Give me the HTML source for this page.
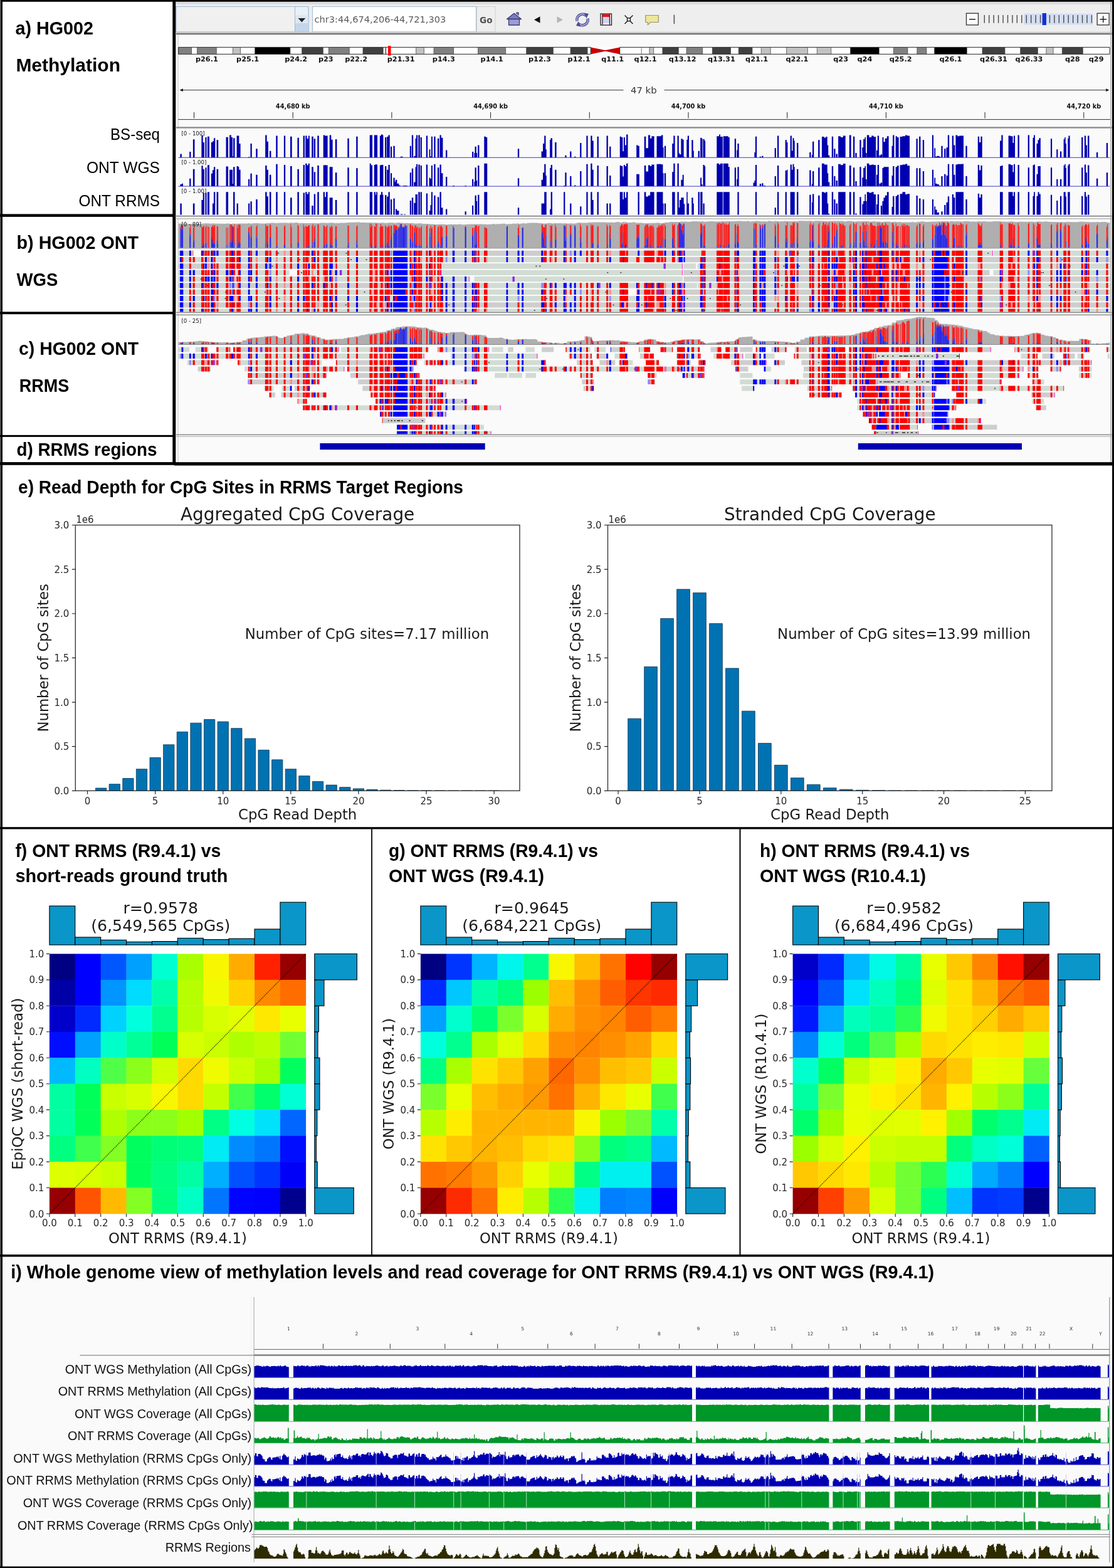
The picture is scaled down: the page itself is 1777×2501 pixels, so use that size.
<!DOCTYPE html>
<html lang="en">
<head>
<meta charset="utf-8">
<title>HG002 methylation: ONT RRMS vs WGS</title>
<style>
html,body{margin:0;padding:0;background:#fff}
body{width:1777px;height:2501px;overflow:hidden}
#fig{display:block;width:1777px;height:2501px;font-family:"Liberation Sans",sans-serif}
#fig text{white-space:pre}
</style>
</head>
<body>
<svg id="fig" role="img" aria-label="Figure: HG002 methylation, ONT RRMS versus WGS" width="1777" height="2501" viewBox="0 0 1777 2501">
<rect x="0" y="0" width="1777" height="2501" fill="#fff"/>
<g id="panel-igv"><rect x="281" y="3" width="1493" height="736" fill="#fafafa"/><g id="igv-toolbar"><rect x="281" y="3" width="1493" height="50" fill="#eeeeee"/><rect x="281" y="3" width="1493" height="4" fill="#dcdcdc"/><rect x="281" y="10.5" width="211" height="40" fill="#f0f0f0" stroke="#9db9d6" stroke-width="1"/><rect x="470.5" y="10.5" width="21.5" height="40" fill="#e9f0f8" stroke="#9db9d6" stroke-width="1"/><rect x="471" y="24" width="20.5" height="13" fill="#dbe7f3"/><rect x="471" y="37" width="20.5" height="13" fill="#c3d6ea"/><path d="M475.6 29h11.6l-5.8 6.4z" fill="#222"/><rect x="498.5" y="10.5" width="261" height="40" fill="#ffffff" stroke="#a9c1da" stroke-width="1.2"/><text x="501.5" y="36.4" font-size="14.6" font-family='"DejaVu Sans", "Liberation Sans", sans-serif' fill="#5a5a5a">chr3:44,674,206-44,721,303</text><rect x="760.5" y="10.5" width="29.5" height="40" fill="#eeeeee" stroke="#d0d0d0" stroke-width="1"/><text x="765" y="37" font-size="13.6" font-family='"DejaVu Sans", "Liberation Sans", sans-serif' font-weight="bold" fill="#505050">Go</text><g stroke="#3a3a78" stroke-width="1.3" stroke-linejoin="round"><path d="M808.5 30.5l11.5-9.3 11.5 9.3z" fill="#7c7cc0"/><path d="M811.5 30.5h17v9.5h-17z" fill="#9c9cd6"/><path d="M824 22.2v-2h3v4.5" fill="#7c7cc0"/></g><path d="M861.5 26.2v10.6l-9.5-5.3z" fill="#111"/><path d="M888.5 26.2v10.6l9.5-5.3z" fill="#b4b4b4"/><g fill="none" stroke="#4a4a8e" stroke-width="4.6" stroke-linecap="butt"><path d="M920.5 33.5a8.8 8.8 0 0 1 14.5-8.5"/><path d="M937.5 29.5a8.8 8.8 0 0 1-14.5 8.5"/></g><g fill="none" stroke="#9a9ad8" stroke-width="2.4"><path d="M920.5 33.5a8.8 8.8 0 0 1 14.5-8.5"/><path d="M937.5 29.5a8.8 8.8 0 0 1-14.5 8.5"/></g><path d="M931.5 20.5l7.5 1.5-3.5 7z" fill="#4a4a8e"/><path d="M926.5 42.5l-7.5-1.5 3.5-7z" fill="#4a4a8e"/><rect x="958" y="22" width="17.5" height="18" fill="#f4f0f8" stroke="#222" stroke-width="1.3"/><rect x="961" y="22.6" width="11.5" height="4.6" fill="#ee1111"/><rect x="961" y="27.4" width="11.5" height="9.4" fill="#d8d0f0"/><path d="M961 22.5v17M972.5 22.5v17" stroke="#222" stroke-width="1.3"/><g stroke="#222" stroke-width="1.5" fill="none"><path d="M996.5 24.5l4.3 4.3M1009.5 24.5l-4.3 4.3M996.5 38l4.3-4.3M1009.5 38l-4.3-4.3"/><rect x="1000.6" y="28.8" width="4.8" height="4.8" fill="#fff"/></g><path d="M1029.8 24.5h20.5v11h-12.5l-4.5 4v-4h-3.5z" fill="#ece79a" stroke="#9a9468" stroke-width="1.2" stroke-linejoin="round"/><rect x="1074.6" y="23.5" width="1.6" height="14.5" fill="#555"/><rect x="1541.5" y="21.2" width="19" height="18.6" fill="#fdfdfd" stroke="#333" stroke-width="1.3"/><rect x="1546" y="30" width="10" height="1.5" fill="#222"/><rect x="1633" y="21.7" width="110" height="17.7" fill="#d3def2"/><path d="M1570.3 24v12.8M1577.74 24v12.8M1585.18 24v12.8M1592.62 24v12.8M1600.06 24v12.8M1607.5 24v12.8M1614.94 24v12.8M1622.38 24v12.8M1629.82 24v12.8M1637.26 24v12.8M1644.7 24v12.8M1652.14 24v12.8M1659.58 24v12.8M1667.02 24v12.8M1674.46 24v12.8M1681.9 24v12.8M1689.34 24v12.8M1696.78 24v12.8M1704.22 24v12.8M1711.66 24v12.8M1719.1 24v12.8M1726.54 24v12.8M1733.98 24v12.8M1741.42 24v12.8" stroke="#4a4a4a" stroke-width="1.4" fill="none"/><rect x="1662.6" y="21" width="6.4" height="19" fill="#1030e0"/><rect x="1750.2" y="21.2" width="19" height="18.6" fill="#fdfdfd" stroke="#333" stroke-width="1.3"/><path d="M1754.5 30.7h10.5M1759.7 25.5v10.5" stroke="#222" stroke-width="1.5" fill="none"/><rect x="281" y="50.5" width="1493" height="2.2" fill="#d4d4d4"/><rect x="281" y="52.7" width="1493" height="2.6" fill="#777777"/></g><rect x="283.6" y="56" width="1" height="148" fill="#c8c8c8"/><g id="igv-ideogram"><rect x="284.6" y="75.4" width="1485.4" height="11" fill="#ffffff"/><rect x="284.6" y="75.4" width="20.97" height="11" fill="#818181"/><rect x="314.56" y="75.4" width="30.71" height="11" fill="#818181"/><rect x="371.49" y="75.4" width="11.99" height="11" fill="#c2c2c2"/><rect x="406.7" y="75.4" width="56.18" height="11" fill="#000000"/><rect x="481.6" y="75.4" width="33.71" height="11" fill="#404040"/><rect x="524.3" y="75.4" width="32.96" height="11" fill="#818181"/><rect x="578.98" y="75.4" width="32.21" height="11" fill="#404040"/><rect x="614.94" y="75.4" width="0.75" height="11" fill="#818181"/><rect x="663.63" y="75.4" width="12.73" height="11" fill="#c2c2c2"/><rect x="692.09" y="75.4" width="31.46" height="11" fill="#818181"/><rect x="762.5" y="75.4" width="44.19" height="11" fill="#818181"/><rect x="839.66" y="75.4" width="42.7" height="11" fill="#404040"/><rect x="910.07" y="75.4" width="26.97" height="11" fill="#404040"/><path d="M942.28 75.4L966 80.2V81.6L942.28 86.4z" fill="#c80000"/><path d="M988.72 75.4L965 80.2V81.6L988.72 86.4z" fill="#c80000"/><rect x="1035.91" y="75.4" width="6.74" height="11" fill="#c2c2c2"/><rect x="1056.89" y="75.4" width="25.47" height="11" fill="#404040"/><rect x="1095.09" y="75.4" width="25.47" height="11" fill="#818181"/><rect x="1136.29" y="75.4" width="29.21" height="11" fill="#404040"/><rect x="1178.24" y="75.4" width="21.72" height="11" fill="#404040"/><rect x="1214.19" y="75.4" width="14.98" height="11" fill="#c2c2c2"/><rect x="1254.64" y="75.4" width="33.71" height="11" fill="#c2c2c2"/><rect x="1303.33" y="75.4" width="22.47" height="11" fill="#c2c2c2"/><rect x="1356.51" y="75.4" width="45.69" height="11" fill="#000000"/><rect x="1425.43" y="75.4" width="22.47" height="11" fill="#818181"/><rect x="1462.88" y="75.4" width="14.98" height="11" fill="#818181"/><rect x="1490.6" y="75.4" width="51.69" height="11" fill="#000000"/><rect x="1567" y="75.4" width="35.96" height="11" fill="#404040"/><rect x="1627.68" y="75.4" width="27.72" height="11" fill="#404040"/><rect x="1668.88" y="75.4" width="11.24" height="11" fill="#c2c2c2"/><rect x="1694.34" y="75.4" width="32.96" height="11" fill="#404040"/><path d="M284.6 75.4H942.28V86.4H284.6z M988.72 75.4H1770V86.4H988.72z" fill="none" stroke="#2a2a2a" stroke-width="1"/><path d="M305.57 75.4v11M314.56 75.4v11M345.27 75.4v11M371.49 75.4v11M383.48 75.4v11M406.7 75.4v11M462.88 75.4v11M481.6 75.4v11M515.31 75.4v11M524.3 75.4v11M557.26 75.4v11M578.98 75.4v11M611.19 75.4v11M614.94 75.4v11M615.69 75.4v11M663.63 75.4v11M676.36 75.4v11M692.09 75.4v11M723.55 75.4v11M762.5 75.4v11M806.7 75.4v11M839.66 75.4v11M882.36 75.4v11M910.07 75.4v11M937.04 75.4v11M1023.18 75.4v11M1035.91 75.4v11M1042.66 75.4v11M1056.89 75.4v11M1082.36 75.4v11M1095.09 75.4v11M1120.56 75.4v11M1136.29 75.4v11M1165.5 75.4v11M1178.24 75.4v11M1199.96 75.4v11M1214.19 75.4v11M1229.17 75.4v11M1254.64 75.4v11M1288.35 75.4v11M1303.33 75.4v11M1325.8 75.4v11M1356.51 75.4v11M1402.21 75.4v11M1425.43 75.4v11M1447.9 75.4v11M1462.88 75.4v11M1477.86 75.4v11M1490.6 75.4v11M1542.28 75.4v11M1567 75.4v11M1602.96 75.4v11M1627.68 75.4v11M1655.39 75.4v11M1668.88 75.4v11M1680.11 75.4v11M1694.34 75.4v11M1727.3 75.4v11" stroke="#3a3a3a" stroke-width="0.7" fill="none"/><rect x="618.94" y="73.2" width="4.6" height="15.4" fill="#ff0000"/><text x="329.92" y="98.2" font-size="11.3" font-family='"DejaVu Sans", "Liberation Sans", sans-serif' font-weight="bold" text-anchor="middle" fill="#111">p26.1</text><text x="395.09" y="98.2" font-size="11.3" font-family='"DejaVu Sans", "Liberation Sans", sans-serif' font-weight="bold" text-anchor="middle" fill="#111">p25.1</text><text x="472.24" y="98.2" font-size="11.3" font-family='"DejaVu Sans", "Liberation Sans", sans-serif' font-weight="bold" text-anchor="middle" fill="#111">p24.2</text><text x="519.81" y="98.2" font-size="11.3" font-family='"DejaVu Sans", "Liberation Sans", sans-serif' font-weight="bold" text-anchor="middle" fill="#111">p23</text><text x="568.12" y="98.2" font-size="11.3" font-family='"DejaVu Sans", "Liberation Sans", sans-serif' font-weight="bold" text-anchor="middle" fill="#111">p22.2</text><text x="639.66" y="98.2" font-size="11.3" font-family='"DejaVu Sans", "Liberation Sans", sans-serif' font-weight="bold" text-anchor="middle" fill="#111">p21.31</text><text x="707.82" y="98.2" font-size="11.3" font-family='"DejaVu Sans", "Liberation Sans", sans-serif' font-weight="bold" text-anchor="middle" fill="#111">p14.3</text><text x="784.6" y="98.2" font-size="11.3" font-family='"DejaVu Sans", "Liberation Sans", sans-serif' font-weight="bold" text-anchor="middle" fill="#111">p14.1</text><text x="861.01" y="98.2" font-size="11.3" font-family='"DejaVu Sans", "Liberation Sans", sans-serif' font-weight="bold" text-anchor="middle" fill="#111">p12.3</text><text x="923.55" y="98.2" font-size="11.3" font-family='"DejaVu Sans", "Liberation Sans", sans-serif' font-weight="bold" text-anchor="middle" fill="#111">p12.1</text><text x="977.11" y="98.2" font-size="11.3" font-family='"DejaVu Sans", "Liberation Sans", sans-serif' font-weight="bold" text-anchor="middle" fill="#111">q11.1</text><text x="1029.55" y="98.2" font-size="11.3" font-family='"DejaVu Sans", "Liberation Sans", sans-serif' font-weight="bold" text-anchor="middle" fill="#111">q12.1</text><text x="1088.72" y="98.2" font-size="11.3" font-family='"DejaVu Sans", "Liberation Sans", sans-serif' font-weight="bold" text-anchor="middle" fill="#111">q13.12</text><text x="1150.9" y="98.2" font-size="11.3" font-family='"DejaVu Sans", "Liberation Sans", sans-serif' font-weight="bold" text-anchor="middle" fill="#111">q13.31</text><text x="1207.08" y="98.2" font-size="11.3" font-family='"DejaVu Sans", "Liberation Sans", sans-serif' font-weight="bold" text-anchor="middle" fill="#111">q21.1</text><text x="1271.5" y="98.2" font-size="11.3" font-family='"DejaVu Sans", "Liberation Sans", sans-serif' font-weight="bold" text-anchor="middle" fill="#111">q22.1</text><text x="1341.16" y="98.2" font-size="11.3" font-family='"DejaVu Sans", "Liberation Sans", sans-serif' font-weight="bold" text-anchor="middle" fill="#111">q23</text><text x="1379.36" y="98.2" font-size="11.3" font-family='"DejaVu Sans", "Liberation Sans", sans-serif' font-weight="bold" text-anchor="middle" fill="#111">q24</text><text x="1436.67" y="98.2" font-size="11.3" font-family='"DejaVu Sans", "Liberation Sans", sans-serif' font-weight="bold" text-anchor="middle" fill="#111">q25.2</text><text x="1516.44" y="98.2" font-size="11.3" font-family='"DejaVu Sans", "Liberation Sans", sans-serif' font-weight="bold" text-anchor="middle" fill="#111">q26.1</text><text x="1584.98" y="98.2" font-size="11.3" font-family='"DejaVu Sans", "Liberation Sans", sans-serif' font-weight="bold" text-anchor="middle" fill="#111">q26.31</text><text x="1641.53" y="98.2" font-size="11.3" font-family='"DejaVu Sans", "Liberation Sans", sans-serif' font-weight="bold" text-anchor="middle" fill="#111">q26.33</text><text x="1710.82" y="98.2" font-size="11.3" font-family='"DejaVu Sans", "Liberation Sans", sans-serif' font-weight="bold" text-anchor="middle" fill="#111">q28</text><text x="1748.65" y="98.2" font-size="11.3" font-family='"DejaVu Sans", "Liberation Sans", sans-serif' font-weight="bold" text-anchor="middle" fill="#111">q29</text></g><g id="igv-ruler"><line x1="288" y1="143.7" x2="994.5" y2="143.7" stroke="#333" stroke-width="1"/><line x1="1059.5" y1="143.7" x2="1766" y2="143.7" stroke="#333" stroke-width="1"/><path d="M286.6 143.7l5.2-2.4v4.8z" fill="#111"/><path d="M1769.4 143.7l-5.2-2.4v4.8z" fill="#111"/><text x="1026.8" y="149" font-size="14.9" font-family='"DejaVu Sans", "Liberation Sans", sans-serif' text-anchor="middle" fill="#333">47 kb</text><text x="467.2" y="172.8" font-size="9.8" font-family='"DejaVu Sans", "Liberation Sans", sans-serif' font-weight="bold" text-anchor="middle" fill="#111">44,680 kb</text><text x="782.6" y="172.8" font-size="9.8" font-family='"DejaVu Sans", "Liberation Sans", sans-serif' font-weight="bold" text-anchor="middle" fill="#111">44,690 kb</text><text x="1098" y="172.8" font-size="9.8" font-family='"DejaVu Sans", "Liberation Sans", sans-serif' font-weight="bold" text-anchor="middle" fill="#111">44,700 kb</text><text x="1413.4" y="172.8" font-size="9.8" font-family='"DejaVu Sans", "Liberation Sans", sans-serif' font-weight="bold" text-anchor="middle" fill="#111">44,710 kb</text><text x="1728.8" y="172.8" font-size="9.8" font-family='"DejaVu Sans", "Liberation Sans", sans-serif' font-weight="bold" text-anchor="middle" fill="#111">44,720 kb</text><path d="M309.5 179v9.6M467.2 179v9.6M624.9 179v9.6M782.6 179v9.6M940.3 179v9.6M1098 179v9.6M1255.7 179v9.6M1413.4 179v9.6M1571.1 179v9.6M1728.8 179v9.6" stroke="#222" stroke-width="1" fill="none"/><rect x="284" y="190" width="1487" height="1.1" fill="#444"/></g><rect x="281" y="202.3" width="1493" height="2.4" fill="#8c8c8c"/><g id="igv-bars"><path d="M287.39 251.2h2.46v-5.71h-2.46zM302.17 251.2h2.31v-9.28h-2.31zM307.86 251.2h2.62v-28.92h-2.62zM321.41 251.2h2.31v-35.34h-2.31zM323.72 251.2h2.16v-24.28h-2.16zM327.41 251.2h2.16v-32.13h-2.16zM330.95 251.2h3.08v-33.56h-3.08zM336.8 251.2h2.16v-24.28h-2.16zM338.96 251.2h2v-26.06h-2zM340.96 251.2h2.31v-31.06h-2.31zM345.58 251.2h2.62v-27.85h-2.62zM360.51 251.2h3.54v-32.49h-3.54zM366.05 251.2h2.92v-35.7h-2.92zM368.98 251.2h2v-32.13h-2zM370.98 251.2h1.08v-1.78h-1.08zM372.05 251.2h2.46v-31.06h-2.46zM377.6 251.2h2.31v-34.63h-2.31zM379.91 251.2h1.39v-34.63h-1.39zM381.29 251.2h2.31v-22.13h-2.31zM396.07 251.2h2.16v-1.07h-2.16zM399.46 251.2h2.31v-22.13h-2.31zM408.23 251.2h2.46v-13.92h-2.46zM423.16 251.2h2.46v-35.7h-2.46zM425.63 251.2h2.31v-25.35h-2.31zM429.94 251.2h2.46v-10.35h-2.46zM440.25 251.2h2.46v-34.63h-2.46zM452.87 251.2h2.31v-34.63h-2.31zM463.03 251.2h2.62v-33.56h-2.62zM474.42 251.2h2.46v-31.42h-2.46zM483.66 251.2h2.31v-34.63h-2.31zM487.2 251.2h2.31v-34.63h-2.31zM489.51 251.2h2.31v-29.99h-2.31zM491.82 251.2h2v-34.63h-2zM497.21 251.2h2.62v-33.56h-2.62zM500.75 251.2h2.31v-29.99h-2.31zM506.29 251.2h2.46v-34.63h-2.46zM515.68 251.2h2.31v-35.7h-2.31zM517.99 251.2h1.85v-34.63h-1.85zM519.84 251.2h2.77v-34.63h-2.77zM525.69 251.2h2.62v-35.7h-2.62zM528.3 251.2h2.31v-28.56h-2.31zM534.77 251.2h2.62v-28.92h-2.62zM554.32 251.2h2.46v-30.34h-2.46zM568.17 251.2h2.46v-33.56h-2.46zM589.73 251.2h2v-35.7h-2zM591.73 251.2h2.31v-35.7h-2.31zM596.81 251.2h2.16v-35.7h-2.16zM598.96 251.2h1.23v-35.7h-1.23zM600.19 251.2h1.85v-35.7h-1.85zM605.89 251.2h2v-34.63h-2zM607.89 251.2h2.31v-36.77h-2.31zM610.2 251.2h1.23v-35.7h-1.23zM614.05 251.2h2.31v-32.13h-2.31zM617.13 251.2h2.31v-33.2h-2.31zM619.44 251.2h2.31v-35.7h-2.31zM622.98 251.2h2.16v-17.49h-2.16zM627.44 251.2h2.31v-18.56h-2.31zM638.68 251.2h3.85v-1.43h-3.85zM653.77 251.2h2.16v-18.56h-2.16zM656.84 251.2h2.31v-35.7h-2.31zM660.23 251.2h2.31v-2.14h-2.31zM662.54 251.2h1.54v-30.34h-1.54zM664.08 251.2h2v-35.7h-2zM667.31 251.2h2.46v-35.7h-2.46zM670.7 251.2h2.16v-32.13h-2.16zM679.78 251.2h2.31v-34.63h-2.31zM684.55 251.2h1.85v-12.85h-1.85zM686.4 251.2h1.54v-1.78h-1.54zM687.94 251.2h2v-33.56h-2zM692.25 251.2h2.31v-33.56h-2.31zM697.95 251.2h2.31v-30.34h-2.31zM701.49 251.2h2.31v-35.7h-2.31zM703.8 251.2h2.62v-31.42h-2.62zM711.03 251.2h2.31v-11.78h-2.31zM753.06 251.2h2.16v-9.28h-2.16zM756.44 251.2h1.08v-7.14h-1.08zM757.52 251.2h2.31v-17.49h-2.31zM759.83 251.2h1.23v-7.14h-1.23zM762.14 251.2h2.31v-19.63h-2.31zM772.3 251.2h2.62v-33.56h-2.62zM774.92 251.2h2.31v-32.13h-2.31zM825.87 251.2h2.31v-13.92h-2.31zM863.59 251.2h2.46v-9.64h-2.46zM866.05 251.2h2.16v-22.13h-2.16zM868.21 251.2h2.31v-34.63h-2.31zM870.51 251.2h1.23v-12.85h-1.23zM877.13 251.2h1.54v-28.56h-1.54zM878.67 251.2h2.31v-31.06h-2.31zM885.14 251.2h2.46v-24.28h-2.46zM901.3 251.2h2.31v-3.57h-2.31zM909.15 251.2h2.31v-9.64h-2.31zM916.08 251.2h2.31v-1.43h-2.31zM925.16 251.2h2.31v-23.2h-2.31zM935.32 251.2h2.31v-34.63h-2.31zM942.25 251.2h2.31v-34.63h-2.31zM944.56 251.2h2.16v-26.77h-2.16zM952.57 251.2h2.31v-33.56h-2.31zM967.5 251.2h2.31v-34.63h-2.31zM972.12 251.2h2.31v-17.49h-2.31zM988.74 251.2h2.31v-33.56h-2.31zM991.05 251.2h2.31v-32.13h-2.31zM993.36 251.2h1.54v-10h-1.54zM994.9 251.2h2v-32.13h-2zM996.9 251.2h2.16v-19.63h-2.16zM999.06 251.2h2.46v-36.77h-2.46zM1015.22 251.2h2.31v-19.63h-2.31zM1017.53 251.2h2.31v-18.56h-2.31zM1027.69 251.2h2.62v-33.56h-2.62zM1030.31 251.2h3.69v-14.99h-3.69zM1034 251.2h3.08v-35.7h-3.08zM1037.08 251.2h2.31v-30.34h-2.31zM1039.39 251.2h4.16v-33.91h-4.16zM1047.55 251.2h7.24v-33.91h-7.24zM1054.78 251.2h2.62v-35.7h-2.62zM1057.4 251.2h1.23v-16.06h-1.23zM1059.86 251.2h2.31v-18.56h-2.31zM1072.18 251.2h2.16v-22.13h-2.16zM1074.33 251.2h2.31v-34.63h-2.31zM1080.49 251.2h2.31v-34.63h-2.31zM1082.8 251.2h1.23v-7.14h-1.23zM1084.03 251.2h2.31v-5h-2.31zM1086.34 251.2h2.31v-29.99h-2.31zM1088.65 251.2h2v-28.56h-2zM1090.65 251.2h1.54v-1.07h-1.54zM1095.27 251.2h1.54v-28.56h-1.54zM1096.81 251.2h2.16v-34.63h-2.16zM1103.27 251.2h2.31v-27.85h-2.31zM1105.58 251.2h1.23v-10.71h-1.23zM1113.59 251.2h2.31v-10.35h-2.31zM1117.13 251.2h2v-31.42h-2zM1119.13 251.2h1.39v-30.34h-1.39zM1121.44 251.2h2.31v-29.27h-2.31zM1123.75 251.2h1.39v-26.77h-1.39zM1143.3 251.2h3.85v-33.91h-3.85zM1147.15 251.2h1.85v-36.77h-1.85zM1148.99 251.2h3.85v-33.2h-3.85zM1153.77 251.2h8v-33.91h-8zM1161.77 251.2h2v-32.13h-2zM1171.78 251.2h2.31v-29.99h-2.31zM1175.32 251.2h1.08v-11.78h-1.08zM1176.4 251.2h2.31v-22.13h-2.31zM1203.33 251.2h1.54v-8.21h-1.54zM1204.87 251.2h2.31v-33.56h-2.31zM1211.8 251.2h2.31v-1.43h-2.31zM1215.19 251.2h2.31v-2.5h-2.31zM1235.66 251.2h2.31v-14.99h-2.31zM1239.97 251.2h2.31v-34.63h-2.31zM1252.6 251.2h2.31v-27.85h-2.31zM1254.91 251.2h1.54v-24.28h-1.54zM1260.6 251.2h2.31v-34.63h-2.31zM1262.91 251.2h1.54v-10.71h-1.54zM1264.45 251.2h2v-31.06h-2zM1266.45 251.2h1.23v-26.77h-1.23zM1271.07 251.2h2.31v-23.2h-2.31zM1291.24 251.2h2.31v-8.21h-2.31zM1295.08 251.2h0.92v-4.28h-0.92zM1296.01 251.2h2.31v-25.35h-2.31zM1305.09 251.2h2.46v-27.85h-2.46zM1310.94 251.2h3.85v-33.2h-3.85zM1314.79 251.2h2.31v-31.42h-2.31zM1317.1 251.2h2.62v-33.2h-2.62zM1319.71 251.2h1.54v-19.63h-1.54zM1321.25 251.2h2v-3.57h-2zM1326.8 251.2h2.31v-33.56h-2.31zM1330.18 251.2h2.31v-13.92h-2.31zM1333.57 251.2h2.46v-5.71h-2.46zM1337.11 251.2h3.85v-33.91h-3.85zM1340.96 251.2h3.85v-32.13h-3.85zM1344.81 251.2h3.85v-34.63h-3.85zM1354.81 251.2h2.77v-35.7h-2.77zM1360.97 251.2h2.31v-33.56h-2.31zM1364.36 251.2h2.31v-7.14h-2.31zM1371.28 251.2h2.31v-27.85h-2.31zM1375.29 251.2h1.85v-16.06h-1.85zM1377.13 251.2h2.31v-29.27h-2.31zM1379.44 251.2h1.54v-32.13h-1.54zM1380.98 251.2h1.54v-7.14h-1.54zM1382.83 251.2h3.54v-35.7h-3.54zM1386.37 251.2h3.85v-32.13h-3.85zM1390.22 251.2h3.39v-34.63h-3.39zM1393.61 251.2h3.54v-32.84h-3.54zM1397.92 251.2h1.85v-11.42h-1.85zM1399.76 251.2h2.31v-34.63h-2.31zM1402.53 251.2h2.31v-3.57h-2.31zM1404.84 251.2h2.31v-5h-2.31zM1407.46 251.2h2v-32.13h-2zM1409.46 251.2h2.31v-24.99h-2.31zM1411.77 251.2h3.08v-30.34h-3.08zM1414.85 251.2h2.77v-33.91h-2.77zM1422.55 251.2h1.54v-18.56h-1.54zM1424.09 251.2h2.31v-35.7h-2.31zM1428.7 251.2h2.31v-33.91h-2.31zM1431.01 251.2h2.62v-32.13h-2.62zM1435.63 251.2h3.85v-33.2h-3.85zM1439.48 251.2h4.62v-33.91h-4.62zM1444.1 251.2h3.08v-35.7h-3.08zM1447.18 251.2h3.85v-34.63h-3.85zM1461.49 251.2h2.31v-29.99h-2.31zM1466.11 251.2h2.31v-33.56h-2.31zM1471.81 251.2h2.31v-27.85h-2.31zM1486.89 251.2h2.16v-35.7h-2.16zM1490.28 251.2h1.85v-14.99h-1.85zM1492.13 251.2h2.46v-1.43h-2.46zM1494.59 251.2h3.39v-2.5h-3.39zM1497.98 251.2h2.31v-1.43h-2.31zM1501.36 251.2h2.31v-18.56h-2.31zM1506.14 251.2h2.31v-13.92h-2.31zM1509.52 251.2h2.31v-16.06h-2.31zM1511.83 251.2h2.31v-35.7h-2.31zM1518.76 251.2h2.31v-34.63h-2.31zM1521.07 251.2h2.31v-19.63h-2.31zM1524.46 251.2h2.77v-35.7h-2.77zM1527.23 251.2h3.08v-33.91h-3.08zM1530.31 251.2h3.69v-34.63h-3.69zM1534 251.2h3.01v-34.63h-3.01zM1540.39 251.2h2.31v-18.56h-2.31zM1559.79 251.2h2.31v-33.56h-2.31zM1562.1 251.2h2.31v-24.28h-2.31zM1564.41 251.2h2.31v-33.56h-2.31zM1595.04 251.2h2.31v-26.77h-2.31zM1597.35 251.2h2.31v-35.7h-2.31zM1608.59 251.2h3.39v-34.63h-3.39zM1611.98 251.2h3.54v-33.91h-3.54zM1615.52 251.2h1.54v-23.2h-1.54zM1617.06 251.2h2v-34.63h-2zM1623.52 251.2h2.31v-35.7h-2.31zM1639.68 251.2h2.31v-35.7h-2.31zM1647.54 251.2h1.54v-31.42h-1.54zM1649.08 251.2h1.85v-35.7h-1.85zM1653.54 251.2h2v-22.13h-2zM1655.54 251.2h2v-27.85h-2zM1657.54 251.2h2.31v-31.06h-2.31zM1676.01 251.2h2.16v-29.99h-2.16zM1685.25 251.2h2.16v-12.85h-2.16zM1690.95 251.2h2.31v-9.64h-2.31zM1696.64 251.2h1.54v-29.27h-1.54zM1698.18 251.2h1.54v-32.13h-1.54zM1699.72 251.2h1.23v-22.13h-1.23zM1703.26 251.2h1.23v-30.34h-1.23zM1704.49 251.2h2.16v-34.63h-2.16zM1725.12 251.2h2.31v-32.13h-2.31zM1729.89 251.2h2.16v-34.63h-2.16zM1732.05 251.2h2v-19.63h-2zM1735.13 251.2h2.31v-34.63h-2.31zM1748.98 251.2h2.31v-8.21h-2.31zM1764.84 251.2h2.31v-23.2h-2.31z" fill="#0000b0"/><rect x="284.5" y="250.8" width="1485.8" height="1" fill="#3a3ad0"/><text x="289.5" y="216.4" font-size="8.6" font-family='"DejaVu Sans", "Liberation Sans", sans-serif' fill="#111">[0 - 100]</text><path d="M287.39 297h2.46v-2.9h-2.46zM289.85 297h2.16v-4.36h-2.16zM302.17 297h2.31v-12.34h-2.31zM307.86 297h2.62v-27.23h-2.62zM321.41 297h2.31v-32.67h-2.31zM323.72 297h2.16v-27.23h-2.16zM327.41 297h2.16v-29.77h-2.16zM330.95 297h3.08v-33.76h-3.08zM336.8 297h2.16v-20.33h-2.16zM338.96 297h2v-25.77h-2zM340.96 297h2.31v-30.86h-2.31zM345.58 297h2.62v-27.23h-2.62zM360.51 297h3.54v-31.58h-3.54zM366.05 297h2.92v-26.14h-2.92zM368.98 297h2v-26.14h-2zM370.98 297h1.08v-3.63h-1.08zM372.05 297h2.46v-30.86h-2.46zM377.6 297h2.31v-31.94h-2.31zM379.91 297h1.39v-30.86h-1.39zM381.29 297h2.31v-26.14h-2.31zM396.07 297h2.16v-11.25h-2.16zM399.46 297h2.31v-20.33h-2.31zM408.23 297h2.46v-18.15h-2.46zM423.16 297h2.46v-33.03h-2.46zM425.63 297h2.31v-26.14h-2.31zM429.94 297h2.46v-18.15h-2.46zM440.25 297h2.46v-35.21h-2.46zM452.87 297h2.31v-34.12h-2.31zM463.03 297h2.62v-31.94h-2.62zM474.42 297h2.46v-27.23h-2.46zM483.66 297h2.31v-34.12h-2.31zM487.2 297h2.31v-36.3h-2.31zM489.51 297h2.31v-33.4h-2.31zM491.82 297h2v-36.3h-2zM497.21 297h2.62v-30.86h-2.62zM500.75 297h2.31v-22.87h-2.31zM506.29 297h2.46v-33.03h-2.46zM515.68 297h2.31v-33.4h-2.31zM517.99 297h1.85v-33.76h-1.85zM519.84 297h2.77v-33.4h-2.77zM525.69 297h2.62v-30.86h-2.62zM528.3 297h2.31v-30.86h-2.31zM534.77 297h2.62v-21.78h-2.62zM554.32 297h2.46v-29.77h-2.46zM568.17 297h2.46v-28.68h-2.46zM589.73 297h2v-36.3h-2zM591.73 297h2.31v-33.4h-2.31zM596.81 297h2.16v-34.12h-2.16zM598.96 297h1.23v-35.21h-1.23zM600.19 297h1.85v-34.49h-1.85zM605.89 297h2v-33.4h-2zM607.89 297h2.31v-34.12h-2.31zM610.2 297h1.23v-34.12h-1.23zM614.05 297h2.31v-31.94h-2.31zM617.13 297h2.31v-26.14h-2.31zM619.44 297h2.31v-34.12h-2.31zM622.98 297h2.16v-20.69h-2.16zM627.44 297h2.31v-13.43h-2.31zM629.75 297h1.23v-7.26h-1.23zM630.98 297h2.31v-10.16h-2.31zM633.29 297h3.08v-4.36h-3.08zM636.37 297h2.31v-1.45h-2.31zM642.53 297h2v-1.09h-2zM644.53 297h2.16v-1.09h-2.16zM646.68 297h3.08v-1.09h-3.08zM653.77 297h2.16v-21.78h-2.16zM656.84 297h2.31v-28.31h-2.31zM660.23 297h2.31v-6.53h-2.31zM662.54 297h1.54v-30.86h-1.54zM664.08 297h2v-35.21h-2zM667.31 297h2.46v-34.49h-2.46zM670.7 297h2.16v-33.03h-2.16zM679.78 297h2.31v-34.49h-2.31zM684.55 297h1.85v-13.43h-1.85zM686.4 297h1.54v-11.98h-1.54zM687.94 297h2v-33.03h-2zM692.25 297h2.31v-35.21h-2.31zM697.95 297h2.31v-29.77h-2.31zM701.49 297h2.31v-34.49h-2.31zM703.8 297h2.62v-20.69h-2.62zM711.03 297h2.31v-14.88h-2.31zM722.12 297h2.77v-1.09h-2.77zM741.51 297h2.31v-1.09h-2.31zM753.06 297h2.16v-11.25h-2.16zM756.44 297h1.08v-7.26h-1.08zM757.52 297h2.31v-29.77h-2.31zM759.83 297h1.23v-9.07h-1.23zM762.14 297h2.31v-33.03h-2.31zM772.3 297h2.62v-36.3h-2.62zM774.92 297h2.31v-36.3h-2.31zM825.87 297h2.31v-12.7h-2.31zM863.59 297h2.46v-10.16h-2.46zM866.05 297h2.16v-21.78h-2.16zM868.21 297h2.31v-35.21h-2.31zM870.51 297h1.23v-17.06h-1.23zM877.13 297h1.54v-29.04h-1.54zM878.67 297h2.31v-34.12h-2.31zM885.14 297h2.46v-26.14h-2.46zM899.15 297h2.16v-1.09h-2.16zM901.3 297h2.31v-21.78h-2.31zM909.15 297h2.31v-15.97h-2.31zM916.08 297h2.31v-1.45h-2.31zM925.16 297h2.31v-23.96h-2.31zM935.32 297h2.31v-35.21h-2.31zM942.25 297h2.31v-36.3h-2.31zM944.56 297h2.16v-26.14h-2.16zM952.57 297h2.31v-33.03h-2.31zM967.5 297h2.31v-31.94h-2.31zM972.12 297h2.31v-17.06h-2.31zM988.74 297h2.31v-33.03h-2.31zM991.05 297h2.31v-31.94h-2.31zM993.36 297h1.54v-15.61h-1.54zM994.9 297h2v-34.12h-2zM996.9 297h2.16v-31.94h-2.16zM999.06 297h2.46v-36.3h-2.46zM1015.22 297h2.31v-19.24h-2.31zM1017.53 297h2.31v-19.24h-2.31zM1027.69 297h2.62v-33.03h-2.62zM1030.31 297h3.69v-23.6h-3.69zM1034 297h3.08v-33.4h-3.08zM1037.08 297h2.31v-31.94h-2.31zM1039.39 297h4.16v-34.49h-4.16zM1047.55 297h7.24v-35.21h-7.24zM1054.78 297h2.62v-34.85h-2.62zM1057.4 297h1.23v-20.69h-1.23zM1059.86 297h2.31v-20.69h-2.31zM1072.18 297h2.16v-22.87h-2.16zM1074.33 297h2.31v-36.3h-2.31zM1080.49 297h2.31v-36.3h-2.31zM1086.34 297h2.31v-10.16h-2.31zM1088.65 297h2v-18.15h-2zM1117.13 297h2v-13.43h-2zM1119.13 297h1.39v-2.9h-1.39zM1121.44 297h2.31v-34.12h-2.31zM1123.75 297h1.39v-31.94h-1.39zM1143.3 297h3.85v-36.3h-3.85zM1147.15 297h1.85v-34.49h-1.85zM1148.99 297h3.85v-36.3h-3.85zM1153.77 297h8v-36.3h-8zM1161.77 297h2v-30.86h-2zM1171.78 297h2.31v-29.77h-2.31zM1175.32 297h1.08v-11.25h-1.08zM1176.4 297h2.31v-30.86h-2.31zM1201.49 297h1.85v-5.44h-1.85zM1203.33 297h1.54v-9.07h-1.54zM1204.87 297h2.31v-34.12h-2.31zM1211.8 297h2.31v-3.63h-2.31zM1215.19 297h2.31v-4.72h-2.31zM1218.42 297h2.62v-1.09h-2.62zM1235.66 297h2.31v-15.97h-2.31zM1239.97 297h2.31v-33.03h-2.31zM1252.6 297h2.31v-25.05h-2.31zM1254.91 297h1.54v-26.14h-1.54zM1260.6 297h2.31v-34.49h-2.31zM1262.91 297h1.54v-26.14h-1.54zM1264.45 297h2v-35.21h-2zM1266.45 297h1.23v-30.86h-1.23zM1271.07 297h2.31v-27.23h-2.31zM1291.24 297h2.31v-25.41h-2.31zM1295.08 297h0.92v-3.63h-0.92zM1296.01 297h2.31v-23.96h-2.31zM1305.09 297h2.46v-29.77h-2.46zM1310.94 297h3.85v-36.3h-3.85zM1314.79 297h2.31v-34.49h-2.31zM1317.1 297h2.62v-34.49h-2.62zM1319.71 297h1.54v-20.69h-1.54zM1321.25 297h2v-6.53h-2zM1326.8 297h2.31v-31.94h-2.31zM1330.18 297h2.31v-15.97h-2.31zM1333.57 297h2.46v-9.07h-2.46zM1337.11 297h3.85v-35.21h-3.85zM1340.96 297h3.85v-33.76h-3.85zM1344.81 297h3.85v-35.94h-3.85zM1354.81 297h2.77v-33.03h-2.77zM1360.97 297h2.31v-29.77h-2.31zM1364.36 297h2.31v-7.99h-2.31zM1371.28 297h2.31v-30.86h-2.31zM1375.29 297h1.85v-13.79h-1.85zM1377.13 297h2.31v-29.04h-2.31zM1379.44 297h1.54v-31.94h-1.54zM1380.98 297h1.54v-10.89h-1.54zM1382.83 297h3.54v-36.3h-3.54zM1386.37 297h3.85v-33.76h-3.85zM1390.22 297h3.39v-34.49h-3.39zM1393.61 297h3.54v-33.76h-3.54zM1397.92 297h1.85v-18.15h-1.85zM1399.76 297h2.31v-34.12h-2.31zM1402.53 297h2.31v-4.36h-2.31zM1404.84 297h2.31v-5.81h-2.31zM1407.46 297h2v-29.04h-2zM1409.46 297h2.31v-30.86h-2.31zM1411.77 297h3.08v-30.86h-3.08zM1414.85 297h2.77v-30.86h-2.77zM1422.55 297h1.54v-17.06h-1.54zM1424.09 297h2.31v-31.94h-2.31zM1428.7 297h2.31v-30.86h-2.31zM1431.01 297h2.62v-32.67h-2.62zM1435.63 297h3.85v-33.76h-3.85zM1439.48 297h4.62v-34.49h-4.62zM1444.1 297h3.08v-35.57h-3.08zM1447.18 297h3.85v-32.67h-3.85zM1461.49 297h2.31v-28.68h-2.31zM1466.11 297h2.31v-28.68h-2.31zM1471.81 297h2.31v-23.96h-2.31zM1486.89 297h2.16v-26.14h-2.16zM1490.28 297h1.85v-13.43h-1.85zM1492.13 297h2.46v-4.36h-2.46zM1494.59 297h3.39v-2.9h-3.39zM1497.98 297h2.31v-1.09h-2.31zM1501.36 297h2.31v-15.97h-2.31zM1506.14 297h2.31v-19.24h-2.31zM1509.52 297h2.31v-17.06h-2.31zM1511.83 297h2.31v-35.21h-2.31zM1518.76 297h2.31v-35.21h-2.31zM1521.07 297h2.31v-18.15h-2.31zM1524.46 297h2.77v-34.49h-2.77zM1527.23 297h3.08v-35.21h-3.08zM1530.31 297h3.69v-35.21h-3.69zM1534 297h3.01v-35.57h-3.01zM1540.39 297h2.31v-15.97h-2.31zM1559.79 297h2.31v-34.12h-2.31zM1562.1 297h2.31v-25.41h-2.31zM1564.41 297h2.31v-33.03h-2.31zM1595.04 297h2.31v-31.94h-2.31zM1597.35 297h2.31v-33.03h-2.31zM1608.59 297h3.39v-35.21h-3.39zM1611.98 297h3.54v-33.76h-3.54zM1615.52 297h1.54v-22.51h-1.54zM1617.06 297h2v-35.21h-2zM1623.52 297h2.31v-34.12h-2.31zM1639.68 297h2.31v-29.77h-2.31zM1647.54 297h1.54v-33.4h-1.54zM1649.08 297h1.85v-34.49h-1.85zM1653.54 297h2v-19.24h-2zM1655.54 297h2v-31.94h-2zM1657.54 297h2.31v-31.94h-2.31zM1676.01 297h2.16v-29.77h-2.16zM1685.25 297h2.16v-11.25h-2.16zM1690.95 297h2.31v-11.25h-2.31zM1696.64 297h1.54v-33.03h-1.54zM1698.18 297h1.54v-35.21h-1.54zM1699.72 297h1.23v-29.04h-1.23zM1703.26 297h1.23v-32.67h-1.23zM1704.49 297h2.16v-35.21h-2.16zM1725.12 297h2.31v-29.77h-2.31zM1729.89 297h2.16v-34.49h-2.16zM1732.05 297h2v-21.78h-2zM1735.13 297h2.31v-33.4h-2.31zM1748.98 297h2.31v-12.34h-2.31zM1764.84 297h2.31v-21.78h-2.31z" fill="#0000b0"/><rect x="284.5" y="296.6" width="1485.8" height="1" fill="#3a3ad0"/><text x="289.5" y="262.3" font-size="8.6" font-family='"DejaVu Sans", "Liberation Sans", sans-serif' fill="#111">[0 - 1.00]</text><path d="M287.39 342.6h2.46v-18.15h-2.46zM307.86 342.6h2.62v-18.15h-2.62zM321.41 342.6h2.31v-23.6h-2.31zM323.72 342.6h2.16v-35.21h-2.16zM327.41 342.6h2.16v-35.21h-2.16zM330.95 342.6h3.08v-36.3h-3.08zM338.96 342.6h2v-18.15h-2zM340.96 342.6h2.31v-36.3h-2.31zM345.58 342.6h2.62v-36.3h-2.62zM360.51 342.6h3.54v-36.3h-3.54zM372.05 342.6h2.46v-36.3h-2.46zM377.6 342.6h2.31v-18.15h-2.31zM396.07 342.6h2.16v-18.15h-2.16zM399.46 342.6h2.31v-21.42h-2.31zM408.23 342.6h2.46v-24.68h-2.46zM423.16 342.6h2.46v-36.3h-2.46zM425.63 342.6h2.31v-29.4h-2.31zM429.94 342.6h2.46v-36.3h-2.46zM440.25 342.6h2.46v-36.3h-2.46zM452.87 342.6h2.31v-36.3h-2.31zM463.03 342.6h2.62v-27.23h-2.62zM474.42 342.6h2.46v-36.3h-2.46zM483.66 342.6h2.31v-35.21h-2.31zM487.2 342.6h2.31v-36.3h-2.31zM489.51 342.6h2.31v-33.03h-2.31zM491.82 342.6h2v-36.3h-2zM497.21 342.6h2.62v-14.52h-2.62zM500.75 342.6h2.31v-33.03h-2.31zM506.29 342.6h2.46v-36.3h-2.46zM515.68 342.6h2.31v-36.3h-2.31zM517.99 342.6h1.85v-28.31h-1.85zM519.84 342.6h2.77v-36.3h-2.77zM525.69 342.6h2.62v-27.23h-2.62zM528.3 342.6h2.31v-27.23h-2.31zM534.77 342.6h2.62v-23.6h-2.62zM554.32 342.6h2.46v-36.3h-2.46zM568.17 342.6h2.46v-36.3h-2.46zM589.73 342.6h2v-36.3h-2zM591.73 342.6h2.31v-36.3h-2.31zM596.81 342.6h2.16v-36.3h-2.16zM598.96 342.6h1.23v-31.94h-1.23zM600.19 342.6h1.85v-36.3h-1.85zM605.89 342.6h2v-31.94h-2zM607.89 342.6h2.31v-36.3h-2.31zM610.2 342.6h1.23v-31.94h-1.23zM614.05 342.6h2.31v-31.58h-2.31zM617.13 342.6h2.31v-29.04h-2.31zM619.44 342.6h2.31v-36.3h-2.31zM622.98 342.6h2.16v-24.68h-2.16zM627.44 342.6h2.31v-26.14h-2.31zM630.98 342.6h2.31v-9.07h-2.31zM633.29 342.6h3.08v-6.53h-3.08zM638.68 342.6h3.85v-1.09h-3.85zM644.53 342.6h2.16v-1.09h-2.16zM653.77 342.6h2.16v-22.51h-2.16zM656.84 342.6h2.31v-27.23h-2.31zM660.23 342.6h2.31v-18.88h-2.31zM662.54 342.6h1.54v-32.67h-1.54zM664.08 342.6h2v-32.67h-2zM667.31 342.6h2.46v-36.3h-2.46zM670.7 342.6h2.16v-36.3h-2.16zM679.78 342.6h2.31v-34.12h-2.31zM684.55 342.6h1.85v-6.53h-1.85zM686.4 342.6h1.54v-15.61h-1.54zM687.94 342.6h2v-36.3h-2zM692.25 342.6h2.31v-30.86h-2.31zM697.95 342.6h2.31v-28.31h-2.31zM701.49 342.6h2.31v-36.3h-2.31zM703.8 342.6h2.62v-11.25h-2.62zM711.03 342.6h2.31v-9.07h-2.31zM741.51 342.6h2.31v-5.44h-2.31zM753.06 342.6h2.16v-14.88h-2.16zM757.52 342.6h2.31v-30.86h-2.31zM759.83 342.6h1.23v-21.78h-1.23zM762.14 342.6h2.31v-31.94h-2.31zM772.3 342.6h2.62v-36.3h-2.62zM774.92 342.6h2.31v-36.3h-2.31zM825.87 342.6h2.31v-11.25h-2.31zM863.59 342.6h2.46v-18.15h-2.46zM866.05 342.6h2.16v-18.15h-2.16zM868.21 342.6h2.31v-36.3h-2.31zM870.51 342.6h1.23v-36.3h-1.23zM877.13 342.6h1.54v-9.07h-1.54zM878.67 342.6h2.31v-36.3h-2.31zM899.15 342.6h2.16v-36.3h-2.16zM909.15 342.6h2.31v-18.15h-2.31zM925.16 342.6h2.31v-13.43h-2.31zM935.32 342.6h2.31v-36.3h-2.31zM942.25 342.6h2.31v-36.3h-2.31zM944.56 342.6h2.16v-23.6h-2.16zM952.57 342.6h2.31v-36.3h-2.31zM967.5 342.6h2.31v-18.15h-2.31zM972.12 342.6h2.31v-18.15h-2.31zM988.74 342.6h2.31v-36.3h-2.31zM991.05 342.6h2.31v-36.3h-2.31zM993.36 342.6h1.54v-24.68h-1.54zM994.9 342.6h2v-36.3h-2zM996.9 342.6h2.16v-27.23h-2.16zM999.06 342.6h2.46v-36.3h-2.46zM1017.53 342.6h2.31v-36.3h-2.31zM1027.69 342.6h2.62v-36.3h-2.62zM1030.31 342.6h3.69v-29.04h-3.69zM1034 342.6h3.08v-30.86h-3.08zM1037.08 342.6h2.31v-36.3h-2.31zM1039.39 342.6h4.16v-36.3h-4.16zM1047.55 342.6h7.24v-36.3h-7.24zM1054.78 342.6h2.62v-36.3h-2.62zM1057.4 342.6h1.23v-18.15h-1.23zM1059.86 342.6h2.31v-18.15h-2.31zM1072.18 342.6h2.16v-36.3h-2.16zM1074.33 342.6h2.31v-36.3h-2.31zM1080.49 342.6h2.31v-36.3h-2.31zM1082.8 342.6h1.23v-11.62h-1.23zM1084.03 342.6h2.31v-23.6h-2.31zM1086.34 342.6h2.31v-27.23h-2.31zM1088.65 342.6h2v-27.23h-2zM1090.65 342.6h1.54v-17.42h-1.54zM1095.27 342.6h1.54v-36.3h-1.54zM1096.81 342.6h2.16v-18.15h-2.16zM1103.27 342.6h2.31v-27.23h-2.31zM1105.58 342.6h1.23v-18.15h-1.23zM1113.59 342.6h2.31v-36.3h-2.31zM1117.13 342.6h2v-36.3h-2zM1119.13 342.6h1.39v-36.3h-1.39zM1121.44 342.6h2.31v-18.15h-2.31zM1143.3 342.6h3.85v-36.3h-3.85zM1147.15 342.6h1.85v-36.3h-1.85zM1148.99 342.6h3.85v-36.3h-3.85zM1153.77 342.6h8v-36.3h-8zM1161.77 342.6h2v-36.3h-2zM1176.4 342.6h2.31v-36.3h-2.31zM1204.87 342.6h2.31v-36.3h-2.31zM1235.66 342.6h2.31v-11.25h-2.31zM1239.97 342.6h2.31v-36.3h-2.31zM1252.6 342.6h2.31v-36.3h-2.31zM1260.6 342.6h2.31v-36.3h-2.31zM1262.91 342.6h1.54v-36.3h-1.54zM1264.45 342.6h2v-36.3h-2zM1266.45 342.6h1.23v-36.3h-1.23zM1271.07 342.6h2.31v-36.3h-2.31zM1291.24 342.6h2.31v-31.94h-2.31zM1295.08 342.6h0.92v-19.97h-0.92zM1296.01 342.6h2.31v-33.03h-2.31zM1305.09 342.6h2.46v-30.86h-2.46zM1310.94 342.6h3.85v-36.3h-3.85zM1314.79 342.6h2.31v-35.21h-2.31zM1317.1 342.6h2.62v-36.3h-2.62zM1319.71 342.6h1.54v-18.15h-1.54zM1321.25 342.6h2v-1.81h-2zM1326.8 342.6h2.31v-36.3h-2.31zM1330.18 342.6h2.31v-24.68h-2.31zM1333.57 342.6h2.46v-18.15h-2.46zM1337.11 342.6h3.85v-36.3h-3.85zM1340.96 342.6h3.85v-36.3h-3.85zM1344.81 342.6h3.85v-36.3h-3.85zM1354.81 342.6h2.77v-36.3h-2.77zM1360.97 342.6h2.31v-36.3h-2.31zM1364.36 342.6h2.31v-2.18h-2.31zM1371.28 342.6h2.31v-28.31h-2.31zM1375.29 342.6h1.85v-17.06h-1.85zM1377.13 342.6h2.31v-21.78h-2.31zM1379.44 342.6h1.54v-32.67h-1.54zM1380.98 342.6h1.54v-21.78h-1.54zM1382.83 342.6h3.54v-36.3h-3.54zM1386.37 342.6h3.85v-35.21h-3.85zM1390.22 342.6h3.39v-36.3h-3.39zM1393.61 342.6h3.54v-32.67h-3.54zM1397.92 342.6h1.85v-16.7h-1.85zM1399.76 342.6h2.31v-32.67h-2.31zM1404.84 342.6h2.31v-14.52h-2.31zM1407.46 342.6h2v-21.78h-2zM1409.46 342.6h2.31v-27.23h-2.31zM1411.77 342.6h3.08v-30.86h-3.08zM1414.85 342.6h2.77v-36.3h-2.77zM1422.55 342.6h1.54v-12.7h-1.54zM1424.09 342.6h2.31v-29.77h-2.31zM1428.7 342.6h2.31v-29.77h-2.31zM1431.01 342.6h2.62v-31.94h-2.62zM1435.63 342.6h3.85v-33.4h-3.85zM1439.48 342.6h4.62v-36.3h-4.62zM1444.1 342.6h3.08v-32.67h-3.08zM1447.18 342.6h3.85v-33.4h-3.85zM1461.49 342.6h2.31v-30.49h-2.31zM1466.11 342.6h2.31v-26.14h-2.31zM1471.81 342.6h2.31v-24.68h-2.31zM1486.89 342.6h2.16v-24.68h-2.16zM1490.28 342.6h1.85v-13.43h-1.85zM1492.13 342.6h2.46v-7.99h-2.46zM1494.59 342.6h3.39v-3.63h-3.39zM1501.36 342.6h2.31v-5.44h-2.31zM1506.14 342.6h2.31v-15.61h-2.31zM1509.52 342.6h2.31v-19.97h-2.31zM1511.83 342.6h2.31v-29.4h-2.31zM1518.76 342.6h2.31v-32.67h-2.31zM1521.07 342.6h2.31v-27.23h-2.31zM1524.46 342.6h2.77v-36.3h-2.77zM1527.23 342.6h3.08v-36.3h-3.08zM1530.31 342.6h3.69v-36.3h-3.69zM1534 342.6h3.01v-36.3h-3.01zM1540.39 342.6h2.31v-24.68h-2.31zM1559.79 342.6h2.31v-33.76h-2.31zM1562.1 342.6h2.31v-27.23h-2.31zM1564.41 342.6h2.31v-32.67h-2.31zM1595.04 342.6h2.31v-36.3h-2.31zM1597.35 342.6h2.31v-36.3h-2.31zM1608.59 342.6h3.39v-36.3h-3.39zM1611.98 342.6h3.54v-36.3h-3.54zM1615.52 342.6h1.54v-29.77h-1.54zM1617.06 342.6h2v-36.3h-2zM1623.52 342.6h2.31v-36.3h-2.31zM1639.68 342.6h2.31v-36.3h-2.31zM1647.54 342.6h1.54v-29.77h-1.54zM1649.08 342.6h1.85v-36.3h-1.85zM1653.54 342.6h2v-29.77h-2zM1655.54 342.6h2v-36.3h-2zM1657.54 342.6h2.31v-33.03h-2.31zM1676.01 342.6h2.16v-31.94h-2.16zM1685.25 342.6h2.16v-22.51h-2.16zM1690.95 342.6h2.31v-29.77h-2.31zM1696.64 342.6h1.54v-36.3h-1.54zM1698.18 342.6h1.54v-36.3h-1.54zM1699.72 342.6h1.23v-29.04h-1.23zM1703.26 342.6h1.23v-36.3h-1.23zM1704.49 342.6h2.16v-36.3h-2.16zM1725.12 342.6h2.31v-29.77h-2.31zM1729.89 342.6h2.16v-36.3h-2.16zM1732.05 342.6h2v-29.04h-2zM1735.13 342.6h2.31v-31.94h-2.31z" fill="#0000b0"/><text x="289.5" y="308.3" font-size="8.6" font-family='"DejaVu Sans", "Liberation Sans", sans-serif' fill="#111">[0 - 1.00]</text></g><rect x="281" y="343.6" width="1493" height="2.2" fill="#9a9a9a"/><rect x="281" y="348.2" width="1493" height="1.4" fill="#b4b4b4"/><rect x="283.6" y="349" width="1" height="390" fill="#c8c8c8"/><g id="wgs-coverage"><path d="M284.5 395.4V356.4h4V356.7h5V356.5h2V357h2V356.4h2V357.3h3V356.9h5V357.2h3V357.2h5V357.1h7V356.6h3V356.3h7V356.6h7V356.2h2V356.6h2V356.8h3V356.6h3V356.8h7V357h3V356.4h7V356.9h4V356.5h2V356.8h7V356.5h7V356.5h4V356.6h5V356.1h3V356.8h3V356.3h4V356.1h4V356.1h4V356.6h2V356.5h5V356.4h4V356.1h5V355.7h2V355.6h7V356h4V355.7h4V355.4h7V355.3h2V355.6h4V356h2V355.3h4V355.6h5V355h5V356h4V355.7h5V356h7V355.9h2V356h4V355.8h3V356.1h5V355.9h5V355.4h4V355.5h5V355.7h4V355.6h4V355.2h5V356h3V355.7h3V355.9h3V355.6h7V355.6h4V355h5V354.8h7V354.7h3V354.5h7V355h2V355.1h7V355.2h5V355h5V355.4h2V355.2h3V355.3h2V355.6h2V355.5h7V354.8h2V355.7h7V355.2h3V355.2h3V355.2h4V355.7h5V354.9h5V355.5h5V356h4V355.5h2V355.9h4V356h3V355.7h3V356.5h7V356.2h7V357.1h7V356.9h2V357.2h4V357.5h3V357.5h3V357.9h7V357.8h3V357.6h3V357.7h5V358.2h3V358h5V357.4h2V357.9h4V357.7h3V358h4V357.4h4V358.3h4V358.2h2V358.1h3V357.8h5V357.6h7V357.5h5V357.6h4V357.5h2V357.4h2V357.8h3V357.8h3V358.1h4V357.7h5V357.4h2V357.1h3V357.9h2V357.2h5V357.3h3V356.8h7V357.5h4V357.3h7V356.5h2V356.8h2V356.8h3V356.3h3V357h3V356.6h3V356.1h3V356.5h4V355.8h5V355.6h2V355.5h4V355.6h7V356.1h7V356.5h7V356.1h3V355.8h2V356.1h3V356.5h3V356.1h5V356.2h2V356.1h4V356.3h7V355.9h2V356.5h2V356.6h4V356.1h2V356.4h7V355.9h2V355.2h7V355.5h7V355.4h4V354.8h7V354.5h7V354.5h7V354.4h4V354.4h3V354.8h3V354.7h5V354.5h2V355h5V354.3h4V354.1h3V354.9h4V354h3V354.2h3V354.5h2V354.9h5V355.1h3V354.5h5V355.4h5V355.5h3V355.3h2V355.8h2V355.9h5V356.1h2V356.1h7V355.8h7V355.4h2V355.3h3V356h2V355.9h4V355.4h3V354.7h3V354.9h4V354h7V354h7V354.1h4V353.3h2V353.5h3V353.6h2V353.3h2V353.8h4V353.8h3V353.4h2V352.9h4V353h5V353.3h4V353.4h2V353h3V353.6h3V353.7h3V353.2h4V353h7V353.3h4V353.5h3V352.7h2V353.7h2V353.1h7V353.1h3V352.7h3V353h2V352.9h5V352.7h7V352.6h5V352.8h4V353.1h3V353.1h3V352.5h4V353.4h3V353h4V353.3h2V352.5h5V352.7h4V353.3h4V353.1h3V353.3h5V352.3h4V352.9h7V352.2h2V353h4V353.2h3V353.1h5V352.6h4V352.9h3V353h2V353h2V353h7V352.8h2V353h3V352.2h7V352.3h3V352.6h7V352.2h4V352.8h5V352.3h7V352.2h2V352.4h7V353h7V352.4h7V352.4h7V352.4h2V352.5h7V353.3h3V353.3h2V352.5h4V352.6h5V353.5h7V352.9h2V353.1h3V353.2h2V352.9h2V352.8h7V353.1h2V353h2V353.5h5V353h2V353.1h3V353.6h3V353.4h5V354h5V353.4h4V353.6h7V354.3h3V354.1h3V353.8h4V354.5h3V354.1h2V353.9h2V354.4h5V354.5h7V354.4h5V353.7h2V354.4h7V353.5h2V354.1h2V353.5h2V353.2h5V353.9h5V353.9h3V353.8h2V353.5h7V353.5h4V353.2h7V352.7h2V352.9h3V353.1h5V353.5h3V352.8h5V353.2h5V353.1h3V353.2h5V353.6h4V352.8h4V352.7h2V352.9h3V353.4h4V353.3h2V353.6h7V353h5V353.4h2V352.9h2V353.1h4V353.5h3V353.4h4V353.6h4V353h4V353h5V353h5V353.4h7V353.9h2V353.5h5V353.3h3V353.5h4V353.9h7V353.6h5V353.8h4V353.7h4V353.8h3V353.5h7V354h2V354.1h3V353.3h7V353.7h5V353.3h5V353.8h5V354.1h7V354.1h2V354.2h7V354h3V354.2h7V353.7h2V354.1h5V354.3h7V354.2h4V354h2V353.6h7V353.9h3V354h7V354.6h3V354.3h3V354.3h5V353.9h4V354.7h2V354.1h5V353.9h5V354.9h4.8V395.4z" fill="#afafaf"/><path d="M288 361.6v3.4M289.2 358.2v.5M290.4 360.8v5.9M291.5 360.1v2.9M302.7 363.5v13M303.9 358.4v13.9M308.5 363v22.4M309.8 359.7v23.5M322 360.7v32M323.1 362.4v30.5M324.3 361.9v24.8M325.3 359.9v29.9M328 362.3v25.1M329 359.6v27.7M331.7 360.8v33.7M333.3 362.2v32.2M337.3 362.3v14.8M338.4 361.2v20.7M339.5 359v27.9M340.5 362.4v27.1M341.5 358.9v28.7M342.7 359.2v29M346.2 360.7v23.4M347.5 361.2v27M361.1 362.7v27.6M363.5 363.2v27.2M366.8 358.4v28.7M368.2 358.1v25.3M369.5 358.1v29.1M370.5 359.7v24.7M372.7 361.5v32.6M373.9 357.9v29.3M378.2 358.7v35.1M379.3 363.2v28.1M380.6 358.1v28.9M381.9 358.2v22.6M383 358.7v28.7M396.6 363.2v6.6M397.7 361.9v12.4M400 361.4v17.2M401.2 359.8v17.9M408.8 361.5v15.1M410.1 358.9v21.9M423.8 357.6v30.1M425 360.3v35.1M426.2 360.8v22.8M427.4 360.2v29M430.6 358.3v20.7M431.8 358.5v19.4M440.9 361v32.2M442.1 362.5v29.6M453.5 361.3v28.5M454.6 359.5v32.3M463.7 357.4v37.9M465 362.2v26M475 358.4v27.3M476.3 360.2v27.5M484.2 358.2v37.2M485.4 362v33.4M487.8 359.4v34.9M488.9 361.6v31.8M490.1 361.8v33.6M491.2 360.8v30.9M492.3 359.8v33.3M493.3 358.9v36.5M497.9 360v32.8M499.2 357.4v28.1M501.3 362.1v18.5M502.5 359.4v26.4M506.9 357.8v33.8M508.1 358.3v37.1M516.3 359.4v34.1M517.4 360.8v28.9M518.9 361.5v32.3M520.5 361.8v27M521.9 358.9v30.8M526.3 361.7v31.1M527.6 362.5v24.8M528.9 359.6v31.7M530 361.8v30.1M535.4 361v19.1M536.7 360.8v21.3M554.9 359.8v32.3M556.2 360.1v26.4M568.8 361v23.1M570 359.7v31M590.2 357v38M591.2 362.3v33.1M592.3 356.9v31.7M593.5 360.1v32.5M597.3 360.7v32.8M598.4 361.7v31.6M599.6 356.6v34.9M601.1 356.7v38.7M606.4 362.1v33.3M607.4 357v36.5M608.5 361.5v33.9M609.6 360v35.4M610.8 361.3v29.7M614.6 359.4v30.7M615.8 361v32.1M617.7 362.2v24.4M618.9 362.3v26.5M620 358.9v34.8M621.2 360.7v32M623.5 360v21.6M624.6 359.9v16.2M628 359.6v11M629.2 357.9v13.5M630.4 359.7v3.8M631.6 360v6.4M632.7 359.5v6.1M634.1 362.1v4.7M635.6 362.3v2.3M636.9 361.8v2M638.1 357.7v2.2M639.3 356.9v.2M640.6 357v.4M641.9 361.7v.3M643 361.8v1.4M644 361.2v.5M645.1 361.7v1.4M646.1 357.5v1.3M647.5 359.7v.6M649 359.6v1.4M654.3 357.2v24.1M655.4 358.4v20.1M657.4 359.8v26.6M658.6 360.6v24.4M660.8 363v8.3M662 359.6v10.6M663.3 359.5v28.9M664.6 363.2v28.5M665.6 360.9v33.5M667.9 362.8v28.8M669.2 363.5v26.5M671.2 363v28.3M672.3 360.3v32.7M680.4 360.4v33M681.5 358.6v32.7M685.5 363.6v12.8M687.2 359.7v10.9M688.4 364.2v29.5M689.4 362.3v31.3M692.8 359.1v36.3M694 359.3v31M698.5 362.3v25M699.7 360.3v24.7M702.1 359.4v31.1M703.2 361.2v32.5M704.5 360.1v17.4M705.8 363v15M711.6 360.2v16.2M712.8 359.9v16.6M722.8 360.5v.4M724.2 363.3v.5M742.1 360.7v1.1M743.2 361.5v1.2M753.6 363.2v11.1M754.7 363.4v12.8M757 363.2v4.4M758.1 359.3v31.7M759.3 359.7v27.8M760.4 359.5v10.1M762.7 360.9v34.5M763.9 359.9v34M773 362v33.4M774.3 362.8v30.4M775.5 364.1v31.3M776.6 364.3v28.1M809.4 360v.7M826.4 363.2v12M827.6 358.8v15.6M833.2 363v.9M834.3 362.8v.1M864.2 358.1v13.2M865.4 358.3v11.6M866.6 362.6v16.5M867.7 361.9v18.6M868.8 363v29.5M869.9 359v34.2M871.1 357.5v17.8M877.9 359.6v24.6M879.3 360.7v34.7M880.4 359.1v34.4M885.8 358.2v23.1M887 362.3v19.9M900.8 360.5v.3M901.9 361.3v23.1M903 357.8v20.6M909.7 359.1v16M910.9 359.4v12.2M916.7 358.9v1.4M917.8 360.6v1.9M925.7 357.5v20.7M926.9 361.2v25.9M935.9 360.3v35.1M937.1 359.7v34.9M942.8 357.8v37.6M944 360.4v32.1M945.1 358.3v28.9M946.2 359.6v28.1M953.1 361.4v30.6M954.3 360.7v29M968.1 357.8v36.2M969.2 361.1v28.1M972.7 358.8v14.2M973.8 360.8v20.2M989.3 361.2v34.2M990.5 359.5v35.9M991.6 357.3v32.9M992.8 357.9v29.4M994.1 359.4v11.4M995.4 357v37.9M996.4 357.9v34.9M997.4 358.1v32M998.5 356.2v33.8M999.7 357.2v37.5M1000.9 357.4v38M1015.8 358.2v22.9M1017 358.6v19.1M1018.1 358.7v15.9M1019.3 357.9v21.8M1028.3 361.5v30.3M1029.7 359.3v32.1M1030.9 357.5v21.7M1032.2 358.5v23M1033.4 357.4v20.5M1034.8 362.3v32.7M1036.3 360.2v29M1037.7 360.1v32.9M1038.8 359.6v34.3M1040.1 361v34.4M1041.5 359.3v33.3M1042.9 362.6v32.8M1048.1 362.7v30M1049.4 362.9v30.9M1050.6 358.7v34.3M1051.8 361.5v33.9M1053 359.6v32.3M1054.2 360.3v31.6M1055.4 358v37.4M1056.7 359.7v34.8M1058 356.7v20.7M1060.4 357.4v24.5M1061.6 360.5v20.3M1072.7 356.6v23.1M1073.8 360v21.2M1074.9 359v33.7M1076.1 357.1v36.3M1081.1 359.4v35.8M1082.2 357.3v38.1M1083.4 355.4v.1M1084.6 355.5v.2M1086.9 357v8.5M1088.1 360.1v7.6M1089.1 358.8v15.2M1090.1 356v16.6M1091.4 357.1v.8M1117.6 356v17.8M1118.6 356.6v14.6M1119.8 358.2v2.5M1122 359.5v30.7M1123.2 360.6v32.5M1124.4 357.8v33M1143.9 355.4v35.3M1145.2 357.9v37.5M1146.5 355.5v38.7M1148.1 354.7v34.5M1149.6 356.8v34.2M1150.9 356.5v38.9M1152.2 354.6v40.8M1154.4 355.1v35.8M1155.8 356.8v37.1M1157.1 358.5v36.7M1158.4 355.9v36.8M1159.8 358.1v37.3M1161.1 358.9v36.5M1162.3 357.5v30.1M1163.3 354.6v36.2M1172.4 358.6v28.6M1173.5 357v32.8M1175.9 360.4v12.7M1177 357.2v28.3M1178.1 360.6v27M1202.4 356.7v7.3M1204.1 354.7v11.3M1205.5 356.5v38.4M1206.6 356.2v34.2M1212.4 357.6v.6M1213.5 360.3v4.8M1215.8 358.1v5.7M1216.9 358.8v3M1219.1 357.7v1.6M1220.4 356.8v.2M1236.2 356.7v20.9M1237.4 360.3v14.5M1240.6 354.4v41M1241.7 357.7v30.7M1253.2 359v22.1M1254.3 360.3v25.8M1255.7 354.1v25.6M1261.2 359.5v30M1262.3 358.7v36.7M1263.7 360v27.8M1264.9 354.8v40.6M1266 356.2v39.2M1267.1 354.3v32.5M1271.6 355.6v25.2M1272.8 356.1v32.5M1291.8 358.2v28.1M1293 354.6v28.4M1295.5 357.8v2.5M1296.6 359.2v26.5M1297.7 356v27.2M1305.7 357.7v33.5M1306.9 355.1v33.7M1311.6 359.8v35.6M1312.9 354.9v38.8M1314.1 354v41.4M1315.4 358.3v34.6M1316.5 357.9v37.3M1317.8 354.5v40.9M1319.1 360.3v31.4M1320.5 356.5v25.1M1321.8 360v9.2M1322.8 354.8v8M1327.4 354.9v38.6M1328.5 354.5v34.5M1330.8 356.8v19.7M1331.9 355.6v21.6M1334.2 356.5v11.4M1335.4 359.1v6.9M1339 355.3v40.1M1340.3 356.8v38.6M1341.6 357.1v35.4M1342.9 359.3v30.9M1344.2 356v35.3M1345.4 357.9v37.2M1346.7 360.2v35.2M1348 359.9v35.5M1355.5 359.6v33.4M1356.9 357.3v30.3M1361.5 354.3v37.3M1362.7 357v29.3M1364.9 358v12.2M1366.1 355.5v13.2M1371.9 360.5v27.2M1373 360.2v26.1M1376.2 355.2v14.9M1377.7 355v28.1M1378.9 358.3v26.3M1380.2 359.2v32.4M1381.8 354.8v13.8M1383.4 358v34.4M1385.8 359.2v34.9M1388.3 355.9v38.7M1389.6 354.7v33.6M1390.8 356.1v39.3M1391.9 359v35.4M1393 360.2v31.9M1394.2 360.1v32.6M1395.4 359.4v30.4M1396.6 360.9v33.9M1398.8 360.7v20.9M1400.3 355.1v40.3M1401.5 360.1v32.7M1403.1 355.2v4.6M1404.3 358.9v3.1M1405.4 360.2v3.3M1406.6 356.6v6.7M1408 355.6v29.6M1409 360.1v26.3M1410 359v28M1411.2 359.2v34.3M1412.5 355v30M1414.1 357v30M1415.5 359.4v28.5M1416.9 359v35.3M1423.3 355.6v14.9M1424.7 355.8v30.7M1425.8 359.6v35.7M1429.3 356.4v31.6M1430.4 361.4v31.6M1431.7 360.3v31M1433 360.1v32.3M1436.3 360.4v34.8M1438.8 357.8v34.9M1440.1 360.3v34.2M1441.2 356.6v37.6M1442.4 361.2v34.2M1443.5 357.2v32.2M1444.9 359.6v35.8M1446.4 358.7v31.7M1447.8 358.8v36.2M1449.1 360.6v34.1M1450.4 360.8v30.1M1462.1 361.5v27M1463.2 358.3v26M1466.7 356.3v34.3M1467.8 356.9v29.3M1472.4 360.8v25.9M1473.5 358.1v24.7M1487.4 357.5v22.9M1488.5 359.4v23.2M1491.2 359.2v16.2M1492.7 360.1v1.2M1494 356.9v3.6M1495.2 360v3M1496.3 359.9v2.1M1497.4 359.8v.6M1498.6 355.1v1M1499.7 359.5v1.5M1500.8 357.9v.6M1501.9 354.6v20.7M1503.1 359v14.6M1504.3 354.3v1.1M1505.5 355.2v.6M1506.7 354.6v19.2M1507.9 356.6v19.3M1509 360.1v.5M1510.1 359.7v20.8M1511.3 354.6v20.5M1512.4 355v40.4M1513.6 356.5v35.5M1519.3 358.9v35.8M1520.5 356.7v35.2M1521.6 357.9v22.8M1522.8 358.7v19.6M1525.1 356.9v38.5M1526.5 359v34.3M1528 359.7v31.4M1529.5 358.8v34.7M1530.9 359.1v31.6M1532.2 355.3v39.9M1533.4 356.6v34.9M1534.8 357.8v37.3M1536.3 357.7v35.2M1541 359.3v16M1542.1 357v12.4M1560.4 355.3v35.1M1561.5 357.7v33.5M1562.7 358.9v27.9M1563.8 360.4v27.6M1565 360.4v30.9M1566.1 356.2v32M1595.6 354.9v38M1596.8 358.8v30.9M1597.9 357.1v38.1M1599.1 357.7v36.5M1609.2 356.2v37.8M1610.3 356.5v38.9M1611.4 355.5v33.9M1612.6 357.3v35.4M1613.7 357.4v34.6M1614.9 355.5v38.1M1616.3 358.2v22.7M1617.6 359.2v34.2M1618.6 358.6v34.1M1624.1 355.7v37.3M1625.3 359.9v31.7M1640.3 357.5v31.8M1641.4 355.4v31.1M1648.3 355.9v39.5M1650 358.5v36.9M1654 360.9v18.8M1655 355.4v23.8M1656 354.9v35.8M1657 356.9v32.9M1658.1 357.5v32M1659.3 357v34.1M1676.6 358.9v29M1677.6 357.7v34.4M1685.8 358.3v11M1686.9 355.1v11M1691.5 356.3v9M1692.7 355.2v15.6M1697.4 360.7v34.7M1699 356.3v39.1M1700.3 358.8v26.3M1703.9 358.2v33.5M1705 360.3v35.1M1706.1 359.2v36.2M1725.7 361.3v27.3M1726.9 359.6v31M1730.4 359.7v35.7M1731.5 357.4v33.3M1732.5 358.1v20.3M1733.6 358.3v26.7M1735.7 359v30.2M1736.9 356.9v31.8M1749.6 360.6v12M1750.7 357.9v15.5M1765.4 361.7v22.4M1766.6 357.4v21.5" stroke="#ff1a1a" stroke-width="1.1" fill="none"/><path d="M288 364.9v30.5M289.2 358.7v36.7M290.4 366.7v28.7M291.5 363v32.4M302.7 376.5v18.9M303.9 372.3v23.1M308.5 385.4v10M309.8 383.1v12.3M322 392.6v2.8M323.1 392.9v2.5M324.3 386.7v8.7M325.3 389.8v5.6M328 387.4v8M329 387.3v8.1M331.7 394.4v1M333.3 394.4v1M337.3 377.1v18.3M338.4 381.8v13.6M339.5 386.9v8.5M340.5 389.6v5.8M341.5 387.6v7.8M342.7 388.2v7.2M346.2 384.1v11.3M347.5 388.2v7.2M361.1 390.3v5.1M363.5 390.4v5M366.8 387.1v8.3M368.2 383.4v12M369.5 387.2v8.2M370.5 384.3v11.1M371.5 361.6v33.8M372.7 394v1.4M373.9 387.1v8.3M378.2 393.8v1.6M379.3 391.3v4.1M380.6 387.1v8.3M381.9 380.8v14.6M383 387.5v7.9M396.6 369.8v25.6M397.7 374.3v21.1M400 378.6v16.8M401.2 377.7v17.7M408.8 376.6v18.8M410.1 380.8v14.6M423.8 387.7v7.7M426.2 383.7v11.7M427.4 389.2v6.2M430.6 379v16.4M431.8 377.9v17.5M440.9 393.2v2.2M442.1 392v3.4M453.5 389.8v5.6M454.6 391.7v3.7M465 388.2v7.2M475 385.7v9.7M476.3 387.6v7.8M487.8 394.3v1.1M488.9 393.3v2.1M491.2 391.8v3.6M492.3 393.1v2.3M497.9 392.8v2.6M499.2 385.5v9.9M501.3 380.6v14.8M502.5 385.8v9.6M506.9 391.6v3.8M516.3 393.6v1.8M517.4 389.7v5.7M518.9 393.8v1.6M520.5 388.8v6.6M521.9 389.7v5.7M526.3 392.7v2.7M527.6 387.3v8.1M528.9 391.2v4.2M530 391.9v3.5M535.4 380.1v15.3M536.7 382.1v13.3M554.9 392.1v3.3M556.2 386.5v8.9M568.8 384.1v11.3M570 390.6v4.8M592.3 388.5v6.9M593.5 392.6v2.8M597.3 393.5v1.9M598.4 393.3v2.1M599.6 391.4v4M607.4 393.4v2M610.8 391.1v4.3M614.6 390.1v5.3M615.8 393.1v2.3M617.7 386.6v8.8M618.9 388.8v6.6M620 393.6v1.8M621.2 392.6v2.8M623.5 381.5v13.9M624.6 376.1v19.3M628 370.6v24.8M629.2 371.4v24M630.4 363.5v31.9M631.6 366.4v29M632.7 365.6v29.8M634.1 366.7v28.7M635.6 364.5v30.9M636.9 363.8v31.6M638.1 359.9v35.5M639.3 357v38.4M640.6 357.4v38M641.9 362v33.4M643 363.2v32.2M644 361.7v33.7M645.1 363.1v32.3M646.1 358.8v36.6M647.5 360.3v35.1M649 361v34.4M654.3 381.3v14.1M655.4 378.5v16.9M657.4 386.4v9M658.6 385.1v10.3M660.8 371.3v24.1M662 370.2v25.2M663.3 388.4v7M664.6 391.7v3.7M665.6 394.5v.9M667.9 391.6v3.8M669.2 390v5.4M671.2 391.4v4M672.3 393v2.4M680.4 393.4v2M681.5 391.3v4.1M685.5 376.4v19M687.2 370.7v24.7M688.4 393.7v1.7M689.4 393.6v1.8M694 390.4v5M698.5 387.4v8M699.7 385v10.4M702.1 390.5v4.9M703.2 393.7v1.7M704.5 377.5v17.9M705.8 377.9v17.5M711.6 376.5v18.9M712.8 376.5v18.9M722.8 360.8v34.6M724.2 363.8v31.6M742.1 361.9v33.5M743.2 362.7v32.7M753.6 374.3v21.1M754.7 376.3v19.1M757 367.6v27.8M758.1 391v4.4M759.3 387.5v7.9M760.4 369.6v25.8M763.9 393.9v1.5M774.3 393.1v2.3M776.6 392.5v2.9M808.4 362.1v33.3M809.4 360.8v34.6M826.4 375.2v20.2M827.6 374.4v21M833.2 363.9v31.5M834.3 362.9v32.5M864.2 371.4v24M865.4 369.8v25.6M866.6 379.1v16.3M867.7 380.6v14.8M868.8 392.5v2.9M869.9 393.2v2.2M871.1 375.3v20.1M877.9 384.2v11.2M880.4 393.6v1.8M885.8 381.3v14.1M887 382.2v13.2M899.7 359v36.4M900.8 360.8v34.6M901.9 384.5v10.9M903 378.4v17M909.7 375v20.4M910.9 371.6v23.8M916.7 360.3v35.1M917.8 362.5v32.9M925.7 378.2v17.2M926.9 387.1v8.3M937.1 394.6v.8M944 392.5v2.9M945.1 387.2v8.2M946.2 387.7v7.7M953.1 392v3.4M954.3 389.7v5.7M968.1 394v1.4M969.2 389.2v6.2M972.7 373v22.4M973.8 381v14.4M991.6 390.2v5.2M992.8 387.4v8M994.1 370.9v24.5M995.4 394.9v.5M996.4 392.8v2.6M997.4 390.1v5.3M998.5 390v5.4M999.7 394.7v.7M1015.8 381.1v14.3M1017 377.7v17.7M1018.1 374.6v20.8M1019.3 379.7v15.7M1028.3 391.7v3.7M1029.7 391.4v4M1030.9 379.3v16.1M1032.2 381.5v13.9M1033.4 377.9v17.5M1034.8 395v.4M1036.3 389.2v6.2M1037.7 393v2.4M1038.8 393.9v1.5M1041.5 392.7v2.7M1048.1 392.6v2.8M1049.4 393.8v1.6M1050.6 393v2.4M1053 391.9v3.5M1054.2 391.9v3.5M1056.7 394.5v.9M1058 377.4v18M1060.4 382v13.4M1061.6 380.8v14.6M1072.7 379.7v15.7M1073.8 381.3v14.1M1074.9 392.7v2.7M1076.1 393.4v2M1083.4 355.5v39.9M1084.6 355.7v39.7M1085.8 357.2v38.2M1086.9 365.4v30M1088.1 367.8v27.6M1089.1 374.1v21.3M1090.1 372.5v22.9M1091.4 357.9v37.5M1117.6 373.8v21.6M1118.6 371.2v24.2M1119.8 360.7v34.7M1122 390.1v5.3M1123.2 393v2.4M1124.4 390.9v4.5M1143.9 390.7v4.7M1146.5 394.2v1.2M1148.1 389.2v6.2M1149.6 391v4.4M1154.4 390.9v4.5M1155.8 393.9v1.5M1158.4 392.7v2.7M1162.3 387.6v7.8M1163.3 390.8v4.6M1172.4 387.2v8.2M1173.5 389.7v5.7M1175.9 373.1v22.3M1177 385.5v9.9M1178.1 387.6v7.8M1202.4 363.9v31.5M1204.1 366v29.4M1205.5 394.9v.5M1206.6 390.3v5.1M1212.4 358.2v37.2M1213.5 365.1v30.3M1215.8 363.8v31.6M1216.9 361.8v33.6M1219.1 359.3v36.1M1220.4 357v38.4M1236.2 377.6v17.8M1237.4 374.8v20.6M1241.7 388.4v7M1253.2 381.1v14.3M1254.3 386.1v9.3M1255.7 379.8v15.6M1261.2 389.4v6M1263.7 387.8v7.6M1267.1 386.8v8.6M1271.6 380.8v14.6M1272.8 388.6v6.8M1291.8 386.3v9.1M1293 383v12.4M1295.5 360.3v35.1M1296.6 385.7v9.7M1297.7 383.2v12.2M1305.7 391.2v4.2M1306.9 388.8v6.6M1312.9 393.8v1.6M1315.4 392.9v2.5M1319.1 391.6v3.8M1320.5 381.6v13.8M1321.8 369.2v26.2M1322.8 362.8v32.6M1327.4 393.5v1.9M1328.5 389v6.4M1330.8 376.6v18.8M1331.9 377.2v18.2M1334.2 367.9v27.5M1335.4 366v29.4M1341.6 392.5v2.9M1342.9 390.2v5.2M1344.2 391.3v4.1M1355.5 393v2.4M1356.9 387.6v7.8M1361.5 391.6v3.8M1362.7 386.3v9.1M1364.9 370.2v25.2M1366.1 368.7v26.7M1371.9 387.7v7.7M1373 386.3v9.1M1376.2 370.1v25.3M1377.7 383.1v12.3M1378.9 384.6v10.8M1380.2 391.6v3.8M1381.8 368.6v26.8M1383.4 392.3v3.1M1385.8 394.1v1.3M1388.3 394.6v.8M1389.6 388.2v7.2M1391.9 394.4v1M1393 392.2v3.2M1394.2 392.8v2.6M1395.4 389.8v5.6M1396.6 394.8v.6M1398.8 381.6v13.8M1401.5 392.8v2.6M1403.1 359.7v35.7M1404.3 362v33.4M1405.4 363.4v32M1406.6 363.3v32.1M1408 385.2v10.2M1409 386.4v9M1410 387v8.4M1411.2 393.5v1.9M1412.5 385.1v10.3M1414.1 387v8.4M1415.5 387.9v7.5M1416.9 394.2v1.2M1423.3 370.4v25M1424.7 386.4v9M1429.3 388.1v7.3M1430.4 393v2.4M1431.7 391.3v4.1M1433 392.5v2.9M1438.8 392.7v2.7M1440.1 394.6v.8M1441.2 394.2v1.2M1443.5 389.4v6M1446.4 390.4v5M1449.1 394.7v.7M1450.4 390.9v4.5M1462.1 388.4v7M1463.2 384.2v11.2M1466.7 390.6v4.8M1467.8 386.2v9.2M1472.4 386.7v8.7M1473.5 382.8v12.6M1487.4 380.4v15M1488.5 382.6v12.8M1491.2 375.3v20.1M1492.7 361.4v34M1494 360.5v34.9M1495.2 363.1v32.3M1496.3 362v33.4M1497.4 360.4v35M1498.6 356.1v39.3M1499.7 361v34.4M1500.8 358.5v36.9M1501.9 375.2v20.2M1503.1 373.6v21.8M1504.3 355.4v40M1505.5 355.8v39.6M1506.7 373.8v21.6M1507.9 375.9v19.5M1509 360.7v34.7M1510.1 380.5v14.9M1511.3 375.1v20.3M1513.6 392v3.4M1519.3 394.7v.7M1520.5 391.9v3.5M1521.6 380.7v14.7M1522.8 378.4v17M1526.5 393.3v2.1M1528 391.1v4.3M1529.5 393.5v1.9M1530.9 390.7v4.7M1533.4 391.4v4M1536.3 392.9v2.5M1541 375.3v20.1M1542.1 369.4v26M1560.4 390.5v4.9M1561.5 391.2v4.2M1562.7 386.8v8.6M1563.8 388v7.4M1565 391.3v4.1M1566.1 388.2v7.2M1595.6 392.9v2.5M1596.8 389.7v5.7M1599.1 394.2v1.2M1609.2 394v1.4M1611.4 389.5v5.9M1612.6 392.7v2.7M1613.7 392v3.4M1614.9 393.6v1.8M1616.3 380.9v14.5M1617.6 393.4v2M1618.6 392.7v2.7M1624.1 393v2.4M1625.3 391.6v3.8M1640.3 389.3v6.1M1641.4 386.5v8.9M1654 379.7v15.7M1655 379.2v16.2M1656 390.7v4.7M1657 389.8v5.6M1658.1 389.5v5.9M1659.3 391v4.4M1676.6 388v7.4M1677.6 392.1v3.3M1685.8 369.3v26.1M1686.9 366.1v29.3M1691.5 365.3v30.1M1692.7 370.8v24.6M1700.3 385v10.4M1703.9 391.7v3.7M1725.7 388.5v6.9M1726.9 390.6v4.8M1731.5 390.7v4.7M1732.5 378.4v17M1733.6 385v10.4M1735.7 389.2v6.2M1736.9 388.7v6.7M1749.6 372.6v22.8M1750.7 373.4v22M1765.4 384.1v11.3M1766.6 378.8v16.6" stroke="#2a2ae6" stroke-width="1.1" fill="none"/><rect x="284.5" y="395.4" width="1485.8" height="1" fill="#8a8a8a"/></g><text x="289.4" y="361.2" font-size="8.6" font-family='"DejaVu Sans", "Liberation Sans", sans-serif' fill="#111">[0 - 89]</text><g id="wgs-reads"><path d="M284.5 403.8h23.5m12 0h769M1090.5 414.2h679.8M284.5 424.5h251.5M1090.5 434.8h488M1090.5 445.1h679.8M284.5 455.4h494M1016 465.8h73m1.5 0h679.8M284.5 486.4h804.5m1.5 0h679.8" stroke="#cecece" stroke-width="8.3" fill="none"/><path d="M1090.5 403.8h493.5m1 0h185.3M284.5 414.2h804.5M536 424.5h553m1.5 0h19.5m2.5 0h657.8M284.5 434.8h177m12.5 0h229m0 0h386m495.5 0h185.8M284.5 445.1h464.5m7.5 0h332.5M778.5 455.4h310.5m1.5 0h21.5m1 0h657.3M284.5 465.8h717.5M284.5 476.1h804.5m1.5 0h679.8" stroke="#d2dcd4" stroke-width="8.3" fill="none"/><path d="M284.5 495.1h804.5m1.5 0h679.8" stroke="#d2dcd4" stroke-width="5" fill="none"/><path d="M622.7 403.8h2.8m134 0h1.8m147.6 0h2.9m145.3 0h1.8m274.4 0h3.1m40.4 0h2.9m17.9 0h2.4M684.3 414.2h2.4m24 0h2.9m45.9 0h1.8m295.8 0h1.8m29.4 0h1m181.5 0h2.9m416.9 0h2.9m71 0h2.9M425.3 424.5h2.9m891.2 0h2.1M429.6 434.8h3.1m253.4 0h2.1m514.8 0h2.1m30.3 0h2.9m401.1 0h2.9M338.7 445.1h2.6m193.2 0h3.2m665.3 0h2.1m300.7 0h2.9m53.1 0h2.9m184 0h2.9M365.8 455.4h3.5m2.5 0h3.1m281.6 0h2.9m203.9 0h3.1m-.6 0h2.8m217.4 0h2.9m244.4 0h3.1m169.4 0h2.9M924.9 465.8h2.9m452.9 0h2.1m24.4 0h2.6m96 0h2.9M340.7 476.1h2.9m312.9 0h2.9m166.2 0h2.9m37.3 0h2.8m103.2 0h2.9m57.2 0h2.4m363.3 0h2.4m105.8 0h2.9m2.8 0h2.9m80.3 0h2.9M395.8 486.4h2.8m261.3 0h2.9m21.5 0h2.4m403.5 0h.8" stroke="#8a8aff" stroke-width="8.3" fill="none"/><path d="M659.9 495.1h2.9m599.8 0h2.1m26.2 0h2.9m27.2 0h2.6m55.5 0h2.1" stroke="#8a8aff" stroke-width="5" fill="none"/><path d="M452.6 403.8h2.9m201 0h2.9m28.2 0h2.6m175.6 0h2.8m103.2 0h2.9m21.9 0h2.8m47.8 0h3m189.5 0h2.9m12 0h2.1m89.7 0h2.5m116.9 0h2.9m146.5 0h2.1m112.3 0h2.8M323.4 414.2h2.8m4.5 0h3.7m4.3 0h2.6m66.6 0h3.1m28.9 0h3.1m48.5 0h2.6m162.4 0h2.9m4.4 0h2.6m4 0h2.8m101.4 0h2.9m100.9 0h2.9m170.8 0h3m25.1 0h2.9m121.5 0h2.9m58.7 0h1.8m36.8 0h3.1m28.9 0h2.5m31.7 0h2.9m16 0h4m43.4 0h2.5m-.6 0h2.9m173.1 0h2.1m-.5 0h2.6m110.2 0h2.8M330.7 424.5h3.7m4.3 0h2.6m147.9 0h2.9m42.4 0h1.8m776.3 0h2.5m39.4 0h3.4m64.3 0h2.1m4.1 0h2.9m4 0h2.5m23.4 0h2.9m95.4 0h2.9m-.6 0h2.9m47 0h4.1m69.2 0h2.8M489.2 434.8h2.9m4.8 0h3.2m27.9 0h2.9m65.6 0h2.8m19.8 0h2.9m524.8 0h2.4m-.5 0h2.5m24.9 0h2.9m75.6 0h2.1m7.4 0h2.6m59.8 0h2.9m3.9 0h3.1m10 0h2.5m41 0h4m10.6 0h2.9m31.8 0h2.9m-.6 0h2.9m87.5 0h2.4M368.7 445.1h2.6m.5 0h3.1m4.7 0h2m58.3 0h3.1m48.5 0h2.6m21.3 0h2.9m78.2 0h2.8m54.2 0h2.8m35.7 0h2.9m6.3 0h2.9m446.5 0h2.5m189.5 0h2.5m271.7 0h2.6M377.3 455.4h2.9m72.4 0h2.9m69.9 0h3.2m77 0h2.6m1.7 0h1.8m75.9 0h2.6m369.4 0h2.9m80.5 0h2.5m69.4 0h2.9m53 0h2.9m68.9 0h2.5m-.6 0h2.5m7.5 0h3.4m53.6 0h3.7m15.5 0h3.2m13 0h2.5m147.7 0h2.9m8.3 0h4m122.5 0h2.9M422.9 465.8h3.1m165.4 0h2.9m69.5 0h2.6m19.7 0h2.1m-.6 0h2.6m65.9 0h1.7m112.4 0h1.8m70 0h2.9m26.9 0h2.9m62.1 0h2.9m19.9 0h2.9m58.6 0h2.9m20.9 0h2.5m92.3 0h2.9m28.2 0h2.9m56.2 0h2.9m44 0h2.9m6.4 0h2.5m42.1 0h3.2m221.3 0h2.6m32.8 0h2.9m31.3 0h2.9M371.8 476.1h3.1m2.4 0h2.9m72.4 0h2.9m414.7 0h1.8m29 0h2.9m38.1 0h2.9m213.9 0h3.3m73.3 0h2.9m1.4 0h2.9m70 0h2.5m72.9 0h2.5m248.9 0h2.9m12.9 0h2.6m-.6 0h2.9m69.5 0h2.8M345.3 486.4h3.2m157.5 0h3.1m90.8 0h2.4m7.6 0h1.8m2 0h2.9m71 0h2.6m304.4 0h2.6m50 0h3m-.5 0h3m150.3 0h2.1m57.5 0h2.1m77.9 0h2.5m-.6 0h2.5m64.5 0h3.7m22.1 0h2.5m26 0h2.9m143 0h4.1m31.4 0h2.1" stroke="#ff8a8a" stroke-width="8.3" fill="none"/><path d="M371.8 495.1h3.1m65.1 0h3.1m53.8 0h3.2m17.6 0h2.4m71.3 0h2.9m11.3 0h2.6m10.9 0h2.9m34.5 0h2.9m38.2 0h2.9m59 0h1.8m.5 0h2.9m9.9 0h2.9m263.7 0h2.7m79.5 0h2m23.3 0h2.5m161.4 0h2.5m78.2 0h4.1m9.8 0h2.6m4.7 0h3.4m68.7 0h2.8m259.3 0h2.9" stroke="#ff8a8a" stroke-width="5" fill="none"/><path d="M287.1 403.8h3.1m-.7 0h2.8m9.6 0h2.9m16.3 0h2.9m12.5 0h2.8m1.4 0h2.9m1.7 0h3.2m20.2 0h2.6m-.6 0h1.7m23.4 0h2.8m9.3 0h3.1m85.9 0h3.2m127 0h2.9m-.5 0h1.8m-.6 0h2.9m-.6 0h3.7m-.6 0h2.9m-.6 0h2.5m-.6 0h2.5m-.6 0h2.6m-.6 0h2.8m-.6 0h3.7m9.8 0h2.9m21.5 0h2.4m35.1 0h3.4m16 0h2.9m8.7 0h2.8m.5 0h1.7m49.8 0h2.6m15.4 0h2.9m3.8 0h2.8m28.2 0h3.1m32.4 0h2.8m14.2 0h2.9m6.2 0h2.9m89.4 0h2.9m39.5 0h2.9m9.4 0h2.8m7.8 0h1.8m-.6 0h2.9m1.7 0h1m1.1 0h2.1m82.5 0h1.7m-.6 0h2.9m22.2 0h2.4m-.6 0h2.1m6.4 0h2.9m.5 0h2.9m.3 0h3.2m73.5 0h1.5m24.7 0h2.6m40.5 0h2.9m8 0h2.4m3.3 0h2.1m19.4 0h2.9m-.6 0h2.9m14.8 0h2.1m62.3 0h2.8m2.4 0h3.1m-.6 0h4m-.6 0h2.9m-.6 0h1.7m1.7 0h3.1m1.6 0h1.7m-.6 0h2.9m-.6 0h2.9m25.7 0h2.9m96.4 0h2.9m10.9 0h2.6m29.2 0h2.8m43.9 0h2.6m30.2 0h2.9M287.1 414.2h3.1m36.9 0h2.8m6.6 0h2.8m31.4 0h1.7m8.6 0h2.9m11.9 0h2.8m26.7 0h2.9m1.4 0h3.1m67.7 0h2.9m64.6 0h3.1m56.1 0h2.9m-.5 0h1.8m-.6 0h2.9m-.6 0h3.7m-.6 0h2.9m-.6 0h2.5m-.6 0h2.5m-.6 0h2.6m-.6 0h2.8m-.6 0h3.7m9.8 0h2.9m59 0h3.4m16 0h2.9m12 0h1.7m49.8 0h2.6m15.4 0h2.9m3.8 0h2.8m28.2 0h3.1m32.4 0h2.8m14.2 0h2.9m53.1 0h2.9m18.4 0h2.1m87.3 0h1.8m-.6 0h2.9m-.6 0h2.9m1.5 0h2.1m26.3 0h2m2.6 0h2m49.6 0h1.7m24.5 0h2.4m-.6 0h2.1m6.4 0h2.9m.5 0h2.9m.3 0h3.2m14.1 0h2.9m14 0h2.9m-.6 0h2.1m38.1 0h1.5m-.6 0h2.9m22.4 0h2.6m9.7 0h3.1m27.7 0h2.9m8 0h2.4m3.3 0h2.1m19.4 0h2.9m-.6 0h2.9m21 0h2.9m4 0h2.5m33.7 0h2.9m15.6 0h2.4m-.6 0h3.1m-.6 0h4m-.6 0h2.9m-.6 0h1.7m-.6 0h2.9m-.6 0h3.1m-.7 0h2.9m-.6 0h1.7m-.6 0h2.9m28 0h2.9m110.2 0h2.6m-.6 0h2.6m67 0h2.9m4 0h2.6m14.4 0h2.9M287.1 424.5h3.1m-.7 0h2.8m31.1 0h2.8m.9 0h2.8m6.6 0h2.8m31.4 0h1.7m23.4 0h2.8m24.3 0h3.1m3.6 0h3.1m41.4 0h3.1m14.3 0h2.6m31.3 0h3.2m-.6 0h2.9m96.2 0h2.9m-.5 0h1.8m-.6 0h2.9m-.6 0h3.7m-.6 0h2.9m-.6 0h2.5m-.6 0h2.5m-.6 0h2.6m-.6 0h2.8m-.6 0h3.7m3.4 0h2.8m3.6 0h2.9m21.5 0h2.4m430.1 0h2.6m-.6 0h2m26 0h2.4m52 0h2.4m-.6 0h2.1m6.4 0h2.9m.5 0h2.9m.3 0h3.2m31 0h2.9m-.6 0h2.1m14.1 0h2.9m21.1 0h1.5m24.7 0h2.6m2.9 0h2.9m.5 0h2.9m.5 0h3.1m27.7 0h2.9m8 0h2.4m-.6 0h2.9m1 0h2.1m14.8 0h2.4m2.2 0h2.9m-.6 0h2.9m1.8 0h2.9m77.9 0h2.4m-.6 0h3.1m-.6 0h4m-.6 0h2.9m-.6 0h1.7m-.6 0h2.9m-.6 0h3.1m-.7 0h2.9m-.6 0h1.7m-.6 0h2.9m8.7 0h2.9m16.4 0h2.9m105.8 0h2.4m2 0h2.6m34.8 0h2.9m2.8 0h2.1m33.3 0h2.6M287.1 434.8h3.1m-.7 0h2.8m9.6 0h2.9m2.8 0h3.2m25.7 0h2.8m1.4 0h2.9m16.6 0h4.1m4.4 0h2.6m-.6 0h1.7m8.6 0h2.9m11.9 0h2.8m.6 0h2.9m123.3 0h3.2m5.9 0h3.2m79.1 0h2.9m3 0h2.8m1.6 0h2.9m-.5 0h1.8m-.6 0h2.9m-.6 0h3.7m-.6 0h2.9m-.6 0h2.5m-.6 0h2.5m-.6 0h2.6m-.6 0h2.8m-.6 0h3.7m9.8 0h2.9m460.6 0h2m49.6 0h1.7m24.5 0h2.4m7.9 0h2.9m.5 0h2.9m103.2 0h2.6m6.3 0h2.9m27.9 0h2.9m11.4 0h2.4m1.7 0h2.1m21 0h2.9m17.1 0h2.1m4.1 0h2.9m55.3 0h2.8m.6 0h2.4m-.6 0h3.1m-.6 0h4m-.6 0h2.9m-.6 0h1.7m-.6 0h2.9m-.6 0h3.1m1.6 0h1.7m30.3 0h2.9m51.7 0h2.9m55.6 0h2.6m29.2 0h2.8m2.8 0h2.9m9.5 0h1.8m20 0h2.9m4 0h2.6m14.4 0h2.9M287.1 445.1h3.1m-.7 0h2.8m9.6 0h2.9m22.3 0h2.8m.8 0h3.7m2.1 0h2.8m1.4 0h2.9m22.2 0h3.5m1.4 0h1.7m23.4 0h2.8m9.3 0h3.1m18.6 0h3.1m41.4 0h3.1m48.2 0h3.2m94.1 0h2.8m1.6 0h2.9m-.5 0h1.8m-.6 0h2.9m-.6 0h3.7m-.6 0h2.9m-.6 0h2.5m-.6 0h2.5m-.6 0h2.6m-.6 0h2.8m-.6 0h3.7m9.8 0h2.9m16.7 0h2.9m3.7 0h2.1m15.3 0h3.2m15.1 0h3.4m16 0h2.9m374.7 0h2m2.6 0h2m17.6 0h2.5m29.5 0h1.7m24.5 0h2.4m7.9 0h2.9m.5 0h2.9m.3 0h3.2m14.1 0h2.9m16.3 0h2.1m5.9 0h2.1m-.6 0h2.6m-.5 0h1.8m2.8 0h2.9m21.1 0h1.5m24.7 0h2.6m6.3 0h2.9m.5 0h3.1m24.3 0h2.9m.5 0h2.9m8 0h2.4m-.6 0h2.9m1 0h2.1m3.3 0h2.5m13.6 0h2.9m-.6 0h2.9m-.2 0h2.6m12.4 0h2.1m4.1 0h2.9m10.2 0h2.9m16.8 0h2.9m1.7 0h2.9m17.9 0h2.8m.6 0h2.4m-.6 0h3.1m-.6 0h4m-.6 0h2.9m-.6 0h1.7m-.6 0h2.9m-.6 0h3.1m1.6 0h1.7m-.6 0h2.9m-.6 0h2.9m6.4 0h2.9m71 0h2.9m55.6 0h2.6m29.2 0h2.8m2.8 0h2.9m5.9 0h1.8M287.1 455.4h3.1m-.7 0h2.8m9.6 0h2.9m16.3 0h2.9m12.5 0h2.8m6 0h3.2m22.2 0h1.7m8.6 0h2.9m11.9 0h2.8m9.3 0h3.1m14.3 0h2.9m68.7 0h3.2m15.3 0h2.9m35.7 0h3.1m59.7 0h2.9m3 0h2.8m1.6 0h2.9m-.5 0h1.8m-.6 0h2.9m-.6 0h3.7m-.6 0h2.9m-.6 0h2.5m-.6 0h2.5m-.6 0h2.6m-.6 0h2.8m-.6 0h3.7m9.8 0h2.9m-.6 0h2.1m20 0h2.4m-.6 0h2.1m15.3 0h3.2m4 0h2.9m8.2 0h3.4m16 0h2.9m8.7 0h2.8m.5 0h1.7m49.8 0h2.6m15.4 0h2.9m3.8 0h2.8m41.7 0h2.1m5.9 0h3.1m10.9 0h2.8m-.6 0h2.9m5 0h2.9m4 0h2.9m33.6 0h2.9m16.6 0h2.9m40.2 0h2.9m12.2 0h2.4m6.7 0h2.7m7.9 0h3m19.2 0h2.8m7.8 0h1.8m-.6 0h2.9m3.8 0h2.1m26.3 0h2m2.6 0h2m75.8 0h2.4m7.9 0h2.9m3.7 0h3.2m14.1 0h2.9m82.7 0h2.6m40.5 0h2.9m13.7 0h2.1m19.4 0h2.9m-.6 0h2.9m53.8 0h2.9m1.7 0h2.9m2.8 0h2.9m12.2 0h2.8m.6 0h2.4m-.6 0h3.1m-.6 0h4m-.6 0h2.9m-.6 0h1.7m-.6 0h2.9m-.6 0h3.1m1.6 0h1.7m-.6 0h2.9m-.6 0h2.9m138.8 0h2.6M287.1 465.8h3.1m-.7 0h2.8m44.2 0h2.8m-.6 0h2.6m29.4 0h1.7m23.4 0h2.8m228.5 0h2.9m-.5 0h1.8m-.6 0h2.9m-.6 0h3.7m-.6 0h2.9m-.6 0h2.5m-.6 0h2.5m-.6 0h2.6m-.6 0h2.8m9.5 0h2.9m44.1 0h3.2m4 0h2.9m8.2 0h3.4m16 0h2.9m8.7 0h2.8m1.6 0h2.9m-.6 0h1.8m46.3 0h2.6m15.4 0h2.9m3.8 0h2.8m28.2 0h3.1m32.4 0h2.8m14.2 0h2.9m74.4 0h2.1m22 0h2.9m37 0h1.8m13 0h2.8m7.8 0h1.8m-.6 0h2.9m32.2 0h2m54.2 0h1.7m24.5 0h2.4m7.9 0h2.9m.5 0h2.9m.3 0h3.2m14.1 0h2.9m56.5 0h1.5m24.7 0h2.6m9.7 0h3.1m24.3 0h2.9m.5 0h2.9m37.5 0h2.9m53.8 0h2.9m22.5 0h2.8m.6 0h2.4m-.6 0h3.1m-.6 0h4m-.6 0h2.9m-.6 0h1.7m-.6 0h2.9m-.6 0h3.1m1.6 0h1.7m-.6 0h2.9m-.6 0h2.9m25.7 0h2.9m188.7 0h2.6m14.4 0h2.9M287.1 476.1h3.1m-.7 0h2.8m15.3 0h3.2m12.6 0h2.8m10.3 0h2.8m26.5 0h3.5m-.6 0h2.6m-.6 0h1.7m8.6 0h2.9m11.9 0h2.8m.6 0h2.9m27.5 0h3.1m41.4 0h3.1m6.2 0h2.9m39.1 0h3.2m5.9 0h3.2m16.3 0h3.1m10.8 0h3.1m42.7 0h2.9m10.5 0h2.9m3 0h3.7m-.6 0h2.9m-.6 0h2.5m-.6 0h2.5m-.6 0h2.6m-.6 0h2.8m-.6 0h3.7m9.8 0h2.9m40.7 0h3.2m4 0h2.9m8.2 0h3.4m16 0h2.9m12 0h1.7m1.7 0h1.8m46.3 0h2.6m22.1 0h2.8m63.7 0h2.8m14.2 0h2.9m96.2 0h2.9m-.6 0h2.9m39.5 0h2.9m20 0h1.8m1.7 0h2.9m-.6 0h1m1.1 0h2.1m24.3 0h2.6m-.6 0h2m80.4 0h2.4m7.9 0h2.9m.5 0h2.9m.3 0h3.2m31 0h2.9m39.6 0h1.5m-.6 0h2.9m22.4 0h2.6m6.3 0h2.9m.5 0h3.1m27.7 0h2.9m8 0h2.4m24.8 0h2.9m-.6 0h2.9m-.2 0h2.6m61.7 0h2.9m12.2 0h2.8m.6 0h2.4m-.6 0h3.1m-.6 0h4m-.6 0h2.9m-.6 0h1.7m-.6 0h2.9m-.6 0h3.1m1.6 0h1.7m-.6 0h2.9m49.7 0h2.9m88.5 0h2.6m19.9 0h2.8m6.5 0h2.8m2.8 0h2.9m71 0h2.9M287.1 486.4h3.1m-.7 0h2.8m9.6 0h2.9m31.7 0h2.8m-.6 0h2.6m29.4 0h1.7m35.5 0h3.1m18.6 0h3.1m95.3 0h2.9m37 0h3.1m45.8 0h2.9m3 0h2.8m1.6 0h2.9m-.5 0h1.8m-.6 0h2.9m-.6 0h3.7m-.6 0h2.9m-.6 0h2.5m-.6 0h2.5m-.6 0h2.6m-.6 0h2.8m-.6 0h3.7m36 0h2.1m22.5 0h2.9m8.2 0h3.4m16 0h2.9m8.7 0h2.8m.5 0h1.7m1.7 0h1.8m46.3 0h2.6m22.1 0h2.8m28.2 0h3.1m-.6 0h2.8m16.2 0h3.1m10.9 0h2.8m7.3 0h2.9m4 0h2.9m72.1 0h2.9m-.6 0h2.1m22 0h2.9m9.9 0h2.4m27.2 0h2.9m20 0h1.8m-.6 0h2.9m1.7 0h1m1.1 0h2.1m24.3 0h2.6m-.6 0h2m54.2 0h1.7m24.5 0h2.4m11.3 0h2.9m.3 0h3.2m73.5 0h1.5m8.5 0h3.1m13.1 0h2.6m6.3 0h2.9m.5 0h3.1m27.7 0h2.9m8 0h2.4m-.6 0h2.9m22.5 0h2.9m-.6 0h2.9m53.8 0h2.9m22.5 0h2.8m2.4 0h3.1m-.6 0h4m1.7 0h1.7m-.6 0h2.9m-.6 0h3.1m-.7 0h2.9m-.6 0h1.7m-.6 0h2.9m8.7 0h2.9m16.4 0h2.9m21.1 0h2.9m118 0h2.8" stroke="#0000ff" stroke-width="8.3" fill="none"/><path d="M287.1 495.1h3.1m-.7 0h2.8m28.8 0h2.9m12.5 0h2.8m-.6 0h2.6m27.4 0h2.6m-.6 0h1.7m23.4 0h2.8m.6 0h2.9m5.8 0h3.1m63.1 0h3.1m12 0h2.9m8.3 0h2.9m24.7 0h2.9m37 0h3.1m45.8 0h2.9m3 0h2.8m1.6 0h2.9m-.5 0h1.8m-.6 0h2.9m-.6 0h3.7m-.6 0h2.9m-.6 0h2.5m-.6 0h2.5m-.6 0h2.6m-.6 0h2.8m-.6 0h3.7m34.2 0h2.4m24 0h2.9m8.2 0h3.4m16 0h2.9m8.7 0h2.8m52 0h2.6m22.1 0h2.8m30.7 0h2.8m1.6 0h1.8m26.8 0h2.8m-.6 0h2.9m5 0h2.9m4 0h2.9m96.2 0h2.9m-.6 0h2.9m37 0h1.8m13 0h2.8m7.8 0h1.8m-.6 0h2.9m-.6 0h2.9m1.3 0h.8m-.6 0h2.1m26.3 0h2m54.2 0h1.7m-.6 0h2.9m22.2 0h2.4m-.6 0h2.1m9.8 0h2.9m.3 0h3.2m33.3 0h2.1m14.1 0h2.9m21.1 0h1.5m-.6 0h2.9m6.2 0h3.1m22 0h2.9m.5 0h3.1m27.7 0h2.9m8 0h2.4m3.3 0h2.1m19.4 0h2.9m-.6 0h2.9m4.1 0h3.7m7 0h2.1m17.2 0h2.9m4.4 0h2.5m20.2 0h2.9m15.6 0h2.4m-.6 0h3.1m-.6 0h4m-.6 0h2.9m-.6 0h1.7m-.6 0h2.9m-.6 0h3.1m-.7 0h2.9m-.6 0h1.7m-.6 0h2.9m-.6 0h2.9m6.4 0h2.9m16.4 0h2.9m191.8 0h2.9m26.8 0h2.9" stroke="#0000ff" stroke-width="5" fill="none"/><path d="M307.6 403.8h.7m15.1 0h2.8m.9 0h2.8m.8 0h3.7m4.3 0h2.6m18.9 0h4.1m1.5 0h3.5m2.5 0h3.1m2.4 0h2.9m-.6 0h2m-.6 0h2.9m15.3 0h2.9m20.8 0h3.1m-.7 0h2.9m1.4 0h3.1m7.2 0h3.1m19.7 0h3.2m8.2 0h3.1m6.2 0h2.9m.6 0h2.9m-.6 0h2.9m-.6 0h2.6m6.3 0h2.9m2.7 0h3.1m6.3 0h2.9m-.6 0h2.4m-.6 0h3.4m2.5 0h3.2m-.6 0h2.9m3.6 0h3.2m16.3 0h3.1m10.8 0h3.1m18.4 0h2.6m-.6 0h2.9m2.2 0h2.8m-.6 0h1.8m-.6 0h2.4m3.3 0h2.6m-.6 0h2.9m-.6 0h1.8m2 0h2.9m.2 0h2.9m-.6 0h2.9m31.5 0h2.8m5.9 0h2.1m-.5 0h2.6m.6 0h3.1m.3 0h2.8m6.3 0h2.9m3.7 0h2.1m3.8 0h2.9m2.7 0h2.9m.7 0h2.9m-.6 0h3.2m4 0h2.9m43.6 0h2.9m1.7 0h2.9m7.3 0h3.2m-.6 0h2.9m90.4 0h2.9m-.6 0h1.8m4.8 0h2.1m-.5 0h2.9m3.5 0h3.1m13.1 0h2.9m31.1 0h2.9m4.1 0h2.9m-.6 0h2.8m5.2 0h2.9m12 0h2.9m18.3 0h2.9m-.5 0h2.9m-.6 0h2.1m-.6 0h2.6m1.6 0h3.1m25.5 0h3.2m-.6 0h2.4m-.5 0h2.4m-.6 0h3.7m-.6 0h2.9m-.6 0h2.7m-.6 0h2.7m5.8 0h3m-.6 0h3m-.6 0h3.2m16.3 0h2.9m3.3 0h2.9m2.9 0h2.9m1.3 0h.8m27.8 0h2m.3 0h2.9m-.6 0h2m17.6 0h2.5m-.6 0h2.5m-.6 0h2.4m-.5 0h2.5m-.6 0h2.5m.4 0h3.3m-.7 0h3.3m-.6 0h3.3m-.6 0h2.6m7.4 0h2.9m30.2 0h2.9m27.9 0h2.9m14 0h2.9m5.1 0h2.9m-.6 0h2.1m-.6 0h2.6m-.5 0h1.8m2.8 0h2.9m17.2 0h2.9m1.9 0h2.9m6.2 0h3.1m2.7 0h2.5m-.5 0h2.5m-.6 0h2.9m-.6 0h3.2m-.6 0h2.1m5 0h2.9m.5 0h2.9m4 0h2.5m-.6 0h2.5m-.5 0h2.5m-.6 0h2.5m-.6 0h2.5m7.5 0h3.4m2.8 0h2.9m7.4 0h2.9m5.2 0h2.1m1.3 0h4.1m-.5 0h2.5m-.6 0h2.5m-.6 0h4m-.6 0h4.1m2.1 0h2.9m4.8 0h2.6m-.6 0h2.9m-.6 0h3.7m-.7 0h3.4m5.9 0h2.9m1.7 0h2.9m-.6 0h3.2m1.4 0h2.5m-.5 0h2.5m-.6 0h2.9m-.6 0h2.9m-.6 0h3.7m-.6 0h2.5m-.6 0h2.5m9.9 0h2.9m7.4 0h2.9m15.6 0h2.4m8.7 0h2.9m1.8 0h2.9m9.8 0h2.9m-.6 0h2.9m.5 0h3.4m-.7 0h3.7m-.6 0h2.4m-.5 0h2.4m-.6 0h3.6m22.2 0h2.9m-.6 0h2.9m-.6 0h2.9m27.7 0h2.9m-.5 0h2.9m8.3 0h4m-.6 0h4.1m1 0h2.6m3.8 0h2.9m21.1 0h2.1m-.5 0h2.4m4 0h2.6m-.6 0h2.9m15.6 0h2.8m17.8 0h2.1m-.5 0h2.1m-.6 0h1.8m1.8 0h1.8m-.6 0h2.8m17.8 0h2.9m7.1 0h2.9m11 0h2.9M289.5 414.2h2.8m9.6 0h2.9m2.8 0h3.2m10.3 0h2.9m16.7 0h2.9m16.6 0h4.1m1.5 0h3.5m-.6 0h2.6m.5 0h3.1m2.4 0h2.9m-.6 0h2m17.6 0h2.9m20.8 0h3.1m26.6 0h2.9m7.2 0h3.2m8.2 0h3.1m6.2 0h2.9m.6 0h2.9m-.6 0h2.9m4.8 0h3.2m5.9 0h3.1m6.3 0h2.9m-.6 0h2.4m-.6 0h3.4m2.5 0h3.2m-.6 0h2.9m3.6 0h3.2m16.3 0h3.1m32.3 0h2.6m-.6 0h2.9m2.2 0h2.8m-.6 0h1.8m-.6 0h2.4m3.3 0h2.6m-.6 0h2.9m-.6 0h1.8m2 0h2.9m.2 0h2.9m-.6 0h2.9m.7 0h2.8m28 0h2.8m5.9 0h2.1m2.7 0h3.1m9.4 0h2.9m3.7 0h2.1m-.6 0h2.6m1.8 0h2.9m2.7 0h2.9m.7 0h2.9m-.6 0h3.2m46.1 0h2.8m1.6 0h2.9m1.7 0h2.9m7.3 0h3.2m90.6 0h2.8m-.7 0h2.9m-.6 0h1.8m4.8 0h2.1m5.9 0h3.1m13.1 0h2.9m5 0h2.9m23.2 0h2.9m4.1 0h2.9m-.6 0h2.8m5.2 0h2.9m12 0h2.9m18.3 0h2.9m-.5 0h2.9m.9 0h2.6m-.6 0h2.8m-.6 0h3.1m13 0h2.9m-.6 0h2.9m7.3 0h3.2m-.6 0h2.4m-.5 0h2.4m-.6 0h3.7m-.6 0h2.9m-.6 0h2.7m-.6 0h2.7m3.3 0h3m-.5 0h3m1.8 0h3.2m1.9 0h2.9m9.4 0h2.8m-.7 0h2.9m39.9 0h2.6m1.7 0h2.9m19 0h2.5m-.6 0h2.5m-.6 0h2.4m-.5 0h2.5m-.6 0h2.5m.4 0h3.3m-.7 0h3.3m-.6 0h3.3m-.6 0h2.6m7.4 0h2.9m1.7 0h2.9m60.7 0h2.9m17.7 0h2.9m-.6 0h2.1m-.6 0h2.6m24.2 0h2.9m16.8 0h2.5m-.5 0h2.5m-.6 0h2.9m-.6 0h3.2m6.5 0h2.9m.5 0h2.9m5.9 0h2.5m-.5 0h2.5m-.6 0h2.5m-.6 0h2.5m-.6 0h2.5m5.6 0h3.4m2.8 0h2.9m13.2 0h2.9m-.6 0h2.1m1.3 0h4.1m-.5 0h2.5m-.6 0h2.5m2.8 0h4.1m.2 0h2.4m-.5 0h2.9m4.8 0h2.6m-.6 0h2.9m-.6 0h3.7m-.7 0h3.4m4.3 0h2.1m-.5 0h2.9m4 0h3.2m7.6 0h2.9m-.6 0h3.7m-.6 0h2.5m-.6 0h2.5m9.9 0h2.9m1.7 0h2.9m17.9 0h2.8m22.1 0h2.9m4.1 0h2.9m2.8 0h3.4m-.7 0h3.7m-.6 0h2.4m-.5 0h2.4m-.6 0h3.6m22.2 0h2.9m-.6 0h2.9m-.6 0h2.9m27.7 0h2.9m-.5 0h2.9m8.3 0h4m-.6 0h4.1m7.4 0h2.9m13.3 0h2.9m4.9 0h2.1m-.5 0h2.4m6 0h2.9m15.6 0h2.8m6.5 0h2.8m8.5 0h2.1m-.5 0h2.1m-.6 0h1.8m1.8 0h1.8m-.6 0h2.8m27.8 0h2.9M301.9 424.5h2.9m16.3 0h2.9m16.7 0h2.9m1.7 0h3.2m11.7 0h4.1m1.5 0h3.5m-.6 0h2.6m.5 0h3.1m2.4 0h2.9m-.6 0h2m-.6 0h2.9m15.3 0h2.9m5.8 0h3.1m28.9 0h3.1m9.6 0h2.9m7.2 0h3.2m17.5 0h2.9m.6 0h2.9m7.1 0h3.2m.3 0h2.9m2.7 0h3.1m6.3 0h2.9m-.6 0h2.4m-.6 0h3.4m12.8 0h2m16.3 0h3.1m10.8 0h3.1m18.4 0h2.6m-.6 0h2.9m2.2 0h2.8m-.6 0h1.8m-.6 0h2.4m3.3 0h2.6m-.6 0h2.9m-.6 0h1.8m2 0h2.9m.2 0h2.9m-.6 0h2.9m.7 0h2.8m31 0h2.9m2.8 0h2.1m-.5 0h2.6m.6 0h3.1m.3 0h2.8m6.3 0h2.9m3.7 0h2.1m-.6 0h2.6m1.8 0h2.9m2.7 0h2.9m.7 0h2.9m417 0h2.9m-.6 0h2m17.6 0h2.5m-.6 0h2.5m1.3 0h2.5m-.6 0h2.5m.4 0h3.3m-.7 0h3.3m-.6 0h3.3m-.6 0h2.6m7.4 0h2.9m.6 0h1.7m-.6 0h2.9m25.6 0h2.9m27.9 0h2.9m1.4 0h2.9m17.7 0h2.9m-.6 0h2.1m-.6 0h2.6m-.5 0h1.8m22.9 0h2.9m1.9 0h2.9m6.2 0h3.1m2.7 0h2.5m1.4 0h2.9m-.6 0h3.2m16.8 0h2.5m-.6 0h2.5m-.5 0h2.5m-.6 0h2.5m-.6 0h2.5m-.6 0h2.5m11.8 0h2.9m7.4 0h2.9m5.2 0h2.1m1.3 0h4.1m-.5 0h2.5m-.6 0h2.5m-.6 0h4m-.6 0h4.1m2.1 0h2.9m4.8 0h2.6m1.7 0h3.7m-.7 0h3.4m5.9 0h2.9m4 0h3.2m3.4 0h2.5m-.6 0h2.9m-.6 0h2.9m-.6 0h3.7m-.6 0h2.5m-.6 0h2.5m20.2 0h2.9m12.2 0h2.8m22.1 0h2.9m4.1 0h2.9m2.8 0h3.4m-.7 0h3.7m-.6 0h2.4m-.5 0h2.4m-.6 0h3.6m26.8 0h2.9m27.7 0h2.9m-.5 0h2.9m8.3 0h4m2.9 0h2.1m-.5 0h2.6m3.8 0h2.9m13.3 0h2.9m4.9 0h2.1m5.9 0h2.6m-.6 0h2.9m15.6 0h2.8m19.4 0h2.1m-.6 0h1.8m1.8 0h1.8m-.6 0h2.8m17.8 0h2.9m1.9 0h2.8m2.4 0h2.9m26.8 0h2.9M321.1 434.8h2.9m-.6 0h2.8m.9 0h2.8m.8 0h3.7m4.3 0h2.6m4 0h3.2m17.3 0h3.5m2.5 0h3.1m4.7 0h2m26.3 0h3.1m11.9 0h3.1m-.7 0h2.9m11.8 0h3.1m9.5 0h2.9m18.6 0h3.1m6.2 0h2.9m.6 0h2.9m1.7 0h2.6m11.9 0h3.1m6.3 0h2.9m-.6 0h2.4m-.6 0h3.4m31.1 0h3.1m10.8 0h3.1m18.4 0h2.6m-.6 0h2.9m4.4 0h1.8m-.6 0h2.4m3.3 0h2.6m-.6 0h2.9m-.6 0h1.8m2 0h2.9m36.9 0h2.8m.2 0h2.9m2.8 0h2.1m-.5 0h2.6m.6 0h3.1m.3 0h2.8m6.3 0h2.9m1.9 0h2.4m.9 0h2.6m1.8 0h2.9m2.7 0h2.9m.7 0h2.1m-.6 0h1.4m412.7 0h2.6m-.6 0h2m.3 0h2.9m19 0h2.5m-.6 0h2.5m3.2 0h2.5m.4 0h3.3m-.7 0h3.3m-.6 0h3.3m-.6 0h2.6m7.4 0h2.9m30.2 0h2.9m10.6 0h3.2m18.4 0h2.9m9.7 0h2.9m5.1 0h2.9m-.6 0h2.1m1.5 0h1.8m2.8 0h2.9m17.2 0h2.9m1 0h1.5m-.6 0h2.9m6.2 0h3.1m2.7 0h2.5m-.5 0h2.5m-.6 0h2.9m-.6 0h3.2m-.6 0h2.1m15.3 0h2.5m-.6 0h2.5m-.5 0h2.5m-.6 0h2.5m-.6 0h2.5m7.5 0h3.4m6.2 0h2.9m4 0h2.9m2.9 0h2.9m1 0h2.1m-.3 0h4.1m-.5 0h2.5m-.6 0h2.5m2.8 0h4.1m.2 0h2.4m-.5 0h2.9m4.8 0h2.6m-.6 0h2.9m-.6 0h3.7m-.7 0h3.4m5.9 0h2.9m4 0h3.2m1.4 0h2.5m-.5 0h2.5m4 0h3.7m-.6 0h2.5m-.6 0h2.5m9.9 0h2.9m1.7 0h2.9m2.8 0h2.9m31.4 0h2.9m.5 0h2.9m-.6 0h2.9m4.1 0h2.9m-.6 0h2.9m.5 0h3.4m-.7 0h3.7m-.6 0h2.4m1.3 0h3.6m22.2 0h2.9m-.6 0h2.9m-.6 0h2.9m30.1 0h2.9m8.3 0h4m-.6 0h4.1m-.6 0h2.1m-.5 0h2.6m3.8 0h2.9m21.1 0h2.1m-.5 0h2.4m4 0h2.6m-.6 0h2.9m15.6 0h2.8m17.8 0h2.1m-.5 0h2.1m-.6 0h1.8m3 0h2.8m22.6 0h2.8m2.4 0h2.9m26.8 0h2.9M307.6 445.1h3.2m10.3 0h2.9m-.6 0h2.8m19.1 0h3.2m11.7 0h4.1m13 0h2.9m.8 0h2.9m15.3 0h2.9m20.8 0h3.1m-.7 0h2.9m24.4 0h2.9m7.2 0h3.2m17.5 0h2.9m.6 0h2.9m-.6 0h2.9m4.8 0h3.2m.3 0h2.9m2.7 0h3.1m8.6 0h2.4m-.6 0h3.4m5.1 0h2.9m23.1 0h3.1m10.8 0h3.1m18.4 0h2.6m-.6 0h2.9m4.4 0h1.8m-.6 0h2.4m3.3 0h2.6m-.6 0h2.9m-.6 0h1.8m2 0h2.9m.2 0h2.9m-.6 0h2.9m34.5 0h2.9m2.8 0h2.1m-.5 0h2.6m.6 0h3.1m.3 0h2.8m11.1 0h2.4m.9 0h2.6m7.4 0h2.9m416.3 0h2.6m1.7 0h2.9m20.9 0h2.5m-.6 0h2.4m-.5 0h2.5m2.3 0h3.3m-.7 0h3.3m-.6 0h3.3m-.6 0h2.6m7.4 0h2.9m1.7 0h2.9m25.6 0h2.9m32.2 0h2.9m9.7 0h2.9m5.1 0h2.9m27.7 0h2.9m1.9 0h2.9m6.2 0h3.1m2.7 0h2.5m-.5 0h2.5m-.6 0h2.9m-.6 0h3.2m6.5 0h2.9m7.4 0h2.5m-.6 0h2.5m-.5 0h2.5m1.3 0h2.5m-.6 0h2.5m5.6 0h3.4m13.1 0h2.9m5.2 0h2.1m1.3 0h4.1m1.4 0h2.5m-.6 0h4m-.6 0h4.1m2.1 0h2.9m6.8 0h2.9m-.6 0h3.7m-.7 0h3.4m5.9 0h2.9m4 0h3.2m1.4 0h2.5m-.5 0h2.5m-.6 0h2.9m1.7 0h3.7m-.6 0h2.5m-.6 0h2.5m20.2 0h2.9m44.1 0h2.9m2.8 0h3.4m-.7 0h3.7m-.6 0h2.4m-.5 0h2.4m-.6 0h3.6m22.2 0h2.9m1.7 0h2.9m30.1 0h2.9m8.3 0h4m-.6 0h4.1m-.6 0h2.1m5.9 0h2.9m13.3 0h2.9m4.9 0h2.1m-.5 0h2.4m4 0h2.6m-.6 0h2.9m15.6 0h2.8m17.8 0h2.1m-.5 0h2.1m3 0h1.8m-.6 0h2.8m17.8 0h2.9m1.9 0h2.8m-.7 0h2.6m.5 0h2.9m26.8 0h2.9M307.6 455.4h3.2m12.6 0h2.8m.9 0h2.8m.8 0h3.7m4.3 0h2.6m-.6 0h2.9m16.6 0h4.1m15.3 0h2m41.3 0h3.1m3.6 0h3.1m7.2 0h3.1m19.7 0h3.2m8.2 0h3.1m6.2 0h2.9m.6 0h2.9m-.6 0h2.9m-.6 0h2.6m6.3 0h2.9m2.7 0h3.1m8.6 0h2.4m-.6 0h3.4m5.1 0h2.9m3.6 0h3.2m30.2 0h3.1m18.4 0h2.6m-.6 0h2.9m2.2 0h2.8m-.6 0h1.8m-.6 0h2.4m5.3 0h2.9m3.2 0h2.9m2.5 0h2.9m31.5 0h2.8m7.5 0h2.6m.6 0h3.1m.3 0h2.8m6.3 0h2.9m9.6 0h2.9m2.7 0h2.9m.7 0h2.9m53.1 0h2.9m-.6 0h1.8m.5 0h2.9m7.3 0h3.2m-.6 0h2.9m90.4 0h2.9m-.6 0h1.8m6.4 0h2.9m43.6 0h2.9m7.2 0h2.9m4.1 0h2.9m-.6 0h2.8m20.1 0h2.9m18.3 0h2.9m-.5 0h2.9m-.6 0h2.1m-.6 0h2.6m-.6 0h2.8m-.6 0h3.1m15.3 0h2.9m7.3 0h3.2m1.3 0h2.4m-.6 0h3.7m-.6 0h2.9m1.5 0h2.7m3.3 0h3m1.9 0h3m-.6 0h3.2m-.6 0h1.8m15.1 0h2.9m3.3 0h2.9m5.2 0h1m27.5 0h2.6m1.7 0h2.9m20.9 0h2.5m-.6 0h2.4m-.5 0h2.5m-.6 0h2.5m.4 0h3.3m-.7 0h3.3m-.6 0h3.3m-.6 0h2.6m7.4 0h2.9m.6 0h1.7m-.6 0h2.9m24 0h2.1m-.5 0h2.9m32.2 0h2.9m9.7 0h2.9m-.6 0h2.1m3.6 0h2.9m-.6 0h2.1m-.6 0h2.6m-.5 0h1.8m22.9 0h2.9m1 0h1.5m-.6 0h2.9m6.2 0h3.1m2.7 0h2.5m-.5 0h2.5m-.6 0h2.9m-.6 0h3.2m-.6 0h2.1m5 0h2.9m.5 0h2.9m4 0h2.5m-.6 0h2.5m-.5 0h2.5m3.2 0h2.5m11.8 0h2.9m7.4 0h2.9m1.1 0h2.4m-.6 0h2.9m-.6 0h2.1m1.3 0h4.1m-.5 0h2.5m-.6 0h2.5m-.6 0h4m-.6 0h4.1m.2 0h2.4m-.5 0h2.9m4.8 0h2.6m-.6 0h2.9m2.4 0h3.4m4.3 0h2.1m-.5 0h2.9m1.7 0h2.9m4 0h2.5m-.5 0h2.5m-.6 0h2.9m-.6 0h2.9m-.6 0h3.7m1.3 0h2.5m67.2 0h2.9m-.6 0h2.9m.5 0h3.4m-.7 0h3.7m-.6 0h2.4m-.5 0h2.4m-.6 0h3.6m2.8 0h2.9m16.5 0h2.9m-.6 0h2.9m-.6 0h2.9m27.7 0h2.9m14.1 0h4.1m-.6 0h2.1m-.5 0h2.6m3.8 0h2.9m13.3 0h2.9m4.9 0h2.1m-.5 0h2.4m4 0h2.6m-.6 0h2.9m15.6 0h2.8m6.5 0h2.8m2.8 0h2.9m2.8 0h2.1m-.5 0h2.1m-.6 0h1.8m1.8 0h1.8m-.6 0h2.8m17.8 0h2.9m1.9 0h2.8m-.7 0h2.6m14.4 0h2.9m12.9 0h2.9M301.9 465.8h2.9m2.8 0h3.2m10.3 0h2.9m-.6 0h2.8m.9 0h2.8m.8 0h3.7m6.3 0h2.9m1.7 0h3.2m11.7 0h4.1m1.5 0h3.5m2.5 0h3.1m2.4 0h2.9m-.6 0h2m-.6 0h2.9m24 0h3.1m14.3 0h2.9m1.4 0h3.1m7.2 0h3.1m9.6 0h2.9m7.2 0h3.2m8.2 0h3.1m6.2 0h2.9m.6 0h2.9m-.6 0h2.9m-.6 0h2.6m2.8 0h3.2m.3 0h2.9m2.7 0h3.1m6.3 0h2.9m-.6 0h2.4m-.6 0h3.4m2.5 0h3.2m-.6 0h2.9m3.6 0h3.2m16.3 0h3.1m10.8 0h3.1m18.4 0h2.6m4.5 0h2.8m-.6 0h1.8m-.6 0h2.4m3.3 0h2.6m-.6 0h2.9m-.6 0h1.8m2 0h2.9m.2 0h2.9m-.6 0h2.9m.7 0h2.8m20.9 0h3.7m3.4 0h2.8m3.6 0h2.9m-.6 0h2.1m2.7 0h3.1m.3 0h2.8m6.3 0h2.9m1.9 0h2.4m5.3 0h2.9m2.7 0h2.9m.7 0h2.9m57.7 0h2.9m7.3 0h3.2m-.6 0h2.9m88.3 0h2.8m-.7 0h2.9m6 0h2.1m-.5 0h2.9m3.5 0h3.1m13.1 0h2.9m5 0h2.9m23.2 0h2.9m6.4 0h2.8m5.2 0h2.9m12 0h2.9m18.3 0h2.9m-.5 0h2.9m.9 0h2.6m-.6 0h2.8m-.6 0h3.1m13.8 0h2.1m9.6 0h3.2m-.6 0h2.4m-.5 0h2.4m-.6 0h3.7m1.7 0h2.7m-.6 0h2.7m3.3 0h3m-.5 0h3m-.6 0h3m-.6 0h3.2m16.3 0h2.9m3.3 0h2.9m2.9 0h2.9m-.6 0h1m.9 0h.8m-.6 0h2.1m24.3 0h2.6m4 0h2m17.6 0h2.5m1.3 0h2.4m-.5 0h2.5m-.6 0h2.5m.4 0h3.3m-.7 0h3.3m-.6 0h3.3m-.6 0h2.6m7.4 0h2.9m1.7 0h2.9m24 0h2.1m-.5 0h2.9m44.8 0h2.9m-.6 0h2.1m3.6 0h2.9m-.6 0h2.1m-.6 0h2.6m-.5 0h1.8m27.7 0h2.9m6.2 0h3.1m2.7 0h2.5m-.5 0h2.5m-.6 0h2.9m-.6 0h3.2m-.6 0h2.1m5 0h2.9m7.4 0h2.5m-.6 0h2.5m-.5 0h2.5m-.6 0h2.5m-.6 0h2.5m-.6 0h2.5m5.6 0h3.4m13.1 0h2.9m1.1 0h2.4m1.7 0h2.1m1.3 0h4.1m1.4 0h2.5m-.6 0h4m-.6 0h4.1m.2 0h2.4m-.5 0h2.9m-.2 0h2.9m4.1 0h2.9m-.6 0h3.7m-.7 0h3.4m4.3 0h2.1m-.5 0h2.9m1.7 0h2.9m4 0h2.5m-.5 0h2.5m-.6 0h2.9m-.6 0h2.9m-.6 0h3.7m-.6 0h2.5m-.6 0h2.5m14.5 0h2.9m2.8 0h2.9m44.1 0h2.9m-.6 0h2.9m.5 0h3.4m-.7 0h3.7m-.6 0h2.4m-.5 0h2.4m-.6 0h3.6m22.2 0h2.9m-.6 0h2.9m-.6 0h2.9m27.7 0h2.9m-.5 0h2.9m8.3 0h4m-.6 0h4.1m-.6 0h2.1m-.5 0h2.6m3.8 0h2.9m13.3 0h2.9m4.9 0h2.1m-.5 0h2.4m2 0h2.6m1.4 0h2.9m15.6 0h2.8m6.5 0h2.8m8.5 0h2.1m-.5 0h2.1m-.6 0h1.8m1.8 0h1.8m-.6 0h2.8m22.6 0h2.8m2.4 0h2.9m26.8 0h2.9M301.9 476.1h2.9m16.3 0h2.9m3.1 0h2.8m.8 0h3.7m4.3 0h2.6m4 0h3.2m11.7 0h4.1m15.3 0h2m26.3 0h3.1m11.9 0h3.1m-.7 0h2.9m11.8 0h3.1m19.6 0h3.2m21 0h2.9m-.6 0h2.9m-.6 0h2.6m2.8 0h3.2m.3 0h2.9m2.7 0h3.1m6.3 0h2.9m-.6 0h2.4m-.6 0h3.4m5.1 0h2.9m58.5 0h2.6m-.6 0h2.9m2.2 0h2.8m-.6 0h1.8m-.6 0h2.4m3.3 0h2.6m-.6 0h2.9m-.6 0h1.8m5.1 0h2.9m-.6 0h2.9m7.5 0h1.8m-.6 0h2.9m19.9 0h2.8m7.5 0h2.6m.6 0h3.1m.3 0h2.8m6.3 0h2.9m1.9 0h2.4m-.6 0h2.1m-.6 0h2.6m1.8 0h2.9m2.7 0h2.9m.7 0h2.9m48.7 0h2.8m1.6 0h2.9m1.7 0h2.9m7.3 0h3.2m-.6 0h2.9m85.8 0h3.1m1.5 0h2.9m6 0h2.1m-.5 0h2.9m3.5 0h3.1m37 0h2.9m7.2 0h2.9m6.4 0h2.8m5.2 0h2.9m12 0h2.9m18.3 0h2.9m-.5 0h2.9m-.6 0h2.1m-.6 0h2.6m-.6 0h2.8m-.6 0h3.1m25.5 0h3.2m-.6 0h2.4m1.3 0h3.7m-.6 0h2.9m-.6 0h2.7m-.6 0h2.7m3.3 0h3m-.5 0h3m-.6 0h3m-.6 0h3.2m-.6 0h1.8m13 0h2.8m-.7 0h2.9m3.3 0h2.9m.6 0h2.9m3.6 0h.8m30.1 0h2.9m-.6 0h2m17.6 0h2.5m-.6 0h2.5m-.6 0h2.4m-.5 0h2.5m-.6 0h2.5m.4 0h3.3m-.7 0h3.3m2.1 0h2.6m7.4 0h2.9m.6 0h1.7m-.6 0h2.9m24 0h2.1m-.5 0h2.9m47.1 0h2.1m3.6 0h2.9m-.6 0h2.1m-.6 0h2.6m-.5 0h1.8m2.8 0h2.9m17.2 0h2.9m11 0h3.1m2.7 0h2.5m1.4 0h2.9m-.6 0h3.2m-.6 0h2.1m5 0h2.9m7.4 0h2.5m-.6 0h2.5m-.5 0h2.5m-.6 0h2.5m-.6 0h2.5m-.6 0h2.5m5.6 0h3.4m2.8 0h2.9m7.4 0h2.9m2.9 0h2.9m-.6 0h2.1m-.5 0h2.1m-.3 0h4.1m-.5 0h2.5m1.3 0h4m-.6 0h4.1m2.1 0h2.9m6.8 0h2.9m-.6 0h3.7m-.7 0h3.4m5.9 0h2.9m1.7 0h2.9m4 0h2.5m-.5 0h2.5m-.6 0h2.9m-.6 0h2.9m-.6 0h3.7m-.6 0h2.5m-.6 0h2.5m9.9 0h2.9m1.7 0h2.9m49.8 0h2.9m-.6 0h2.9m.5 0h3.4m-.7 0h3.7m-.6 0h2.4m-.5 0h2.4m-.6 0h3.6m2.8 0h2.9m16.5 0h2.9m1.7 0h2.9m30.1 0h2.9m8.3 0h4m-.6 0h4.1m-.6 0h2.1m-.5 0h2.6m3.8 0h2.9m21.1 0h2.1m-.5 0h2.4m45.1 0h2.1m-.5 0h2.1m-.6 0h1.8m1.8 0h1.8m-.6 0h2.8m17.8 0h2.9m4 0h2.6m.5 0h2.9m11 0h2.9M307.6 486.4h3.2m10.3 0h2.9m-.6 0h2.8m.9 0h2.8m.8 0h3.7m6.3 0h2.9m16.6 0h4.1m1.5 0h3.5m-.6 0h2.6m.5 0h3.1m2.4 0h2.9m-.6 0h2m-.6 0h2.9m15.3 0h2.9m20.8 0h3.1m-.7 0h2.9m11.8 0h3.1m9.5 0h2.9m7.2 0h3.2m8.2 0h3.1m6.2 0h2.9m.6 0h2.9m-.6 0h2.9m-.6 0h2.6m2.8 0h3.2m.3 0h2.9m12.1 0h2.9m-.6 0h2.4m-.6 0h3.4m2.5 0h3.2m5.9 0h3.2m16.3 0h3.1m32.3 0h2.6m-.6 0h2.9m2.2 0h2.8m-.6 0h1.8m5.1 0h2.6m-.6 0h2.9m8.6 0h2.9m31.5 0h2.8m.2 0h2.9m2.8 0h2.1m-.5 0h2.6m.6 0h3.1m.3 0h2.8m6.3 0h2.9m9.6 0h2.9m2.7 0h2.9m.7 0h2.9m-.6 0h3.2m50.5 0h2.9m1.7 0h2.9m7.3 0h3.2m-.6 0h2.9m48.1 0h2.9m39.4 0h2.9m-.6 0h1.8m4.8 0h2.1m-.5 0h2.9m19.7 0h2.9m21 0h2.9m7.2 0h2.9m4.1 0h2.9m-.6 0h2.8m5.2 0h2.9m12 0h2.9m1.7 0h2.9m13.7 0h2.9m7.5 0h3.1m13 0h2.9m9.6 0h3.2m1.3 0h2.4m-.6 0h3.7m-.6 0h2.9m-.6 0h2.7m-.6 0h2.7m8.2 0h3m-.6 0h3.2m-.6 0h1.8m13 0h2.8m-.7 0h2.9m3.3 0h2.9m2.9 0h2.9m32.2 0h2.9m-.6 0h2m17.6 0h2.5m-.6 0h2.5m-.6 0h2.4m-.5 0h2.5m-.6 0h2.5m.4 0h3.3m-.7 0h3.3m-.6 0h3.3m-.6 0h2.6m7.4 0h2.9m1.7 0h2.9m25.6 0h2.9m4 0h2.9m25.3 0h2.9m9.7 0h2.9m-.6 0h2.1m3.6 0h2.9m.9 0h2.6m-.5 0h1.8m2.8 0h2.9m17.2 0h2.9m1.9 0h2.9m12 0h2.5m-.5 0h2.5m-.6 0h2.9m-.6 0h3.2m-.6 0h2.1m15.3 0h2.5m-.6 0h2.5m-.5 0h2.5m3.2 0h2.5m5.6 0h3.4m2.8 0h2.9m7.4 0h2.9m5.2 0h2.1m-.5 0h2.1m-.3 0h4.1m-.5 0h2.5m-.6 0h2.5m-.6 0h4m-.6 0h4.1m.2 0h2.4m-.5 0h2.9m4.8 0h2.6m-.6 0h2.9m2.4 0h3.4m4.3 0h2.1m-.5 0h2.9m1.7 0h2.9m-.6 0h3.2m1.4 0h2.5m1.4 0h2.9m-.6 0h2.9m-.6 0h3.7m-.6 0h2.5m-.6 0h2.5m20.2 0h2.9m15.6 0h2.4m5.3 0h2.9m10.9 0h2.9m4.1 0h2.9m2.8 0h3.4m-.7 0h3.7m-.6 0h2.4m-.5 0h2.4m-.6 0h3.6m22.2 0h2.9m-.6 0h2.9m30 0h2.9m-.5 0h2.9m8.3 0h4m2.9 0h2.1m-.5 0h2.6m3.8 0h2.9m13.3 0h2.9m6.5 0h2.4m2 0h2.6m-.6 0h2.6m-.6 0h2.9m15.6 0h2.8m12.1 0h2.9m2.8 0h2.1m-.5 0h2.1m-.6 0h1.8m1.8 0h1.8m-.6 0h2.8m17.8 0h2.9m1.9 0h2.8m-.7 0h2.6m.5 0h2.9m11 0h2.9m12.9 0h2.9" stroke="#ff0000" stroke-width="8.3" fill="none"/><path d="M301.9 495.1h2.9m2.8 0h3.2m12.6 0h2.8m.9 0h2.8m.8 0h3.7m6.3 0h2.9m1.7 0h3.2m17.3 0h3.5m8 0h2.9m-.6 0h2m-.6 0h2.9m39 0h3.1m-.7 0h2.9m1.4 0h3.1m19.9 0h2.9m7.2 0h3.2m17.5 0h2.9m.6 0h2.9m1.7 0h2.6m11.9 0h3.1m6.3 0h2.9m1.2 0h3.4m2.5 0h3.2m5.9 0h3.2m16.3 0h3.1m32.3 0h2.6m4.5 0h2.8m-.6 0h1.8m-.6 0h2.4m5.3 0h2.9m-.6 0h1.8m2 0h2.9m36.9 0h2.8m5.9 0h2.1m-.5 0h2.6m.6 0h3.1m.3 0h2.8m6.3 0h2.9m3.7 0h2.1m-.6 0h2.6m1.8 0h2.9m6.3 0h2.9m-.6 0h3.2m49.4 0h1.7m-.6 0h2.9m11.9 0h3.2m50.4 0h2.9m34.8 0h3.1m1.5 0h2.9m6 0h2.1m-.5 0h2.9m3.5 0h3.1m37 0h2.9m7.2 0h2.9m4.1 0h2.9m-.6 0h2.8m5.2 0h2.9m12 0h2.9m1.7 0h2.9m13.7 0h2.9m-.5 0h2.9m-.6 0h2.1m-.6 0h2.6m-.6 0h2.8m-.6 0h3.1m25.5 0h3.2m-.6 0h2.4m-.5 0h2.4m-.6 0h3.7m-.6 0h2.9m-.6 0h2.7m5.4 0h3m-.5 0h3m-.6 0h3m-.6 0h3.2m1.9 0h2.9m11.5 0h2.9m3.3 0h2.9m5.2 0h1m31.8 0h2.9m19 0h2.5m-.6 0h2.5m-.6 0h2.4m1.4 0h2.5m.4 0h3.3m-.7 0h3.3m-.6 0h3.3m-.6 0h2.6m7.4 0h2.9m30.2 0h2.9m4 0h2.9m21 0h2.9m1.4 0h2.9m9.7 0h2.9m5.1 0h2.9m.9 0h2.6m-.5 0h1.8m42.6 0h2.5m1.4 0h2.9m-.6 0h3.2m-.6 0h2.1m5 0h2.9m7.4 0h2.5m-.6 0h2.5m-.5 0h2.5m-.6 0h2.5m-.6 0h2.5m-.6 0h2.5m5.6 0h3.4m2.8 0h2.9m13.2 0h2.9m2.8 0h4.1m-.5 0h2.5m-.6 0h2.5m-.6 0h4m5.6 0h2.9m6.8 0h2.9m11.7 0h2.9m1.7 0h2.9m-.6 0h3.2m1.4 0h2.5m-.5 0h2.5m-.6 0h2.9m1.7 0h3.7m-.6 0h2.5m11.8 0h2.9m1.7 0h2.9m49.8 0h2.9m2.8 0h3.4m-.7 0h3.7m-.6 0h2.4m-.5 0h2.4m-.6 0h3.6m22.2 0h2.9m-.6 0h2.9m-.6 0h2.9m27.7 0h2.9m-.5 0h2.9m8.3 0h4m-.6 0h4.1m-.6 0h2.1m-.5 0h2.6m3.8 0h2.9m13.3 0h2.9m4.9 0h2.1m-.5 0h2.4m2 0h2.6m-.6 0h2.6m-.6 0h2.9m15.6 0h2.8m6.5 0h2.8m2.8 0h2.9m2.8 0h2.1m-.5 0h2.1m-.6 0h1.8m1.8 0h1.8m-.6 0h2.8m17.8 0h2.9m1.9 0h2.8m-.7 0h2.6" stroke="#ff0000" stroke-width="5" fill="none"/><path d="M1258.5 403.8h3.4m385.4 0h3.4M1358.9 414.2h3.4M1058.5 424.5h3.4M541.9 434.8h3.4m1050.5 0h3.4M817.5 445.1h3.4M683.9 455.4h3.4m267 0h3.4m173.5 0h3.4M1050.1 465.8h3.4M1595.3 486.4h3.4" stroke="#8a2be2" stroke-width="8.3" fill="none"/><path d="M1582.8 403.8h1.2M1087.8 424.5h1.2M701.8 434.8h1.2m384.8 0h1.2M747.8 445.1h1.2M777.3 455.4h1.2M1087.8 465.8h1.2M1087.8 486.4h1.2" stroke="#ff3ec8" stroke-width="8.3" fill="none"/><path d="M1087.8 495.1h1.2" stroke="#ff3ec8" stroke-width="5" fill="none"/><path d="M443.2 403.8h1.8m106.6 0h1.8m146.8 0h1.8m2.1 0h1.8m506.3 0h1.8m58.6 0h1.8m53.8 0h1.8m245.4 0h1.8m127.2 0h1.8M301.7 414.2h1.8m173.7 0h1.8m80.1 0h1.8m22.7 0h1.8m6.4 0h1.8m556.7 0h1.8m138.1 0h1.8m191.3 0h1.8m208.4 0h1.8M433.5 424.5h1.8m57.5 0h1.8m123.5 0h1.8m234.6 0h1.8m4.1 0h1.8m387.4 0h1.8m22.8 0h1.8m88.9 0h1.8m339.2 0h1.8M287.9 434.8h1.8m190.3 0h1.8m486.6 0h1.8m19.3 0h1.8m110.6 0h1.8m40 0h1.8m87.6 0h1.8m299.5 0h1.8m124.3 0h1.8m.9 0h1.8M319.9 445.1h1.8m14.7 0h1.8m24.5 0h1.8m505.4 0h1.8m26.8 0h1.8m422.3 0h1.8m40.3 0h1.8m97.2 0h1.8m264.6 0h1.8M329.9 455.4h1.8m189 0h1.8m180.5 0h1.8m18.6 0h1.8m182.9 0h1.8m146.4 0h1.8m188.3 0h1.8m59.1 0h1.8m204.8 0h1.8m157.4 0h1.8M359.2 465.8h1.8m61 0h1.8m156.8 0h1.8m383 0h1.8m104.6 0h1.8m423.6 0h1.8m17.8 0h1.8m122.3 0h1.8m72 0h1.8M358.6 476.1h1.8m84.1 0h1.8m17.9 0h1.8m405.2 0h1.8m53.4 0h1.8m140.2 0h1.8m25.5 0h1.8m34.4 0h1.8m242.2 0h1.8m388.1 0h1.8M550.8 486.4h1.8m162.7 0h1.8m181.5 0h1.8m77.2 0h1.8m43.4 0h1.8m8.2 0h1.8m145.4 0h1.8m161.3 0h1.8m160.9 0h1.8m96.8 0h1.8M628.4 495.1h1.8m221.6 0h1.8m12.7 0h1.8m58.2 0h1.8m149.6 0h1.8m5.6 0h1.8m36.4 0h1.8m52.2 0h1.8m218.8 0h1.8m99.4 0h1.8m155.5 0h1.8" stroke="#444" stroke-width="1.8" fill="none"/></g><rect x="281" y="497.6" width="1493" height="1.6" fill="#8c8c8c"/><rect x="281" y="501.6" width="1493" height="1.4" fill="#8c8c8c"/><g id="rrms-coverage"><path d="M284.5 549V545.4h2V545.7h3V545.6h2V545.4h5V545.5h3V545h7V545.4h2V544.4h7V543.7h7V543.9h2V544.6h4V544.6h4V545.3h5V545.3h3V546h2V545.8h7V546h4V546.2h2V545.9h3V546.1h7V546.4h3V546.6h4V545.9h4V545.5h5V545.3h5V542.7h7V540.2h3V539.5h4V539h2V538.4h5V538h4V538.1h4V537.4h2V537.4h4V536.6h7V536h3V536h3V535.6h5V536.2h4V538.2h2V539h7V537h5V535.3h5V534.6h2V534.2h5V532.2h7V532.1h4V531.5h3V531h2V532.1h7V534.3h4V535.2h7V536.9h3V537.9h5V540.3h7V541.7h7V541.5h5V540.8h7V541h2V540.3h2V540.4h7V539.2h4V539.3h2V538.1h7V537.5h4V536.4h7V535.4h2V534.9h2V534.3h2V534.4h3V533.4h4V533.1h2V532.3h7V531.8h2V531.6h3V531.1h5V530.3h4V529.4h4V529.3h4V526.8h7V524.4h7V522.5h2V521.7h4V521.6h2V521.5h3V520.5h7V520.5h7V520.5h4V520.7h3V521.4h3V522.2h7V522.8h4V522.6h5V524.1h3V525.8h7V526.8h2V527.3h2V528.2h3V529.3h5V529.7h2V530.3h5V530.9h7V529.8h7V530.1h3V529.7h7V529.6h5V530h2V531.9h3V533.6h2V534.3h7V534h4V533.8h2V533.8h5V534.1h4V534.8h7V537.2h2V538.8h3V539h7V538.9h3V539h2V539h4V538.2h4V539.1h3V540.4h7V541.6h5V542h4V541.4h5V541h4V540.9h5V540.8h4V540.7h3V541h7V541.1h4V540.7h3V541.7h3V544.7h7V545.5h2V546h5V546.1h7V546.9h7V546.8h2V546.8h5V547.6h4V547.7h2V547.2h2V546.9h4V544.7h7V544.5h2V544.5h3V544h7V543h4V542.6h5V536.4h5V536.8h3V537.6h4V544.1h7V543.7h4V543.3h5V543.1h7V543.2h3V542.7h5V542.4h4V543h4V542.7h2V542.8h3V543.8h4V544h3V544.6h7V545.3h3V545.7h7V546h2V546.3h3V545.4h2V544.3h7V542.8h2V541.5h4V540.8h5V540.4h2V541.5h7V544.2h5V545.2h7V546.1h2V546h3V545.9h5V545.4h2V544.8h3V544h3V543.1h3V543h7V541.7h2V541.5h3V541.3h7V541h7V541.6h7V541.1h5V544.2h5V546.8h2V547.6h5V547h2V546.7h2V546.6h5V546.2h5V545.6h5V545.1h5V545.3h4V545.2h2V544.6h7V544.4h7V540.9h4V538.6h2V538.1h3V537.7h2V537.4h7V537h5V536.8h4V541.7h7V543.5h3V543.5h2V543.8h7V544h3V544.1h7V544.1h3V544h5V544.3h2V544.8h7V544.8h5V545.2h5V545.4h2V546.2h5V547.3h2V546.7h4V545h7V541.5h7V538.7h7V536.5h5V536.7h5V536.3h5V535.6h4V535.5h3V535.2h4V535.6h5V535.6h5V535.6h5V535.6h5V535.3h5V535.1h3V535.3h4V535.1h4V534.7h3V534.9h2V534h3V534h2V533.3h2V531.7h7V530h4V529h5V528.5h7V525.9h7V523.1h7V521.3h7V519.5h7V518.5h7V514.5h7V511.3h5V510.8h3V510.3h5V509.1h5V508.5h7V507.6h2V507.3h4V505.8h5V505.1h2V505.6h3V506h3V505.5h4V506.7h7V506.9h3V506.7h2V507.7h2V510.5h4V513.1h2V515.9h4V516.7h5V516.7h5V517.2h5V517.7h7V518.5h3V518.4h2V519.4h7V521h3V521.9h4V522.6h3V523.3h2V523.8h4V524.9h4V525.3h4V525.6h3V526.6h5V528.1h7V530.3h3V531.5h2V533.3h7V534.5h2V534.8h5V535.4h7V535.6h2V536.2h3V535.8h7V536.2h5V536h3V536.1h7V535.8h2V535.8h4V534.4h2V534.1h2V533.4h5V532.1h4V530.9h7V530.4h2V531h5V533.6h4V534.3h2V535.3h2V535.6h4V536.2h7V538h5V539.9h4V541.7h7V542.7h5V543.8h7V543.6h3V543.7h5V543.8h4V543.6h2V540.5h7V541.1h7V542.2h5V548h5V548.2h5V548h4V548.2h3V547.6h7V547.6h3V546.6h2.8V549z" fill="#afafaf"/><path d="M288 546.4v1.6M289.2 546v1.2M290.4 546.7v.3M291.5 545.4v.1M302.7 546.5v.9M303.9 545.4v1.5M308.5 545.6v1.5M309.8 546.4v1.5M322 546v1.7M323.1 546.4v1.4M324.3 546.2v2.8M325.3 544.8v4.2M328 545.6v3.4M329 546v3M331.7 545.2v3.7M333.3 546.5v2.5M337.3 546.1v1.4M338.4 546.1v1.6M339.5 547.1v1M340.5 546v1.6M341.5 546.6v2.3M342.7 546.7v2.3M346.2 546.5v2.5M347.5 547v1.9M361.1 546.5v2.5M362.3 547.1v1.9M363.5 546.3v2.7M366.8 547.6v.9M368.2 547.7v.9M369.5 546.9v1.3M370.5 547.3v1.1M371.5 547.5v.2M372.7 546.5v2.5M373.9 547.1v1.9M378.2 547.3v1.1M379.3 545.7v1.8M380.6 547.1v1.7M381.9 545.9v2.3M383 546.2v1.8M396.6 540.6v4.6M397.7 541.3v4.6M400 540.4v5.3M401.2 539.9v5.4M408.8 539.4v5.8M410.1 539.3v7.5M423.8 538.5v10.5M425 537.7v11.2M426.2 537.3v10.5M427.4 537.1v10.2M430.6 537.8v10.7M431.8 537.2v11.2M440.9 536.6v12.1M442.1 537v11M453.5 538v10.7M454.6 537.9v10.7M463.7 535.5v9.8M465 536v10.5M475 533v16M476.3 534.2v13M484.2 533.4v13.9M485.4 534.2v14.8M487.8 534.5v14.5M488.9 535.4v13.6M490.1 533.6v13.2M491.2 534.4v12.1M492.3 534.8v14.2M493.3 535.9v12.9M497.9 537.2v5M499.2 535.8v6.1M501.3 536.7v10.2M502.5 538.4v9.8M506.9 539v9.2M508.1 538.2v10.2M516.3 541.8v6.6M517.4 541.4v6.8M518.9 542.3v5.7M520.5 543.2v5.3M521.9 542.6v6.4M526.3 542.6v4.4M527.6 542v4.6M528.9 542.7v4.7M530 541.8v5.8M535.4 542.2v3.7M536.7 541.4v4M554.9 539.5v9.2M556.2 539.6v9.4M568.8 537.6v11.4M570 538.3v10.7M590.2 534.8v13.8M591.2 534.8v14.2M592.3 534.3v14.7M593.5 534v15M597.3 533.8v14M598.4 533v16M599.6 534.2v13.3M601.1 531.9v17.1M606.4 532.1v15.9M607.4 530.7v16.4M608.5 532.9v14.6M609.6 531.2v17.8M610.8 531.7v16.3M614.6 529.9v14.7M615.8 532.3v15M617.7 531.5v13.7M618.9 528.5v14.3M620 528.3v18.8M621.2 527.3v20.8M623.5 529.2v12.1M624.6 526.8v17.4M628 524.6v17.2M629.2 527.8v14.8M630.4 526.9v6.1M631.6 525.8v5.9M632.7 526.7v3.5M634.1 525v2M635.6 525v7.2M636.9 525.7v.4M638.1 523.1v.4M639.3 522.1v.7M640.6 524.2v.4M641.9 525.6v1M643 523.7v.6M644 524.1v.1M645.1 525.6v.2M646.1 522.4v1M647.5 521.4v.5M649 521.2v.7M654.3 522.2v17.6M655.4 525v12.5M657.4 523.3v20.5M658.6 523.5v22M660.8 522.7v16.6M662 524.4v12.3M663.3 525.8v18.5M664.6 525.7v23.2M665.6 522.9v23.9M667.9 523v26M669.2 525.8v23.2M671.2 523.6v22.6M672.3 525.7v22.9M680.4 524v25M681.5 524.4v24.6M685.5 527v2.4M687.2 527.7v10.5M688.4 527.6v21.4M689.4 529.5v19.3M692.8 530.2v18.1M694 530.7v15.3M698.5 530.4v13.3M699.7 530.6v16.2M702.1 530.8v18.2M703.2 531.8v15.2M704.5 531.7v4.7M705.8 532.4v6.5M711.6 532v4.2M712.8 531.9v2.7M722.8 533.3v.3M724.2 530.7v.4M742.1 532.6v2.5M743.2 533.2v.6M753.6 535.6v7.1M754.7 536.1v6.2M757 534.6v1.2M758.1 536v12.1M759.3 535.2v13M760.4 534.9v6.9M762.7 536.2v10.1M763.9 535v12.5M773 537.5v10.3M774.3 537.2v11.7M775.5 537.4v10.8M776.6 539.4v9.6M808.4 541.3v.1M826.4 542.4v2.4M827.6 541.5v2.6M833.2 541.4v.2M834.3 541.6v.2M864.2 545.8v1.9M865.4 545.8v1.7M866.6 546.4v1.1M867.7 546.3v1.3M868.8 546.6v2.2M869.9 546.2v2.8M871.1 546.4v2.6M877.9 547.2v.4M879.3 546.8v2.1M880.4 547.6v1.2M885.8 547.2v1.2M887 547.3v1.1M899.7 547.6v1.3M900.8 547.8v1.2M901.9 547.4v1M903 547.7v.8M909.7 545.3v1.8M910.9 546.7v1M916.7 545.1v.1M917.8 546.4v.1M925.7 546v1.2M926.9 544.6v2M935.9 536.6v12.4M937.1 538.4v10.6M942.8 538.9v10.1M944 541v7.8M945.1 542.8v3.4M946.2 545.1v2.8M953.1 544.7v4.3M954.3 544.4v4.6M968.1 543.5v2.7M969.2 543.7v2.4M972.7 543.3v2.4M973.8 543.4v3.1M989.3 546v2.9M990.5 546v3M991.6 545.1v3.5M992.8 545.5v3.5M994.1 545.3v2.3M995.4 545v4M996.4 545.3v3.4M997.4 545.7v2.7M998.5 546.1v2.4M999.7 545.7v2.9M1000.9 546.1v2.8M1015.8 546.9v1M1017 546.5v1.1M1018.1 546.1v2.8M1019.3 546.3v2.6M1028.3 542.8v5.7M1029.7 543.2v5.7M1032.2 542.9v4.3M1033.4 542.6v5.1M1034.8 541.6v7.1M1036.3 541.7v6.5M1037.7 541.2v7.8M1038.8 541.6v6.8M1041.5 541.5v6.7M1048.1 544.7v4.3M1049.4 546v2.8M1050.6 545.1v3.8M1051.8 545.2v3.8M1053 546.6v2.4M1054.2 546.4v2.6M1055.4 546.5v2.5M1056.7 546.1v2.9M1058 545.9v1.9M1060.4 546.9v.8M1061.6 547.1v.7M1072.7 546.2v2.8M1073.8 545.9v3.1M1074.9 545v4M1076.1 544.3v4.7M1081.1 543.4v5.6M1082.2 543.4v5.6M1083.4 543v1.7M1084.6 543.2v4M1085.8 542.5v4.9M1086.9 542.9v4.3M1088.1 542.6v4.1M1089.1 542.1v4.5M1090.1 542.3v5.8M1091.4 542v3.8M1096 542.3v6.7M1097.3 541.6v3.2M1098.4 541.9v3.3M1103.9 542.1v6M1105 541.5v6.4M1106.2 541.8v3.4M1114.2 542.2v6.8M1115.3 542.3v6.5M1117.6 544.6v4.4M1118.6 545.6v3M1119.8 545.5v3.5M1122 545.9v1.5M1123.2 547.2v1M1124.4 547.7v1.1M1143.9 546.9v2.1M1145.2 547.3v1.7M1146.5 546.4v2.6M1148.1 546v3M1149.6 546.4v2.4M1150.9 545.7v3.3M1154.4 546.5v2.5M1155.8 546.1v2.8M1157.1 545.6v3.2M1159.8 545.3v3.7M1161.1 545.6v3.4M1162.3 546.9v2.1M1163.3 546.1v2.9M1172.4 543.5v3.9M1173.5 543v5M1175.9 542v2.7M1177 541.3v6.9M1178.1 540.6v8.4M1202.4 541.3v.8M1204.1 542.5v1.4M1205.5 545.6v3.1M1206.6 543.9v4.7M1212.4 544.2v.7M1215.8 545.2v.7M1216.9 544.5v.5M1219.1 544.9v.2M1220.4 545.2v.2M1236.2 545.6v1M1237.4 545.8v1.2M1240.6 545.6v3.2M1241.7 545v3.6M1253.2 546.6v2.4M1254.3 546.5v2.3M1255.7 546.5v2.1M1261.2 546.8v2.1M1262.3 547.7v1.3M1263.7 548v1M1264.9 547.6v1.3M1266 548v1M1267.1 547v2M1271.6 546.6v2.3M1272.8 546.8v2.2M1291.8 538.2v9.2M1293 538v10.4M1295.5 538.6v6.2M1296.6 537.3v10.4M1297.7 537v10.4M1305.7 537v10M1306.9 536.7v11.4M1311.6 536.9v12.1M1312.9 537.9v11.1M1314.1 537.6v11.4M1315.4 536.4v12.6M1316.5 536.1v11.2M1317.8 537.6v11.4M1319.1 537.9v10.2M1320.5 536.8v6M1321.8 537.9v.2M1322.8 537.8v.3M1327.4 537v11M1328.5 536.2v12.3M1330.8 536v7.6M1331.9 536.4v8.5M1334.2 537.6v6.3M1335.4 536.1v7.5M1337.8 536.9v12.1M1339 537.4v10.3M1340.3 537.6v11.4M1341.6 537.2v11.8M1342.9 537.1v10.8M1344.2 537.3v11.7M1346.7 536.1v11.6M1348 536.7v11.6M1355.5 536.5v12.5M1356.9 535.2v13.8M1361.5 535.2v13.8M1362.7 536.4v12.6M1364.9 535.3v.1M1366.1 535.1v.5M1371.9 531.4v13.4M1373 532.1v13.6M1376.2 530.3v8M1377.7 530.7v11.8M1378.9 530.1v12.7M1380.2 529.9v15.5M1381.8 530.1v9.5M1383.4 530v18.1M1384.6 531v18M1385.8 528.5v19.5M1387 528.7v20M1388.3 527.7v21.3M1389.6 530.1v17.1M1390.8 529.4v19.6M1391.9 528v21M1393 526.3v22.4M1394.2 525v24M1396.6 527.4v20.3M1398.8 524.4v12.4M1400.3 523.4v25.6M1401.5 522.9v25.4M1403.1 523.2v3.2M1404.3 524.8v1.6M1405.4 524.3v7.8M1406.6 525.6v10.7M1408 521.7v13.8M1409 522.8v13.8M1410 523v20.2M1411.2 523.1v21.5M1412.5 523.8v20.4M1414.1 524.4v20.8M1415.5 522.4v23.4M1416.9 520.3v28.4M1423.3 519.8v7.1M1424.7 517.2v28.1M1425.8 519.2v21.4M1429.3 516.3v28.8M1430.4 513.9v33M1431.7 517.8v24.8M1433 517v31.2M1436.3 517.1v31.9M1438.8 515.2v30.1M1440.1 512.4v36.6M1441.2 514.1v34.9M1442.4 514.7v34.3M1443.5 516.5v32.5M1446.4 512.7v31.1M1447.8 511.9v33.4M1449.1 511.4v36.4M1450.4 511.4v37.6M1462.1 509.2v36.4M1463.2 507.5v33M1466.7 509.2v33.2M1467.8 508v28.3M1472.4 509.6v29.7M1473.5 507.6v25.3M1487.4 513.5v21.4M1488.5 514.2v24.3M1491.2 513v15.9M1492.7 512.5v4.4M1494 517.4v4.4M1495.2 517.6v1.8M1496.3 514.4v5M1497.4 517.9v3.6M1498.6 519.2v1.1M1499.7 517.3v.8M1500.8 520.1v.6M1501.9 518.6v7.3M1503.1 522.1v6.9M1504.3 518.3v.2M1506.7 521.1v14.5M1507.9 521.3v11.3M1509 519.3v.3M1510.1 521.6v14.6M1511.3 520.5v12.7M1512.4 520.2v21.4M1513.6 520.4v22.2M1519.3 519.4v23.5M1520.5 523.2v23.6M1521.6 521.8v21.2M1522.8 522.3v17.2M1525.1 520v29M1526.5 522.3v25.5M1528 521.7v27.3M1529.5 522.8v26.2M1532.2 522v25.9M1533.4 523.8v23.3M1534.8 522.2v26.8M1536.3 523.9v22.5M1541 525.6v17.1M1542.1 525.1v13.6M1560.4 527.4v19.9M1561.5 527.4v20.3M1562.7 530.3v13.6M1563.8 530.3v15.7M1565 528.7v17.2M1566.1 529.3v16.8M1595.6 536.5v12.5M1596.8 536v11.7M1597.9 537.6v11.1M1599.1 536.5v11.3M1609.2 537.1v11.2M1610.3 537.5v11.5M1611.4 537.4v10.4M1612.6 536.7v12.1M1613.7 537.1v10.6M1614.9 537v10.9M1616.3 536.7v9.4M1617.6 537.7v11.3M1618.6 537.7v11.3M1624.1 536.4v12.1M1625.3 537.6v11.4M1640.3 534.5v13.4M1641.4 535.2v13.8M1648.3 532v14.2M1650 532.8v16.2M1654 531.3v14.8M1655 533v14.4M1656 532v16.2M1657 532.7v15.6M1658.1 532.5v15.7M1659.3 533.2v13.9M1676.6 537v11.1M1677.6 537.9v8.6M1685.8 540.1v5.7M1686.9 540.6v4.2M1691.5 542.8v5.3M1692.7 542.6v5.9M1697.4 543.8v4.6M1699 543.7v5.3M1700.3 545.8v2.2M1703.9 546.3v2.6M1705 545.1v3.7M1706.1 544.9v4.1M1725.7 541v5.8M1726.9 541.1v5.6M1730.4 541.6v7.4M1731.5 541.2v7M1732.5 541.3v6.4M1733.6 542v6.1M1735.7 542.5v5.7M1736.9 542.9v5.7M1749.6 548v.2M1750.7 547.9v.3M1765.4 547.7v.8M1766.6 548.1v.6" stroke="#ff1a1a" stroke-width="1.1" fill="none"/><path d="M288 548v1M289.2 547.2v1.8M290.4 547v2M291.5 545.6v3.4M302.7 547.3v1.7M303.9 546.9v2.1M308.5 547.2v1.8M309.8 547.8v1.2M322 547.8v1.2M323.1 547.8v1.2M337.3 547.5v1.5M338.4 547.7v1.3M339.5 548.1v.9M340.5 547.6v1.4M366.8 548.5v.5M368.2 548.6v.4M369.5 548.2v.8M370.5 548.4v.6M371.5 547.7v1.3M378.2 548.3v.7M379.3 547.6v1.4M381.9 548.3v.7M383 548v1M396.6 545.2v3.8M397.7 545.9v3.1M400 545.7v3.3M401.2 545.3v3.7M408.8 545.3v3.7M410.1 546.8v2.2M426.2 547.9v1.1M427.4 547.2v1.8M430.6 548.5v.5M431.8 548.4v.6M442.1 548v1M454.6 548.5v.5M463.7 545.4v3.6M465 546.5v2.5M476.3 547.2v1.8M484.2 547.3v1.7M490.1 546.9v2.1M491.2 546.4v2.6M497.9 542.2v6.8M499.2 541.8v7.2M501.3 547v2M502.5 548.2v.8M506.9 548.2v.8M508.1 548.4v.6M516.3 548.4v.6M517.4 548.3v.7M518.9 548v1M520.5 548.4v.6M526.3 547v2M527.6 546.7v2.3M528.9 547.4v1.6M530 547.6v1.4M535.4 545.9v3.1M536.7 545.5v3.5M597.3 547.8v1.2M599.6 547.5v1.5M606.4 548v1M607.4 547.2v1.8M608.5 547.4v1.6M610.8 548v1M614.6 544.6v4.4M615.8 547.3v1.7M617.7 545.1v3.9M618.9 542.8v6.2M620 547.1v1.9M621.2 548.2v.8M623.5 541.3v7.7M624.6 544.2v4.8M628 541.7v7.3M629.2 542.7v6.3M630.4 532.9v16.1M631.6 531.7v17.3M632.7 530.2v18.8M634.1 527v22M635.6 532.2v16.8M636.9 526.1v22.9M638.1 523.5v25.5M639.3 522.8v26.2M640.6 524.7v24.3M641.9 526.6v22.4M643 524.3v24.7M644 524.3v24.7M645.1 525.8v23.2M646.1 523.5v25.5M647.5 521.9v27.1M649 521.9v27.1M654.3 539.8v9.2M655.4 537.5v11.5M657.4 543.7v5.3M658.6 545.5v3.5M660.8 539.3v9.7M662 536.7v12.3M663.3 544.3v4.7M665.6 546.8v2.2M671.2 546.2v2.8M672.3 548.6v.4M685.5 529.3v19.7M687.2 538.2v10.8M692.8 548.3v.7M694 546v3M698.5 543.7v5.3M699.7 546.8v2.2M703.2 547v2M704.5 536.4v12.6M705.8 538.9v10.1M711.6 536.2v12.8M712.8 534.6v14.4M722.8 533.6v15.4M724.2 531.1v17.9M742.1 535.1v13.9M743.2 533.9v15.1M753.6 542.7v6.3M754.7 542.3v6.7M757 535.8v13.2M758.1 548.1v.9M759.3 548.2v.8M760.4 541.8v7.2M762.7 546.3v2.7M763.9 547.6v1.4M773 547.8v1.2M775.5 548.2v.8M808.4 541.4v7.6M809.4 541.4v7.6M826.4 544.8v4.2M827.6 544.1v4.9M833.2 541.6v7.4M834.3 541.9v7.1M864.2 547.7v1.3M865.4 547.5v1.5M866.6 547.6v1.4M867.7 547.6v1.4M877.9 547.6v1.4M885.8 548.4v.6M887 548.5v.5M901.9 548.4v.6M903 548.5v.5M909.7 547v2M910.9 547.6v1.4M916.7 545.2v3.8M917.8 546.6v2.4M925.7 547.2v1.8M926.9 546.6v2.4M945.1 546.2v2.8M946.2 547.8v1.2M968.1 546.2v2.8M969.2 546.1v2.9M972.7 545.7v3.3M973.8 546.5v2.5M991.6 548.6v.4M994.1 547.6v1.4M997.4 548.4v.6M998.5 548.5v.5M1015.8 547.9v1.1M1017 547.6v1.4M1028.3 548.4v.6M1032.2 547.2v1.8M1033.4 547.6v1.4M1036.3 548.2v.8M1038.8 548.4v.6M1041.5 548.1v.9M1058 547.8v1.2M1060.4 547.7v1.3M1061.6 547.8v1.2M1083.4 544.7v4.3M1084.6 547.2v1.8M1085.8 547.4v1.6M1086.9 547.3v1.7M1088.1 546.7v2.3M1089.1 546.5v2.5M1090.1 548.1v.9M1091.4 545.8v3.2M1097.3 544.8v4.2M1098.4 545.2v3.8M1103.9 548.1v.9M1105 547.9v1.1M1106.2 545.2v3.8M1118.6 548.6v.4M1122 547.4v1.6M1123.2 548.2v.8M1172.4 547.4v1.6M1173.5 548v1M1175.9 544.8v4.2M1177 548.1v.9M1202.4 542.1v6.9M1204.1 543.9v5.1M1206.6 548.6v.4M1212.4 544.9v4.1M1213.5 545.7v3.3M1215.8 545.9v3.1M1216.9 544.9v4.1M1219.1 545.1v3.9M1220.4 545.4v3.6M1236.2 546.6v2.4M1237.4 547v2M1255.7 548.5v.5M1291.8 547.3v1.7M1293 548.4v.6M1295.5 544.8v4.2M1296.6 547.7v1.3M1297.7 547.4v1.6M1305.7 547.1v1.9M1306.9 548.1v.9M1316.5 547.2v1.8M1319.1 548v1M1320.5 542.8v6.2M1321.8 538.1v10.9M1322.8 538.2v10.8M1327.4 548v1M1328.5 548.5v.5M1330.8 543.5v5.5M1331.9 544.9v4.1M1334.2 543.9v5.1M1335.4 543.6v5.4M1339 547.7v1.3M1342.9 547.9v1.1M1346.7 547.7v1.3M1348 548.4v.6M1364.9 535.4v13.6M1366.1 535.6v13.4M1371.9 544.8v4.2M1373 545.7v3.3M1376.2 538.3v10.7M1377.7 542.5v6.5M1378.9 542.9v6.1M1380.2 545.4v3.6M1381.8 539.6v9.4M1383.4 548.1v.9M1385.8 548v1M1389.6 547.2v1.8M1396.6 547.7v1.3M1398.8 536.8v12.2M1401.5 548.3v.7M1403.1 526.4v22.6M1404.3 526.4v22.6M1405.4 532v17M1406.6 536.2v12.8M1408 535.5v13.5M1409 536.6v12.4M1410 543.2v5.8M1411.2 544.6v4.4M1412.5 544.2v4.8M1414.1 545.2v3.8M1415.5 545.8v3.2M1423.3 526.9v22.1M1424.7 545.3v3.7M1425.8 540.6v8.4M1429.3 545.1v3.9M1430.4 546.9v2.1M1431.7 542.5v6.5M1433 548.2v.8M1438.8 545.2v3.8M1446.4 543.8v5.2M1447.8 545.3v3.7M1449.1 547.8v1.2M1462.1 545.6v3.4M1463.2 540.5v8.5M1466.7 542.4v6.6M1467.8 536.2v12.8M1472.4 539.3v9.7M1473.5 533v16M1487.4 534.8v14.2M1488.5 538.4v10.6M1491.2 528.9v20.1M1492.7 516.9v32.1M1494 521.7v27.3M1495.2 519.4v29.6M1496.3 519.4v29.6M1497.4 521.5v27.5M1498.6 520.3v28.7M1499.7 518.1v30.9M1500.8 520.7v28.3M1501.9 525.9v23.1M1503.1 529v20M1504.3 518.5v30.5M1505.5 520.4v28.6M1506.7 535.6v13.4M1507.9 532.6v16.4M1509 519.6v29.4M1510.1 536.2v12.8M1511.3 533.1v15.9M1512.4 541.7v7.3M1513.6 542.6v6.4M1519.3 543v6M1520.5 546.8v2.2M1521.6 543v6M1522.8 539.5v9.5M1526.5 547.9v1.1M1532.2 547.9v1.1M1533.4 547.1v1.9M1536.3 546.4v2.6M1541 542.7v6.3M1542.1 538.7v10.3M1560.4 547.3v1.7M1561.5 547.7v1.3M1562.7 543.9v5.1M1563.8 546v3M1565 545.9v3.1M1566.1 546v3M1596.8 547.8v1.2M1599.1 547.8v1.2M1609.2 548.3v.7M1611.4 547.8v1.2M1613.7 547.7v1.3M1614.9 547.9v1.1M1616.3 546.1v2.9M1624.1 548.5v.5M1640.3 547.9v1.1M1648.3 546.2v2.8M1654 546.1v2.9M1655 547.4v1.6M1656 548.2v.8M1657 548.3v.7M1658.1 548.2v.8M1659.3 547.1v1.9M1676.6 548.1v.9M1677.6 546.5v2.5M1685.8 545.8v3.2M1686.9 544.9v4.1M1691.5 548v1M1692.7 548.5v.5M1697.4 548.4v.6M1700.3 548v1M1725.7 546.8v2.2M1726.9 546.7v2.3M1731.5 548.1v.9M1732.5 547.7v1.3M1733.6 548.1v.9M1735.7 548.2v.8M1736.9 548.5v.5M1749.6 548.2v.8M1750.7 548.2v.8M1765.4 548.5v.5" stroke="#2a2ae6" stroke-width="1.1" fill="none"/><rect x="284.5" y="549" width="1485.8" height="1" fill="#8a8a8a"/></g><text x="289.4" y="514.6" font-size="8.6" font-family='"DejaVu Sans", "Liberation Sans", sans-serif' fill="#111">[0 - 25]</text><g id="rrms-reads"><path d="M372.4 557.7h168.4m269.5 0h8.5m45.3 0h19.1m90.9 0h22.5m57.3 0h19.1m6.7 0h13.2m40.6 0h16.7m30.1 0h20.2m30.1 0h23.7m13.7 0h19.1m67.5 0h226.4m37.1 0h119.7m27.7 0h4.8M907.4 568h36.1m7.2 0h19.1m51.1 0h21.7m620 0h19.1m13.6 0h19.1M536.2 578.3h128.2m255.8 0h25m11.3 0h24.9m184.8 0h56.6m11.3 0h17.9m26.5 0h14.4m2 0h446.4M315.6 588.6h20.5m217.6 0h106m402.4 0h61.2m50 0h20.2m88.5 0h350.5m42.9 0h16.8m28.9 0h20.2M394.6 598.9h125.6m38.7 0h110.2m257 0h19.1m88.4 0h13.7m41.7 0h34.3M394.6 609.2h115.1m61.6 0h189m168.1 0h19.1m86.1 0h11.3m354.1 0h87.2m.8 0h110.4M470 619.5h24m84.3 0h116.5m236 0h16.7m340.4 0h39m32.4 0h134M429.7 629.8h9.1m9.7 0h71.7m771.2 0h50.7m302.9 0h37.8M599.4 640.1h145.7M1652 650.4h16.8M606.4 660.7h104.8m665.6 0h135.2M609.9 671h68.5m707.8 0h178.5M1485.9 681.3h104.5" stroke="#cecece" stroke-width="7.8" fill="none"/><path d="M1394.4 690.1h70.8" stroke="#cecece" stroke-width="4.9" fill="none"/><path d="M284.5 557.7h17.6m9.5 0h19.5m14.4 0h21.4m177 0h140.4m13.7 0h82.2m4.3 0h18m35.9 0h14.4m49.9 0h39m6.6 0h17.9m53.5 0h17m59.3 0h20.3m41.3 0h18.4m30 0h14.9m68.2 0h58.8M284.5 568h252.1m.8 0h139.4m42.2 0h138.4m123 0h19.8m78.3 0h39m20.7 0h47.1m3.2 0h24.9m4.3 0h17.9m31.2 0h127.4m2.3 0h134.2m97.9 0h26.1m64 0h10.9m37.1 0h3.6M298.7 578.3h49.5m31.2 0h133.8m163 0h194.1m116.6 0h22.6m21 0h20.3m28.9 0h22.6m12.5 0h10.9M390 588.6h159.4m190.7 0h321.2m157.6 0h10.9m409.4 0h16.7M789.2 598.9h20.3m1.9 0h21.5m5.5 0h16.7m325.2 0h20.2m80.4 0h155.1m12.5 0h177m13.7 0h16.7m65.2 0h20.2M1180.3 609.2h216.9m249 0h19.1M421.6 619.5h14.8m13.2 0h15.6m717.9 0h19.8m314.6 0h179.4M591.7 629.8h119.5m652.7 0h127.1m34.7 0h16.7M473.7 640.1h15.6m878.2 0h91.9m1.9 0h111.6m73.3 0h19.1M482.4 650.4h316.5m568.6 0h157.4M633.3 681.3h138.7m618.9 0h73.2" stroke="#d2dcd4" stroke-width="7.8" fill="none"/><path d="M633.3 690.1h150.4" stroke="#d2dcd4" stroke-width="4.9" fill="none"/><path d="M710.7 557.7h2.9M287.1 568h3.1m462.6 0h2.8m.5 0h1.7m338.7 0h2.8M301.9 578.3h2.9m91 0h2.8m285.7 0h2.4m799.9 0h2.8M656.5 588.6h2.9m445.9 0h1.8m577.9 0h2.8M395.8 609.2h2.8m285.7 0h2.4m69.4 0h1.7m275.5 0h1m-.6 0h3.7m361.3 0h1.4m109.1 0h2.9M684.3 619.5h2.4m784.8 0h2.9M684.3 640.1h2.4m822.5 0h2.9m6.4 0h2.9M684.3 650.4h2.4m690.1 0h2.9M1379.1 660.7h2.1M1509.2 671h2.9m-.6 0h2.9M684.3 681.3h2.4m799.9 0h2.8" stroke="#8a8aff" stroke-width="7.8" fill="none"/><path d="M653.5 690.1h2.8" stroke="#8a8aff" stroke-width="4.9" fill="none"/><path d="M589.4 557.7h2.6m17.9 0h1.8m86 0h2.9m292.5 0h2.1m100.5 0h1.4m45.9 0h2.5m165.1 0h2.5m126.1 0h2.9m175.7 0h1.6m65.6 0h2.8m8.5 0h2.1m1 0h1.8m3 0h2.8M500.4 568h2.9m106.6 0h1.8m5.1 0h2.9m414 0h3.7m113.2 0h2.5m51.5 0h2.9m83.4 0h2.9m43 0h2.5m3.3 0h2.5m31.7 0h2.9m10.2 0h4m310.3 0h2.8M327.1 578.3h2.8m10.8 0h2.9m37.4 0h2.9m184 0h3.1m45.8 0h2.9m137.5 0h2.9m207.1 0h2.9m20.7 0h2.9m301.1 0h1.5m80.5 0h2.9m81.5 0h2.9m191.1 0h2.6m32.8 0h2.9M491.5 588.6h2.6m2.8 0h3.2m.3 0h2.9m16.2 0h3.4m99.8 0h2.8m371.1 0h2.8m60.2 0h2m12.4 0h2.9m5.6 0h1.8m-.6 0h2.9m8.4 0h2.1m292.8 0h4m-.6 0h4.1m7.1 0h2.9m7.1 0h3.4m19.4 0h2.5m7.1 0h2.5m82.5 0h2.4m62.8 0h2.9m39.4 0h2.9M474.1 598.9h3.1m19.7 0h3.2m536.7 0h2.9m272.9 0h2.5m39.4 0h3.4m21.2 0h2.1m108.8 0h2.4m237.2 0h2.8M462.7 609.2h3.2m187.6 0h2.8m5.9 0h2.1m280 0h2.8m89.7 0h2.9m212.6 0h2.9m81.6 0h2.5m21.4 0h2.9m163.3 0h3.7m118.2 0h2.4m2 0h2.6M486.9 619.5h2.9m101.6 0h2.9m67.9 0h2.1m648.3 0h2.5m65.6 0h2.1m31.7 0h3.4m23.6 0h2.9m-.6 0h3.7m1.3 0h2.5m75.6 0h3.7m64.1 0h2.9M474.1 629.8h3.1m114.2 0h.6m87.5 0h2.9m654.4 0h2.5m60.2 0h2.9m21.4 0h2.9M474.1 640.1h3.1m186.6 0h2.6m764.3 0h3.2M528 650.4h2.9m60.5 0h2.9m13.3 0h2.9m51.7 0h2.1m-.5 0h2.6m712.7 0h2.1m8.7 0h4m17.6 0h3.7m24 0h2.9m1.7 0h3.7m39.1 0h2.8m31.4 0h2.9M701.2 660.7h2.9m685.8 0h4m47.6 0h2.9m27.1 0h2.9M1389.9 671h4m20.6 0h3.4m29 0h2.5m69.1 0h2.9m38.1 0h2.9M701.2 681.3h2.9m53.1 0h2.9" stroke="#ff8a8a" stroke-width="7.8" fill="none"/><path d="M663.8 690.1h2.6" stroke="#ff8a8a" stroke-width="4.9" fill="none"/><path d="M289.5 557.7h2.8m28.8 0h2.9m71.8 0h2.8m98.3 0h3.2m27.9 0h2.9m98.6 0h1.8m-.6 0h2.9m-.6 0h3.7m-.6 0h2.9m-.6 0h2.5m-.6 0h2.5m-.6 0h2.6m-.6 0h2.8m-.6 0h3.7m71.7 0h3.4m16 0h2.9m8.7 0h2.8m6.2 0h2.9m144.2 0h2.9m4 0h2.9m6.2 0h2.9m46 0h.9m121.8 0h2.8m75.7 0h1.3m35.2 0h2.9m.5 0h2.9m.3 0h3.1m14.2 0h2.9m81.1 0h2.1m-.5 0h2.6m2.9 0h2.9m.5 0h2.9m31.3 0h2.9m8 0h2.4m20.2 0h2.4m22.2 0h2.1m62.3 0h2.8m.6 0h2.4m1.9 0h4m-.6 0h2.9m.5 0h2.9m-.6 0h3.1m-.7 0h2.9m-.6 0h1.7m-.6 0h2.9m-.6 0h2.9m217.3 0h2.6M289.5 568h2.8m9.6 0h2.9m2.8 0h3.2m16.3 0h2.8m6.6 0h2.8m29.4 0h2.6m-.6 0h1.7m23.4 0h2.8m9.3 0h3.1m85.9 0h3.2m127 0h2.9m-.5 0h1.8m-.6 0h2.9m-.6 0h3.7m-.6 0h2.9m-.6 0h2.5m-.6 0h2.5m-.6 0h2.6m-.6 0h2.8m-.6 0h3.7m71.7 0h3.4m16 0h2.9m15.4 0h1.8m46.3 0h2.6m15.4 0h2.9m3.8 0h2.8m80.7 0h2.9m48.5 0h2.9m26.5 0h2.8m-.6 0h1.7m82 0h1.8m6.1 0h2.1m10.5 0h2.9m-.6 0h1.8m64.4 0h2.9m26.8 0h2.4m7.9 0h2.2m4.4 0h3.2m73.5 0h1.5m23.1 0h2.1m-.5 0h2.6m9.7 0h3.1m27.7 0h2.9m4 0h2.9m6.8 0h2.1m292.9 0h2.8m20.9 0h1.8M462.7 578.3h3.2m161.2 0h2.9m-.5 0h1.8m-.6 0h2.9m-.6 0h3.7m-.6 0h2.9m-.6 0h2.5m-.6 0h2.5m-.6 0h2.6m-.6 0h2.8m-.6 0h3.7m3.4 0h2.8m3.6 0h2.9m40.7 0h3.2m15.1 0h3.4m16 0h2.9m12 0h1.7m1.7 0h1.8m46.3 0h2.6m22.1 0h2.8m28.2 0h3.1m-.6 0h2.8m103.2 0h2.9m18.4 0h2.1m101.3 0h2.8m21.8 0h2.9m77.2 0h2.4m-.6 0h2.1m6.4 0h2.9m.5 0h2.9m.3 0h3.2m14.1 0h2.9m82.7 0h2.6m9.7 0h3.1m27.7 0h2.9m4 0h2.9m5.2 0h2.1m-.5 0h2.1m14.8 0h2.4m2.2 0h2.9m-.6 0h2.9m-.2 0h2.6m12.4 0h2.1m-.5 0h2.9m39.1 0h2.9m2.8 0h2.9m15.6 0h2.4m-.6 0h3.1m-.6 0h4m-.6 0h2.9m-.6 0h1.7m-.6 0h2.9m-.6 0h3.1m-.7 0h2.9m-.6 0h1.7m-.6 0h2.9m-.6 0h2.9m25.7 0h2.9m54.1 0h2.9m15.2 0h2.1m67.7 0h2.8m11.6 0h1.8M399.2 588.6h2.9m196.6 0h1.8m16.3 0h2.9m9.8 0h1.8m-.6 0h2.9m-.6 0h3.7m-.6 0h2.9m-.6 0h2.5m-.6 0h2.5m-.6 0h2.6m-.6 0h2.8m-.6 0h3.7m3.4 0h2.8m84.9 0h2.9m8.7 0h2.8m.5 0h1.7m1.7 0h1.8m46.3 0h2.6m22.1 0h2.8m28.2 0h3.1m34.6 0h2.9m67.9 0h2.9m111.3 0h2.9m1.5 0h2.1m4 0h2.8m75.7 0h1.7m41.9 0h2.7m98.1 0h2.1m-.5 0h2.6m40.5 0h2.9m9.8 0h2.9m17.9 0h2.4m2.2 0h2.9m17.1 0h2.1m-.5 0h2.9m1.7 0h2.9m34.5 0h2.9m2.8 0h2.9m12.2 0h2.8m.6 0h2.4m-.6 0h3.1m-.6 0h4m-.6 0h2.9m-.6 0h1.7m-.6 0h2.9m-.6 0h3.1m-.7 0h2.9m-.6 0h1.7m-.6 0h2.9m-.6 0h2.9m9.8 0h3.4m119.6 0h2.1M462.7 598.9h3.2m156.8 0h2.8m1.6 0h2.9m-.5 0h1.8m-.6 0h2.9m2.5 0h2.9m-.6 0h2.5m-.6 0h2.5m-.6 0h2.6m-.6 0h2.8m12.9 0h2.9m425.9 0h2.3m-.6 0h2.1m10.5 0h2.9m10.9 0h2.6m200 0h2.1m-.5 0h2.6m51.4 0h2.4m20.2 0h2.4m2.2 0h2.9m-.6 0h2.9m14.8 0h2.1m41.5 0h2.9m17.9 0h2.8m2.4 0h3.1m-.6 0h4m-.6 0h2.9m-.6 0h1.7m-.6 0h2.9m-.6 0h3.1m-.7 0h2.9m-.6 0h1.7m1.7 0h2.9M496.9 609.2h3.2m129.4 0h1.8m1.7 0h3.7m-.6 0h2.9m-.6 0h2.5m-.6 0h2.5m-.6 0h2.6m-.6 0h2.8m-.6 0h3.7m13.7 0h2.6m19.7 0h2.1m64.6 0h2.8m445.6 0h2.4m-.6 0h2.1m-.5 0h2.9m4 0h2.9m.5 0h2.9m.3 0h3.2m14.1 0h2.9m56.5 0h1.5m23.1 0h2.1m-.5 0h2.6m40.5 0h2.9m8 0h2.4m3.3 0h2.1m-.3 0h4.1m100.1 0h2.6m.7 0h2.4m-.6 0h3.1m-.6 0h4m-.6 0h2.9m-.6 0h1.7m-.6 0h2.9m-.6 0h3.1m-.7 0h2.9m-.6 0h1.7m1.7 0h2.9M462.7 619.5h2.8m26 0h2.6m113.5 0h2.9m12.2 0h2.8m1.6 0h2.9m-.5 0h1.8m1.7 0h3.7m-.6 0h2.9m-.6 0h2.5m-.6 0h2.5m-.6 0h2.6m-.6 0h2.8m-.6 0h3.7m9.8 0h2.9m281.5 0h2.8m254.1 0h2m116.2 0h2.1m-.5 0h2.6m40.5 0h2.9m9.8 0h2.9m17.9 0h2.4m2.2 0h2.9m-.6 0h2.9m-.2 0h2.6m-.6 0h2.9m10.1 0h2.1m4.1 0h2.9m55.3 0h2.8m.6 0h2.4m-.6 0h1.8M500.4 629.8h2.9m126.2 0h1.8m-.6 0h2.9m-.6 0h3.7m-.6 0h2.9m-.6 0h2.5m-.6 0h2.5m-.6 0h2.6m-.6 0h2.8m-.6 0h3.7m9.8 0h2.9m21.5 0h2.4m16.8 0h3.2m614.3 0h2.6m9.7 0h3.1m27.7 0h2.9m8 0h2.4m24.8 0h2.9m-.6 0h2.9m14.8 0h2.1m47.2 0h2.9m15.6 0h1.3M605.6 640.1h2.6m1.7 0h1.8m2 0h2.9m.2 0h2.9m9.8 0h1.8m-.6 0h2.9m-.6 0h3.7m-.6 0h2.9m-.6 0h2.5m-.6 0h2.5m-.6 0h2.6m-.6 0h2.8m-.6 0h3.7m6.4 0h2.9m51.3 0h2.9m8.2 0h3.4m16 0h2.9m636.6 0h2.1m19.4 0h2.9m6.4 0h3.7m7 0h2.1m65.7 0h2.4m-.6 0h3.1m-.6 0h4m-.6 0h2.9m-.6 0h1.7m-.6 0h2.9m-.6 0h3.1m-.7 0h2.9m-.6 0h1.7m1.7 0h2.9m25.7 0h2.9m18.8 0h2.9m-.6 0h2.9M517.7 650.4h2.4m5.3 0h3.2m81.3 0h1.8m15.4 0h2.9m-.5 0h1.8m-.6 0h2.9m-.6 0h3.7m-.6 0h2.9m-.6 0h2.5m-.6 0h2.5m-.6 0h2.6m-.6 0h2.8m-.6 0h3.7m36 0h2.1m-.6 0h2.6m20.5 0h2.9m8.2 0h3.4m30.9 0h1.7m617.2 0h2.4m3.3 0h2.1m14.8 0h2.4m2.2 0h2.9m17.1 0h2.1m36.9 0h2.9m1.7 0h2.9m21.3 0h2.4m-.6 0h3.1m-.6 0h4m-.6 0h2.9m-.6 0h1.7m-.6 0h2.9m-.6 0h3.1m-.7 0h2.9m-.6 0h1.7m-.6 0h2.9m-.6 0h2.9M606.1 660.7h2.1m14.5 0h2.8m1.6 0h2.9m-.5 0h1.8m-.6 0h2.9m-.6 0h3.7m-.6 0h2.9m-.6 0h2.5m-.6 0h2.5m-.6 0h2.6m-.6 0h2.8m-.6 0h3.7m9.8 0h2.9m21.5 0h2.4m-.6 0h2.1m9.4 0h2.9m3 0h3.2m4 0h.8m669.2 0h2.1m14.8 0h2.4m2.2 0h2.9m-.6 0h2.9m-.2 0h2.6m-.6 0h2.9m10.1 0h2.1m19.5 0h3.7m39.1 0h2.8m.6 0h2.4m-.6 0h3.1m-.6 0h4m-.6 0h2.9m-.6 0h1.7m-.6 0h2.9m-.6 0h3.1m-.7 0h2.9m-.6 0h1.7m-.6 0h2.9m-.6 0h.8M1386.1 671h2.5m13.6 0h2.9m17.1 0h2.1m41.5 0h2.9m17.9 0h2.8m.6 0h2.4m-.6 0h3.1m-.6 0h4m-.6 0h2.9m-.6 0h1.7m-.6 0h2.9m-.6 0h3.1m-.7 0h2.9m-.6 0h1.7M633 681.3h3.7m-.6 0h2.9m1.3 0h2.5m-.6 0h2.6m-.6 0h2.8m-.6 0h3.7m36 0h2.1m15.3 0h3.2m4 0h2.9m8.2 0h3.4m16 0h2.9m8.7 0h2.8m.5 0h1.7m639.8 0h2.4m-.5 0h2.9m-.2 0h2.9m-.6 0h2.9m-.2 0h2.6m-.6 0h2.9m-.6 0h3.7m7 0h2.1m4.1 0h2.9m-.6 0h3.2m56.1 0h2.4m-.6 0h3.1m-.6 0h4m-.6 0h2.9m-.6 0h1.7m-.6 0h2.9m1.8 0h2.9m-.6 0h1.7m-.6 0h2.9m-.6 0h2.9" stroke="#0000ff" stroke-width="7.8" fill="none"/><path d="M633 690.1h3.7m-.6 0h2.9m-.6 0h2.5m-.6 0h2.5m-.6 0h2.6m-.6 0h2.8m-.6 0h3.7m6.4 0h2.9m.5 0h2.9m21.5 0h2.4m16.8 0h3.2m15.1 0h3.4m16 0h2.9m8.7 0h2.8m.5 0h1.7m-.6 0h2.9" stroke="#0000ff" stroke-width="4.9" fill="none"/><path d="M323.4 557.7h2.8m.9 0h2.8m.8 0h.7m13.9 0h3.2m11.7 0h4.1m1.5 0h1.4m4.9 0h2.7m2.5 0h2.9m-.6 0h2m-.6 0h2.9m15.3 0h2.9m5.8 0h3.1m11.9 0h3.1m-.7 0h2.9m1.4 0h3.1m7.2 0h3.1m9.6 0h2.9m7.2 0h3.2m8.2 0h3.1m6.2 0h2.9m.6 0h2.9m-.6 0h2.9m-.6 0h2.6m6.3 0h2.9m2.7 0h3.1m6.3 0h2.9m-.6 0h2.4m-.6 0h3.4m2.5 0h3.2m5.9 0h3.2m16.3 0h3.1m10.8 0h3.1m20.4 0h2.9m2.2 0h2.8m-.6 0h1.8m-.6 0h2.4m3.3 0h2.6m-.6 0h2.9m3.2 0h2.9m.2 0h2.9m-.6 0h2.9m.7 0h2.8m1.6 0h2.9m23.5 0h2.8m.2 0h2.9m.5 0h2.9m-.6 0h2.1m-.5 0h2.6m.6 0h3.1m.3 0h2.8m6.3 0h2.9m18.8 0h2.9m-.6 0h3.2m49.4 0h1.7m-.6 0h2.9m-.6 0h1.8m10.7 0h3.2m-.6 0h2.9m124.9 0h1.5m31.1 0h2.9m14.4 0h2.9m33.2 0h2.9m-.5 0h2.9m.9 0h2.3m22.5 0h.7m7.3 0h3.2m-.6 0h2.4m-.5 0h2.4m-.6 0h3.3m16.6 0h1.5m-.6 0h3.2m-.6 0h1.8m.7 0h2.9m9.4 0h1.4m6.9 0h2.9m-.6 0h1.8m-.6 0h2.9m-.6 0h2.9m-.6 0h2.6m-.5 0h2.1m10.5 0h2.9m-.6 0h1.8m6.2 0h2.9m28.7 0h2.5m-.6 0h2.4m-.5 0h1.8m6.8 0h2.7m-.6 0h2.7m-.6 0h2.6m7.4 0h2.9m31.3 0h1.8m32.2 0h2.9m9.7 0h2.3m16.2 0h2.9m17.2 0h2.9m1 0h1.5m-.6 0h2.9m6.2 0h3.1m4.7 0h2.5m-.6 0h2.9m-.6 0h3.2m13.3 0h3.1m.4 0h2.5m-.6 0h2.5m-.5 0h2.5m-.6 0h2.5m-.6 0h3.7m6.3 0h3.4m2.8 0h2.9m7.4 0h2.9m2.9 0h2.9m-.6 0h2.1m-.5 0h2.1m-.3 0h4.1m-.5 0h2.5m-.6 0h2.5m-.6 0h4m-.6 0h4.1m2.1 0h2.9m-.2 0h2.9m-.6 0h2.9m-.2 0h2.6m-.6 0h2.9m-.6 0h3.7m-.7 0h3.4m5.9 0h2.9m1.7 0h2.9m-.6 0h3.2m1.4 0h2.5m-.5 0h2.5m1.7 0h2.9m-.6 0h3.7m-.6 0h2.5m-.6 0h2.5m9.9 0h2.9m1.7 0h2.9m2.8 0h2.9m17.4 0h3.1m5.1 0h1.7m16.8 0h2.9m-.6 0h2.9m.5 0h3.4m-.7 0h3.7m-.6 0h2.4m-.5 0h2.4m-.6 0h3.6m2.8 0h2.9m16.5 0h2.9m-.6 0h2.9m-.6 0h2.9m56.2 0h2.9m13.3 0h2.9m4.9 0h2.1m-.5 0h2.4m2 0h2.6m-.6 0h2.6m-.6 0h2.9m15.6 0h2.8m12.1 0h2.9m4.4 0h2.1m3 0h1.8m20 0h2.9m1.9 0h2.8m2.4 0h2.9m27.5 0h2.2M321.1 568h2.9m-.6 0h2.8m4.5 0h3.7m4.3 0h2.6m-.6 0h2.9m1.7 0h3.2m11.7 0h4.1m1.5 0h3.5m2.5 0h3.1m2.4 0h2.9m-.6 0h2m-.6 0h2.9m15.3 0h2.9m20.8 0h3.1m-.7 0h2.9m1.4 0h3.1m7.2 0h3.1m9.6 0h2.9m7.2 0h3.2m8.2 0h3.1m6.2 0h2.9m.6 0h2.9m-.6 0h2.9m-.6 0h2.6m11.9 0h3.1m6.3 0h2.9m-.6 0h2.4m-.6 0h3.4m2.5 0h3.2m-.6 0h2.9m3.6 0h2.4m17.1 0h3.1m10.8 0h3.1m18.4 0h2.6m-.6 0h2.9m2.2 0h2.8m-.6 0h1.8m-.6 0h2.4m3.3 0h2.6m-.6 0h2.9m3.2 0h2.9m2.5 0h2.9m.7 0h2.8m28 0h2.8m.2 0h2.9m.5 0h2.9m-.6 0h2.1m-.5 0h2.6m.6 0h3.1m.3 0h2.8m84 0h2.9m1.7 0h2.9m7.3 0h3.2m-.6 0h2.9m131.4 0h2.9m13.1 0h2.9m7.2 0h2.9m4.1 0h1.8m8.5 0h2.9m33.2 0h2.9m-.5 0h2.9m-.6 0h2.1m-.6 0h2.6m30.2 0h3.2m-.6 0h2.4m-.5 0h2.4m2.5 0h2.9m-.6 0h3.8m37.3 0h2.9m.6 0h2.9m-.6 0h2.9m-.6 0h2.6m4.1 0h2.1m16.2 0h2.9m.6 0h1m25.2 0h2.5m-.6 0h2.5m-.6 0h2.4m-.5 0h2.5m2.3 0h3.3m-.7 0h3.3m-.6 0h3.3m-.6 0h2.6m10.9 0h1.7m-.6 0h2.9m24 0h2.1m61.4 0h1.5m2.8 0h2.9m22 0h2.9m6.2 0h3.1m2.7 0h2.5m-.5 0h2.5m-.6 0h2.9m-.6 0h3.2m6.5 0h2.9m.5 0h2.9m5.9 0h2.5m-.5 0h2.5m1.3 0h2.5m-.6 0h2.5m5.6 0h3.4m2.8 0h2.9m11.4 0h2.4m1.7 0h2.1m1.3 0h4.1m-.5 0h2.5m-.6 0h2.5m2.8 0h1.2m1.7 0h1.2m132.6 0h1m108.4 0h2.9m4.9 0h2.1m-.5 0h2.4m2 0h1.8m41.3 0h2.1m-.5 0h2.1m3 0h1.8m20 0h2.9M307.6 578.3h3.2m10.3 0h2.9m-.6 0h2.8m4.5 0h3.7m2.1 0h2.8m6 0h3.2m30.6 0h1.1m-.6 0h2m17.6 0h2.9m5.8 0h3.1m11.9 0h3.1m-.7 0h2.9m1.4 0h3.1m7.2 0h3.1m9.6 0h2.9m18.6 0h3.1m6.2 0h2.9m.6 0h2.9m-.6 0h2.9m-.6 0h2.6m2.8 0h3.2m.3 0h2.9m2.7 0h3.1m26.8 0h1.8m16.3 0h3.1m32.3 0h2.6m-.6 0h2.9m2.2 0h2.8m-.6 0h1.8m-.6 0h2.4m3.3 0h2.6m-.6 0h2.9m-.6 0h1.8m2 0h2.9m2.5 0h2.9m.7 0h2.8m31 0h2.9m2.8 0h2.1m-.5 0h.9m14.8 0h2.9m3.7 0h2.1m-.6 0h2.6m1.8 0h2.9m2.7 0h2.9m.7 0h2.9m6.6 0h2.9m39.2 0h2.8m6.2 0h2.9m7.3 0h3.2m-.6 0h2.9m48.1 0h2.9m39.4 0h2.7m54.3 0h2.9m7.2 0h2.9m4.1 0h2.9m-.6 0h1.2m42.9 0h2.9m3.3 0h2.6m-.6 0h2.8m-.6 0h3.1m28.3 0h4.1m-.6 0h3.7m-.6 0h2.9m-.6 0h2.7m-.6 0h2.7m3.3 0h3.9m29.1 0h2.9m-.6 0h1.8m-.6 0h2.9m-.6 0h2.9m-.6 0h2.6m-.5 0h2.1m2.5 0h2.1m17.4 0h1.7m.6 0h2.6m-.6 0h2m2.6 0h2m46.1 0h2.9m.6 0h1.7m-.6 0h2.9m25.6 0h2.9m32.2 0h2.9m48.3 0h2.3m2.5 0h2.9m12 0h2.5m-.5 0h2.5m-.6 0h2.9m-.6 0h3.2m-.6 0h2.1m5 0h2.9m.5 0h2.9m4 0h2.5m-.6 0h2.5m-.5 0h2.5m-.6 0h2.5m-.6 0h2.5m-.6 0h2.5m5.6 0h3.4m2.8 0h2.9m11.4 0h2.4m5.1 0h4.1m-.5 0h2.5m-.6 0h2.5m-.6 0h4m-.6 0h4.1m2.1 0h2.9m6.8 0h2.9m-.6 0h3.7m-.7 0h3.4m10.5 0h2.9m-.6 0h3.2m1.4 0h2.5m-.5 0h2.5m-.6 0h2.9m-.6 0h2.9m-.6 0h3.7m-.6 0h2.5m-.6 0h2.5m67.2 0h2.9m-.6 0h2.9m.5 0h3.4m-.7 0h3.7m-.6 0h2.4m-.5 0h2.4m-.6 0h3.6m22.2 0h2.9m-.6 0h2.9m-.6 0h2.9m27.7 0h2.9m10.7 0h4m-.6 0h4.1m1 0h2.6m3.8 0h2.9m13.3 0h2.9m4.9 0h2.1m-.5 0h2.4m2 0h2.6m1.4 0h2.9m15.6 0h2.8m17.8 0h2.1m-.5 0h2.1m3 0h1.8m-.6 0h2.8m17.8 0h2.9m1.9 0h2.8m-.7 0h2.6m.5 0h2.9M321.1 588.6h2.9m-.6 0h2.8m.9 0h2.8m.8 0h3.7m61.4 0h2.8m9.3 0h3.1m11.9 0h3.1m-.7 0h2.9m1.4 0h3.1m7.2 0h3.1m9.6 0h2.9m7.2 0h3.2m8.2 0h3.1m6.2 0h2.9m.6 0h2.9m-.6 0h2.9m13.9 0h3.1m6.3 0h2.9m-.6 0h2.4m5.3 0h3.2m-.6 0h2.9m3.6 0h3.2m16.3 0h3.1m10.8 0h3.1m18.4 0h2.6m-.6 0h2.9m2.2 0h2.8m.6 0h2.4m3.3 0h2.6m-.6 0h2.9m-.6 0h1.8m2 0h2.9m2.5 0h2.9m5.1 0h2.9m127.2 0h2.9m1.7 0h2.9m7.3 0h3.2m-.6 0h2.9m48.1 0h2.9m37.3 0h2.8m-.7 0h2.9m-.6 0h1.8m4.8 0h2.1m-.5 0h2.9m3.5 0h3.1m10.9 0h2.8m7.3 0h2.9m4 0h2.9m6.2 0h2.9m7.2 0h2.9m4.1 0h2.9m-.6 0h2.8m5.2 0h2.9m12 0h2.9m18.3 0h2.9m-.5 0h2.9m-.6 0h2.1m-.6 0h2.6m1.6 0h3.1m13 0h2.9m-.6 0h2.9m7.3 0h3.2m-.6 0h2.4m-.5 0h2.4m-.6 0h3.7m-.6 0h2.9m-.6 0h2.7m-.6 0h2.7m3.3 0h3m-.5 0h3m-.6 0h3m-.6 0h3.2m4.1 0h.7m9.4 0h2.8m5.5 0h2.9m19.9 0h2.9m7.4 0h2.9m.6 0h2.6m-.6 0h2m.3 0h2.5m49.4 0h1.4m1.7 0h2.9m111.9 0h2.9m1 0h1.5m-.6 0h2.9m6.2 0h3.1m2.7 0h2.5m-.5 0h2.5m-.6 0h2.9m-.6 0h3.2m6.5 0h2.9m.5 0h2.9m.5 0h3.1m.4 0h2.5m-.6 0h2.5m-.5 0h2.5m-.6 0h2.5m-.6 0h2.5m-.6 0h2.5m5.6 0h3.4m2.8 0h2.9m7.4 0h2.9m1.1 0h2.4m1.7 0h2.1m-.5 0h2.1m-.3 0h4.1m-.5 0h2.5m-.6 0h2.5m9 0h2.9m4.8 0h2.6m-.6 0h2.9m-.6 0h3.7m15.5 0h3.2m1.4 0h2.5m1.4 0h2.9m-.6 0h2.9m-.6 0h3.7m1.3 0h2.5m9.9 0h2.9m54.4 0h2.9m-.6 0h2.9m3.2 0h3.7m-.6 0h2.4m1.3 0h3.6m22.2 0h2.9m-.6 0h2.9m-.6 0h2.9m27.7 0h2.9m10.7 0h4m-.6 0h4.1m-.6 0h2.1m-.5 0h2.6m3.8 0h2.9m22.7 0h2.4m2 0h2.6m-.6 0h1m19.5 0h2.8m12.1 0h1.9m32.3 0h2.9m1.9 0h2.8m-.7 0h2.6m.5 0h2.9M395.8 598.9h2.8m.6 0h2.9m5.8 0h3.1m11.9 0h3.1m-.7 0h2.9m1.4 0h3.1m7.2 0h3.1m9.6 0h2.9m27.9 0h2.9m.6 0h2.9m-.6 0h2.9m-.6 0h2.6m6.3 0h2.9m2.7 0h3.1m6.3 0h2.9m-.6 0h2.4m-.6 0h1m47.4 0h3.1m18.4 0h2.6m-.6 0h2.9m2.2 0h2.8m-.6 0h1.8m-.6 0h2.4m3.3 0h2.6m-.6 0h2.9m-.6 0h1.8m2 0h2.9m.2 0h2.9m-.6 0h2.9m11 0h3.7m9.7 0h3.7m3.4 0h2.8m.2 0h2.9m2.8 0h2.1m-.5 0h2.6m.6 0h2.4m256.4 0h2m7.2 0h2.9m4.1 0h2.9m-.6 0h1.2m87.8 0h1m-.6 0h3.7m1.7 0h2.7m-.6 0h2.7m51.1 0h2.1m8.2 0h1.8m6.2 0h2.9m2.6 0h2m.3 0h2.5m167.3 0h2.9m1 0h1.5m-.6 0h2.9m6.2 0h3.1m2.7 0h2.5m1.4 0h2.9m-.6 0h3.2m6.5 0h2.9m.5 0h2.9m.5 0h3.1m.4 0h2.5m-.6 0h2.5m-.5 0h2.5m-.6 0h2.5m-.6 0h2.5m-.6 0h2.5m11.8 0h2.9m.5 0h2.9m4 0h2.9m2.9 0h2.9m1 0h2.1m-.3 0h4.1m-.5 0h2.5m-.6 0h2.5m-.6 0h4m-.6 0h4.1m2.1 0h2.9m4.8 0h2.6m-.6 0h2.9m-.6 0h3.7m-.7 0h3.4m5.9 0h2.9m1.7 0h2.9m-.6 0h3.2m1.4 0h1m11.9 0h3.1m9.9 0h2.9m7.4 0h2.9m34.8 0h2.9m6.4 0h2.9m-.6 0h2.9m.5 0h3.4m-.7 0h3.7m-.6 0h2.4m-.5 0h2.4m-.6 0h3.6m2.8 0h2.9m16.5 0h2.9m-.6 0h2.9m-.6 0h2.9m27.7 0h2.9m-.5 0h2.9m8.3 0h4m-.6 0h4.1m-.6 0h2.1m-.5 0h2.6m3.8 0h2.6m13.6 0h2.9m4.9 0h2.1m-.5 0h2.4m2 0h2.6m-.6 0h1m68.6 0h2.9m4 0h2.6m.5 0h2.9M399.2 609.2h2.9m20.8 0h3.1m-.7 0h2.9m1.4 0h3.1m7.2 0h3.1m9.6 0h2.9m18.6 0h3.1m6.2 0h2.9m.6 0h2.9m-.6 0h2.9m-.6 0h2.6m6.3 0h2.9m2.7 0h3.1m80.3 0h2.6m-.6 0h2.9m2.2 0h2.8m-.6 0h1.8m-.6 0h2.4m3.3 0h2.6m-.6 0h2.9m-.6 0h1.8m2 0h2.9m.2 0h2.9m-.6 0h2.9m.7 0h2.8m1.6 0h2.9m.7 0h2.9m22.9 0h2.9m7.6 0h3.1m.3 0h2.8m6.3 0h2.9m5.2 0h2.6m1.8 0h2.9m2.7 0h2.9m.7 0h2.9m-.6 0h3.2m4 0h2.9m8.2 0h3.4m16 0h2.9m13.1 0h2.9m-.6 0h1.1m174.4 0h2.9m4.1 0h2.9m94.2 0h2.7m-.6 0h2.7m195.8 0h2.9m12 0h2.1m3.6 0h2.9m-.6 0h2.1m-.6 0h2.6m-.5 0h1.8m2.8 0h2.9m17.2 0h2.9m1.9 0h2.9m6.2 0h3.1m2.7 0h2.5m-.5 0h2.5m-.6 0h2.9m-.6 0h3.2m6.5 0h2.9m.5 0h2.9m.5 0h3.1m2.3 0h2.5m-.5 0h2.5m-.6 0h2.5m-.6 0h2.5m-.6 0h2.5m5.6 0h3.4m13.1 0h2.9m5.2 0h2.1m4.9 0h2.5m-.6 0h2.5m-.6 0h4m-.6 0h4.1m121.1 0h2.9m-.6 0h2.9m.5 0h3.4m2.4 0h2.4m-.5 0h2.4m-.6 0h3.6m2.8 0h2.9m16.5 0h2.9m-.6 0h2.9m-.6 0h2.9m27.7 0h2.9m-.5 0h.6m49.5 0h2.1m5.9 0h2.6m-.6 0h2.9M422.9 619.5h3.1m-.7 0h2.9m1.4 0h3.1m19.9 0h2.9m18.6 0h3.1m6.2 0h2.9m2.9 0h2.9m97.3 0h2.6m4.5 0h2.8m-.6 0h1.8m-.6 0h2.4m3.3 0h2.6m1.7 0h1.8m2 0h2.9m.2 0h2.9m-.6 0h2.9m8.7 0h2.9m19.9 0h2.8m.2 0h2.9m4.4 0h2.6m.6 0h3.1m.3 0h2.8m6.3 0h2.9m3.7 0h2.1m-.6 0h2.6m1.8 0h2.9m240.1 0h2.9m4.1 0h2.9m346 0h2.9m1 0h1.5m-.6 0h2.9m6.2 0h3.1m2.7 0h2.5m1.4 0h2.9m-.6 0h3.2m6.5 0h.7m33.5 0h2.9m7.4 0h2.9m1.1 0h2.4m1.7 0h2.1m1.3 0h4.1m-.5 0h2.5m-.6 0h2.5m-.6 0h4m-.6 0h4.1m2.1 0h2.9m9.1 0h3.7m8.6 0h2.9m4 0h3.2m1.4 0h2.5m-.5 0h2.5m-.6 0h2.9m4.8 0h2.5m11.8 0h2.9m1.7 0h2.9m49.8 0h2.9m-.6 0h2.9m.5 0h3.4m2.4 0h2.4m-.5 0h2.4m-.6 0h3.6m2.8 0h2.9m16.5 0h2.9m-.6 0h2.9m-.6 0h2.9m30.1 0h2.9m8.3 0h4m-.6 0h4.1m-.6 0h2.1m-.5 0h2.6m3.8 0h2.9m13.3 0h2.9m4.9 0h2.1m-.5 0h2.4m2 0h2.6m-.6 0h2.6m-.6 0h2.9m15.6 0h2.8m6.5 0h2.8m8.5 0h.9M429.6 629.8h3.1m19.9 0h2.9m7.2 0h3.2m17.5 0h2.9m.6 0h2.9m-.6 0h2.9m-.6 0h2.6m2.8 0h3.2m5.9 0h3.1m6.3 0h2.9m-.6 0h2.4m-.6 0h1m70.9 0h2.9m2.2 0h2.8m-.6 0h1.8m-.6 0h2.4m3.3 0h2.6m-.6 0h2.9m-.6 0h1.8m2 0h2.9m.2 0h2.9m-.6 0h2.9m.7 0h2.8m1.6 0h2.9m23.5 0h2.8m.2 0h2.9m2.8 0h2.1m-.5 0h2.6m.6 0h3.1m.3 0h2.8m12.9 0h2.1m-.6 0h2.6m1.8 0h2.9m2.7 0h2.9m.7 0h2.9m6.6 0h.8m579.6 0h2.7m1 0h1.5m-.6 0h2.9m6.2 0h3.1m2.7 0h2.5m-.5 0h2.5m-.6 0h2.9m-.6 0h3.2m-.6 0h2.1m5 0h2.9m.5 0h2.9m5.9 0h2.5m-.5 0h1.7m28.6 0h2.9m2.9 0h2.9m-.6 0h2.1m-.5 0h2.1m-.3 0h4.1m-.5 0h2.5m-.6 0h2.5m-.6 0h4m-.6 0h4.1m.2 0h2.4m7.2 0h2.6m-.6 0h2.9m-.6 0h3.7m-.7 0h3.4m10.5 0h2.9m-.6 0h3.2m1.4 0h2.5m-.5 0h2.5m-.6 0h2.9m-.6 0h2.9m-.6 0h3.7m-.6 0h2.5m-.6 0h2.5m9.9 0h2.9m1.7 0h2.9m17.9 0h2.8m36 0h2.1m-.6 0h3.7m-.6 0h2.4m-.5 0h2.4m-.6 0h3.6m2.8 0h2.6m104.5 0h2.1m-.5 0h2.4m2 0h2.6m-.6 0h2.6m-.6 0h2.9m15.6 0h2.8M483.4 640.1h2.9m.6 0h2.7m109.5 0h1.4m-.6 0h2.4m5.3 0h2.9m8.6 0h2.9m.7 0h2.8m1.6 0h2.9m23.5 0h2.8m3.6 0h2.9m-.6 0h2.1m2.7 0h3.1m.3 0h2.8m6.3 0h2.9m5.2 0h2.6m1.8 0h2.9m2.7 0h2.9m.7 0h2.9m-.6 0h3.2m664.3 0h2.9m1.1 0h2.4m-.6 0h2.9m-.6 0h2.1m1.3 0h4.1m-.5 0h2.5m-.6 0h2.5m-.6 0h4m-.6 0h4.1m2.1 0h2.9m2.1 0h2.9m-.2 0h2.6m-.6 0h2.9m2.4 0h3.4m5.9 0h2.9m1.7 0h2.9m4 0h2.5m-.5 0h2.5m-.6 0h2.9m-.6 0h2.9m-.6 0h3.7m-.6 0h2.5m-.6 0h2.5m9.9 0h2.9m1.7 0h2.9m2.8 0h2.9m12.2 0h2.8m31.4 0h2.9m.5 0h3.4m-.7 0h3.7m-.6 0h2.4m-.5 0h2.4m-.6 0h3.6m22.2 0h2.9m86.4 0h2.4m2 0h2.6m-.6 0h2.6m-.6 0h2.9M483.4 650.4h2.9m.6 0h2.9m-.6 0h2.9m-.6 0h2.6m2.8 0h3.2m.3 0h2.9m2.7 0h3.1m6.3 0h2.9m1.2 0h3.4m11.6 0h3.2m16.3 0h3.1m10.8 0h3.1m18.4 0h2.6m4.5 0h2.8m-.6 0h1.8m-.6 0h2.4m3.3 0h2.6m5.5 0h2.9m.2 0h2.9m-.6 0h2.9m.7 0h2.8m28 0h2.8m.2 0h2.9m.5 0h2.9m4.2 0h3.1m.3 0h2.8m6.3 0h2.9m9.6 0h2.9m2.7 0h2.9m.7 0h2.9m37.1 0h2.9m8.7 0h2.8m1.6 0h2.9m-.6 0h1.8m.5 0h2.9m7.3 0h3.2m-.6 0h2.9m593.5 0h2.9m8.6 0h4.1m-.5 0h2.5m-.6 0h2.5m2.8 0h4.1m2.1 0h2.9m4.8 0h2.6m-.6 0h2.9m2.4 0h3.4m5.9 0h2.9m1.7 0h2.9m-.6 0h3.2m1.4 0h2.5m-.5 0h2.5m1.7 0h2.9m2.5 0h2.5m-.6 0h2.5m20.2 0h2.9m44.1 0h2.9m2.8 0h1m128 0h2.6m-.6 0h2.6m-.6 0h2.9M607.6 660.7h2.9m-.6 0h1.8m2 0h2.9m2.5 0h2.9m31.5 0h2.8m.2 0h2.9m2.8 0h2.1m-.5 0h2.6m.6 0h3.1m.3 0h2.8m6.3 0h2.9m5.2 0h2.6m686.3 0h.9m-.6 0h2.9m2.8 0h4.1m-.5 0h2.5m-.6 0h2.5m2.8 0h4.1m14.1 0h3.7m-.7 0h3.4m5.9 0h2.9m1.7 0h2.9m-.6 0h3.2m1.4 0h2.5m-.5 0h2.5m-.6 0h2.9m4.8 0h2.5m-.6 0h2.5m9.9 0h2.9M609.6 671h.9m775.4 0h.8m1.3 0h2.5m2.8 0h4.1m2.1 0h2.9m2.1 0h2.9m-.2 0h2.6m-.6 0h2.9m-.6 0h3.7m8.6 0h2.9m1.7 0h2.9m-.6 0h3.2m1.4 0h2.5m-.5 0h2.5m-.6 0h2.9m-.6 0h2.9m-.6 0h3.7m1.3 0h2.5m9.9 0h2.9m7.4 0h2.9m49.8 0h3.4m-.7 0h3.7m-.6 0h2.4m-.5 0h2.4m-.6 0h3.6m2.8 0h2.9m18.8 0h2.9m-.6 0h.9M638.4 681.3h2.5m12.6 0h2.8m.2 0h2.9m.5 0h2.9m-.6 0h2.1m-.5 0h2.6m.6 0h3.1m.3 0h2.8m6.3 0h2.9m5.2 0h2.6m1.8 0h2.9m2.7 0h2.9m59 0h1.8m.5 0h2.9m625.9 0h3.3m-.6 0h4.1m17.1 0h3.4m5.9 0h2.9m8.6 0h2.5m-.5 0h2.5m-.6 0h2.9m-.6 0h2.9m-.6 0h3.7m-.6 0h2.5m-.6 0h2.5m52.1 0h3.1m12 0h2.9m-.6 0h2.9m.5 0h3.4m-.7 0h3.7m-.6 0h2.4m-.5 0h2.4m-.6 0h3.6m2.8 0h2.9m16.5 0h2.9m-.6 0h2.9m-.6 0h2.9" stroke="#ff0000" stroke-width="7.8" fill="none"/><path d="M662.2 690.1h2.1m2.7 0h3.1m.3 0h2.8m6.3 0h2.9m3.7 0h2.1m-.6 0h2.6m1.8 0h2.9m2.7 0h2.9m.7 0h2.9m6.6 0h2.9m45.9 0h1.8m.5 0h2.9m7.3 0h3.2m-.6 0h2.9m616.6 0h3.3" stroke="#ff0000" stroke-width="4.9" fill="none"/><path d="M415 557.7h3.4m185.6 0h3.4m712 0h3.4m138.9 0h3.4M483.7 568h3.4m1005.9 0h3.4M339.1 578.3h3.4m152.6 0h3.4m1008.3 0h3.4M1012.5 588.6h3.4M486.8 598.9h3.4m626.1 0h3.4M701.4 609.2h3.4M1373.3 619.5h3.4m150.1 0h3.4M692.7 640.1h3.4M534.1 650.4h3.4m881.3 0h3.4M700.8 660.7h3.4m680.9 0h3.4M657.9 681.3h3.4" stroke="#8a2be2" stroke-width="7.8" fill="none"/><path d="M1421.7 690.1h3.4" stroke="#8a2be2" stroke-width="4.9" fill="none"/><path d="M539.6 557.7h1.2m238.2 0h1.2m799.6 0h1.2M675.6 568h1.2m179.4 0h1.2m326.7 0h1.2M347 578.3h1.2m520.9 0h1.2m351.3 0h1.2m517.3 0h1.2M548.2 588.6h1.2m510.7 0h1.2m60.8 0h1.2m508 0h1.2M519 598.9h1.2m147.7 0h1.2m453 0h1.2m501 0h1.2M508.5 609.2h1.2m886.3 0h1.2m199 0h1.2M693.6 619.5h1.2m797.3 0h1.2M1681.6 629.8h1.2M743.9 640.1h1.2M797.7 650.4h1.2m724.8 0h1.2M710 660.7h1.2m799.6 0h1.2M1563.5 671h1.2M1462.9 681.3h1.2" stroke="#ff3ec8" stroke-width="7.8" fill="none"/><path d="M782.5 690.1h1.2m680.3 0h1.2" stroke="#ff3ec8" stroke-width="4.9" fill="none"/><path d="M378.4 557.7h1.8m541.4 0h1.8m525 0h1.8m178.6 0h1.8M476 568h1.8m666.1 0h1.8m254.8 0h2.2m4.1 0h3.5m4.6 0h2.2m6.1 0h2.2m9 0h5m1.9 0h5m.2 0h2.2m2.9 0h3.5m2.3 0h2.2m2.3 0h5m7.8 0h1.6m3 0h2.2m4.7 0h2.2m6.7 0h1.6m7.1 0h2.2m19.7 0h5M331 578.3h1.8m446.3 0h1.8m524 0h1.8m13.6 0h1.8m143.4 0h1.8M860.4 588.6h1.8m34.7 0h1.8m112.7 0h1.8m70.2 0h1.8m282.5 0h1.8m32.8 0h1.8m155.4 0h1.8M1464.1 598.9h1.8M735.8 609.2h1.8m576.4 0h1.8m87.2 0h3.5m2.8 0h5m.4 0h5m1 0h5m6.3 0h3.5m9.1 0h3.5m9.7 0h3.5m9.2 0h2.2m4.6 0h5m13.8 0h1.8M646.5 619.5h1.8m937.8 0h1.8M501.9 629.8h1.8m794.3 0h1.8m164.7 0h1.8M736.3 640.1h1.8m645.8 0h1.8M663.7 650.4h1.8m821.5 0h1.8M618.9 671h1.6m2.9 0h2.2m3 0h2.2m2.4 0h5m2.2 0h2.2m9.9 0h2.2m18.1 0h2.2m831.9 0h1.8M775.8 690.1h1.8m620.8 0h2.2m12.5 0h1.6m13.1 0h5m6.2 0h5m3 0h2.2m3.5 0h3.5m4.4 0h2.2" stroke="#444" stroke-width="1.8" fill="none"/></g><rect x="281" y="692.6" width="1493" height="1.5" fill="#8c8c8c"/><rect x="281" y="695.6" width="1493" height="1.2" fill="#b4b4b4"/><rect x="510.4" y="707" width="263.3" height="10.2" fill="#0000b2"/><rect x="1368.8" y="707" width="261.2" height="10.2" fill="#0000b2"/><rect x="1771.3" y="3" width="1.6" height="736" fill="#b0b0b0"/><rect x="1774" y="0" width="3" height="742" fill="#000"/></g>
<g id="panel-e"><path d="M152.51 1261.3h17.3v-4.24h-17.3zM174.13 1261.3h17.3v-10.6h-17.3zM195.75 1261.3h17.3v-19.78h-17.3zM217.37 1261.3h17.3v-34.61h-17.3zM238.99 1261.3h17.3v-52.97h-17.3zM260.61 1261.3h17.3v-73.46h-17.3zM282.23 1261.3h17.3v-93.94h-17.3zM303.85 1261.3h17.3v-108.07h-17.3zM325.47 1261.3h17.3v-113.72h-17.3zM347.09 1261.3h17.3v-110.19h-17.3zM368.71 1261.3h17.3v-99.59h-17.3zM390.33 1261.3h17.3v-83.35h-17.3zM411.95 1261.3h17.3v-64.98h-17.3zM433.57 1261.3h17.3v-49.44h-17.3zM455.19 1261.3h17.3v-34.61h-17.3zM476.81 1261.3h17.3v-23.73h-17.3zM498.43 1261.3h17.3v-14.83h-17.3zM520.05 1261.3h17.3v-9.18h-17.3zM541.67 1261.3h17.3v-5.65h-17.3zM563.29 1261.3h17.3v-3.39h-17.3zM584.91 1261.3h17.3v-1.98h-17.3zM606.53 1261.3h17.3v-1.13h-17.3zM628.15 1261.3h17.3v-0.71h-17.3zM649.77 1261.3h17.3v-0.42h-17.3zM671.39 1261.3h17.3v-0.28h-17.3zM693.01 1261.3h17.3v-0.21h-17.3zM714.63 1261.3h17.3v-0.14h-17.3zM736.25 1261.3h17.3v-0.14h-17.3zM757.87 1261.3h17.3v-0.11h-17.3zM779.49 1261.3h17.3v-0.08h-17.3z" fill="#0072b2" stroke="#10354f" stroke-width="0.8"/><rect x="120.3" y="837.5" width="708.7" height="423.8" fill="none" stroke="#333" stroke-width="1.35"/><text x="139.54" y="1282.6" font-size="15" font-family='"DejaVu Sans", "Liberation Sans", sans-serif' text-anchor="middle" fill="#262626">0</text><text x="247.64" y="1282.6" font-size="15" font-family='"DejaVu Sans", "Liberation Sans", sans-serif' text-anchor="middle" fill="#262626">5</text><text x="355.74" y="1282.6" font-size="15" font-family='"DejaVu Sans", "Liberation Sans", sans-serif' text-anchor="middle" fill="#262626">10</text><text x="463.84" y="1282.6" font-size="15" font-family='"DejaVu Sans", "Liberation Sans", sans-serif' text-anchor="middle" fill="#262626">15</text><text x="571.94" y="1282.6" font-size="15" font-family='"DejaVu Sans", "Liberation Sans", sans-serif' text-anchor="middle" fill="#262626">20</text><text x="680.04" y="1282.6" font-size="15" font-family='"DejaVu Sans", "Liberation Sans", sans-serif' text-anchor="middle" fill="#262626">25</text><text x="788.14" y="1282.6" font-size="15" font-family='"DejaVu Sans", "Liberation Sans", sans-serif' text-anchor="middle" fill="#262626">30</text><text x="110.3" y="1266.9" font-size="15" font-family='"DejaVu Sans", "Liberation Sans", sans-serif' text-anchor="end" fill="#262626">0.0</text><text x="110.3" y="1196.27" font-size="15" font-family='"DejaVu Sans", "Liberation Sans", sans-serif' text-anchor="end" fill="#262626">0.5</text><text x="110.3" y="1125.63" font-size="15" font-family='"DejaVu Sans", "Liberation Sans", sans-serif' text-anchor="end" fill="#262626">1.0</text><text x="110.3" y="1055" font-size="15" font-family='"DejaVu Sans", "Liberation Sans", sans-serif' text-anchor="end" fill="#262626">1.5</text><text x="110.3" y="984.37" font-size="15" font-family='"DejaVu Sans", "Liberation Sans", sans-serif' text-anchor="end" fill="#262626">2.0</text><text x="110.3" y="913.73" font-size="15" font-family='"DejaVu Sans", "Liberation Sans", sans-serif' text-anchor="end" fill="#262626">2.5</text><text x="110.3" y="843.1" font-size="15" font-family='"DejaVu Sans", "Liberation Sans", sans-serif' text-anchor="end" fill="#262626">3.0</text><path d="M139.54 1261.3v5.5M247.64 1261.3v5.5M355.74 1261.3v5.5M463.84 1261.3v5.5M571.94 1261.3v5.5M680.04 1261.3v5.5M788.14 1261.3v5.5M120.3 1261.3h-5.5M120.3 1190.67h-5.5M120.3 1120.03h-5.5M120.3 1049.4h-5.5M120.3 978.77h-5.5M120.3 908.13h-5.5M120.3 837.5h-5.5" stroke="#222" stroke-width="1.2" fill="none"/><text x="121.3" y="833.5" font-size="15" font-family='"DejaVu Sans", "Liberation Sans", sans-serif' fill="#262626">1e6</text><text x="474.65" y="830" font-size="27.9" font-family='"DejaVu Sans", "Liberation Sans", sans-serif' text-anchor="middle" fill="#1a1a1a">Aggregated CpG Coverage</text><text x="474.65" y="1306.9" font-size="22.8" font-family='"DejaVu Sans", "Liberation Sans", sans-serif' text-anchor="middle" fill="#1a1a1a">CpG Read Depth</text><text x="0" y="0" font-size="22.8" font-family='"DejaVu Sans", "Liberation Sans", sans-serif' text-anchor="middle" fill="#1a1a1a" transform="translate(76.8 1049.4) rotate(-90)">Number of CpG sites</text><text x="390.7" y="1019.3" font-size="22.8" font-family='"DejaVu Sans", "Liberation Sans", sans-serif' fill="#1a1a1a">Number of CpG sites=7.17 million</text><path d="M1001.7 1261.3h20.78v-115.13h-20.78zM1027.68 1261.3h20.78v-197.77h-20.78zM1053.65 1261.3h20.78v-274.76h-20.78zM1079.62 1261.3h20.78v-321.38h-20.78zM1105.59 1261.3h20.78v-315.73h-20.78zM1131.56 1261.3h20.78v-266.71h-20.78zM1157.53 1261.3h20.78v-195.37h-20.78zM1183.5 1261.3h20.78v-127.14h-20.78zM1209.48 1261.3h20.78v-75.86h-20.78zM1235.45 1261.3h20.78v-40.97h-20.78zM1261.42 1261.3h20.78v-20.48h-20.78zM1287.39 1261.3h20.78v-9.89h-20.78zM1313.36 1261.3h20.78v-4.52h-20.78zM1339.33 1261.3h20.78v-2.12h-20.78zM1365.3 1261.3h20.78v-0.99h-20.78zM1391.28 1261.3h20.78v-0.57h-20.78zM1417.25 1261.3h20.78v-0.28h-20.78zM1443.22 1261.3h20.78v-0.21h-20.78zM1469.19 1261.3h20.78v-0.14h-20.78zM1495.16 1261.3h20.78v-0.14h-20.78zM1521.13 1261.3h20.78v-0.11h-20.78zM1547.1 1261.3h20.78v-0.08h-20.78zM1573.08 1261.3h20.78v-0.07h-20.78zM1599.05 1261.3h20.78v-0.06h-20.78zM1625.02 1261.3h20.78v-0.04h-20.78z" fill="#0072b2" stroke="#10354f" stroke-width="0.8"/><rect x="969.5" y="837.5" width="708.5" height="423.8" fill="none" stroke="#333" stroke-width="1.35"/><text x="986.12" y="1282.6" font-size="15" font-family='"DejaVu Sans", "Liberation Sans", sans-serif' text-anchor="middle" fill="#262626">0</text><text x="1115.98" y="1282.6" font-size="15" font-family='"DejaVu Sans", "Liberation Sans", sans-serif' text-anchor="middle" fill="#262626">5</text><text x="1245.84" y="1282.6" font-size="15" font-family='"DejaVu Sans", "Liberation Sans", sans-serif' text-anchor="middle" fill="#262626">10</text><text x="1375.69" y="1282.6" font-size="15" font-family='"DejaVu Sans", "Liberation Sans", sans-serif' text-anchor="middle" fill="#262626">15</text><text x="1505.55" y="1282.6" font-size="15" font-family='"DejaVu Sans", "Liberation Sans", sans-serif' text-anchor="middle" fill="#262626">20</text><text x="1635.41" y="1282.6" font-size="15" font-family='"DejaVu Sans", "Liberation Sans", sans-serif' text-anchor="middle" fill="#262626">25</text><text x="959.5" y="1266.9" font-size="15" font-family='"DejaVu Sans", "Liberation Sans", sans-serif' text-anchor="end" fill="#262626">0.0</text><text x="959.5" y="1196.27" font-size="15" font-family='"DejaVu Sans", "Liberation Sans", sans-serif' text-anchor="end" fill="#262626">0.5</text><text x="959.5" y="1125.63" font-size="15" font-family='"DejaVu Sans", "Liberation Sans", sans-serif' text-anchor="end" fill="#262626">1.0</text><text x="959.5" y="1055" font-size="15" font-family='"DejaVu Sans", "Liberation Sans", sans-serif' text-anchor="end" fill="#262626">1.5</text><text x="959.5" y="984.37" font-size="15" font-family='"DejaVu Sans", "Liberation Sans", sans-serif' text-anchor="end" fill="#262626">2.0</text><text x="959.5" y="913.73" font-size="15" font-family='"DejaVu Sans", "Liberation Sans", sans-serif' text-anchor="end" fill="#262626">2.5</text><text x="959.5" y="843.1" font-size="15" font-family='"DejaVu Sans", "Liberation Sans", sans-serif' text-anchor="end" fill="#262626">3.0</text><path d="M986.12 1261.3v5.5M1115.98 1261.3v5.5M1245.84 1261.3v5.5M1375.69 1261.3v5.5M1505.55 1261.3v5.5M1635.41 1261.3v5.5M969.5 1261.3h-5.5M969.5 1190.67h-5.5M969.5 1120.03h-5.5M969.5 1049.4h-5.5M969.5 978.77h-5.5M969.5 908.13h-5.5M969.5 837.5h-5.5" stroke="#222" stroke-width="1.2" fill="none"/><text x="970.5" y="833.5" font-size="15" font-family='"DejaVu Sans", "Liberation Sans", sans-serif' fill="#262626">1e6</text><text x="1323.75" y="830" font-size="27.9" font-family='"DejaVu Sans", "Liberation Sans", sans-serif' text-anchor="middle" fill="#1a1a1a">Stranded CpG Coverage</text><text x="1323.75" y="1306.9" font-size="22.8" font-family='"DejaVu Sans", "Liberation Sans", sans-serif' text-anchor="middle" fill="#1a1a1a">CpG Read Depth</text><text x="0" y="0" font-size="22.8" font-family='"DejaVu Sans", "Liberation Sans", sans-serif' text-anchor="middle" fill="#1a1a1a" transform="translate(926 1049.4) rotate(-90)">Number of CpG sites</text><text x="1240.1" y="1019.3" font-size="22.8" font-family='"DejaVu Sans", "Liberation Sans", sans-serif' fill="#1a1a1a">Number of CpG sites=13.99 million</text></g>
<g id="panels-fgh"><rect x="78.9" y="1521.4" width="41.19" height="41.76" fill="#000083"/><rect x="119.79" y="1521.4" width="41.19" height="41.76" fill="#0000ff"/><rect x="160.68" y="1521.4" width="41.19" height="41.76" fill="#0056ff"/><rect x="201.57" y="1521.4" width="41.19" height="41.76" fill="#00a0ff"/><rect x="242.46" y="1521.4" width="41.19" height="41.76" fill="#00ffd1"/><rect x="283.35" y="1521.4" width="41.19" height="41.76" fill="#a9ff00"/><rect x="324.24" y="1521.4" width="41.19" height="41.76" fill="#f8f600"/><rect x="365.13" y="1521.4" width="41.19" height="41.76" fill="#ffab00"/><rect x="406.02" y="1521.4" width="41.19" height="41.76" fill="#ff2100"/><rect x="446.91" y="1521.4" width="41.19" height="41.76" fill="#960000"/><rect x="78.9" y="1562.86" width="41.19" height="41.76" fill="#0000a7"/><rect x="119.79" y="1562.86" width="41.19" height="41.76" fill="#0000ff"/><rect x="160.68" y="1562.86" width="41.19" height="41.76" fill="#0095ff"/><rect x="201.57" y="1562.86" width="41.19" height="41.76" fill="#00dcff"/><rect x="242.46" y="1562.86" width="41.19" height="41.76" fill="#00ffaa"/><rect x="283.35" y="1562.86" width="41.19" height="41.76" fill="#b7ff00"/><rect x="324.24" y="1562.86" width="41.19" height="41.76" fill="#f0fa00"/><rect x="365.13" y="1562.86" width="41.19" height="41.76" fill="#ffd100"/><rect x="406.02" y="1562.86" width="41.19" height="41.76" fill="#ff8a00"/><rect x="446.91" y="1562.86" width="41.19" height="41.76" fill="#ff6d00"/><rect x="78.9" y="1604.32" width="41.19" height="41.76" fill="#0000ca"/><rect x="119.79" y="1604.32" width="41.19" height="41.76" fill="#002aff"/><rect x="160.68" y="1604.32" width="41.19" height="41.76" fill="#00d2ff"/><rect x="201.57" y="1604.32" width="41.19" height="41.76" fill="#00ffdd"/><rect x="242.46" y="1604.32" width="41.19" height="41.76" fill="#00ff8e"/><rect x="283.35" y="1604.32" width="41.19" height="41.76" fill="#b7ff00"/><rect x="324.24" y="1604.32" width="41.19" height="41.76" fill="#d7ff00"/><rect x="365.13" y="1604.32" width="41.19" height="41.76" fill="#e2ff00"/><rect x="406.02" y="1604.32" width="41.19" height="41.76" fill="#ffe800"/><rect x="446.91" y="1604.32" width="41.19" height="41.76" fill="#e8ff00"/><rect x="78.9" y="1645.78" width="41.19" height="41.76" fill="#000dff"/><rect x="119.79" y="1645.78" width="41.19" height="41.76" fill="#00a0ff"/><rect x="160.68" y="1645.78" width="41.19" height="41.76" fill="#00ffc8"/><rect x="201.57" y="1645.78" width="41.19" height="41.76" fill="#00ff98"/><rect x="242.46" y="1645.78" width="41.19" height="41.76" fill="#00ff58"/><rect x="283.35" y="1645.78" width="41.19" height="41.76" fill="#d7ff00"/><rect x="324.24" y="1645.78" width="41.19" height="41.76" fill="#caff00"/><rect x="365.13" y="1645.78" width="41.19" height="41.76" fill="#b0ff00"/><rect x="406.02" y="1645.78" width="41.19" height="41.76" fill="#bdff00"/><rect x="446.91" y="1645.78" width="41.19" height="41.76" fill="#71ff34"/><rect x="78.9" y="1687.24" width="41.19" height="41.76" fill="#00b9ff"/><rect x="119.79" y="1687.24" width="41.19" height="41.76" fill="#00ffc0"/><rect x="160.68" y="1687.24" width="41.19" height="41.76" fill="#4fff47"/><rect x="201.57" y="1687.24" width="41.19" height="41.76" fill="#8bff1a"/><rect x="242.46" y="1687.24" width="41.19" height="41.76" fill="#d0ff00"/><rect x="283.35" y="1687.24" width="41.19" height="41.76" fill="#ffda00"/><rect x="324.24" y="1687.24" width="41.19" height="41.76" fill="#f0fa00"/><rect x="365.13" y="1687.24" width="41.19" height="41.76" fill="#caff00"/><rect x="406.02" y="1687.24" width="41.19" height="41.76" fill="#a9ff00"/><rect x="446.91" y="1687.24" width="41.19" height="41.76" fill="#00ff5e"/><rect x="78.9" y="1728.7" width="41.19" height="41.76" fill="#00ffa1"/><rect x="119.79" y="1728.7" width="41.19" height="41.76" fill="#00ff58"/><rect x="160.68" y="1728.7" width="41.19" height="41.76" fill="#caff00"/><rect x="201.57" y="1728.7" width="41.19" height="41.76" fill="#d7ff00"/><rect x="242.46" y="1728.7" width="41.19" height="41.76" fill="#f8f600"/><rect x="283.35" y="1728.7" width="41.19" height="41.76" fill="#ffda00"/><rect x="324.24" y="1728.7" width="41.19" height="41.76" fill="#c4ff00"/><rect x="365.13" y="1728.7" width="41.19" height="41.76" fill="#40ff4d"/><rect x="406.02" y="1728.7" width="41.19" height="41.76" fill="#00ff6d"/><rect x="446.91" y="1728.7" width="41.19" height="41.76" fill="#00ffd5"/><rect x="78.9" y="1770.16" width="41.19" height="41.76" fill="#00ffa1"/><rect x="119.79" y="1770.16" width="41.19" height="41.76" fill="#00ff58"/><rect x="160.68" y="1770.16" width="41.19" height="41.76" fill="#b0ff00"/><rect x="201.57" y="1770.16" width="41.19" height="41.76" fill="#8bff1a"/><rect x="242.46" y="1770.16" width="41.19" height="41.76" fill="#8bff1a"/><rect x="283.35" y="1770.16" width="41.19" height="41.76" fill="#a2ff00"/><rect x="324.24" y="1770.16" width="41.19" height="41.76" fill="#00ff85"/><rect x="365.13" y="1770.16" width="41.19" height="41.76" fill="#00ffe2"/><rect x="406.02" y="1770.16" width="41.19" height="41.76" fill="#00e1fc"/><rect x="446.91" y="1770.16" width="41.19" height="41.76" fill="#0066ff"/><rect x="78.9" y="1811.62" width="41.19" height="41.76" fill="#00ff80"/><rect x="119.79" y="1811.62" width="41.19" height="41.76" fill="#40ff4d"/><rect x="160.68" y="1811.62" width="41.19" height="41.76" fill="#83ff24"/><rect x="201.57" y="1811.62" width="41.19" height="41.76" fill="#00ff5e"/><rect x="242.46" y="1811.62" width="41.19" height="41.76" fill="#00ff77"/><rect x="283.35" y="1811.62" width="41.19" height="41.76" fill="#00ff80"/><rect x="324.24" y="1811.62" width="41.19" height="41.76" fill="#00ebf3"/><rect x="365.13" y="1811.62" width="41.19" height="41.76" fill="#008bff"/><rect x="406.02" y="1811.62" width="41.19" height="41.76" fill="#0076ff"/><rect x="446.91" y="1811.62" width="41.19" height="41.76" fill="#000dff"/><rect x="78.9" y="1853.08" width="41.19" height="41.76" fill="#ddff00"/><rect x="119.79" y="1853.08" width="41.19" height="41.76" fill="#d7ff00"/><rect x="160.68" y="1853.08" width="41.19" height="41.76" fill="#caff00"/><rect x="201.57" y="1853.08" width="41.19" height="41.76" fill="#00ff5e"/><rect x="242.46" y="1853.08" width="41.19" height="41.76" fill="#00ff80"/><rect x="283.35" y="1853.08" width="41.19" height="41.76" fill="#00ffa5"/><rect x="324.24" y="1853.08" width="41.19" height="41.76" fill="#00afff"/><rect x="365.13" y="1853.08" width="41.19" height="41.76" fill="#0051ff"/><rect x="406.02" y="1853.08" width="41.19" height="41.76" fill="#0035ff"/><rect x="446.91" y="1853.08" width="41.19" height="41.76" fill="#0000f8"/><rect x="78.9" y="1894.54" width="41.19" height="41.76" fill="#960000"/><rect x="119.79" y="1894.54" width="41.19" height="41.76" fill="#ff5400"/><rect x="160.68" y="1894.54" width="41.19" height="41.76" fill="#ffba00"/><rect x="201.57" y="1894.54" width="41.19" height="41.76" fill="#83ff24"/><rect x="242.46" y="1894.54" width="41.19" height="41.76" fill="#00ff7c"/><rect x="283.35" y="1894.54" width="41.19" height="41.76" fill="#00ffc4"/><rect x="324.24" y="1894.54" width="41.19" height="41.76" fill="#0076ff"/><rect x="365.13" y="1894.54" width="41.19" height="41.76" fill="#0003ff"/><rect x="406.02" y="1894.54" width="41.19" height="41.76" fill="#0000ff"/><rect x="446.91" y="1894.54" width="41.19" height="41.76" fill="#00008f"/><line x1="78.9" y1="1936" x2="487.8" y2="1521.4" stroke="#000" stroke-width="1.1" stroke-dasharray="1.6 1.3" opacity="0.85"/><text x="78.9" y="1956.2" font-size="15" font-family='"DejaVu Sans", "Liberation Sans", sans-serif' text-anchor="middle" fill="#262626">0.0</text><text x="70.3" y="1941.6" font-size="15" font-family='"DejaVu Sans", "Liberation Sans", sans-serif' text-anchor="end" fill="#262626">0.0</text><text x="119.79" y="1956.2" font-size="15" font-family='"DejaVu Sans", "Liberation Sans", sans-serif' text-anchor="middle" fill="#262626">0.1</text><text x="70.3" y="1900.14" font-size="15" font-family='"DejaVu Sans", "Liberation Sans", sans-serif' text-anchor="end" fill="#262626">0.1</text><text x="160.68" y="1956.2" font-size="15" font-family='"DejaVu Sans", "Liberation Sans", sans-serif' text-anchor="middle" fill="#262626">0.2</text><text x="70.3" y="1858.68" font-size="15" font-family='"DejaVu Sans", "Liberation Sans", sans-serif' text-anchor="end" fill="#262626">0.2</text><text x="201.57" y="1956.2" font-size="15" font-family='"DejaVu Sans", "Liberation Sans", sans-serif' text-anchor="middle" fill="#262626">0.3</text><text x="70.3" y="1817.22" font-size="15" font-family='"DejaVu Sans", "Liberation Sans", sans-serif' text-anchor="end" fill="#262626">0.3</text><text x="242.46" y="1956.2" font-size="15" font-family='"DejaVu Sans", "Liberation Sans", sans-serif' text-anchor="middle" fill="#262626">0.4</text><text x="70.3" y="1775.76" font-size="15" font-family='"DejaVu Sans", "Liberation Sans", sans-serif' text-anchor="end" fill="#262626">0.4</text><text x="283.35" y="1956.2" font-size="15" font-family='"DejaVu Sans", "Liberation Sans", sans-serif' text-anchor="middle" fill="#262626">0.5</text><text x="70.3" y="1734.3" font-size="15" font-family='"DejaVu Sans", "Liberation Sans", sans-serif' text-anchor="end" fill="#262626">0.5</text><text x="324.24" y="1956.2" font-size="15" font-family='"DejaVu Sans", "Liberation Sans", sans-serif' text-anchor="middle" fill="#262626">0.6</text><text x="70.3" y="1692.84" font-size="15" font-family='"DejaVu Sans", "Liberation Sans", sans-serif' text-anchor="end" fill="#262626">0.6</text><text x="365.13" y="1956.2" font-size="15" font-family='"DejaVu Sans", "Liberation Sans", sans-serif' text-anchor="middle" fill="#262626">0.7</text><text x="70.3" y="1651.38" font-size="15" font-family='"DejaVu Sans", "Liberation Sans", sans-serif' text-anchor="end" fill="#262626">0.7</text><text x="406.02" y="1956.2" font-size="15" font-family='"DejaVu Sans", "Liberation Sans", sans-serif' text-anchor="middle" fill="#262626">0.8</text><text x="70.3" y="1609.92" font-size="15" font-family='"DejaVu Sans", "Liberation Sans", sans-serif' text-anchor="end" fill="#262626">0.8</text><text x="446.91" y="1956.2" font-size="15" font-family='"DejaVu Sans", "Liberation Sans", sans-serif' text-anchor="middle" fill="#262626">0.9</text><text x="70.3" y="1568.46" font-size="15" font-family='"DejaVu Sans", "Liberation Sans", sans-serif' text-anchor="end" fill="#262626">0.9</text><text x="487.8" y="1956.2" font-size="15" font-family='"DejaVu Sans", "Liberation Sans", sans-serif' text-anchor="middle" fill="#262626">1.0</text><text x="70.3" y="1527" font-size="15" font-family='"DejaVu Sans", "Liberation Sans", sans-serif' text-anchor="end" fill="#262626">1.0</text><path d="M78.9 1936v5M78.9 1936h-5M119.79 1936v5M78.9 1894.54h-5M160.68 1936v5M78.9 1853.08h-5M201.57 1936v5M78.9 1811.62h-5M242.46 1936v5M78.9 1770.16h-5M283.35 1936v5M78.9 1728.7h-5M324.24 1936v5M78.9 1687.24h-5M365.13 1936v5M78.9 1645.78h-5M406.02 1936v5M78.9 1604.32h-5M446.91 1936v5M78.9 1562.86h-5M487.8 1936v5M78.9 1521.4h-5" stroke="#222" stroke-width="1.1" fill="none"/><rect x="78.9" y="1445.03" width="40.89" height="62.07" fill="#0a96c8" stroke="#000" stroke-width="1.1"/><rect x="119.79" y="1494.91" width="40.89" height="12.19" fill="#0a96c8" stroke="#000" stroke-width="1.1"/><rect x="160.68" y="1499.34" width="40.89" height="7.76" fill="#0a96c8" stroke="#000" stroke-width="1.1"/><rect x="201.57" y="1502.3" width="40.89" height="4.8" fill="#0a96c8" stroke="#000" stroke-width="1.1"/><rect x="242.46" y="1501.56" width="40.89" height="5.54" fill="#0a96c8" stroke="#000" stroke-width="1.1"/><rect x="283.35" y="1496.39" width="40.89" height="10.71" fill="#0a96c8" stroke="#000" stroke-width="1.1"/><rect x="324.24" y="1498.6" width="40.89" height="8.5" fill="#0a96c8" stroke="#000" stroke-width="1.1"/><rect x="365.13" y="1497.12" width="40.89" height="9.98" fill="#0a96c8" stroke="#000" stroke-width="1.1"/><rect x="406.02" y="1481.98" width="40.89" height="25.12" fill="#0a96c8" stroke="#000" stroke-width="1.1"/><rect x="446.91" y="1439.12" width="40.89" height="67.98" fill="#0a96c8" stroke="#000" stroke-width="1.1"/><rect x="501.8" y="1894.54" width="62.44" height="41.46" fill="#0a96c8" stroke="#000" stroke-width="1.1"/><rect x="501.8" y="1853.08" width="4.43" height="41.46" fill="#0a96c8" stroke="#000" stroke-width="1.1"/><rect x="501.8" y="1811.62" width="2.59" height="41.46" fill="#0a96c8" stroke="#000" stroke-width="1.1"/><rect x="501.8" y="1770.16" width="4.06" height="41.46" fill="#0a96c8" stroke="#000" stroke-width="1.1"/><rect x="501.8" y="1728.7" width="8.13" height="41.46" fill="#0a96c8" stroke="#000" stroke-width="1.1"/><rect x="501.8" y="1687.24" width="8.13" height="41.46" fill="#0a96c8" stroke="#000" stroke-width="1.1"/><rect x="501.8" y="1645.78" width="5.17" height="41.46" fill="#0a96c8" stroke="#000" stroke-width="1.1"/><rect x="501.8" y="1604.32" width="6.65" height="41.46" fill="#0a96c8" stroke="#000" stroke-width="1.1"/><rect x="501.8" y="1562.86" width="15.15" height="41.46" fill="#0a96c8" stroke="#000" stroke-width="1.1"/><rect x="501.8" y="1521.4" width="67.61" height="41.46" fill="#0a96c8" stroke="#000" stroke-width="1.1"/><text x="256.3" y="1457" font-size="25.2" font-family='"DejaVu Sans", "Liberation Sans", sans-serif' text-anchor="middle" fill="#1a1a1a">r=0.9578</text><text x="256.3" y="1485.3" font-size="25.2" font-family='"DejaVu Sans", "Liberation Sans", sans-serif' text-anchor="middle" fill="#1a1a1a">(6,549,565 CpGs)</text><text x="283.35" y="1982.6" font-size="22.8" font-family='"DejaVu Sans", "Liberation Sans", sans-serif' text-anchor="middle" fill="#1a1a1a">ONT RRMS (R9.4.1)</text><text x="0" y="0" font-size="22.8" font-family='"DejaVu Sans", "Liberation Sans", sans-serif' text-anchor="middle" fill="#1a1a1a" transform="translate(36.4 1728.7) rotate(-90)">EpiQC WGS (short-read)</text><text x="24.4" y="1367.4" font-size="29.2" font-weight="bold" textLength="328" lengthAdjust="spacingAndGlyphs">f) ONT RRMS (R9.4.1) vs</text><text x="24.4" y="1407" font-size="29.2" font-weight="bold" textLength="339" lengthAdjust="spacingAndGlyphs">short-reads ground truth</text><rect x="670.9" y="1521.4" width="41.19" height="41.76" fill="#000083"/><rect x="711.79" y="1521.4" width="41.19" height="41.76" fill="#0035ff"/><rect x="752.68" y="1521.4" width="41.19" height="41.76" fill="#00b4ff"/><rect x="793.57" y="1521.4" width="41.19" height="41.76" fill="#00f5eb"/><rect x="834.46" y="1521.4" width="41.19" height="41.76" fill="#00ff8e"/><rect x="875.35" y="1521.4" width="41.19" height="41.76" fill="#f8f600"/><rect x="916.24" y="1521.4" width="41.19" height="41.76" fill="#ffbe00"/><rect x="957.13" y="1521.4" width="41.19" height="41.76" fill="#ff7200"/><rect x="998.02" y="1521.4" width="41.19" height="41.76" fill="#ff0200"/><rect x="1038.91" y="1521.4" width="41.19" height="41.76" fill="#960000"/><rect x="670.9" y="1562.86" width="41.19" height="41.76" fill="#002aff"/><rect x="711.79" y="1562.86" width="41.19" height="41.76" fill="#00c8ff"/><rect x="752.68" y="1562.86" width="41.19" height="41.76" fill="#00ffaa"/><rect x="793.57" y="1562.86" width="41.19" height="41.76" fill="#00ff7c"/><rect x="834.46" y="1562.86" width="41.19" height="41.76" fill="#9bff00"/><rect x="875.35" y="1562.86" width="41.19" height="41.76" fill="#ffbe00"/><rect x="916.24" y="1562.86" width="41.19" height="41.76" fill="#ff8f00"/><rect x="957.13" y="1562.86" width="41.19" height="41.76" fill="#ff5e00"/><rect x="998.02" y="1562.86" width="41.19" height="41.76" fill="#ff3600"/><rect x="1038.91" y="1562.86" width="41.19" height="41.76" fill="#ff2b00"/><rect x="670.9" y="1604.32" width="41.19" height="41.76" fill="#00a0ff"/><rect x="711.79" y="1604.32" width="41.19" height="41.76" fill="#00ffcc"/><rect x="752.68" y="1604.32" width="41.19" height="41.76" fill="#00ff72"/><rect x="793.57" y="1604.32" width="41.19" height="41.76" fill="#7aff2d"/><rect x="834.46" y="1604.32" width="41.19" height="41.76" fill="#d7ff00"/><rect x="875.35" y="1604.32" width="41.19" height="41.76" fill="#ffab00"/><rect x="916.24" y="1604.32" width="41.19" height="41.76" fill="#ff8f00"/><rect x="957.13" y="1604.32" width="41.19" height="41.76" fill="#ff8500"/><rect x="998.02" y="1604.32" width="41.19" height="41.76" fill="#ff5e00"/><rect x="1038.91" y="1604.32" width="41.19" height="41.76" fill="#ff7c00"/><rect x="670.9" y="1645.78" width="41.19" height="41.76" fill="#00ffdd"/><rect x="711.79" y="1645.78" width="41.19" height="41.76" fill="#00ff8e"/><rect x="752.68" y="1645.78" width="41.19" height="41.76" fill="#a9ff00"/><rect x="793.57" y="1645.78" width="41.19" height="41.76" fill="#ddff00"/><rect x="834.46" y="1645.78" width="41.19" height="41.76" fill="#ffda00"/><rect x="875.35" y="1645.78" width="41.19" height="41.76" fill="#ff8f00"/><rect x="916.24" y="1645.78" width="41.19" height="41.76" fill="#ff8500"/><rect x="957.13" y="1645.78" width="41.19" height="41.76" fill="#ff8f00"/><rect x="998.02" y="1645.78" width="41.19" height="41.76" fill="#ffa200"/><rect x="1038.91" y="1645.78" width="41.19" height="41.76" fill="#ffda00"/><rect x="670.9" y="1687.24" width="41.19" height="41.76" fill="#00ff85"/><rect x="711.79" y="1687.24" width="41.19" height="41.76" fill="#a9ff00"/><rect x="752.68" y="1687.24" width="41.19" height="41.76" fill="#ffe300"/><rect x="793.57" y="1687.24" width="41.19" height="41.76" fill="#ffc800"/><rect x="834.46" y="1687.24" width="41.19" height="41.76" fill="#ffa200"/><rect x="875.35" y="1687.24" width="41.19" height="41.76" fill="#ff6800"/><rect x="916.24" y="1687.24" width="41.19" height="41.76" fill="#ff8f00"/><rect x="957.13" y="1687.24" width="41.19" height="41.76" fill="#ffbe00"/><rect x="998.02" y="1687.24" width="41.19" height="41.76" fill="#ffc800"/><rect x="1038.91" y="1687.24" width="41.19" height="41.76" fill="#caff00"/><rect x="670.9" y="1728.7" width="41.19" height="41.76" fill="#7aff2d"/><rect x="711.79" y="1728.7" width="41.19" height="41.76" fill="#e8ff00"/><rect x="752.68" y="1728.7" width="41.19" height="41.76" fill="#ffbe00"/><rect x="793.57" y="1728.7" width="41.19" height="41.76" fill="#ffab00"/><rect x="834.46" y="1728.7" width="41.19" height="41.76" fill="#ff9900"/><rect x="875.35" y="1728.7" width="41.19" height="41.76" fill="#ff7200"/><rect x="916.24" y="1728.7" width="41.19" height="41.76" fill="#ffb500"/><rect x="957.13" y="1728.7" width="41.19" height="41.76" fill="#ffe800"/><rect x="998.02" y="1728.7" width="41.19" height="41.76" fill="#e8ff00"/><rect x="1038.91" y="1728.7" width="41.19" height="41.76" fill="#40ff4d"/><rect x="670.9" y="1770.16" width="41.19" height="41.76" fill="#b7ff00"/><rect x="711.79" y="1770.16" width="41.19" height="41.76" fill="#ffed00"/><rect x="752.68" y="1770.16" width="41.19" height="41.76" fill="#ffb500"/><rect x="793.57" y="1770.16" width="41.19" height="41.76" fill="#ffb500"/><rect x="834.46" y="1770.16" width="41.19" height="41.76" fill="#ffb500"/><rect x="875.35" y="1770.16" width="41.19" height="41.76" fill="#ffb500"/><rect x="916.24" y="1770.16" width="41.19" height="41.76" fill="#f8f600"/><rect x="957.13" y="1770.16" width="41.19" height="41.76" fill="#9bff00"/><rect x="998.02" y="1770.16" width="41.19" height="41.76" fill="#71ff34"/><rect x="1038.91" y="1770.16" width="41.19" height="41.76" fill="#00ffaa"/><rect x="670.9" y="1811.62" width="41.19" height="41.76" fill="#ffe300"/><rect x="711.79" y="1811.62" width="41.19" height="41.76" fill="#ffc800"/><rect x="752.68" y="1811.62" width="41.19" height="41.76" fill="#ffb500"/><rect x="793.57" y="1811.62" width="41.19" height="41.76" fill="#ffbe00"/><rect x="834.46" y="1811.62" width="41.19" height="41.76" fill="#ffda00"/><rect x="875.35" y="1811.62" width="41.19" height="41.76" fill="#ffe300"/><rect x="916.24" y="1811.62" width="41.19" height="41.76" fill="#8bff1a"/><rect x="957.13" y="1811.62" width="41.19" height="41.76" fill="#00ff7c"/><rect x="998.02" y="1811.62" width="41.19" height="41.76" fill="#00ff8e"/><rect x="1038.91" y="1811.62" width="41.19" height="41.76" fill="#00b9ff"/><rect x="670.9" y="1853.08" width="41.19" height="41.76" fill="#ff7200"/><rect x="711.79" y="1853.08" width="41.19" height="41.76" fill="#ff7c00"/><rect x="752.68" y="1853.08" width="41.19" height="41.76" fill="#ff9900"/><rect x="793.57" y="1853.08" width="41.19" height="41.76" fill="#ffd100"/><rect x="834.46" y="1853.08" width="41.19" height="41.76" fill="#e8ff00"/><rect x="875.35" y="1853.08" width="41.19" height="41.76" fill="#c4ff00"/><rect x="916.24" y="1853.08" width="41.19" height="41.76" fill="#00ff85"/><rect x="957.13" y="1853.08" width="41.19" height="41.76" fill="#00f0ef"/><rect x="998.02" y="1853.08" width="41.19" height="41.76" fill="#00f0ef"/><rect x="1038.91" y="1853.08" width="41.19" height="41.76" fill="#0051ff"/><rect x="670.9" y="1894.54" width="41.19" height="41.76" fill="#960000"/><rect x="711.79" y="1894.54" width="41.19" height="41.76" fill="#ff2b00"/><rect x="752.68" y="1894.54" width="41.19" height="41.76" fill="#ff7200"/><rect x="793.57" y="1894.54" width="41.19" height="41.76" fill="#ffed00"/><rect x="834.46" y="1894.54" width="41.19" height="41.76" fill="#b7ff00"/><rect x="875.35" y="1894.54" width="41.19" height="41.76" fill="#2bff53"/><rect x="916.24" y="1894.54" width="41.19" height="41.76" fill="#00f0ef"/><rect x="957.13" y="1894.54" width="41.19" height="41.76" fill="#0080ff"/><rect x="998.02" y="1894.54" width="41.19" height="41.76" fill="#0086ff"/><rect x="1038.91" y="1894.54" width="41.19" height="41.76" fill="#0000ff"/><line x1="670.9" y1="1936" x2="1079.8" y2="1521.4" stroke="#000" stroke-width="1.1" stroke-dasharray="1.6 1.3" opacity="0.85"/><text x="670.9" y="1956.2" font-size="15" font-family='"DejaVu Sans", "Liberation Sans", sans-serif' text-anchor="middle" fill="#262626">0.0</text><text x="662.3" y="1941.6" font-size="15" font-family='"DejaVu Sans", "Liberation Sans", sans-serif' text-anchor="end" fill="#262626">0.0</text><text x="711.79" y="1956.2" font-size="15" font-family='"DejaVu Sans", "Liberation Sans", sans-serif' text-anchor="middle" fill="#262626">0.1</text><text x="662.3" y="1900.14" font-size="15" font-family='"DejaVu Sans", "Liberation Sans", sans-serif' text-anchor="end" fill="#262626">0.1</text><text x="752.68" y="1956.2" font-size="15" font-family='"DejaVu Sans", "Liberation Sans", sans-serif' text-anchor="middle" fill="#262626">0.2</text><text x="662.3" y="1858.68" font-size="15" font-family='"DejaVu Sans", "Liberation Sans", sans-serif' text-anchor="end" fill="#262626">0.2</text><text x="793.57" y="1956.2" font-size="15" font-family='"DejaVu Sans", "Liberation Sans", sans-serif' text-anchor="middle" fill="#262626">0.3</text><text x="662.3" y="1817.22" font-size="15" font-family='"DejaVu Sans", "Liberation Sans", sans-serif' text-anchor="end" fill="#262626">0.3</text><text x="834.46" y="1956.2" font-size="15" font-family='"DejaVu Sans", "Liberation Sans", sans-serif' text-anchor="middle" fill="#262626">0.4</text><text x="662.3" y="1775.76" font-size="15" font-family='"DejaVu Sans", "Liberation Sans", sans-serif' text-anchor="end" fill="#262626">0.4</text><text x="875.35" y="1956.2" font-size="15" font-family='"DejaVu Sans", "Liberation Sans", sans-serif' text-anchor="middle" fill="#262626">0.5</text><text x="662.3" y="1734.3" font-size="15" font-family='"DejaVu Sans", "Liberation Sans", sans-serif' text-anchor="end" fill="#262626">0.5</text><text x="916.24" y="1956.2" font-size="15" font-family='"DejaVu Sans", "Liberation Sans", sans-serif' text-anchor="middle" fill="#262626">0.6</text><text x="662.3" y="1692.84" font-size="15" font-family='"DejaVu Sans", "Liberation Sans", sans-serif' text-anchor="end" fill="#262626">0.6</text><text x="957.13" y="1956.2" font-size="15" font-family='"DejaVu Sans", "Liberation Sans", sans-serif' text-anchor="middle" fill="#262626">0.7</text><text x="662.3" y="1651.38" font-size="15" font-family='"DejaVu Sans", "Liberation Sans", sans-serif' text-anchor="end" fill="#262626">0.7</text><text x="998.02" y="1956.2" font-size="15" font-family='"DejaVu Sans", "Liberation Sans", sans-serif' text-anchor="middle" fill="#262626">0.8</text><text x="662.3" y="1609.92" font-size="15" font-family='"DejaVu Sans", "Liberation Sans", sans-serif' text-anchor="end" fill="#262626">0.8</text><text x="1038.91" y="1956.2" font-size="15" font-family='"DejaVu Sans", "Liberation Sans", sans-serif' text-anchor="middle" fill="#262626">0.9</text><text x="662.3" y="1568.46" font-size="15" font-family='"DejaVu Sans", "Liberation Sans", sans-serif' text-anchor="end" fill="#262626">0.9</text><text x="1079.8" y="1956.2" font-size="15" font-family='"DejaVu Sans", "Liberation Sans", sans-serif' text-anchor="middle" fill="#262626">1.0</text><text x="662.3" y="1527" font-size="15" font-family='"DejaVu Sans", "Liberation Sans", sans-serif' text-anchor="end" fill="#262626">1.0</text><path d="M670.9 1936v5M670.9 1936h-5M711.79 1936v5M670.9 1894.54h-5M752.68 1936v5M670.9 1853.08h-5M793.57 1936v5M670.9 1811.62h-5M834.46 1936v5M670.9 1770.16h-5M875.35 1936v5M670.9 1728.7h-5M916.24 1936v5M670.9 1687.24h-5M957.13 1936v5M670.9 1645.78h-5M998.02 1936v5M670.9 1604.32h-5M1038.91 1936v5M670.9 1562.86h-5M1079.8 1936v5M670.9 1521.4h-5" stroke="#222" stroke-width="1.1" fill="none"/><rect x="670.9" y="1445.03" width="40.89" height="62.07" fill="#0a96c8" stroke="#000" stroke-width="1.1"/><rect x="711.79" y="1494.91" width="40.89" height="12.19" fill="#0a96c8" stroke="#000" stroke-width="1.1"/><rect x="752.68" y="1499.34" width="40.89" height="7.76" fill="#0a96c8" stroke="#000" stroke-width="1.1"/><rect x="793.57" y="1502.3" width="40.89" height="4.8" fill="#0a96c8" stroke="#000" stroke-width="1.1"/><rect x="834.46" y="1501.56" width="40.89" height="5.54" fill="#0a96c8" stroke="#000" stroke-width="1.1"/><rect x="875.35" y="1496.39" width="40.89" height="10.71" fill="#0a96c8" stroke="#000" stroke-width="1.1"/><rect x="916.24" y="1498.6" width="40.89" height="8.5" fill="#0a96c8" stroke="#000" stroke-width="1.1"/><rect x="957.13" y="1497.12" width="40.89" height="9.98" fill="#0a96c8" stroke="#000" stroke-width="1.1"/><rect x="998.02" y="1481.98" width="40.89" height="25.12" fill="#0a96c8" stroke="#000" stroke-width="1.1"/><rect x="1038.91" y="1439.12" width="40.89" height="67.98" fill="#0a96c8" stroke="#000" stroke-width="1.1"/><rect x="1093.8" y="1894.54" width="63.18" height="41.46" fill="#0a96c8" stroke="#000" stroke-width="1.1"/><rect x="1093.8" y="1853.08" width="7.02" height="41.46" fill="#0a96c8" stroke="#000" stroke-width="1.1"/><rect x="1093.8" y="1811.62" width="3.69" height="41.46" fill="#0a96c8" stroke="#000" stroke-width="1.1"/><rect x="1093.8" y="1770.16" width="4.43" height="41.46" fill="#0a96c8" stroke="#000" stroke-width="1.1"/><rect x="1093.8" y="1728.7" width="7.02" height="41.46" fill="#0a96c8" stroke="#000" stroke-width="1.1"/><rect x="1093.8" y="1687.24" width="7.76" height="41.46" fill="#0a96c8" stroke="#000" stroke-width="1.1"/><rect x="1093.8" y="1645.78" width="6.65" height="41.46" fill="#0a96c8" stroke="#000" stroke-width="1.1"/><rect x="1093.8" y="1604.32" width="8.87" height="41.46" fill="#0a96c8" stroke="#000" stroke-width="1.1"/><rect x="1093.8" y="1562.86" width="18.84" height="41.46" fill="#0a96c8" stroke="#000" stroke-width="1.1"/><rect x="1093.8" y="1521.4" width="66.87" height="41.46" fill="#0a96c8" stroke="#000" stroke-width="1.1"/><text x="848.3" y="1457" font-size="25.2" font-family='"DejaVu Sans", "Liberation Sans", sans-serif' text-anchor="middle" fill="#1a1a1a">r=0.9645</text><text x="848.3" y="1485.3" font-size="25.2" font-family='"DejaVu Sans", "Liberation Sans", sans-serif' text-anchor="middle" fill="#1a1a1a">(6,684,221 CpGs)</text><text x="875.35" y="1982.6" font-size="22.8" font-family='"DejaVu Sans", "Liberation Sans", sans-serif' text-anchor="middle" fill="#1a1a1a">ONT RRMS (R9.4.1)</text><text x="0" y="0" font-size="22.8" font-family='"DejaVu Sans", "Liberation Sans", sans-serif' text-anchor="middle" fill="#1a1a1a" transform="translate(628.4 1728.7) rotate(-90)">ONT WGS (R9.4.1)</text><text x="620" y="1367.4" font-size="29.2" font-weight="bold" textLength="334" lengthAdjust="spacingAndGlyphs">g) ONT RRMS (R9.4.1) vs</text><text x="620" y="1407" font-size="29.2" font-weight="bold" textLength="248" lengthAdjust="spacingAndGlyphs">ONT WGS (R9.4.1)</text><rect x="1264.6" y="1521.4" width="41.19" height="41.76" fill="#0000ca"/><rect x="1305.49" y="1521.4" width="41.19" height="41.76" fill="#002aff"/><rect x="1346.38" y="1521.4" width="41.19" height="41.76" fill="#00b9ff"/><rect x="1387.27" y="1521.4" width="41.19" height="41.76" fill="#00fae6"/><rect x="1428.16" y="1521.4" width="41.19" height="41.76" fill="#00ff98"/><rect x="1469.05" y="1521.4" width="41.19" height="41.76" fill="#e8ff00"/><rect x="1509.94" y="1521.4" width="41.19" height="41.76" fill="#ffc800"/><rect x="1550.83" y="1521.4" width="41.19" height="41.76" fill="#ff8500"/><rect x="1591.72" y="1521.4" width="41.19" height="41.76" fill="#ff1000"/><rect x="1632.61" y="1521.4" width="41.19" height="41.76" fill="#960000"/><rect x="1264.6" y="1562.86" width="41.19" height="41.76" fill="#0000ff"/><rect x="1305.49" y="1562.86" width="41.19" height="41.76" fill="#0056ff"/><rect x="1346.38" y="1562.86" width="41.19" height="41.76" fill="#00e1fc"/><rect x="1387.27" y="1562.86" width="41.19" height="41.76" fill="#00ffbb"/><rect x="1428.16" y="1562.86" width="41.19" height="41.76" fill="#00ff7c"/><rect x="1469.05" y="1562.86" width="41.19" height="41.76" fill="#ddff00"/><rect x="1509.94" y="1562.86" width="41.19" height="41.76" fill="#ffe300"/><rect x="1550.83" y="1562.86" width="41.19" height="41.76" fill="#ffb500"/><rect x="1591.72" y="1562.86" width="41.19" height="41.76" fill="#ff7200"/><rect x="1632.61" y="1562.86" width="41.19" height="41.76" fill="#ff5e00"/><rect x="1264.6" y="1604.32" width="41.19" height="41.76" fill="#0018ff"/><rect x="1305.49" y="1604.32" width="41.19" height="41.76" fill="#00aaff"/><rect x="1346.38" y="1604.32" width="41.19" height="41.76" fill="#00ffbb"/><rect x="1387.27" y="1604.32" width="41.19" height="41.76" fill="#00ffa1"/><rect x="1428.16" y="1604.32" width="41.19" height="41.76" fill="#2bff53"/><rect x="1469.05" y="1604.32" width="41.19" height="41.76" fill="#f0fa00"/><rect x="1509.94" y="1604.32" width="41.19" height="41.76" fill="#ffe300"/><rect x="1550.83" y="1604.32" width="41.19" height="41.76" fill="#ffd100"/><rect x="1591.72" y="1604.32" width="41.19" height="41.76" fill="#ffab00"/><rect x="1632.61" y="1604.32" width="41.19" height="41.76" fill="#ffc800"/><rect x="1264.6" y="1645.78" width="41.19" height="41.76" fill="#0086ff"/><rect x="1305.49" y="1645.78" width="41.19" height="41.76" fill="#00ffd5"/><rect x="1346.38" y="1645.78" width="41.19" height="41.76" fill="#00ff7c"/><rect x="1387.27" y="1645.78" width="41.19" height="41.76" fill="#4fff47"/><rect x="1428.16" y="1645.78" width="41.19" height="41.76" fill="#a9ff00"/><rect x="1469.05" y="1645.78" width="41.19" height="41.76" fill="#ffda00"/><rect x="1509.94" y="1645.78" width="41.19" height="41.76" fill="#ffe300"/><rect x="1550.83" y="1645.78" width="41.19" height="41.76" fill="#ffed00"/><rect x="1591.72" y="1645.78" width="41.19" height="41.76" fill="#ffe800"/><rect x="1632.61" y="1645.78" width="41.19" height="41.76" fill="#d0ff00"/><rect x="1264.6" y="1687.24" width="41.19" height="41.76" fill="#00ffcc"/><rect x="1305.49" y="1687.24" width="41.19" height="41.76" fill="#00ff63"/><rect x="1346.38" y="1687.24" width="41.19" height="41.76" fill="#c4ff00"/><rect x="1387.27" y="1687.24" width="41.19" height="41.76" fill="#e2ff00"/><rect x="1428.16" y="1687.24" width="41.19" height="41.76" fill="#ffed00"/><rect x="1469.05" y="1687.24" width="41.19" height="41.76" fill="#ffab00"/><rect x="1509.94" y="1687.24" width="41.19" height="41.76" fill="#ffc800"/><rect x="1550.83" y="1687.24" width="41.19" height="41.76" fill="#e8ff00"/><rect x="1591.72" y="1687.24" width="41.19" height="41.76" fill="#e2ff00"/><rect x="1632.61" y="1687.24" width="41.19" height="41.76" fill="#67ff3b"/><rect x="1264.6" y="1728.7" width="41.19" height="41.76" fill="#00ffa1"/><rect x="1305.49" y="1728.7" width="41.19" height="41.76" fill="#7aff2d"/><rect x="1346.38" y="1728.7" width="41.19" height="41.76" fill="#e8ff00"/><rect x="1387.27" y="1728.7" width="41.19" height="41.76" fill="#fff100"/><rect x="1428.16" y="1728.7" width="41.19" height="41.76" fill="#ffe300"/><rect x="1469.05" y="1728.7" width="41.19" height="41.76" fill="#ffb500"/><rect x="1509.94" y="1728.7" width="41.19" height="41.76" fill="#fff100"/><rect x="1550.83" y="1728.7" width="41.19" height="41.76" fill="#b7ff00"/><rect x="1591.72" y="1728.7" width="41.19" height="41.76" fill="#8bff1a"/><rect x="1632.61" y="1728.7" width="41.19" height="41.76" fill="#00ff98"/><rect x="1264.6" y="1770.16" width="41.19" height="41.76" fill="#00ff6d"/><rect x="1305.49" y="1770.16" width="41.19" height="41.76" fill="#9bff00"/><rect x="1346.38" y="1770.16" width="41.19" height="41.76" fill="#e8ff00"/><rect x="1387.27" y="1770.16" width="41.19" height="41.76" fill="#ddff00"/><rect x="1428.16" y="1770.16" width="41.19" height="41.76" fill="#e2ff00"/><rect x="1469.05" y="1770.16" width="41.19" height="41.76" fill="#fff100"/><rect x="1509.94" y="1770.16" width="41.19" height="41.76" fill="#a2ff00"/><rect x="1550.83" y="1770.16" width="41.19" height="41.76" fill="#00ff6d"/><rect x="1591.72" y="1770.16" width="41.19" height="41.76" fill="#00ff8e"/><rect x="1632.61" y="1770.16" width="41.19" height="41.76" fill="#00ebf3"/><rect x="1264.6" y="1811.62" width="41.19" height="41.76" fill="#9bff00"/><rect x="1305.49" y="1811.62" width="41.19" height="41.76" fill="#d7ff00"/><rect x="1346.38" y="1811.62" width="41.19" height="41.76" fill="#fff100"/><rect x="1387.27" y="1811.62" width="41.19" height="41.76" fill="#caff00"/><rect x="1428.16" y="1811.62" width="41.19" height="41.76" fill="#c4ff00"/><rect x="1469.05" y="1811.62" width="41.19" height="41.76" fill="#c4ff00"/><rect x="1509.94" y="1811.62" width="41.19" height="41.76" fill="#00ff7c"/><rect x="1550.83" y="1811.62" width="41.19" height="41.76" fill="#00ffc4"/><rect x="1591.72" y="1811.62" width="41.19" height="41.76" fill="#00ffd9"/><rect x="1632.61" y="1811.62" width="41.19" height="41.76" fill="#0061ff"/><rect x="1264.6" y="1853.08" width="41.19" height="41.76" fill="#ffc800"/><rect x="1305.49" y="1853.08" width="41.19" height="41.76" fill="#ffda00"/><rect x="1346.38" y="1853.08" width="41.19" height="41.76" fill="#ffe800"/><rect x="1387.27" y="1853.08" width="41.19" height="41.76" fill="#b7ff00"/><rect x="1428.16" y="1853.08" width="41.19" height="41.76" fill="#71ff34"/><rect x="1469.05" y="1853.08" width="41.19" height="41.76" fill="#2bff53"/><rect x="1509.94" y="1853.08" width="41.19" height="41.76" fill="#00ffd5"/><rect x="1550.83" y="1853.08" width="41.19" height="41.76" fill="#00aaff"/><rect x="1591.72" y="1853.08" width="41.19" height="41.76" fill="#0080ff"/><rect x="1632.61" y="1853.08" width="41.19" height="41.76" fill="#0000ff"/><rect x="1264.6" y="1894.54" width="41.19" height="41.76" fill="#960000"/><rect x="1305.49" y="1894.54" width="41.19" height="41.76" fill="#ff4000"/><rect x="1346.38" y="1894.54" width="41.19" height="41.76" fill="#ff9900"/><rect x="1387.27" y="1894.54" width="41.19" height="41.76" fill="#d7ff00"/><rect x="1428.16" y="1894.54" width="41.19" height="41.76" fill="#71ff34"/><rect x="1469.05" y="1894.54" width="41.19" height="41.76" fill="#00ff80"/><rect x="1509.94" y="1894.54" width="41.19" height="41.76" fill="#00beff"/><rect x="1550.83" y="1894.54" width="41.19" height="41.76" fill="#0035ff"/><rect x="1591.72" y="1894.54" width="41.19" height="41.76" fill="#003bff"/><rect x="1632.61" y="1894.54" width="41.19" height="41.76" fill="#00008f"/><line x1="1264.6" y1="1936" x2="1673.5" y2="1521.4" stroke="#000" stroke-width="1.1" stroke-dasharray="1.6 1.3" opacity="0.85"/><text x="1264.6" y="1956.2" font-size="15" font-family='"DejaVu Sans", "Liberation Sans", sans-serif' text-anchor="middle" fill="#262626">0.0</text><text x="1256" y="1941.6" font-size="15" font-family='"DejaVu Sans", "Liberation Sans", sans-serif' text-anchor="end" fill="#262626">0.0</text><text x="1305.49" y="1956.2" font-size="15" font-family='"DejaVu Sans", "Liberation Sans", sans-serif' text-anchor="middle" fill="#262626">0.1</text><text x="1256" y="1900.14" font-size="15" font-family='"DejaVu Sans", "Liberation Sans", sans-serif' text-anchor="end" fill="#262626">0.1</text><text x="1346.38" y="1956.2" font-size="15" font-family='"DejaVu Sans", "Liberation Sans", sans-serif' text-anchor="middle" fill="#262626">0.2</text><text x="1256" y="1858.68" font-size="15" font-family='"DejaVu Sans", "Liberation Sans", sans-serif' text-anchor="end" fill="#262626">0.2</text><text x="1387.27" y="1956.2" font-size="15" font-family='"DejaVu Sans", "Liberation Sans", sans-serif' text-anchor="middle" fill="#262626">0.3</text><text x="1256" y="1817.22" font-size="15" font-family='"DejaVu Sans", "Liberation Sans", sans-serif' text-anchor="end" fill="#262626">0.3</text><text x="1428.16" y="1956.2" font-size="15" font-family='"DejaVu Sans", "Liberation Sans", sans-serif' text-anchor="middle" fill="#262626">0.4</text><text x="1256" y="1775.76" font-size="15" font-family='"DejaVu Sans", "Liberation Sans", sans-serif' text-anchor="end" fill="#262626">0.4</text><text x="1469.05" y="1956.2" font-size="15" font-family='"DejaVu Sans", "Liberation Sans", sans-serif' text-anchor="middle" fill="#262626">0.5</text><text x="1256" y="1734.3" font-size="15" font-family='"DejaVu Sans", "Liberation Sans", sans-serif' text-anchor="end" fill="#262626">0.5</text><text x="1509.94" y="1956.2" font-size="15" font-family='"DejaVu Sans", "Liberation Sans", sans-serif' text-anchor="middle" fill="#262626">0.6</text><text x="1256" y="1692.84" font-size="15" font-family='"DejaVu Sans", "Liberation Sans", sans-serif' text-anchor="end" fill="#262626">0.6</text><text x="1550.83" y="1956.2" font-size="15" font-family='"DejaVu Sans", "Liberation Sans", sans-serif' text-anchor="middle" fill="#262626">0.7</text><text x="1256" y="1651.38" font-size="15" font-family='"DejaVu Sans", "Liberation Sans", sans-serif' text-anchor="end" fill="#262626">0.7</text><text x="1591.72" y="1956.2" font-size="15" font-family='"DejaVu Sans", "Liberation Sans", sans-serif' text-anchor="middle" fill="#262626">0.8</text><text x="1256" y="1609.92" font-size="15" font-family='"DejaVu Sans", "Liberation Sans", sans-serif' text-anchor="end" fill="#262626">0.8</text><text x="1632.61" y="1956.2" font-size="15" font-family='"DejaVu Sans", "Liberation Sans", sans-serif' text-anchor="middle" fill="#262626">0.9</text><text x="1256" y="1568.46" font-size="15" font-family='"DejaVu Sans", "Liberation Sans", sans-serif' text-anchor="end" fill="#262626">0.9</text><text x="1673.5" y="1956.2" font-size="15" font-family='"DejaVu Sans", "Liberation Sans", sans-serif' text-anchor="middle" fill="#262626">1.0</text><text x="1256" y="1527" font-size="15" font-family='"DejaVu Sans", "Liberation Sans", sans-serif' text-anchor="end" fill="#262626">1.0</text><path d="M1264.6 1936v5M1264.6 1936h-5M1305.49 1936v5M1264.6 1894.54h-5M1346.38 1936v5M1264.6 1853.08h-5M1387.27 1936v5M1264.6 1811.62h-5M1428.16 1936v5M1264.6 1770.16h-5M1469.05 1936v5M1264.6 1728.7h-5M1509.94 1936v5M1264.6 1687.24h-5M1550.83 1936v5M1264.6 1645.78h-5M1591.72 1936v5M1264.6 1604.32h-5M1632.61 1936v5M1264.6 1562.86h-5M1673.5 1936v5M1264.6 1521.4h-5" stroke="#222" stroke-width="1.1" fill="none"/><rect x="1264.6" y="1445.03" width="40.89" height="62.07" fill="#0a96c8" stroke="#000" stroke-width="1.1"/><rect x="1305.49" y="1494.91" width="40.89" height="12.19" fill="#0a96c8" stroke="#000" stroke-width="1.1"/><rect x="1346.38" y="1499.34" width="40.89" height="7.76" fill="#0a96c8" stroke="#000" stroke-width="1.1"/><rect x="1387.27" y="1502.3" width="40.89" height="4.8" fill="#0a96c8" stroke="#000" stroke-width="1.1"/><rect x="1428.16" y="1501.56" width="40.89" height="5.54" fill="#0a96c8" stroke="#000" stroke-width="1.1"/><rect x="1469.05" y="1496.39" width="40.89" height="10.71" fill="#0a96c8" stroke="#000" stroke-width="1.1"/><rect x="1509.94" y="1498.6" width="40.89" height="8.5" fill="#0a96c8" stroke="#000" stroke-width="1.1"/><rect x="1550.83" y="1497.12" width="40.89" height="9.98" fill="#0a96c8" stroke="#000" stroke-width="1.1"/><rect x="1591.72" y="1481.98" width="40.89" height="25.12" fill="#0a96c8" stroke="#000" stroke-width="1.1"/><rect x="1632.61" y="1439.12" width="40.89" height="67.98" fill="#0a96c8" stroke="#000" stroke-width="1.1"/><rect x="1687.5" y="1894.54" width="59.48" height="41.46" fill="#0a96c8" stroke="#000" stroke-width="1.1"/><rect x="1687.5" y="1853.08" width="4.06" height="41.46" fill="#0a96c8" stroke="#000" stroke-width="1.1"/><rect x="1687.5" y="1811.62" width="2.96" height="41.46" fill="#0a96c8" stroke="#000" stroke-width="1.1"/><rect x="1687.5" y="1770.16" width="3.69" height="41.46" fill="#0a96c8" stroke="#000" stroke-width="1.1"/><rect x="1687.5" y="1728.7" width="5.91" height="41.46" fill="#0a96c8" stroke="#000" stroke-width="1.1"/><rect x="1687.5" y="1687.24" width="7.02" height="41.46" fill="#0a96c8" stroke="#000" stroke-width="1.1"/><rect x="1687.5" y="1645.78" width="5.17" height="41.46" fill="#0a96c8" stroke="#000" stroke-width="1.1"/><rect x="1687.5" y="1604.32" width="6.28" height="41.46" fill="#0a96c8" stroke="#000" stroke-width="1.1"/><rect x="1687.5" y="1562.86" width="11.45" height="41.46" fill="#0a96c8" stroke="#000" stroke-width="1.1"/><rect x="1687.5" y="1521.4" width="66.87" height="41.46" fill="#0a96c8" stroke="#000" stroke-width="1.1"/><text x="1442" y="1457" font-size="25.2" font-family='"DejaVu Sans", "Liberation Sans", sans-serif' text-anchor="middle" fill="#1a1a1a">r=0.9582</text><text x="1442" y="1485.3" font-size="25.2" font-family='"DejaVu Sans", "Liberation Sans", sans-serif' text-anchor="middle" fill="#1a1a1a">(6,684,496 CpGs)</text><text x="1469.05" y="1982.6" font-size="22.8" font-family='"DejaVu Sans", "Liberation Sans", sans-serif' text-anchor="middle" fill="#1a1a1a">ONT RRMS (R9.4.1)</text><text x="0" y="0" font-size="22.8" font-family='"DejaVu Sans", "Liberation Sans", sans-serif' text-anchor="middle" fill="#1a1a1a" transform="translate(1222.1 1728.7) rotate(-90)">ONT WGS (R10.4.1)</text><text x="1212" y="1367.4" font-size="29.2" font-weight="bold" textLength="335" lengthAdjust="spacingAndGlyphs">h) ONT RRMS (R9.4.1) vs</text><text x="1212" y="1407" font-size="29.2" font-weight="bold" textLength="265" lengthAdjust="spacingAndGlyphs">ONT WGS (R10.4.1)</text></g>
<g id="panel-i"><rect x="4" y="2004" width="1770.5" height="495" fill="#fafafa"/><rect x="400" y="2069" width="0.9" height="423" fill="#f0f0f0"/><rect x="404.6" y="2069" width="1" height="423" fill="#a4a4a4"/><rect x="1769.2" y="2069" width="1.3" height="423" fill="#8c98b8"/><rect x="405.6" y="2151.8" width="1364" height="1.2" fill="#7a7a7a"/><rect x="127.5" y="2160.9" width="278" height="1.5" fill="#9a9a9a"/><rect x="405" y="2160.3" width="1365.5" height="2.4" fill="#7c7c7c"/><rect x="401.5" y="2446.9" width="1369" height="1.2" fill="#949494"/><rect x="401.5" y="2450.8" width="1369" height="1.2" fill="#8e8e8e"/><text x="460.52" y="2121.6" font-size="7.6" font-family='"DejaVu Sans", "Liberation Sans", sans-serif' text-anchor="middle" fill="#333">1</text><text x="568.87" y="2130.4" font-size="7.6" font-family='"DejaVu Sans", "Liberation Sans", sans-serif' text-anchor="middle" fill="#333">2</text><text x="666.04" y="2121.6" font-size="7.6" font-family='"DejaVu Sans", "Liberation Sans", sans-serif' text-anchor="middle" fill="#333">3</text><text x="751.75" y="2130.4" font-size="7.6" font-family='"DejaVu Sans", "Liberation Sans", sans-serif' text-anchor="middle" fill="#333">4</text><text x="833.75" y="2121.6" font-size="7.6" font-family='"DejaVu Sans", "Liberation Sans", sans-serif' text-anchor="middle" fill="#333">5</text><text x="911.48" y="2130.4" font-size="7.6" font-family='"DejaVu Sans", "Liberation Sans", sans-serif' text-anchor="middle" fill="#333">6</text><text x="984.32" y="2121.6" font-size="7.6" font-family='"DejaVu Sans", "Liberation Sans", sans-serif' text-anchor="middle" fill="#333">7</text><text x="1051.49" y="2130.4" font-size="7.6" font-family='"DejaVu Sans", "Liberation Sans", sans-serif' text-anchor="middle" fill="#333">8</text><text x="1114.03" y="2121.6" font-size="7.6" font-family='"DejaVu Sans", "Liberation Sans", sans-serif' text-anchor="middle" fill="#333">9</text><text x="1174.08" y="2130.4" font-size="7.6" font-family='"DejaVu Sans", "Liberation Sans", sans-serif' text-anchor="middle" fill="#333">10</text><text x="1233.39" y="2121.6" font-size="7.6" font-family='"DejaVu Sans", "Liberation Sans", sans-serif' text-anchor="middle" fill="#333">11</text><text x="1292.6" y="2130.4" font-size="7.6" font-family='"DejaVu Sans", "Liberation Sans", sans-serif' text-anchor="middle" fill="#333">12</text><text x="1347.23" y="2121.6" font-size="7.6" font-family='"DejaVu Sans", "Liberation Sans", sans-serif' text-anchor="middle" fill="#333">13</text><text x="1396.07" y="2130.4" font-size="7.6" font-family='"DejaVu Sans", "Liberation Sans", sans-serif' text-anchor="middle" fill="#333">14</text><text x="1442.18" y="2121.6" font-size="7.6" font-family='"DejaVu Sans", "Liberation Sans", sans-serif' text-anchor="middle" fill="#333">15</text><text x="1484.61" y="2130.4" font-size="7.6" font-family='"DejaVu Sans", "Liberation Sans", sans-serif' text-anchor="middle" fill="#333">16</text><text x="1522.9" y="2121.6" font-size="7.6" font-family='"DejaVu Sans", "Liberation Sans", sans-serif' text-anchor="middle" fill="#333">17</text><text x="1559" y="2130.4" font-size="7.6" font-family='"DejaVu Sans", "Liberation Sans", sans-serif' text-anchor="middle" fill="#333">18</text><text x="1589.66" y="2121.6" font-size="7.6" font-family='"DejaVu Sans", "Liberation Sans", sans-serif' text-anchor="middle" fill="#333">19</text><text x="1616.81" y="2130.4" font-size="7.6" font-family='"DejaVu Sans", "Liberation Sans", sans-serif' text-anchor="middle" fill="#333">20</text><text x="1641.33" y="2121.6" font-size="7.6" font-family='"DejaVu Sans", "Liberation Sans", sans-serif' text-anchor="middle" fill="#333">21</text><text x="1662.84" y="2130.4" font-size="7.6" font-family='"DejaVu Sans", "Liberation Sans", sans-serif' text-anchor="middle" fill="#333">22</text><text x="1708.48" y="2121.6" font-size="7.6" font-family='"DejaVu Sans", "Liberation Sans", sans-serif' text-anchor="middle" fill="#333">X</text><text x="1755.52" y="2130.4" font-size="7.6" font-family='"DejaVu Sans", "Liberation Sans", sans-serif' text-anchor="middle" fill="#333">Y</text><path d="M515.44 2143.4v7.6M622.3 2143.4v7.6M709.79 2143.4v7.6M793.71 2143.4v7.6M873.8 2143.4v7.6M949.16 2143.4v7.6M1019.47 2143.4v7.6M1083.5 2143.4v7.6M1144.56 2143.4v7.6M1203.59 2143.4v7.6M1263.2 2143.4v7.6M1322 2143.4v7.6M1372.45 2143.4v7.6M1419.68 2143.4v7.6M1464.68 2143.4v7.6M1504.54 2143.4v7.6M1541.27 2143.4v7.6M1576.73 2143.4v7.6M1602.59 2143.4v7.6M1631.02 2143.4v7.6M1651.63 2143.4v7.6M1674.05 2143.4v7.6M1742.9 2143.4v7.6" stroke="#333" stroke-width="1" fill="none"/><g id="t1"><path d="M405.6 2197V2179h2.4V2178h1.2V2178.5h1.2V2178h2.4V2178.5h1.2V2179h1.2V2178.5h1.2V2179.5h2.4V2180h1.2V2178.5h1.2V2179.5h2.4V2179h1.2V2178.5h2.4V2179h2.4V2180h2.4V2179h4.8V2178.5h1.2V2179h3.6V2179.5h1.2V2178.5h2.4V2179.5h1.2V2178h1.2V2178.5h1.2V2179.5h2.4V2179h2.4V2178h2.4V2179.5h1.2V2180h2.4V2180.5h1.2V2197M468 2197V2178.5h1.2V2179h3.6V2179.5h1.2V2178h2.4V2179.5h1.2V2178.5h1.2V2179h1.2V2178h3.6V2179h1.2V2178h1.2V2179.5h1.2V2179h1.2V2178.5h1.2V2178h2.4V2179.5h4.8V2178.5h1.2V2179h4.8V2178h2.4V2180h1.2V2178h2.4V2179.5h1.2V2177.5h2.4V2178h1.2V2177.5h1.2V2178h2.4V2178.5h2.4V2179h2.4V2179.5h1.2V2179h1.2V2178h1.2V2179.5h2.4V2178.5h2.4V2179.5h2.4V2178h1.2V2179.5h1.2V2179h1.2V2179.5h2.4V2178h3.6V2179h2.4V2178.5h1.2V2178h1.2V2179h3.6V2178.5h1.2V2178h1.2V2179h2.4V2178h1.2V2179h2.4V2178h1.2V2179h2.4V2178h3.6V2177.5h2.4V2178.5h3.6V2177.5h2.4V2179h1.2V2179.5h2.4V2177.5h2.4V2179.5h3.6V2178.5h1.2V2179h4.8V2179.5h1.2V2179h1.2V2178.5h1.2V2179.5h1.2V2178.5h1.2V2179h2.4V2178h4.8V2179h3.6V2179.5h1.2V2178.5h1.2V2178h2.4V2179.5h2.4V2179h2.4V2178h1.2V2179.5h3.6V2178.5h1.2V2179h3.6V2178.5h2.4V2178h1.2V2178.5h1.2V2179h3.6V2179.5h2.4V2179h1.2V2178h2.4V2179h2.4V2178h1.2V2177.5h2.4V2178.5h1.2V2179h1.2V2178.5h6V2179.5h4.8V2178.5h2.4V2178h1.2V2177.5h1.2V2179h4.8V2177.5h2.4V2179h2.4V2178.5h1.2V2179h2.4V2178.5h1.2V2179h2.4V2177.5h1.2V2178h1.2V2179h3.6V2177.5h1.2V2178h1.2V2178.5h2.4V2179.5h1.2V2179h2.4V2178.5h1.2V2178h1.2V2178.5h2.4V2179h2.4V2179.5h1.2V2178.5h4.8V2179.5h1.2V2179h2.4V2178.5h2.4V2179.5h1.2V2178h2.4V2179.5h2.4V2178.5h1.2V2180h2.4V2179h1.2V2178h1.2V2178.5h6V2178h2.4V2179.5h1.2V2179h1.2V2177.5h2.4V2179.5h2.4V2179h2.4V2178.5h3.6V2179.5h4.8V2178.5h2.4V2178h1.2V2179h3.6V2178.5h1.2V2177.5h2.4V2178h1.2V2177.5h4.8V2179h1.2V2178h6V2179h7.2V2179.5h2.4V2178.5h3.6V2178h2.4V2180h3.6V2179h2.4V2179.5h1.2V2178h3.6V2179h1.2V2178.5h2.4V2179h2.4V2178.5h1.2V2178h1.2V2179h2.4V2178h3.6V2178.5h2.4V2178h1.2V2178.5h4.8V2180h2.4V2179h1.2V2180h4.8V2178.5h2.4V2180.5h1.2V2179.5h2.4V2179h1.2V2178.5h1.2V2180h1.2V2178h1.2V2178.5h2.4V2179h3.6V2178.5h2.4V2180h2.4V2178.5h1.2V2179h2.4V2179.5h1.2V2180h2.4V2178h1.2V2179h1.2V2179.5h1.2V2179h2.4V2178.5h1.2V2179h1.2V2178.5h1.2V2179h1.2V2178h1.2V2178.5h7.2V2178h1.2V2178.5h1.2V2179.5h2.4V2178.5h1.2V2179h2.4V2178h4.8V2180h4.8V2178.5h2.4V2179.5h1.2V2178.5h2.4V2178h2.4V2178.5h1.2V2179h2.4V2178.5h2.4V2179h2.4V2179.5h2.4V2178.5h2.4V2179h1.2V2178h1.2V2179h2.4V2179.5h2.4V2178h1.2V2179h6V2179.5h2.4V2178.5h1.2V2179h2.4V2178.5h2.4V2179.5h1.2V2179h1.2V2179.5h3.6V2180h1.2V2178h2.4V2179.5h2.4V2178.5h2.4V2179.5h1.2V2178.5h2.4V2179.5h2.4V2178h1.2V2179.5h1.2V2178h1.2V2178.5h2.4V2179.5h1.2V2179h1.2V2178h1.2V2178.5h3.6V2178h8.4V2178.5h1.2V2178h2.4V2179h2.4V2178.5h2.4V2180h1.2V2178.5h1.2V2179h2.4V2180h2.4V2179.5h2.4V2178.5h2.4V2179h2.4V2177.5h1.2V2179h1.2V2178.5h2.4V2179h2.4V2178h3.6V2178.5h1.2V2179h1.2V2179.5h1.2V2178.5h3.6V2180h4.8V2179h1.2V2180h1.2V2179.5h1.2V2178h2.4V2178.5h1.2V2178h1.2V2179h2.4V2178.5h2.4V2179h4.8V2178.5h1.2V2179.5h4.8V2178.5h1.2V2178h1.2V2178.5h2.4V2179h1.2V2179.5h2.4V2178h7.2V2178.5h3.6V2178h1.2V2178.5h2.4V2178h2.4V2179.5h2.4V2178.5h2.4V2178h4.8V2179h3.6V2178h4.8V2178.5h1.2V2179h1.2V2178h1.2V2197M1110 2197V2178.5h2.4V2179.5h1.2V2178.5h2.4V2179.5h2.4V2179h1.2V2178.5h2.4V2179.5h1.2V2178h1.2V2180h1.2V2179.5h7.2V2180h1.2V2178h1.2V2179.5h1.2V2178h3.6V2177.5h2.4V2179h2.4V2178.5h2.4V2179h2.4V2178.5h2.4V2179h1.2V2180h2.4V2179.5h2.4V2179h1.2V2179.5h1.2V2178h2.4V2179h1.2V2179.5h1.2V2179h1.2V2180h1.2V2178h2.4V2178.5h1.2V2179.5h2.4V2179h3.6V2178h1.2V2179.5h2.4V2178.5h2.4V2179.5h3.6V2178.5h1.2V2180h4.8V2178.5h2.4V2179h2.4V2179.5h2.4V2180h6V2179h1.2V2179.5h1.2V2179h2.4V2178.5h1.2V2179.5h1.2V2178.5h2.4V2180h2.4V2179.5h4.8V2179h2.4V2178h1.2V2179h2.4V2178h2.4V2178.5h1.2V2177.5h2.4V2178h2.4V2177.5h2.4V2179h3.6V2178.5h1.2V2178h1.2V2179.5h3.6V2178.5h2.4V2179h1.2V2179.5h1.2V2180h1.2V2178h2.4V2180h1.2V2179.5h1.2V2180h3.6V2178.5h3.6V2179h1.2V2178h3.6V2178.5h1.2V2178h2.4V2179h1.2V2179.5h2.4V2179h2.4V2180.5h1.2V2180h2.4V2179h2.4V2179.5h2.4V2178.5h1.2V2179h1.2V2178.5h1.2V2178h1.2V2179.5h1.2V2179h2.4V2179.5h1.2V2178.5h4.8V2178h1.2V2179h1.2V2178h2.4V2178.5h2.4V2178h2.4V2179.5h2.4V2179h2.4V2179.5h1.2V2178h2.4V2197M1328.4 2197V2179.5h2.4V2178h2.4V2178.5h1.2V2179h2.4V2178h2.4V2179.5h3.6V2179h1.2V2179.5h1.2V2179h3.6V2178h6V2179.5h2.4V2178.5h2.4V2179.5h2.4V2179h1.2V2178.5h3.6V2179.5h2.4V2179h1.2V2178h2.4V2197M1380 2197V2178.5h1.2V2177.5h4.8V2179h2.4V2178h1.2V2179.5h2.4V2178.5h1.2V2179h6V2179.5h1.2V2178h1.2V2178.5h2.4V2178h1.2V2179h2.4V2178h2.4V2178.5h2.4V2179h2.4V2179.5h2.4V2179h1.2V2178.5h1.2V2197M1426.8 2197V2179h1.2V2179.5h1.2V2178.5h1.2V2180h1.2V2178.5h2.4V2180h2.4V2179.5h2.4V2178.5h3.6V2179.5h2.4V2177.5h1.2V2179.5h1.2V2177.5h2.4V2179.5h1.2V2179h6V2179.5h2.4V2178h2.4V2179h2.4V2179.5h2.4V2178.5h2.4V2178h4.8V2178.5h1.2V2178h1.2V2179h3.6V2179.5h1.2V2178h1.2V2197M1485.6 2197V2179.5h1.2V2180.5h1.2V2178.5h2.4V2180h3.6V2179.5h1.2V2180h1.2V2178.5h1.2V2179h6V2179.5h3.6V2179h2.4V2178.5h1.2V2179.5h1.2V2178.5h2.4V2178h1.2V2179h1.2V2178.5h1.2V2179h3.6V2180h2.4V2178.5h2.4V2180h2.4V2179h1.2V2178.5h1.2V2180h2.4V2179h2.4V2179.5h2.4V2178.5h2.4V2179.5h2.4V2178.5h2.4V2178h2.4V2178.5h2.4V2179h1.2V2178h2.4V2178.5h2.4V2180h2.4V2178h1.2V2179h3.6V2178.5h1.2V2179h1.2V2179.5h1.2V2178.5h1.2V2180h2.4V2179.5h1.2V2179h2.4V2178.5h2.4V2178h1.2V2178.5h3.6V2179h6V2179.5h2.4V2179h2.4V2180h1.2V2179.5h3.6V2178.5h2.4V2179.5h2.4V2178.5h1.2V2179.5h3.6V2179h2.4V2180h2.4V2179.5h2.4V2179h2.4V2179.5h1.2V2180h4.8V2179h2.4V2178h2.4V2178.5h2.4V2178h1.2V2179.5h1.2V2197M1633.2 2197V2178.5h2.4V2179h1.2V2178h3.6V2179h1.2V2179.5h1.2V2179h1.2V2179.5h2.4V2178.5h1.2V2180h1.2V2179.5h1.2V2180h1.2V2178h1.2V2197M1656 2197V2178h1.2V2180h6V2178.5h1.2V2179.5h1.2V2178.5h2.4V2179.5h2.4V2180h3.6V2179.5h2.4V2179h1.2V2178.5h2.4V2178h2.4V2179.5h4.8V2178.5h1.2V2179.5h2.4V2179h2.4V2179.5h3.6V2180h2.4V2178.5h3.6V2179h1.2V2179.5h1.2V2178h1.2V2178.5h2.4V2179.5h2.4V2179h2.4V2178h2.4V2179h1.2V2178h2.4V2178.5h1.2V2177.5h6V2179h1.2V2178h1.2V2179.5h2.4V2178h2.4V2179.5h2.4V2178h2.4V2179.5h1.2V2180h1.2V2178.5h1.2V2179h2.4V2179.5h2.4V2180h1.2V2179.5h1.2V2178.5h2.4V2178h1.2V2179h1.2V2179.5h1.2V2197M1767.6 2197V2178h1.2V2197" fill="#0000b2"/><rect x="405.6" y="2196.8" width="1362.55" height="0.9" fill="#4a4ad0"/><rect x="1767" y="2176.76" width="1.4" height="20.24" fill="#0000b2"/></g><g id="t2"><path d="M405.6 2232V2212.5h1.2V2214h3.6V2213h3.6V2214h1.2V2213.5h1.2V2212.5h2.4V2213h4.8V2213.5h1.2V2212.5h1.2V2213h2.4V2214h4.8V2214.5h1.2V2213.5h1.2V2214.5h2.4V2214h1.2V2214.5h2.4V2214h3.6V2214.5h1.2V2214h4.8V2213h2.4V2214.5h2.4V2214h2.4V2213.5h1.2V2213h1.2V2232M468 2232V2215h1.2V2214h2.4V2213h1.2V2214h2.4V2213.5h1.2V2215h3.6V2213.5h2.4V2215h1.2V2214h7.2V2213h1.2V2213.5h2.4V2213h1.2V2214.5h2.4V2213.5h2.4V2215h1.2V2214.5h1.2V2213.5h1.2V2215h1.2V2214h1.2V2213h2.4V2214h1.2V2214.5h1.2V2215h1.2V2213.5h2.4V2214h2.4V2214.5h1.2V2215h2.4V2213h1.2V2214.5h2.4V2213.5h3.6V2214h1.2V2213.5h1.2V2214.5h1.2V2213.5h1.2V2215h9.6V2214h2.4V2213.5h1.2V2215h2.4V2213.5h1.2V2214h2.4V2214.5h2.4V2214h1.2V2213h1.2V2214.5h2.4V2214h2.4V2214.5h2.4V2214h2.4V2213h2.4V2213.5h1.2V2213h1.2V2214h2.4V2213h1.2V2214h1.2V2213.5h1.2V2215h1.2V2214.5h1.2V2214h2.4V2214.5h2.4V2213h1.2V2213.5h1.2V2214.5h1.2V2213h1.2V2214.5h1.2V2212.5h1.2V2213h1.2V2213.5h2.4V2213h2.4V2214h2.4V2214.5h1.2V2213h2.4V2213.5h1.2V2214.5h1.2V2215h2.4V2214.5h1.2V2213.5h1.2V2215h2.4V2213.5h1.2V2215h1.2V2214.5h1.2V2214h2.4V2214.5h2.4V2214h1.2V2213h4.8V2212.5h1.2V2214.5h1.2V2213h1.2V2214h2.4V2212.5h1.2V2214.5h2.4V2214h1.2V2213.5h2.4V2214h6V2213h2.4V2214h2.4V2213.5h1.2V2214.5h2.4V2213h1.2V2214h2.4V2213h7.2V2213.5h1.2V2212.5h2.4V2213h2.4V2213.5h3.6V2214h2.4V2214.5h1.2V2213.5h7.2V2214h2.4V2212.5h1.2V2213.5h1.2V2214h2.4V2214.5h1.2V2215h2.4V2213.5h1.2V2214.5h1.2V2214h3.6V2215h1.2V2214h2.4V2214.5h1.2V2213.5h3.6V2214h2.4V2214.5h1.2V2213.5h4.8V2214h2.4V2214.5h1.2V2213.5h3.6V2215h2.4V2214h2.4V2213h1.2V2214.5h4.8V2214h2.4V2215h2.4V2213.5h3.6V2214h7.2V2213.5h2.4V2214h2.4V2214.5h1.2V2212.5h1.2V2214.5h1.2V2214h1.2V2213.5h1.2V2214.5h3.6V2213h2.4V2213.5h7.2V2214h2.4V2213h1.2V2214.5h4.8V2213.5h3.6V2213h2.4V2213.5h2.4V2214.5h4.8V2213h1.2V2214h1.2V2215h1.2V2213h2.4V2215h2.4V2214h1.2V2213.5h2.4V2214h1.2V2213.5h2.4V2215h3.6V2213h2.4V2214.5h2.4V2214h2.4V2213.5h1.2V2214.5h1.2V2215h1.2V2214.5h2.4V2213h6V2214.5h3.6V2213h1.2V2213.5h4.8V2214h1.2V2213.5h1.2V2215h9.6V2214.5h2.4V2214h2.4V2215h2.4V2214.5h6V2214h2.4V2214.5h1.2V2214h1.2V2215h4.8V2214.5h2.4V2213.5h2.4V2213h1.2V2213.5h2.4V2214.5h3.6V2213h2.4V2214h1.2V2213.5h1.2V2214h1.2V2213h1.2V2213.5h1.2V2213h4.8V2214h1.2V2213.5h1.2V2214.5h2.4V2212.5h1.2V2213.5h2.4V2212.5h2.4V2213.5h4.8V2214h1.2V2213.5h2.4V2214h1.2V2213.5h3.6V2214.5h1.2V2213.5h3.6V2214h2.4V2213.5h1.2V2213h1.2V2213.5h1.2V2214.5h1.2V2215h1.2V2213h2.4V2214.5h2.4V2215h3.6V2213h1.2V2214h2.4V2213.5h2.4V2215h2.4V2214h1.2V2213.5h1.2V2212.5h1.2V2213.5h2.4V2214.5h1.2V2214h3.6V2213h2.4V2214h3.6V2213.5h1.2V2214h1.2V2215h2.4V2213.5h2.4V2213h2.4V2214h7.2V2213.5h2.4V2215h2.4V2214.5h3.6V2214h1.2V2213.5h1.2V2213h1.2V2214h2.4V2213h2.4V2213.5h2.4V2214h1.2V2214.5h2.4V2213h7.2V2213.5h2.4V2212.5h1.2V2213.5h2.4V2214.5h2.4V2213h4.8V2214h1.2V2213h2.4V2214.5h4.8V2214h1.2V2213h1.2V2213.5h3.6V2214h3.6V2213h2.4V2214h4.8V2212.5h3.6V2213h1.2V2212.5h1.2V2213h1.2V2214.5h1.2V2213h2.4V2214.5h6V2213.5h3.6V2212.5h2.4V2213h2.4V2213.5h2.4V2214.5h1.2V2213h3.6V2213.5h2.4V2214h1.2V2213.5h2.4V2213h1.2V2214.5h1.2V2232M1110 2232V2213.5h1.2V2212.5h1.2V2214.5h1.2V2213h2.4V2213.5h1.2V2214.5h2.4V2214h1.2V2215h1.2V2214.5h3.6V2213.5h6V2214h1.2V2213h1.2V2214.5h2.4V2214h4.8V2213.5h2.4V2214h1.2V2215h1.2V2214h1.2V2214.5h2.4V2212.5h1.2V2214h4.8V2212.5h2.4V2214h2.4V2213h2.4V2214h2.4V2213.5h1.2V2213h2.4V2214.5h2.4V2214h2.4V2212.5h2.4V2213.5h2.4V2213h1.2V2214h1.2V2214.5h2.4V2213h1.2V2214.5h1.2V2213.5h2.4V2213h1.2V2213.5h2.4V2213h1.2V2212.5h2.4V2214.5h2.4V2213.5h2.4V2214h1.2V2213h1.2V2214h2.4V2213h1.2V2214.5h1.2V2213.5h4.8V2213h3.6V2214h1.2V2214.5h1.2V2214h1.2V2213h1.2V2214.5h1.2V2214h2.4V2213.5h1.2V2213h2.4V2214h1.2V2213.5h2.4V2214.5h2.4V2213.5h1.2V2215h6V2213h1.2V2212.5h1.2V2214.5h1.2V2214h1.2V2212.5h2.4V2213h2.4V2213.5h1.2V2214h1.2V2214.5h1.2V2213.5h1.2V2214h6V2214.5h2.4V2214h1.2V2213h1.2V2213.5h2.4V2215h1.2V2213.5h1.2V2215h2.4V2213.5h2.4V2214h2.4V2213.5h1.2V2214.5h1.2V2215h2.4V2213.5h2.4V2214h3.6V2213.5h2.4V2213h1.2V2213.5h3.6V2214.5h1.2V2213.5h4.8V2214h2.4V2213h1.2V2214h2.4V2213.5h1.2V2213h1.2V2214h1.2V2213.5h3.6V2212.5h4.8V2214h1.2V2213h1.2V2232M1328.4 2232V2213.5h1.2V2213h1.2V2214h1.2V2215h1.2V2213.5h4.8V2215h2.4V2213h1.2V2214.5h2.4V2213.5h2.4V2214h2.4V2213.5h2.4V2213h1.2V2215h1.2V2214.5h2.4V2215h2.4V2213h3.6V2213.5h1.2V2214h3.6V2213h1.2V2214.5h1.2V2215h1.2V2214h1.2V2213.5h1.2V2232M1380 2232V2214h2.4V2213.5h1.2V2214.5h1.2V2212.5h2.4V2213.5h4.8V2213h3.6V2214h2.4V2214.5h1.2V2213.5h2.4V2214.5h2.4V2213.5h2.4V2214.5h2.4V2214h2.4V2213.5h4.8V2214h2.4V2213.5h1.2V2232M1426.8 2232V2214h2.4V2213.5h1.2V2215h2.4V2214.5h1.2V2214h1.2V2213h2.4V2213.5h6V2214h2.4V2213.5h1.2V2212.5h1.2V2214.5h1.2V2214h3.6V2214.5h2.4V2214h2.4V2212.5h2.4V2214.5h2.4V2213.5h3.6V2214h1.2V2213h1.2V2212.5h2.4V2214.5h1.2V2213h2.4V2214.5h3.6V2213h2.4V2214h1.2V2232M1485.6 2232V2214.5h1.2V2213h1.2V2214.5h2.4V2213h1.2V2213.5h1.2V2214.5h1.2V2214h1.2V2214.5h2.4V2213.5h1.2V2215h1.2V2213h1.2V2214h1.2V2214.5h2.4V2212.5h1.2V2213.5h1.2V2212.5h1.2V2214.5h3.6V2213.5h1.2V2214h2.4V2213.5h2.4V2212.5h1.2V2213h1.2V2212.5h2.4V2213.5h1.2V2213h6V2214.5h2.4V2213.5h3.6V2214.5h2.4V2214h2.4V2215h2.4V2214h2.4V2214.5h1.2V2213.5h4.8V2214.5h1.2V2213h1.2V2214h2.4V2214.5h2.4V2213.5h1.2V2213h2.4V2214h2.4V2214.5h4.8V2213h1.2V2213.5h9.6V2213h4.8V2214h4.8V2213.5h1.2V2214h1.2V2213.5h1.2V2213h1.2V2213.5h2.4V2214h2.4V2213h2.4V2213.5h2.4V2214h2.4V2213h2.4V2214.5h2.4V2214h2.4V2215h4.8V2213.5h1.2V2215h2.4V2214h1.2V2213h4.8V2213.5h2.4V2214h1.2V2232M1633.2 2232V2213.5h2.4V2215h1.2V2213h1.2V2213.5h6V2213h1.2V2214h2.4V2214.5h1.2V2213h1.2V2214.5h2.4V2232M1656 2232V2214.5h6V2213h1.2V2214.5h3.6V2215h1.2V2213h2.4V2214.5h2.4V2214h1.2V2213.5h1.2V2214.5h1.2V2213.5h1.2V2214h2.4V2213h2.4V2214h2.4V2214.5h1.2V2214h1.2V2213.5h3.6V2214h1.2V2213.5h1.2V2214h1.2V2213.5h1.2V2214h1.2V2213h4.8V2213.5h1.2V2214.5h2.4V2213.5h1.2V2214.5h2.4V2213.5h2.4V2214.5h4.8V2214h1.2V2214.5h2.4V2213.5h1.2V2214h2.4V2214.5h4.8V2213.5h1.2V2213h2.4V2214.5h1.2V2213.5h2.4V2214h2.4V2213h1.2V2215h1.2V2213.5h2.4V2214h2.4V2213.5h2.4V2215h3.6V2213.5h4.8V2232M1767.6 2232V2213.5h1.2V2232" fill="#0000b2"/><rect x="405.6" y="2231.8" width="1362.55" height="0.9" fill="#4a4ad0"/><rect x="1767" y="2211.76" width="1.4" height="20.24" fill="#0000b2"/></g><g id="t3"><path d="M405.6 2267V2240h3.6V2241h2.4V2240.5h2.4V2241h1.2V2240.5h1.2V2241h2.4V2240h1.2V2241h8.4V2240.5h4.8V2240h2.4V2240.5h4.8V2241h2.4V2240.5h3.6V2241h4.8V2240.5h4.8V2241h2.4V2240.5h2.4V2267M468 2267V2240.5h2.4V2241h1.2V2241.5h2.4V2241h1.2V2240.5h1.2V2240h1.2V2240.5h4.8V2241h2.4V2240.5h1.2V2241h2.4V2240.5h1.2V2241h1.2V2240.5h1.2V2241.5h1.2V2240.5h1.2V2241h3.6V2240.5h7.2V2241h1.2V2240.5h3.6V2240h1.2V2241h1.2V2240.5h2.4V2241h1.2V2240.5h1.2V2241h2.4V2240.5h1.2V2240h1.2V2241h3.6V2240.5h2.4V2241h3.6V2240.5h1.2V2241h2.4V2240.5h3.6V2241h2.4V2240h2.4V2240.5h10.8V2241h1.2V2240.5h2.4V2240h2.4V2240.5h2.4V2241h1.2V2240.5h1.2V2241h1.2V2240.5h1.2V2241h2.4V2241.5h1.2V2241h7.2V2240.5h1.2V2241h2.4V2240.5h2.4V2241h1.2V2240.5h1.2V2241h1.2V2240h2.4V2240.5h1.2V2240h2.4V2240.5h3.6V2240h1.2V2240.5h2.4V2240h3.6V2240.5h7.2V2241h3.6V2240.5h1.2V2241h2.4V2240.5h1.2V2241h6V2240.5h6V2241h2.4V2240.5h6V2241h1.2V2240.5h12V2241h1.2V2240.5h2.4V2240h2.4V2240.5h6V2240h2.4V2240.5h1.2V2240h2.4V2241h1.2V2240.5h1.2V2241h1.2V2240.5h2.4V2241h8.4V2240.5h8.4V2241h2.4V2240.5h7.2V2241h1.2V2240.5h1.2V2241h1.2V2240.5h6V2241h9.6V2240.5h1.2V2241h2.4V2240h1.2V2240.5h2.4V2240h4.8V2240.5h1.2V2240h1.2V2241h2.4V2240.5h3.6V2240h1.2V2240.5h1.2V2241h3.6V2240.5h1.2V2241h1.2V2240.5h1.2V2241h2.4V2240.5h2.4V2241h2.4V2240.5h4.8V2241h1.2V2240h1.2V2241h4.8V2241.5h2.4V2240.5h4.8V2241h3.6V2240.5h1.2V2241h1.2V2240.5h7.2V2240h1.2V2240.5h2.4V2241h2.4V2240h2.4V2240.5h3.6V2241h1.2V2240h2.4V2240.5h10.8V2241h2.4V2240h4.8V2241h2.4V2240.5h2.4V2240h8.4V2240.5h1.2V2240h1.2V2240.5h2.4V2241h1.2V2240.5h8.4V2241h2.4V2240.5h2.4V2240h1.2V2240.5h2.4V2241h2.4V2240.5h1.2V2241h1.2V2240h4.8V2241h2.4V2240.5h2.4V2241h2.4V2241.5h1.2V2241h1.2V2240.5h2.4V2241.5h3.6V2241h1.2V2240.5h4.8V2241h3.6V2240.5h3.6V2241h3.6V2240.5h1.2V2241.5h2.4V2240.5h1.2V2241h7.2V2240.5h4.8V2241h7.2V2240.5h2.4V2241h2.4V2240.5h6V2241h1.2V2240.5h2.4V2241h2.4V2240h1.2V2240.5h1.2V2240h2.4V2240.5h3.6V2241h2.4V2241.5h1.2V2240.5h2.4V2241h1.2V2240.5h1.2V2241h1.2V2240.5h2.4V2241h2.4V2240.5h2.4V2241h2.4V2240.5h3.6V2240h2.4V2240.5h1.2V2240h1.2V2241h2.4V2240.5h1.2V2241h1.2V2240.5h3.6V2241h1.2V2240.5h2.4V2241h2.4V2240.5h1.2V2241h3.6V2240h1.2V2240.5h2.4V2241h2.4V2240.5h1.2V2241h6V2240.5h7.2V2241h1.2V2240.5h2.4V2241h1.2V2240.5h1.2V2241h2.4V2241.5h1.2V2241h2.4V2240.5h2.4V2241h2.4V2240.5h8.4V2241h4.8V2240h2.4V2240.5h1.2V2240h1.2V2240.5h2.4V2241h6V2240.5h6V2241h3.6V2240.5h6V2241h1.2V2240.5h1.2V2240h1.2V2240.5h2.4V2241h2.4V2240h2.4V2241h1.2V2240.5h3.6V2241h4.8V2240.5h3.6V2267M1110 2267V2240.5h3.6V2241h1.2V2240.5h2.4V2241h14.4V2240.5h2.4V2241h1.2V2240.5h4.8V2241h2.4V2240.5h3.6V2241h1.2V2240.5h2.4V2241h2.4V2240.5h2.4V2241h1.2V2240.5h1.2V2241h1.2V2240h2.4V2241h1.2V2240h1.2V2240.5h4.8V2241h3.6V2240.5h4.8V2241h4.8V2240.5h3.6V2241h3.6V2240.5h2.4V2241.5h2.4V2241h2.4V2240.5h1.2V2241h7.2V2240.5h2.4V2241h6V2240.5h4.8V2241h4.8V2240.5h2.4V2241h7.2V2240.5h2.4V2240h2.4V2240.5h3.6V2241h1.2V2240.5h3.6V2241h6V2240.5h2.4V2241h1.2V2240.5h2.4V2240h1.2V2241h3.6V2240h1.2V2240.5h2.4V2241h2.4V2240.5h1.2V2241h1.2V2240h1.2V2240.5h4.8V2240h2.4V2241h2.4V2240.5h1.2V2240h2.4V2240.5h7.2V2241h3.6V2240.5h6V2241h2.4V2240.5h2.4V2241h4.8V2240.5h1.2V2241h6V2240.5h3.6V2241h1.2V2267M1328.4 2267V2241h1.2V2240.5h7.2V2241h2.4V2240.5h3.6V2241h4.8V2240.5h2.4V2241h3.6V2240.5h10.8V2241h1.2V2240.5h1.2V2241h3.6V2240.5h2.4V2267M1380 2267V2241h3.6V2240h6V2241h3.6V2240.5h4.8V2241h1.2V2240.5h2.4V2240h2.4V2240.5h1.2V2241h1.2V2240.5h1.2V2241h9.6V2240.5h2.4V2267M1426.8 2267V2241h1.2V2240.5h2.4V2241h1.2V2240.5h4.8V2241h1.2V2240.5h3.6V2240h1.2V2241h2.4V2240h6V2241h8.4V2240.5h9.6V2240h1.2V2241h1.2V2240.5h2.4V2240h2.4V2241h2.4V2240.5h3.6V2267M1485.6 2267V2240.5h7.2V2241h1.2V2240.5h1.2V2241h2.4V2240.5h3.6V2241h2.4V2240h1.2V2240.5h12V2241h6V2240.5h1.2V2241h1.2V2240.5h4.8V2241h1.2V2240.5h2.4V2241h1.2V2240h2.4V2240.5h2.4V2241h2.4V2241.5h1.2V2241h2.4V2240.5h2.4V2241h14.4V2240.5h2.4V2241h2.4V2240.5h7.2V2241.5h2.4V2240.5h2.4V2241h4.8V2240.5h2.4V2241h1.2V2240h2.4V2241h1.2V2240.5h7.2V2241h9.6V2240h2.4V2240.5h1.2V2240h1.2V2240.5h4.8V2241h1.2V2240.5h1.2V2241h4.8V2240.5h2.4V2241h3.6V2240.5h1.2V2267M1633.2 2267V2241h8.4V2240.5h1.2V2241h1.2V2240.5h2.4V2241.5h1.2V2241h2.4V2240.5h1.2V2241h1.2V2267M1656 2267V2241h9.6V2240.5h3.6V2240h1.2V2240.5h4.8V2246h8.4V2246.5h2.4V2246h2.4V2245.5h7.2V2246h24V2245.5h1.2V2246.5h1.2V2246h4.8V2246.5h2.4V2246h3.6V2245.5h3.6V2246h10.8V2245.5h1.2V2246h7.2V2267M1767.6 2267V2246.5h1.2V2267" fill="#009628"/><rect x="405.6" y="2266.8" width="1362.55" height="0.9" fill="#2fb45a"/><rect x="1767" y="2242.36" width="1.4" height="24.64" fill="#009628"/></g><g id="t4"><path d="M405.6 2301.4V2293.5h2.4V2294h1.2V2294.5h1.2V2293.5h2.4V2295h1.2V2295.5h2.4V2294.5h1.2V2294h1.2V2293.5h1.2V2293h1.2V2292.5h1.2V2293h1.2V2294.5h2.4V2295h1.2V2294h1.2V2293.5h1.2V2291h2.4V2293h3.6V2292.5h1.2V2293h1.2V2294h1.2V2292.5h1.2V2294.5h1.2V2293h1.2V2292h2.4V2294h1.2V2292.5h1.2V2293h1.2V2295h1.2V2294h2.4V2296.5h2.4V2295h1.2V2294.5h1.2V2294h1.2V2295h1.2V2294.5h1.2V2301.4M468 2301.4V2294h3.6V2293.5h1.2V2293h1.2V2290.5h1.2V2293h1.2V2293.5h1.2V2292h2.4V2291h1.2V2293.5h2.4V2294h1.2V2293.5h1.2V2294.5h1.2V2295h1.2V2294.5h1.2V2292.5h1.2V2294h1.2V2293h1.2V2293.5h1.2V2295h1.2V2296h1.2V2296.5h1.2V2295.5h2.4V2296h1.2V2298h1.2V2296h3.6V2294.5h1.2V2287h1.2V2295.5h1.2V2295h1.2V2294.5h1.2V2295h1.2V2294.5h1.2V2294h1.2V2293.5h3.6V2294h2.4V2291.5h1.2V2291h1.2V2291.5h1.2V2293h1.2V2291h1.2V2292h1.2V2295.5h1.2V2296h1.2V2294h1.2V2293.5h1.2V2293h1.2V2292.5h1.2V2293.5h1.2V2294.5h1.2V2295.5h3.6V2297h1.2V2296.5h1.2V2294h1.2V2294.5h1.2V2296.5h1.2V2297h2.4V2297.5h1.2V2294.5h1.2V2297.5h1.2V2297h2.4V2296h2.4V2296.5h1.2V2297h1.2V2294h1.2V2295h1.2V2294.5h2.4V2295h1.2V2294.5h1.2V2295h2.4V2295.5h1.2V2295h1.2V2292h1.2V2292.5h2.4V2294.5h2.4V2293h2.4V2293.5h1.2V2295.5h1.2V2293.5h1.2V2279.5h1.2V2294.5h1.2V2294h1.2V2294.5h1.2V2292.5h1.2V2293.5h1.2V2294h1.2V2296h1.2V2292.5h1.2V2294h1.2V2295h1.2V2295.5h1.2V2295h2.4V2295.5h1.2V2295h1.2V2294h1.2V2293.5h1.2V2282.5h1.2V2294h1.2V2294.5h1.2V2296.5h1.2V2294.5h1.2V2296.5h2.4V2296h1.2V2295h2.4V2293.5h1.2V2293h1.2V2295h2.4V2295.5h3.6V2294.5h2.4V2295h2.4V2292.5h2.4V2292h1.2V2294.5h1.2V2292.5h1.2V2291.5h1.2V2291h2.4V2291.5h1.2V2292h1.2V2292.5h1.2V2293h3.6V2292.5h2.4V2293h2.4V2295.5h1.2V2296h1.2V2295h1.2V2294.5h1.2V2294h1.2V2293h1.2V2292.5h1.2V2293h1.2V2294h1.2V2291.5h2.4V2295h1.2V2295.5h3.6V2293.5h1.2V2292.5h2.4V2293.5h1.2V2294h1.2V2295h1.2V2295.5h1.2V2294h1.2V2295h1.2V2294.5h1.2V2293.5h2.4V2293h1.2V2294.5h1.2V2294h1.2V2291.5h1.2V2292.5h1.2V2294.5h1.2V2295h1.2V2293h2.4V2283.5h1.2V2294.5h1.2V2293.5h1.2V2294h1.2V2295.5h2.4V2295h1.2V2294.5h2.4V2292.5h2.4V2295h2.4V2293h1.2V2294.5h1.2V2295h1.2V2295.5h1.2V2296h2.4V2294.5h2.4V2295h1.2V2296h1.2V2295h1.2V2294.5h1.2V2295h2.4V2295.5h2.4V2296h1.2V2295.5h1.2V2295h1.2V2294.5h1.2V2294h2.4V2294.5h2.4V2293.5h3.6V2294.5h1.2V2295h2.4V2293h1.2V2295h2.4V2294h1.2V2294.5h1.2V2295h1.2V2288h1.2V2295h1.2V2293.5h1.2V2294h1.2V2295h1.2V2295.5h1.2V2294h1.2V2295.5h1.2V2296h2.4V2295.5h1.2V2296h1.2V2296.5h1.2V2296h1.2V2296.5h1.2V2298h1.2V2295.5h2.4V2298.5h2.4V2296h1.2V2294.5h1.2V2293.5h1.2V2293h1.2V2294h2.4V2293.5h2.4V2292.5h1.2V2292h1.2V2292.5h3.6V2290.5h1.2V2291h1.2V2291.5h2.4V2292h4.8V2291.5h1.2V2292h1.2V2292.5h3.6V2295.5h1.2V2293h1.2V2293.5h2.4V2292.5h2.4V2293.5h1.2V2294h1.2V2295.5h2.4V2296h1.2V2288h1.2V2297h3.6V2297.5h1.2V2297h1.2V2295h1.2V2294.5h1.2V2296.5h1.2V2294h2.4V2294.5h1.2V2294h1.2V2295h4.8V2295.5h1.2V2294h1.2V2294.5h3.6V2296h2.4V2297h2.4V2294h2.4V2295.5h1.2V2295h1.2V2296h2.4V2294h1.2V2294.5h2.4V2297.5h1.2V2284.5h1.2V2295.5h2.4V2296.5h1.2V2297.5h1.2V2297h1.2V2296.5h1.2V2295h1.2V2294.5h4.8V2295h1.2V2297.5h1.2V2298h1.2V2295.5h2.4V2296h1.2V2295h1.2V2294.5h1.2V2295h2.4V2295.5h1.2V2296h1.2V2295.5h2.4V2295h1.2V2295.5h2.4V2295h1.2V2294h3.6V2294.5h2.4V2284.5h1.2V2293h2.4V2293.5h1.2V2294h1.2V2295h1.2V2296.5h2.4V2297h2.4V2295h2.4V2294.5h1.2V2295h1.2V2296.5h1.2V2297h1.2V2296.5h2.4V2294.5h3.6V2296h1.2V2294.5h1.2V2295h1.2V2294h1.2V2296h1.2V2295.5h2.4V2294.5h3.6V2293.5h1.2V2294.5h3.6V2293.5h3.6V2292.5h1.2V2292h1.2V2294h2.4V2294.5h1.2V2293.5h2.4V2293h1.2V2295.5h1.2V2296h2.4V2296.5h1.2V2296h3.6V2293.5h2.4V2295.5h1.2V2295h1.2V2294h1.2V2293.5h1.2V2294h3.6V2293h1.2V2293.5h2.4V2293h2.4V2294h2.4V2292h1.2V2295h2.4V2294h1.2V2295.5h2.4V2296h1.2V2294h1.2V2294.5h2.4V2295h1.2V2297h1.2V2297.5h2.4V2296.5h1.2V2295h2.4V2297h1.2V2297.5h1.2V2295.5h2.4V2296h1.2V2295.5h2.4V2297h1.2V2297.5h2.4V2296.5h1.2V2297.5h1.2V2294.5h1.2V2293.5h1.2V2295.5h2.4V2295h1.2V2293h2.4V2294h2.4V2294.5h2.4V2293h1.2V2294h1.2V2293.5h3.6V2293h2.4V2293.5h1.2V2294h1.2V2294.5h1.2V2294h1.2V2294.5h1.2V2296.5h1.2V2295h1.2V2294.5h1.2V2294h1.2V2296h1.2V2296.5h1.2V2297.5h1.2V2296h2.4V2296.5h1.2V2294.5h3.6V2293.5h1.2V2294h1.2V2294.5h1.2V2296h1.2V2295h1.2V2295.5h1.2V2296h1.2V2294h1.2V2295.5h2.4V2295h1.2V2292.5h6V2292h1.2V2294.5h4.8V2296.5h1.2V2297h1.2V2296.5h2.4V2293.5h1.2V2293h1.2V2293.5h1.2V2301.4M1110 2301.4V2292.5h1.2V2282h1.2V2292.5h1.2V2294h1.2V2294.5h1.2V2296h2.4V2294.5h2.4V2296.5h2.4V2297h1.2V2294.5h1.2V2296h2.4V2294h1.2V2295.5h2.4V2296h1.2V2294h1.2V2294.5h1.2V2295.5h2.4V2296.5h1.2V2290h1.2V2295.5h2.4V2294.5h2.4V2295.5h2.4V2294.5h4.8V2292.5h1.2V2294h3.6V2293.5h1.2V2295h1.2V2296h2.4V2293.5h1.2V2296h1.2V2294.5h2.4V2295.5h3.6V2296.5h1.2V2294.5h1.2V2295h1.2V2296.5h2.4V2297h2.4V2296.5h1.2V2295h1.2V2294.5h1.2V2295h1.2V2294.5h1.2V2292.5h2.4V2294h2.4V2293.5h1.2V2293h1.2V2295h1.2V2294.5h1.2V2292.5h1.2V2293h2.4V2295h3.6V2293h2.4V2293.5h1.2V2293h1.2V2295h1.2V2293h1.2V2295h1.2V2296h1.2V2297h1.2V2297.5h1.2V2297h3.6V2296h1.2V2295.5h2.4V2294h1.2V2284h1.2V2297.5h2.4V2297h1.2V2295.5h2.4V2295h1.2V2296h1.2V2296.5h3.6V2297h1.2V2296h2.4V2297h1.2V2296.5h1.2V2294.5h1.2V2296h2.4V2294.5h2.4V2295h1.2V2294.5h1.2V2294h1.2V2293.5h3.6V2291.5h1.2V2292h2.4V2292.5h1.2V2293h1.2V2293.5h3.6V2292.5h1.2V2294h3.6V2292h1.2V2294.5h1.2V2293.5h1.2V2294h1.2V2294.5h2.4V2295h2.4V2293.5h1.2V2295.5h2.4V2294h1.2V2294.5h1.2V2296h1.2V2294.5h1.2V2294h1.2V2293h1.2V2291.5h1.2V2295h1.2V2295.5h1.2V2295h1.2V2295.5h2.4V2297h1.2V2297.5h3.6V2295.5h3.6V2294.5h1.2V2294h1.2V2292.5h1.2V2292h1.2V2293h3.6V2294.5h2.4V2295h1.2V2293.5h1.2V2294h2.4V2294.5h2.4V2301.4M1328.4 2301.4V2295h1.2V2295.5h1.2V2295h1.2V2295.5h1.2V2294.5h2.4V2295.5h4.8V2295h1.2V2294.5h1.2V2293.5h1.2V2294.5h3.6V2294h3.6V2291.5h1.2V2292h2.4V2293.5h2.4V2294h1.2V2294.5h1.2V2297h1.2V2295.5h3.6V2295h1.2V2294h2.4V2293.5h1.2V2293h1.2V2293.5h1.2V2296h1.2V2301.4M1380 2301.4V2296.5h2.4V2297h1.2V2296h1.2V2295.5h2.4V2294.5h1.2V2294h2.4V2293.5h1.2V2297h1.2V2297.5h1.2V2295h3.6V2295.5h1.2V2296.5h3.6V2296h1.2V2295.5h1.2V2294.5h1.2V2295h1.2V2294.5h3.6V2296h7.2V2295.5h1.2V2301.4M1426.8 2301.4V2292h3.6V2293.5h1.2V2294h1.2V2293h1.2V2293.5h1.2V2294h1.2V2293.5h3.6V2292h1.2V2291.5h2.4V2292.5h2.4V2293.5h2.4V2294h1.2V2292h1.2V2292.5h3.6V2293h1.2V2293.5h1.2V2292.5h2.4V2294.5h1.2V2292h3.6V2292.5h1.2V2294.5h1.2V2296h1.2V2295.5h1.2V2286h1.2V2282.5h1.2V2295h2.4V2294h1.2V2294.5h1.2V2295h1.2V2296h4.8V2301.4M1485.6 2301.4V2296h3.6V2294h2.4V2295h1.2V2295.5h1.2V2294.5h2.4V2295h2.4V2297.5h1.2V2296.5h1.2V2296h4.8V2293.5h1.2V2294h2.4V2293.5h1.2V2295h6V2293.5h1.2V2294.5h1.2V2295h1.2V2294.5h3.6V2294h2.4V2293.5h1.2V2294h1.2V2295h1.2V2293h1.2V2293.5h1.2V2294h1.2V2295.5h1.2V2294.5h2.4V2295h1.2V2297h1.2V2296h1.2V2295h4.8V2296h1.2V2295.5h1.2V2296.5h1.2V2295h1.2V2295.5h1.2V2295h1.2V2295.5h1.2V2296.5h1.2V2297h1.2V2296.5h1.2V2293.5h1.2V2294.5h1.2V2295h2.4V2295.5h1.2V2295h1.2V2294.5h2.4V2292h2.4V2292.5h1.2V2294h2.4V2294.5h4.8V2293h1.2V2292.5h1.2V2292h1.2V2292.5h1.2V2292h1.2V2294h1.2V2294.5h1.2V2293.5h2.4V2294h1.2V2293h1.2V2295h3.6V2294.5h1.2V2293.5h1.2V2292.5h2.4V2292h1.2V2294h1.2V2291.5h1.2V2292h1.2V2293h3.6V2294.5h1.2V2294h2.4V2293.5h1.2V2294.5h3.6V2283h1.2V2295.5h1.2V2296.5h3.6V2296h2.4V2293.5h1.2V2294h1.2V2294.5h1.2V2296.5h1.2V2296h1.2V2295.5h1.2V2301.4M1633.2 2301.4V2279.5h1.2V2295h1.2V2293.5h1.2V2294h1.2V2293.5h1.2V2295h1.2V2294.5h1.2V2295h1.2V2296h2.4V2297h1.2V2296.5h2.4V2295.5h1.2V2295h1.2V2294.5h1.2V2301.4M1656 2301.4V2294h1.2V2293.5h2.4V2281h1.2V2293h3.6V2295h1.2V2295.5h1.2V2295h1.2V2295.5h1.2V2294h1.2V2293.5h1.2V2294h1.2V2293.5h1.2V2294.5h1.2V2292.5h1.2V2293h1.2V2294.5h1.2V2294h1.2V2293h1.2V2293.5h2.4V2292h2.4V2292.5h3.6V2293.5h2.4V2294.5h1.2V2294h2.4V2295.5h2.4V2295h1.2V2294h1.2V2294.5h2.4V2297.5h1.2V2297h1.2V2296.5h1.2V2296h1.2V2295.5h3.6V2295h1.2V2293.5h2.4V2295h1.2V2294h2.4V2294.5h1.2V2296h1.2V2295h1.2V2294.5h1.2V2294h1.2V2293h1.2V2292.5h1.2V2291h1.2V2293h3.6V2291.5h1.2V2291h1.2V2293h1.2V2292h1.2V2285.5h1.2V2293h1.2V2292h1.2V2292.5h1.2V2295h1.2V2295.5h1.2V2296h2.4V2296.5h2.4V2296h1.2V2297h2.4V2295h1.2V2294.5h1.2V2294h1.2V2301.4M1767.6 2301.4V2293h1.2V2301.4" fill="#009628"/><rect x="405.6" y="2301.2" width="1362.55" height="0.9" fill="#2fb45a"/><rect x="1767" y="2276.41" width="1.4" height="24.99" fill="#009628"/></g><path d="M459 2277.5h1.5v23.5h-1.5zM468.6 2281.5h1.6v19.5h-1.6zM1484.6 2281h1.6v20h-1.6zM1633 2273.5h1.5v27.5h-1.5zM1746 2284h1.6v17h-1.6z" fill="#009628"/><path d="M1633 2412.5h1.5v27h-1.5zM1746 2418h1.6v22h-1.6zM475 2421.5h1.6v18h-1.6z" fill="#009628"/><g id="t5"><path d="M405.6 2336V2321.5h1.2V2318h2.4V2322.5h1.2V2323h1.2V2319h3.6V2319.5h1.2V2321h1.2V2322.5h1.2V2326.5h1.2V2327.5h2.4V2331h3.6V2327h1.2V2326h1.2V2324.5h1.2V2324h1.2V2324.5h1.2V2327.5h1.2V2328.5h1.2V2325h2.4V2324.5h3.6V2324h1.2V2323h1.2V2324.5h1.2V2323h1.2V2326.5h1.2V2322h1.2V2328h2.4V2322h1.2V2320.5h1.2V2318.5h1.2V2320.5h1.2V2321h1.2V2322.5h1.2V2324h1.2V2324.5h1.2V2323h1.2V2336M468 2336V2327.5h1.2V2328h1.2V2323h1.2V2329.5h1.2V2330h1.2V2326h1.2V2327h1.2V2327.5h2.4V2326.5h1.2V2324.5h1.2V2320.5h1.2V2321h1.2V2323.5h1.2V2319h1.2V2320.5h2.4V2321.5h3.6V2317h1.2V2316.5h1.2V2317h1.2V2322h2.4V2321.5h1.2V2321h1.2V2321.5h1.2V2321h1.2V2322h2.4V2320.5h1.2V2321h1.2V2320.5h1.2V2319h1.2V2321h1.2V2319.5h1.2V2320.5h1.2V2321.5h2.4V2322h1.2V2328h1.2V2324.5h1.2V2325.5h1.2V2330.5h3.6V2330h1.2V2329.5h1.2V2326.5h1.2V2329.5h1.2V2324.5h1.2V2327.5h1.2V2327h1.2V2321h1.2V2319.5h1.2V2323.5h1.2V2320h1.2V2319.5h2.4V2319h1.2V2318.5h1.2V2319h1.2V2324h2.4V2321.5h1.2V2325h1.2V2326h1.2V2326.5h1.2V2326h1.2V2325.5h1.2V2327.5h1.2V2327h1.2V2323.5h1.2V2321h1.2V2325.5h1.2V2322.5h1.2V2327.5h1.2V2322h1.2V2321h1.2V2320.5h1.2V2321.5h1.2V2321h1.2V2319h1.2V2318.5h2.4V2322h1.2V2322.5h1.2V2321h1.2V2323.5h1.2V2320h1.2V2319h2.4V2319.5h1.2V2320h3.6V2318.5h1.2V2317h1.2V2316h1.2V2321.5h1.2V2316.5h1.2V2317h1.2V2320.5h1.2V2321h1.2V2322.5h1.2V2319.5h1.2V2315.5h1.2V2318h1.2V2318.5h1.2V2320h1.2V2317.5h1.2V2318h1.2V2317h1.2V2319.5h1.2V2318h1.2V2314h1.2V2315h1.2V2316.5h1.2V2319.5h1.2V2322.5h2.4V2321.5h1.2V2317.5h1.2V2318h1.2V2318.5h1.2V2323h1.2V2324h1.2V2324.5h1.2V2326.5h1.2V2326h2.4V2322h1.2V2321.5h1.2V2320.5h2.4V2320h1.2V2321h1.2V2325.5h1.2V2320.5h2.4V2320h1.2V2318.5h1.2V2318h1.2V2319h1.2V2318.5h1.2V2317h1.2V2321.5h2.4V2322h1.2V2322.5h1.2V2323.5h2.4V2318.5h2.4V2322h2.4V2321.5h1.2V2319.5h1.2V2318.5h2.4V2322.5h1.2V2323.5h1.2V2319.5h1.2V2320h1.2V2323.5h1.2V2318.5h1.2V2317.5h1.2V2323.5h2.4V2319.5h1.2V2319h3.6V2320h1.2V2320.5h1.2V2323.5h1.2V2324.5h1.2V2326h2.4V2328.5h2.4V2328h1.2V2327.5h2.4V2323.5h1.2V2326h1.2V2326.5h2.4V2329.5h1.2V2324h2.4V2324.5h1.2V2323.5h1.2V2322h1.2V2321h1.2V2320h1.2V2324.5h2.4V2323.5h3.6V2320h1.2V2322.5h1.2V2323h1.2V2323.5h1.2V2324.5h1.2V2325.5h1.2V2326h1.2V2329h1.2V2329.5h2.4V2329h2.4V2328.5h1.2V2322.5h1.2V2322h1.2V2326.5h1.2V2323h1.2V2326.5h2.4V2327h1.2V2327.5h1.2V2328.5h1.2V2329h1.2V2325.5h1.2V2330h1.2V2325h3.6V2323h2.4V2329h1.2V2326.5h1.2V2326h1.2V2326.5h1.2V2325h1.2V2324h1.2V2323.5h1.2V2321h1.2V2314.5h1.2V2323h1.2V2324.5h1.2V2325.5h1.2V2325h1.2V2321h1.2V2322h1.2V2321h1.2V2320h1.2V2319.5h1.2V2320h2.4V2317.5h1.2V2317h1.2V2320.5h1.2V2320h1.2V2318.5h2.4V2319h2.4V2317h1.2V2317.5h1.2V2319h1.2V2320h1.2V2325.5h1.2V2323h1.2V2324h2.4V2323.5h1.2V2323h1.2V2321.5h1.2V2321h1.2V2320.5h1.2V2316h1.2V2323h1.2V2319.5h1.2V2320.5h2.4V2320h2.4V2321h1.2V2315.5h1.2V2323h1.2V2327h1.2V2327.5h1.2V2323.5h1.2V2322h1.2V2325h1.2V2324.5h2.4V2324h1.2V2321h1.2V2320.5h2.4V2322.5h1.2V2320.5h1.2V2320h1.2V2320.5h1.2V2319.5h1.2V2320h1.2V2322h1.2V2323.5h1.2V2321.5h1.2V2320.5h1.2V2320h1.2V2321h1.2V2322.5h1.2V2323h1.2V2323.5h2.4V2328h1.2V2328.5h1.2V2328h1.2V2328.5h1.2V2327h1.2V2324.5h1.2V2324h1.2V2323.5h1.2V2322.5h2.4V2322h1.2V2326h1.2V2325.5h1.2V2321h1.2V2324h1.2V2323.5h1.2V2322h1.2V2321h1.2V2319h1.2V2321.5h1.2V2323h1.2V2324.5h1.2V2325.5h1.2V2323.5h1.2V2320.5h1.2V2321h1.2V2321.5h1.2V2327h1.2V2326.5h1.2V2323.5h1.2V2324h1.2V2324.5h2.4V2328.5h1.2V2324.5h1.2V2323.5h1.2V2326.5h1.2V2325h1.2V2324h1.2V2324.5h1.2V2321.5h1.2V2322.5h1.2V2325h1.2V2324.5h1.2V2322.5h1.2V2321.5h1.2V2324h1.2V2324.5h1.2V2321.5h1.2V2322.5h1.2V2327.5h1.2V2328h1.2V2326h1.2V2327h1.2V2326h1.2V2330.5h1.2V2326h1.2V2325.5h2.4V2323h1.2V2322.5h1.2V2323.5h1.2V2322h1.2V2322.5h1.2V2325h1.2V2326.5h1.2V2332h1.2V2331.5h1.2V2330h1.2V2329.5h1.2V2329h1.2V2328.5h2.4V2316.5h1.2V2327h1.2V2327.5h1.2V2326.5h1.2V2328.5h1.2V2333h1.2V2332.5h1.2V2330h1.2V2329h2.4V2326h2.4V2329.5h2.4V2329h1.2V2330h1.2V2328h1.2V2329.5h1.2V2329h1.2V2328h1.2V2323h1.2V2325.5h1.2V2325h1.2V2326h1.2V2325.5h1.2V2326.5h2.4V2320.5h3.6V2323h2.4V2325h2.4V2324.5h1.2V2325.5h1.2V2318.5h1.2V2318h1.2V2319h1.2V2320.5h1.2V2322h1.2V2325.5h1.2V2325h1.2V2321h1.2V2325.5h1.2V2324h2.4V2323h1.2V2317.5h1.2V2317h1.2V2322h2.4V2322.5h1.2V2317.5h1.2V2320h1.2V2319.5h1.2V2319h1.2V2320.5h1.2V2321h1.2V2319.5h1.2V2320h1.2V2320.5h1.2V2320h1.2V2322.5h1.2V2321.5h2.4V2319h1.2V2318h2.4V2320h1.2V2320.5h1.2V2318.5h1.2V2319.5h1.2V2322.5h2.4V2326.5h1.2V2326h1.2V2322.5h1.2V2323h1.2V2324h1.2V2326h1.2V2326.5h1.2V2327h1.2V2325.5h1.2V2326h1.2V2327.5h1.2V2320h1.2V2323.5h1.2V2322.5h4.8V2326.5h2.4V2325.5h1.2V2317h1.2V2322.5h1.2V2317h1.2V2317.5h1.2V2319h1.2V2319.5h1.2V2320.5h1.2V2325h2.4V2319.5h1.2V2323h1.2V2323.5h1.2V2321.5h1.2V2327h2.4V2328h1.2V2326.5h1.2V2330.5h2.4V2327.5h1.2V2322h1.2V2319.5h1.2V2321.5h1.2V2321h1.2V2319h1.2V2320.5h1.2V2320h1.2V2322.5h1.2V2321.5h1.2V2320h1.2V2316.5h2.4V2320h1.2V2321h1.2V2321.5h1.2V2321h1.2V2323.5h2.4V2322.5h1.2V2319h1.2V2320h1.2V2321.5h2.4V2324.5h1.2V2329.5h1.2V2325.5h1.2V2327.5h1.2V2327h1.2V2326.5h1.2V2325h1.2V2319h2.4V2336M1110 2336V2318h1.2V2317.5h1.2V2322.5h2.4V2323h1.2V2321.5h2.4V2318.5h2.4V2319h1.2V2321h1.2V2324h1.2V2325h1.2V2325.5h1.2V2322.5h1.2V2322h1.2V2321.5h1.2V2325.5h1.2V2326h1.2V2325.5h1.2V2326.5h1.2V2326h1.2V2325.5h1.2V2326h1.2V2327h1.2V2326.5h1.2V2322h1.2V2325.5h1.2V2326.5h1.2V2323h2.4V2322.5h1.2V2324h2.4V2324.5h1.2V2324h1.2V2320.5h2.4V2322.5h1.2V2322h1.2V2321.5h1.2V2317h1.2V2322.5h1.2V2322h1.2V2322.5h2.4V2320.5h1.2V2318.5h2.4V2321.5h1.2V2315h1.2V2323h1.2V2327.5h1.2V2328.5h1.2V2329h1.2V2325.5h1.2V2326.5h1.2V2327h1.2V2326.5h1.2V2325.5h1.2V2324.5h1.2V2329h1.2V2330h2.4V2329h1.2V2325.5h1.2V2322.5h1.2V2325.5h2.4V2324.5h1.2V2323.5h1.2V2326.5h1.2V2327.5h1.2V2330.5h1.2V2330h1.2V2328.5h1.2V2326.5h1.2V2325.5h1.2V2323h1.2V2324h1.2V2325h1.2V2324h1.2V2323.5h1.2V2325.5h1.2V2324h1.2V2323h1.2V2320h2.4V2321h1.2V2320.5h1.2V2324h1.2V2324.5h1.2V2325h1.2V2322.5h1.2V2320h2.4V2321.5h1.2V2324.5h2.4V2314.5h1.2V2319h1.2V2323.5h1.2V2319h1.2V2320.5h1.2V2322h1.2V2323h1.2V2328h1.2V2328.5h1.2V2328h7.2V2326h1.2V2325.5h1.2V2325h1.2V2327.5h1.2V2323.5h1.2V2324.5h1.2V2323h1.2V2319.5h1.2V2324.5h1.2V2324h1.2V2323.5h2.4V2323h2.4V2322.5h2.4V2323h1.2V2324h1.2V2327h1.2V2327.5h1.2V2328h1.2V2327.5h3.6V2327h2.4V2321h1.2V2320.5h1.2V2319.5h1.2V2321h1.2V2325h1.2V2326.5h1.2V2322.5h1.2V2326h1.2V2325h1.2V2321h1.2V2322.5h1.2V2321.5h1.2V2318h1.2V2317.5h1.2V2320h1.2V2319.5h1.2V2317.5h1.2V2318.5h1.2V2316h2.4V2318h1.2V2317.5h1.2V2318h1.2V2321h1.2V2324h1.2V2320.5h1.2V2319h1.2V2321.5h1.2V2320h1.2V2317.5h2.4V2318.5h2.4V2319.5h1.2V2322h1.2V2322.5h1.2V2325.5h1.2V2336M1328.4 2336V2327.5h1.2V2324.5h1.2V2324h1.2V2323.5h1.2V2324h1.2V2325.5h1.2V2326h1.2V2326.5h1.2V2329h1.2V2328.5h1.2V2327.5h1.2V2326h2.4V2323.5h2.4V2324h1.2V2322h3.6V2322.5h1.2V2324.5h1.2V2325h1.2V2327.5h1.2V2329h1.2V2329.5h1.2V2324h2.4V2326h1.2V2326.5h2.4V2329.5h1.2V2328.5h1.2V2323.5h1.2V2330h1.2V2329h1.2V2328.5h1.2V2325h1.2V2336M1380 2336V2326.5h1.2V2325h1.2V2324.5h1.2V2316.5h1.2V2320h2.4V2321.5h2.4V2322h3.6V2321.5h2.4V2320.5h1.2V2320h1.2V2321h1.2V2320h1.2V2321h1.2V2316.5h1.2V2318h1.2V2319h2.4V2319.5h1.2V2322h2.4V2322.5h1.2V2324.5h1.2V2326h1.2V2325.5h1.2V2325h1.2V2323.5h1.2V2322h1.2V2318h1.2V2336M1426.8 2336V2321h1.2V2324h1.2V2324.5h1.2V2322h1.2V2322.5h1.2V2323h1.2V2325.5h1.2V2326h1.2V2326.5h1.2V2323h1.2V2323.5h2.4V2322.5h1.2V2328h1.2V2326h1.2V2327h1.2V2331h1.2V2331.5h2.4V2326.5h1.2V2326h1.2V2325.5h2.4V2327h1.2V2322.5h1.2V2327.5h2.4V2324.5h1.2V2326h1.2V2325.5h2.4V2323.5h1.2V2326.5h2.4V2324.5h2.4V2324h1.2V2321.5h1.2V2327.5h1.2V2329h1.2V2328h1.2V2328.5h1.2V2328h1.2V2324h1.2V2322.5h1.2V2324.5h1.2V2336M1485.6 2336V2324.5h1.2V2325h1.2V2326h1.2V2324h1.2V2329.5h1.2V2330h1.2V2324h1.2V2330.5h1.2V2326h2.4V2323.5h1.2V2323h1.2V2325h1.2V2325.5h1.2V2326.5h1.2V2327h1.2V2327.5h1.2V2328h1.2V2326.5h1.2V2325.5h1.2V2323h2.4V2323.5h3.6V2328.5h1.2V2325h1.2V2326h1.2V2330h1.2V2329h1.2V2327.5h1.2V2322h1.2V2320h1.2V2322h1.2V2321.5h1.2V2322h1.2V2321.5h1.2V2317.5h1.2V2317h1.2V2315.5h2.4V2322h1.2V2317.5h1.2V2323.5h1.2V2324.5h1.2V2322.5h1.2V2322h1.2V2323.5h1.2V2327.5h1.2V2328h1.2V2328.5h1.2V2324.5h1.2V2324h1.2V2323.5h1.2V2325.5h1.2V2325h1.2V2324.5h1.2V2322.5h2.4V2321.5h1.2V2321h1.2V2320.5h1.2V2324.5h1.2V2324h1.2V2321.5h1.2V2321h1.2V2320h1.2V2320.5h1.2V2320h2.4V2321h1.2V2320.5h1.2V2319h1.2V2320h1.2V2321h1.2V2324.5h1.2V2325h1.2V2319h1.2V2322h1.2V2321h1.2V2322h2.4V2323.5h3.6V2319.5h1.2V2319h1.2V2319.5h1.2V2323.5h2.4V2323h1.2V2318h2.4V2322h1.2V2321h1.2V2322.5h1.2V2321h1.2V2322h1.2V2318.5h1.2V2318h1.2V2320.5h1.2V2320h1.2V2318.5h3.6V2321.5h1.2V2319.5h1.2V2320h1.2V2324.5h1.2V2320.5h1.2V2320h1.2V2319.5h2.4V2319h1.2V2313.5h1.2V2309.5h1.2V2315.5h1.2V2320.5h1.2V2321h1.2V2318h1.2V2318.5h1.2V2319.5h1.2V2336M1633.2 2336V2326.5h1.2V2327h1.2V2321h1.2V2325h2.4V2325.5h1.2V2322h1.2V2322.5h1.2V2323.5h1.2V2324h1.2V2326h1.2V2323h1.2V2327.5h1.2V2324h1.2V2327h1.2V2322h1.2V2336M1656 2336V2325.5h1.2V2328.5h2.4V2324.5h2.4V2324h1.2V2321h1.2V2320.5h1.2V2324h1.2V2320h1.2V2319.5h1.2V2324h1.2V2322.5h1.2V2324h1.2V2323.5h1.2V2322h2.4V2321.5h1.2V2321h1.2V2317.5h1.2V2322.5h1.2V2322h1.2V2324.5h1.2V2320h1.2V2321h1.2V2326.5h1.2V2327.5h1.2V2326.5h1.2V2328.5h1.2V2327h1.2V2327.5h1.2V2328.5h1.2V2329h2.4V2325.5h1.2V2331h1.2V2331.5h1.2V2327h2.4V2331h1.2V2333h3.6V2329.5h1.2V2331h3.6V2326h1.2V2331h1.2V2330h1.2V2324h1.2V2329h1.2V2328.5h1.2V2328h1.2V2323h1.2V2322h1.2V2321.5h2.4V2321h2.4V2323.5h1.2V2324h1.2V2328h1.2V2327.5h1.2V2327h1.2V2324h2.4V2323.5h1.2V2324.5h1.2V2323h1.2V2322.5h1.2V2318h2.4V2318.5h1.2V2325h1.2V2325.5h1.2V2326.5h1.2V2327h1.2V2324h2.4V2326h1.2V2325h1.2V2324.5h1.2V2336M1767.6 2336V2315.5h1.2V2336" fill="#0000b2"/><path d="M488.8 2336V2316.8M600.1 2336V2316.8M661.5 2336V2316.8M723.7 2336V2316.8M735.1 2336V2316.8M780.4 2336V2316.8M803.7 2336V2316.8M839.7 2336V2316.8M996.5 2336V2316.8M1038.5 2336V2316.8M1067.8 2336V2316.8M1220.8 2336V2316.8M1226.3 2336V2316.8M1278.8 2336V2316.8M1345 2336V2316.8M1367.7 2336V2316.8M1371.3 2336V2316.8M1548.7 2336V2316.8M1587.5 2336V2316.8M1631.8 2336V2316.8M1700.5 2336V2316.8" stroke="#c4c4ee" stroke-width="0.9" fill="none"/><rect x="405.6" y="2335.8" width="1362.55" height="0.9" fill="#4a4ad0"/><rect x="1767" y="2314.88" width="1.4" height="21.12" fill="#0000b2"/></g><g id="t6"><path d="M405.6 2370.6V2356h1.2V2352.5h1.2V2353h1.2V2357h1.2V2357.5h1.2V2353.5h3.6V2354.5h1.2V2355.5h1.2V2357.5h1.2V2361h1.2V2362h2.4V2365.5h3.6V2361.5h1.2V2360.5h1.2V2359h1.2V2358.5h1.2V2359h1.2V2362h1.2V2363h1.2V2359.5h3.6V2359h2.4V2358.5h1.2V2357.5h1.2V2359h1.2V2357.5h1.2V2361h1.2V2356.5h1.2V2362.5h2.4V2356.5h1.2V2355h1.2V2353.5h1.2V2355.5h2.4V2357h1.2V2358.5h1.2V2359h1.2V2358h1.2V2370.6M468 2370.6V2362h1.2V2362.5h1.2V2357.5h1.2V2364h1.2V2364.5h1.2V2360.5h1.2V2361.5h1.2V2362h1.2V2362.5h1.2V2361h1.2V2359h1.2V2355h1.2V2355.5h1.2V2358h1.2V2354h1.2V2355h2.4V2356h3.6V2351.5h1.2V2351h1.2V2351.5h1.2V2356.5h1.2V2357h1.2V2356h1.2V2355.5h1.2V2356h1.2V2355.5h1.2V2357h1.2V2356.5h1.2V2355h1.2V2356h1.2V2355h1.2V2354h1.2V2355.5h1.2V2354h1.2V2355h1.2V2356h2.4V2356.5h1.2V2363h1.2V2359h1.2V2360.5h1.2V2365.5h3.6V2364.5h1.2V2364h1.2V2361h1.2V2364h1.2V2359h1.2V2362h1.2V2361.5h1.2V2355.5h1.2V2354.5h1.2V2358h1.2V2354.5h1.2V2354h3.6V2353.5h2.4V2358.5h1.2V2359h1.2V2356h1.2V2360h1.2V2361h1.2V2361.5h1.2V2360.5h1.2V2360h1.2V2362h2.4V2358.5h1.2V2355.5h1.2V2360h1.2V2357.5h1.2V2362h1.2V2357h1.2V2356h1.2V2355.5h1.2V2356h1.2V2355.5h1.2V2353.5h1.2V2353h2.4V2357h2.4V2355.5h1.2V2358.5h1.2V2354.5h1.2V2353.5h2.4V2354h1.2V2354.5h1.2V2355h1.2V2354.5h1.2V2353h1.2V2351.5h1.2V2350.5h1.2V2356h1.2V2351h1.2V2351.5h1.2V2355h1.2V2355.5h1.2V2357h1.2V2354h1.2V2350.5h1.2V2352.5h1.2V2353h1.2V2354.5h1.2V2352h1.2V2352.5h1.2V2352h1.2V2354h1.2V2352.5h1.2V2348.5h1.2V2349.5h1.2V2351.5h1.2V2354.5h1.2V2357.5h1.2V2357h1.2V2356h1.2V2352h1.2V2352.5h1.2V2353.5h1.2V2357.5h1.2V2358.5h1.2V2359.5h1.2V2361h1.2V2360.5h2.4V2356.5h2.4V2355h2.4V2354.5h1.2V2355.5h1.2V2360h1.2V2355.5h1.2V2355h1.2V2354.5h1.2V2353h1.2V2352.5h1.2V2353.5h1.2V2353h1.2V2351.5h1.2V2356h2.4V2356.5h1.2V2357h1.2V2358h1.2V2358.5h1.2V2353h2.4V2356.5h2.4V2356h1.2V2354.5h1.2V2353h1.2V2353.5h1.2V2357.5h1.2V2358.5h1.2V2354h1.2V2354.5h1.2V2358h1.2V2353h1.2V2352h1.2V2358h2.4V2354h2.4V2353.5h1.2V2354h1.2V2355h1.2V2355.5h1.2V2358h1.2V2359h1.2V2360.5h1.2V2361h1.2V2363h2.4V2362.5h1.2V2362h2.4V2358.5h1.2V2360.5h1.2V2361h2.4V2364.5h1.2V2358.5h1.2V2359h1.2V2359.5h1.2V2358.5h1.2V2356.5h1.2V2355.5h1.2V2354.5h1.2V2359h2.4V2358h3.6V2354.5h1.2V2357.5h2.4V2358.5h1.2V2359h1.2V2360h1.2V2361h1.2V2363.5h1.2V2364h2.4V2363.5h2.4V2363h1.2V2357h2.4V2361.5h1.2V2358h1.2V2361h2.4V2361.5h1.2V2362.5h1.2V2363h1.2V2363.5h1.2V2360.5h1.2V2364.5h1.2V2360h1.2V2359.5h2.4V2358h1.2V2357.5h1.2V2364h1.2V2361.5h1.2V2360.5h1.2V2361h1.2V2359.5h1.2V2358.5h1.2V2358h1.2V2355.5h1.2V2349.5h1.2V2357.5h1.2V2359h1.2V2360h1.2V2359.5h1.2V2355.5h1.2V2356.5h1.2V2355.5h1.2V2355h1.2V2354.5h3.6V2352h1.2V2351.5h1.2V2355h1.2V2354.5h1.2V2353h2.4V2353.5h1.2V2354h1.2V2351.5h1.2V2352.5h1.2V2353.5h1.2V2354.5h1.2V2360h1.2V2358h1.2V2358.5h2.4V2358h1.2V2357.5h1.2V2356h1.2V2355.5h1.2V2355h1.2V2351h1.2V2357.5h1.2V2354h1.2V2355h1.2V2355.5h1.2V2354.5h2.4V2355.5h1.2V2350h1.2V2357.5h1.2V2362h1.2V2362.5h1.2V2358h1.2V2357h1.2V2359.5h1.2V2359h2.4V2358.5h1.2V2355.5h2.4V2355h1.2V2357h1.2V2355h1.2V2354.5h1.2V2355h1.2V2354h1.2V2354.5h1.2V2356.5h1.2V2358.5h1.2V2356h1.2V2355h2.4V2355.5h1.2V2357h1.2V2357.5h1.2V2358h2.4V2362.5h1.2V2363h3.6V2361.5h1.2V2359h1.2V2358.5h1.2V2358h1.2V2357h2.4V2356.5h1.2V2360.5h1.2V2360h1.2V2355.5h1.2V2358.5h1.2V2358h1.2V2357h1.2V2355.5h1.2V2354h1.2V2356h1.2V2357.5h1.2V2359h1.2V2360h1.2V2358h1.2V2355h1.2V2355.5h1.2V2356h1.2V2361.5h1.2V2361h1.2V2358h1.2V2359h2.4V2359.5h1.2V2363h1.2V2359h1.2V2358.5h1.2V2361.5h1.2V2360h1.2V2358.5h1.2V2359h1.2V2356h1.2V2357.5h1.2V2359.5h1.2V2359h1.2V2357h1.2V2356h1.2V2358.5h1.2V2359h1.2V2356h1.2V2357.5h1.2V2362.5h1.2V2363h1.2V2361h1.2V2361.5h1.2V2361h1.2V2365h1.2V2360.5h1.2V2360h2.4V2358h1.2V2357h1.2V2358.5h1.2V2356.5h1.2V2357.5h1.2V2360h1.2V2361h1.2V2366.5h1.2V2366h1.2V2365h1.2V2364h1.2V2363.5h2.4V2363h1.2V2351h1.2V2361.5h1.2V2362h1.2V2361h1.2V2363h1.2V2367.5h2.4V2364.5h1.2V2364h1.2V2363.5h1.2V2360.5h1.2V2361h1.2V2364h3.6V2364.5h1.2V2363h1.2V2364h1.2V2363.5h1.2V2362.5h1.2V2357.5h1.2V2360h1.2V2359.5h1.2V2360.5h1.2V2360h1.2V2361h2.4V2355h3.6V2357.5h2.4V2359.5h2.4V2359h1.2V2360.5h1.2V2353h1.2V2352.5h1.2V2354h1.2V2355h1.2V2357h1.2V2360.5h1.2V2360h1.2V2355.5h1.2V2360h1.2V2358.5h2.4V2358h1.2V2352h1.2V2351.5h1.2V2356.5h2.4V2357h1.2V2352h1.2V2354.5h1.2V2354h1.2V2353.5h1.2V2355h1.2V2355.5h1.2V2354h1.2V2354.5h1.2V2355h1.2V2354.5h1.2V2357h1.2V2356.5h1.2V2356h1.2V2353.5h1.2V2352.5h2.4V2354.5h1.2V2355h1.2V2353h1.2V2354.5h1.2V2357h2.4V2361h1.2V2360.5h1.2V2357h1.2V2357.5h1.2V2358.5h1.2V2361h2.4V2361.5h1.2V2360h1.2V2360.5h1.2V2362h1.2V2354.5h1.2V2358h1.2V2357h3.6V2357.5h1.2V2361h2.4V2360h1.2V2351.5h1.2V2357h1.2V2351.5h1.2V2352h1.2V2353.5h1.2V2354h1.2V2355h1.2V2360h1.2V2359.5h1.2V2354h1.2V2357.5h1.2V2358h1.2V2356.5h1.2V2361.5h2.4V2362.5h1.2V2361h1.2V2365h1.2V2365.5h1.2V2362.5h1.2V2356.5h1.2V2354.5h1.2V2356h1.2V2355.5h1.2V2354h1.2V2355h1.2V2354.5h1.2V2357h1.2V2356h1.2V2354.5h1.2V2351h1.2V2351.5h1.2V2355h1.2V2355.5h1.2V2356h1.2V2355.5h1.2V2358.5h1.2V2358h1.2V2357h1.2V2353.5h1.2V2354.5h1.2V2356h2.4V2359.5h1.2V2364h1.2V2360h1.2V2362.5h1.2V2361.5h2.4V2359.5h1.2V2353.5h2.4V2370.6M1110 2370.6V2352.5h1.2V2352h1.2V2357h1.2V2357.5h2.4V2356h1.2V2356.5h1.2V2353h2.4V2353.5h1.2V2355.5h1.2V2358.5h1.2V2359.5h1.2V2360h1.2V2357h1.2V2356.5h1.2V2356h1.2V2360h1.2V2360.5h1.2V2360h1.2V2361h1.2V2360.5h3.6V2361.5h1.2V2361h1.2V2356.5h1.2V2360h1.2V2361h1.2V2358h1.2V2357.5h2.4V2358.5h2.4V2359h2.4V2355h2.4V2357h1.2V2356.5h1.2V2356h1.2V2351.5h1.2V2357h1.2V2356.5h1.2V2357h2.4V2355h1.2V2353h1.2V2353.5h1.2V2356h1.2V2350h1.2V2357.5h1.2V2362h1.2V2363h1.2V2363.5h1.2V2360h1.2V2361h1.2V2361.5h1.2V2361h1.2V2360h1.2V2359h1.2V2363.5h1.2V2364.5h2.4V2363.5h1.2V2360.5h1.2V2357.5h1.2V2360.5h1.2V2360h1.2V2359h1.2V2358h1.2V2361h1.2V2362h1.2V2365h1.2V2364.5h1.2V2363h1.2V2361h1.2V2360h1.2V2358h1.2V2358.5h1.2V2359.5h1.2V2359h1.2V2358h1.2V2360h1.2V2358.5h1.2V2357.5h1.2V2355h1.2V2354.5h1.2V2355.5h1.2V2355h1.2V2358.5h1.2V2359h1.2V2359.5h1.2V2357.5h1.2V2354.5h2.4V2356h1.2V2359.5h1.2V2359h1.2V2349h1.2V2353.5h1.2V2358h1.2V2353.5h1.2V2355h1.2V2356.5h1.2V2357.5h1.2V2362.5h1.2V2363h1.2V2362.5h7.2V2360.5h1.2V2360h1.2V2359.5h1.2V2362h1.2V2358h1.2V2359h1.2V2357.5h1.2V2354h1.2V2359h2.4V2358h2.4V2357.5h2.4V2357h2.4V2357.5h1.2V2358.5h1.2V2361.5h1.2V2362.5h2.4V2362h3.6V2361.5h2.4V2355.5h1.2V2355h1.2V2354h1.2V2355.5h1.2V2359.5h1.2V2361h1.2V2357h1.2V2360.5h1.2V2360h1.2V2355.5h1.2V2357h1.2V2356h1.2V2353h1.2V2352.5h1.2V2354.5h1.2V2354h1.2V2352h1.2V2353.5h1.2V2350.5h2.4V2352.5h3.6V2355.5h1.2V2358.5h1.2V2355h1.2V2353.5h1.2V2356h1.2V2354.5h1.2V2352h2.4V2353h2.4V2354h1.2V2356.5h1.2V2357h1.2V2360h1.2V2370.6M1328.4 2370.6V2362.5h1.2V2359.5h1.2V2358.5h1.2V2358h1.2V2358.5h1.2V2360h1.2V2360.5h1.2V2361h1.2V2363.5h1.2V2363h1.2V2362.5h1.2V2360.5h2.4V2358h2.4V2358.5h1.2V2356.5h1.2V2357h3.6V2359h1.2V2360h1.2V2362.5h1.2V2363.5h1.2V2364h1.2V2359h1.2V2358.5h1.2V2360.5h1.2V2361h2.4V2364.5h1.2V2363h1.2V2358h1.2V2364.5h1.2V2364h1.2V2363h1.2V2359.5h1.2V2370.6M1380 2370.6V2361h1.2V2359.5h1.2V2359h1.2V2351h1.2V2354.5h2.4V2356.5h7.2V2356h1.2V2355h1.2V2354.5h1.2V2355.5h1.2V2355h1.2V2355.5h1.2V2351h1.2V2352.5h1.2V2353.5h1.2V2354h2.4V2356.5h2.4V2357.5h1.2V2359h1.2V2360.5h1.2V2360h1.2V2359.5h1.2V2358h1.2V2356.5h1.2V2353h1.2V2370.6M1426.8 2370.6V2355.5h1.2V2358.5h1.2V2359h1.2V2356.5h1.2V2357h1.2V2357.5h1.2V2360h1.2V2360.5h1.2V2361.5h1.2V2357.5h1.2V2358h1.2V2358.5h1.2V2357h1.2V2362.5h1.2V2360.5h1.2V2361.5h1.2V2366h3.6V2361h1.2V2360.5h1.2V2360h2.4V2361.5h1.2V2357h1.2V2362h2.4V2359.5h1.2V2361h1.2V2360h2.4V2358h1.2V2361h2.4V2359h1.2V2359.5h1.2V2359h1.2V2356h1.2V2362h1.2V2363.5h1.2V2362.5h1.2V2363h1.2V2362.5h1.2V2358.5h1.2V2357.5h1.2V2359h1.2V2370.6M1485.6 2370.6V2359h1.2V2359.5h1.2V2360.5h1.2V2358.5h1.2V2364.5h2.4V2359h1.2V2365.5h1.2V2360.5h2.4V2358.5h1.2V2357.5h1.2V2360h2.4V2361h1.2V2361.5h1.2V2362h1.2V2362.5h1.2V2361.5h1.2V2360h1.2V2357.5h2.4V2358.5h3.6V2363h1.2V2360h1.2V2360.5h1.2V2364.5h1.2V2363.5h1.2V2362h1.2V2356.5h1.2V2354.5h1.2V2356.5h1.2V2356h1.2V2356.5h2.4V2352h1.2V2351.5h1.2V2350.5h2.4V2356.5h1.2V2352.5h1.2V2358h1.2V2359h1.2V2357h1.2V2356.5h1.2V2358h1.2V2362.5h1.2V2363h2.4V2359.5h1.2V2358.5h1.2V2358h1.2V2360.5h1.2V2359.5h1.2V2359h1.2V2357h2.4V2356h1.2V2355.5h1.2V2355h1.2V2359h1.2V2358.5h1.2V2356h1.2V2355.5h1.2V2355h2.4V2354.5h2.4V2355.5h2.4V2353.5h1.2V2354.5h1.2V2356h1.2V2359h1.2V2359.5h1.2V2353.5h1.2V2356.5h1.2V2355.5h1.2V2356.5h2.4V2358h3.6V2354h1.2V2353.5h1.2V2354h1.2V2358.5h1.2V2358h1.2V2357.5h1.2V2353h1.2V2352.5h1.2V2356.5h1.2V2355.5h1.2V2357h1.2V2355.5h1.2V2356.5h1.2V2353h1.2V2352.5h1.2V2355h2.4V2353h3.6V2356h1.2V2354h1.2V2355h1.2V2359h1.2V2355h1.2V2354.5h1.2V2354h2.4V2353.5h1.2V2348h1.2V2344h1.2V2350h1.2V2355h1.2V2355.5h1.2V2352.5h1.2V2353h1.2V2354h1.2V2370.6M1633.2 2370.6V2361h1.2V2361.5h1.2V2355.5h1.2V2360h3.6V2356.5h1.2V2357h1.2V2358h1.2V2358.5h1.2V2360.5h1.2V2357.5h1.2V2362.5h1.2V2358.5h1.2V2361.5h1.2V2356.5h1.2V2370.6M1656 2370.6V2360h1.2V2363h2.4V2359h2.4V2358.5h1.2V2355.5h1.2V2355h1.2V2359h1.2V2354.5h1.2V2354h1.2V2358.5h1.2V2357.5h1.2V2358.5h1.2V2358h1.2V2357h1.2V2356.5h1.2V2356h1.2V2355.5h1.2V2352h1.2V2357h1.2V2356.5h1.2V2359h1.2V2354.5h1.2V2355.5h1.2V2361h1.2V2362h1.2V2361h1.2V2363h1.2V2361.5h1.2V2362h1.2V2363.5h3.6V2360h1.2V2365.5h1.2V2366h1.2V2361.5h2.4V2365.5h1.2V2367.5h3.6V2364h1.2V2365.5h3.6V2360.5h1.2V2365.5h1.2V2364.5h1.2V2358.5h1.2V2363.5h1.2V2363h2.4V2357.5h1.2V2357h1.2V2356.5h1.2V2356h1.2V2355.5h1.2V2356h1.2V2358h1.2V2358.5h1.2V2362.5h1.2V2362h2.4V2358.5h2.4V2358h1.2V2359h1.2V2357.5h1.2V2357h1.2V2352.5h1.2V2353h2.4V2359.5h1.2V2360h1.2V2361h1.2V2361.5h1.2V2359h1.2V2358.5h1.2V2360.5h1.2V2359.5h1.2V2359h1.2V2370.6M1767.6 2370.6V2350.5h1.2V2370.6" fill="#0000b2"/><path d="M488.8 2370.6V2351.4M600.1 2370.6V2351.4M661.5 2370.6V2351.4M723.7 2370.6V2351.4M735.1 2370.6V2351.4M780.4 2370.6V2351.4M803.7 2370.6V2351.4M839.7 2370.6V2351.4M996.5 2370.6V2351.4M1038.5 2370.6V2351.4M1067.8 2370.6V2351.4M1220.8 2370.6V2351.4M1226.3 2370.6V2351.4M1278.8 2370.6V2351.4M1345 2370.6V2351.4M1367.7 2370.6V2351.4M1371.3 2370.6V2351.4M1548.7 2370.6V2351.4M1587.5 2370.6V2351.4M1631.8 2370.6V2351.4M1700.5 2370.6V2351.4" stroke="#c4c4ee" stroke-width="0.9" fill="none"/><rect x="405.6" y="2370.4" width="1362.55" height="0.9" fill="#4a4ad0"/><rect x="1767" y="2349.48" width="1.4" height="21.12" fill="#0000b2"/></g><g id="t7"><path d="M405.6 2404.8V2379.5h2.4V2379h1.2V2380h2.4V2379h2.4V2379.5h4.8V2379h7.2V2379.5h4.8V2379h2.4V2379.5h2.4V2379h2.4V2379.5h7.2V2380h2.4V2379h2.4V2379.5h7.2V2379h2.4V2379.5h1.2V2404.8M468 2404.8V2379.5h3.6V2379h2.4V2379.5h3.6V2380h1.2V2379.5h2.4V2380h2.4V2379.5h2.4V2379h4.8V2379.5h1.2V2379h3.6V2379.5h3.6V2378.5h2.4V2379.5h2.4V2378.5h1.2V2379h1.2V2379.5h4.8V2379h1.2V2379.5h1.2V2379h4.8V2379.5h4.8V2380h1.2V2379.5h4.8V2379h2.4V2379.5h2.4V2380h2.4V2379.5h2.4V2380h2.4V2379.5h1.2V2379h2.4V2379.5h3.6V2379h1.2V2380h2.4V2379.5h2.4V2380h1.2V2379.5h2.4V2379h9.6V2378.5h2.4V2379h1.2V2378.5h1.2V2379.5h4.8V2379h2.4V2379.5h6V2379h2.4V2378.5h1.2V2379.5h1.2V2379h2.4V2378.5h2.4V2379.5h1.2V2379h2.4V2380h1.2V2379h3.6V2379.5h1.2V2379h8.4V2379.5h4.8V2379h1.2V2379.5h1.2V2379h1.2V2379.5h2.4V2378.5h1.2V2379h2.4V2379.5h2.4V2379h1.2V2379.5h2.4V2379h2.4V2378.5h2.4V2379h1.2V2378.5h1.2V2379.5h2.4V2379h6V2379.5h6V2380h1.2V2379h2.4V2379.5h2.4V2379h1.2V2379.5h2.4V2379h2.4V2379.5h2.4V2379h2.4V2379.5h2.4V2379h4.8V2379.5h1.2V2379h2.4V2380h2.4V2379h1.2V2379.5h3.6V2380h4.8V2379h3.6V2380h2.4V2379.5h2.4V2379h2.4V2379.5h2.4V2378.5h2.4V2379.5h2.4V2379h1.2V2379.5h2.4V2379h8.4V2379.5h2.4V2380h2.4V2379h10.8V2379.5h2.4V2379h2.4V2378.5h2.4V2379h6V2378.5h2.4V2379.5h1.2V2379h2.4V2379.5h1.2V2379h2.4V2379.5h7.2V2379h4.8V2379.5h2.4V2380h1.2V2379h3.6V2379.5h10.8V2379h7.2V2380h2.4V2379h2.4V2379.5h2.4V2379h2.4V2380h2.4V2379h2.4V2380h3.6V2379h1.2V2379.5h6V2379h4.8V2379.5h2.4V2378.5h1.2V2379.5h1.2V2379h9.6V2379.5h2.4V2379h1.2V2379.5h1.2V2379h2.4V2379.5h3.6V2379h7.2V2379.5h10.8V2379h4.8V2378.5h2.4V2379h1.2V2379.5h1.2V2379h1.2V2379.5h2.4V2379h2.4V2378.5h1.2V2379h2.4V2379.5h2.4V2379h3.6V2378.5h1.2V2379h1.2V2379.5h4.8V2379h4.8V2379.5h4.8V2380h1.2V2379.5h4.8V2379h1.2V2379.5h1.2V2379h2.4V2379.5h3.6V2379h14.4V2379.5h4.8V2379h7.2V2379.5h4.8V2378.5h2.4V2379h4.8V2379.5h9.6V2379h1.2V2379.5h2.4V2380h4.8V2379h2.4V2379.5h7.2V2379h1.2V2378.5h1.2V2379.5h6V2379h3.6V2379.5h9.6V2379h1.2V2379.5h1.2V2379h7.2V2378.5h1.2V2379h2.4V2379.5h2.4V2379h2.4V2379.5h2.4V2378.5h1.2V2379h1.2V2379.5h1.2V2379h1.2V2379.5h4.8V2379h2.4V2379.5h2.4V2379h1.2V2379.5h1.2V2379h2.4V2378.5h1.2V2379h2.4V2378.5h1.2V2379.5h2.4V2379h1.2V2378.5h4.8V2379h6V2379.5h3.6V2379h2.4V2379.5h2.4V2378.5h1.2V2379.5h4.8V2379h2.4V2379.5h4.8V2379h2.4V2379.5h3.6V2404.8M1110 2404.8V2379.5h1.2V2379h3.6V2379.5h12V2379h10.8V2379.5h8.4V2379h9.6V2379.5h8.4V2379h1.2V2379.5h4.8V2379h6V2379.5h3.6V2379h2.4V2378.5h1.2V2379.5h7.2V2380h1.2V2379.5h1.2V2379h2.4V2379.5h2.4V2380h2.4V2379h1.2V2379.5h7.2V2379h2.4V2379.5h4.8V2379h4.8V2379.5h1.2V2379h2.4V2379.5h1.2V2379h3.6V2379.5h6V2378.5h2.4V2379.5h2.4V2378.5h1.2V2379.5h3.6V2379h4.8V2378.5h2.4V2379h4.8V2378.5h2.4V2379h8.4V2379.5h4.8V2380h2.4V2379h10.8V2379.5h2.4V2379h2.4V2379.5h4.8V2379h2.4V2379.5h2.4V2380h2.4V2379.5h2.4V2379h2.4V2380h1.2V2379.5h4.8V2379h1.2V2379.5h3.6V2379h2.4V2380h2.4V2404.8M1328.4 2404.8V2379h2.4V2380h1.2V2379.5h1.2V2380h4.8V2379h4.8V2379.5h2.4V2379h1.2V2380h4.8V2379h6V2379.5h4.8V2379h6V2379.5h4.8V2404.8M1380 2404.8V2379h1.2V2379.5h3.6V2379h2.4V2379.5h2.4V2379h1.2V2379.5h2.4V2379h2.4V2379.5h4.8V2379h1.2V2379.5h1.2V2379h1.2V2379.5h1.2V2379h4.8V2378.5h1.2V2379.5h2.4V2379h2.4V2379.5h1.2V2379h2.4V2404.8M1426.8 2404.8V2379.5h1.2V2379h3.6V2379.5h1.2V2378.5h2.4V2379h6V2379.5h1.2V2379h2.4V2378.5h2.4V2379.5h1.2V2379h2.4V2379.5h2.4V2379h4.8V2379.5h2.4V2379h1.2V2379.5h1.2V2379h2.4V2379.5h1.2V2379h1.2V2379.5h1.2V2379h8.4V2379.5h2.4V2379h2.4V2404.8M1485.6 2404.8V2379.5h1.2V2379h4.8V2379.5h1.2V2379h6V2378.5h2.4V2379.5h4.8V2379h7.2V2379.5h2.4V2379h1.2V2379.5h2.4V2379h2.4V2379.5h3.6V2379h14.4V2379.5h3.6V2379h1.2V2379.5h1.2V2379h1.2V2379.5h1.2V2379h3.6V2379.5h2.4V2379h1.2V2379.5h1.2V2379h2.4V2379.5h2.4V2379h2.4V2379.5h1.2V2379h3.6V2379.5h1.2V2379h2.4V2380h1.2V2379h2.4V2379.5h4.8V2379h3.6V2379.5h2.4V2378.5h1.2V2379.5h3.6V2379h1.2V2379.5h1.2V2379h2.4V2379.5h3.6V2379h1.2V2379.5h2.4V2379h4.8V2379.5h1.2V2379h2.4V2379.5h1.2V2379h2.4V2379.5h3.6V2379h3.6V2379.5h1.2V2378.5h2.4V2379h4.8V2378.5h1.2V2404.8M1633.2 2404.8V2379.5h3.6V2378.5h1.2V2379.5h2.4V2379h6V2379.5h2.4V2379h1.2V2379.5h2.4V2404.8M1656 2404.8V2379.5h1.2V2379h3.6V2379.5h7.2V2379h2.4V2379.5h4.8V2383.5h2.4V2384h4.8V2383.5h1.2V2384h1.2V2383.5h4.8V2384h1.2V2383.5h2.4V2384h2.4V2383.5h1.2V2384h2.4V2383.5h2.4V2384h2.4V2383.5h1.2V2384h4.8V2384.5h1.2V2384h3.6V2384.5h1.2V2384h2.4V2384.5h1.2V2384h2.4V2383.5h1.2V2384h2.4V2383.5h2.4V2384.5h1.2V2384h1.2V2384.5h1.2V2384h20.4V2383.5h2.4V2384h1.2V2404.8M1767.6 2404.8V2383.5h1.2V2404.8" fill="#009628"/><path d="M488.8 2404.8V2379.8M600.1 2404.8V2379.8M661.5 2404.8V2379.8M723.7 2404.8V2379.8M735.1 2404.8V2379.8M780.4 2404.8V2379.8M803.7 2404.8V2379.8M839.7 2404.8V2379.8M996.5 2404.8V2379.8M1038.5 2404.8V2379.8M1067.8 2404.8V2379.8M1220.8 2404.8V2379.8M1226.3 2404.8V2379.8M1278.8 2404.8V2379.8M1345 2404.8V2379.8M1367.7 2404.8V2379.8M1371.3 2404.8V2379.8M1548.7 2404.8V2379.8M1587.5 2404.8V2379.8M1631.8 2404.8V2379.8M1700.5 2404.8V2379.8" stroke="#bfe8cc" stroke-width="0.9" fill="none"/><rect x="405.6" y="2404.6" width="1362.55" height="0.9" fill="#2fb45a"/><rect x="1767" y="2380.34" width="1.4" height="24.46" fill="#009628"/></g><g id="t8"><path d="M405.6 2440V2427.5h1.2V2426.5h1.2V2427h2.4V2427.5h2.4V2427h1.2V2426h2.4V2426.5h1.2V2427h2.4V2426h2.4V2427.5h2.4V2427h2.4V2426.5h1.2V2427h1.2V2427.5h1.2V2426h1.2V2426.5h4.8V2427.5h1.2V2427h1.2V2427.5h2.4V2426.5h3.6V2427h2.4V2427.5h2.4V2426.5h2.4V2427.5h1.2V2427h2.4V2426.5h1.2V2427h3.6V2440M468 2440V2427h2.4V2426h2.4V2427h1.2V2426.5h2.4V2426h3.6V2426.5h2.4V2426h1.2V2427h2.4V2427.5h1.2V2426.5h1.2V2427.5h2.4V2427h1.2V2426.5h2.4V2427h1.2V2426.5h1.2V2427.5h1.2V2427h1.2V2426.5h3.6V2426h1.2V2427.5h1.2V2427h2.4V2426.5h1.2V2427h2.4V2427.5h2.4V2427h3.6V2426.5h2.4V2427h6V2427.5h2.4V2427h2.4V2426.5h2.4V2427h3.6V2426h3.6V2426.5h2.4V2427h2.4V2426.5h2.4V2427.5h3.6V2427h1.2V2427.5h2.4V2427h1.2V2426.5h2.4V2426h2.4V2426.5h6V2427.5h2.4V2426.5h1.2V2427h4.8V2426h1.2V2427.5h1.2V2427h1.2V2426.5h4.8V2427h2.4V2426.5h1.2V2427.5h1.2V2426.5h1.2V2427h1.2V2427.5h2.4V2426.5h4.8V2427.5h2.4V2426.5h1.2V2427h1.2V2426.5h1.2V2427h1.2V2427.5h2.4V2427h2.4V2426.5h1.2V2426h1.2V2426.5h2.4V2427h1.2V2426.5h1.2V2427h2.4V2426.5h1.2V2427.5h2.4V2426.5h1.2V2427.5h3.6V2427h2.4V2426.5h1.2V2426h2.4V2427.5h1.2V2427h1.2V2426.5h2.4V2427h1.2V2427.5h2.4V2427h2.4V2426.5h1.2V2427.5h2.4V2427h2.4V2427.5h7.2V2426.5h3.6V2426h2.4V2427.5h2.4V2427h2.4V2427.5h1.2V2426h1.2V2427.5h1.2V2427h1.2V2426.5h2.4V2427h1.2V2427.5h2.4V2427h1.2V2426.5h2.4V2427h1.2V2426.5h4.8V2427.5h3.6V2426.5h1.2V2427h1.2V2427.5h2.4V2427h2.4V2427.5h1.2V2426.5h2.4V2427h3.6V2426.5h3.6V2427.5h1.2V2427h10.8V2427.5h3.6V2426.5h3.6V2427.5h2.4V2427h2.4V2426h1.2V2426.5h1.2V2427h1.2V2426.5h2.4V2427h8.4V2426.5h12V2426h2.4V2427.5h1.2V2426.5h6V2427h6V2426.5h1.2V2427.5h1.2V2427h2.4V2426.5h1.2V2427h2.4V2427.5h2.4V2426.5h1.2V2427h3.6V2426.5h1.2V2427.5h1.2V2427h1.2V2427.5h1.2V2427h6V2426.5h1.2V2427h2.4V2426.5h2.4V2426h2.4V2426.5h2.4V2427h1.2V2427.5h1.2V2427h2.4V2426.5h2.4V2426h2.4V2426.5h3.6V2426h1.2V2426.5h2.4V2427h6V2427.5h3.6V2427h4.8V2426.5h3.6V2427h3.6V2426.5h2.4V2427.5h2.4V2427h2.4V2428h2.4V2427.5h3.6V2427h4.8V2426.5h1.2V2427.5h2.4V2426.5h1.2V2427h4.8V2426.5h1.2V2427h2.4V2426.5h1.2V2427.5h1.2V2427h3.6V2426.5h3.6V2427h2.4V2427.5h1.2V2426.5h2.4V2427h1.2V2427.5h2.4V2426.5h1.2V2427.5h2.4V2427h2.4V2426.5h1.2V2427h4.8V2426.5h4.8V2427h4.8V2427.5h1.2V2427h3.6V2426h4.8V2427h2.4V2426h2.4V2426.5h1.2V2426h6V2427h4.8V2426.5h4.8V2427h2.4V2427.5h4.8V2427h3.6V2426.5h12V2426h2.4V2426.5h2.4V2427h1.2V2426h3.6V2427h1.2V2426.5h1.2V2427h1.2V2427.5h3.6V2427h1.2V2426.5h2.4V2427h1.2V2426.5h3.6V2427h1.2V2426h6V2427h1.2V2426h1.2V2427h1.2V2427.5h2.4V2427h2.4V2427.5h2.4V2427h2.4V2427.5h2.4V2427h1.2V2427.5h2.4V2427h1.2V2426.5h4.8V2427.5h1.2V2427h2.4V2426.5h1.2V2426h1.2V2426.5h1.2V2426h2.4V2427h2.4V2426h1.2V2427h2.4V2427.5h2.4V2426.5h1.2V2427h3.6V2426.5h1.2V2426h1.2V2427h1.2V2426.5h4.8V2427h4.8V2426h1.2V2426.5h2.4V2426h1.2V2427h2.4V2426h1.2V2427.5h3.6V2427h1.2V2427.5h1.2V2427h1.2V2426.5h4.8V2427h1.2V2428h2.4V2426.5h3.6V2427h3.6V2426.5h1.2V2440M1110 2440V2426.5h3.6V2427h2.4V2426h3.6V2426.5h2.4V2426h1.2V2426.5h2.4V2427h2.4V2426.5h2.4V2427h1.2V2426.5h3.6V2427h2.4V2426h1.2V2426.5h4.8V2427.5h1.2V2427h6V2426.5h3.6V2427h2.4V2427.5h1.2V2426h1.2V2427h2.4V2426.5h1.2V2427.5h2.4V2427h2.4V2426.5h1.2V2427h4.8V2427.5h2.4V2426.5h1.2V2427.5h2.4V2426h2.4V2426.5h1.2V2427.5h1.2V2426h1.2V2426.5h1.2V2427.5h1.2V2426.5h2.4V2427h1.2V2426h2.4V2427h1.2V2426h2.4V2427h2.4V2426.5h2.4V2427h1.2V2426.5h3.6V2426h1.2V2426.5h2.4V2426h1.2V2427.5h1.2V2426.5h3.6V2426h1.2V2427h1.2V2427.5h1.2V2427h1.2V2427.5h1.2V2426.5h1.2V2428h1.2V2426.5h1.2V2427h2.4V2427.5h1.2V2428h1.2V2427h4.8V2427.5h2.4V2428h2.4V2427.5h2.4V2427h3.6V2426h1.2V2426.5h4.8V2427.5h1.2V2426.5h1.2V2427h3.6V2427.5h1.2V2426.5h2.4V2427h2.4V2427.5h2.4V2427h1.2V2427.5h3.6V2427h4.8V2427.5h3.6V2426.5h3.6V2427h2.4V2426.5h2.4V2427.5h4.8V2426.5h1.2V2427h2.4V2426.5h2.4V2427.5h1.2V2428h1.2V2427h2.4V2427.5h1.2V2427h1.2V2428h1.2V2426.5h2.4V2427.5h1.2V2426.5h2.4V2427h2.4V2426.5h1.2V2428h4.8V2440M1328.4 2440V2427h1.2V2427.5h2.4V2427h1.2V2426.5h4.8V2427h1.2V2427.5h2.4V2427h1.2V2426.5h1.2V2427h2.4V2426.5h3.6V2426h2.4V2426.5h2.4V2427h1.2V2426.5h1.2V2426h4.8V2427h3.6V2427.5h1.2V2426.5h6V2440M1380 2440V2427.5h1.2V2426h1.2V2427h1.2V2426h1.2V2427h2.4V2426.5h2.4V2426h1.2V2427h1.2V2427.5h2.4V2426.5h1.2V2427.5h1.2V2427h1.2V2427.5h2.4V2427h4.8V2427.5h3.6V2426.5h2.4V2427.5h1.2V2427h1.2V2426.5h2.4V2427h1.2V2426.5h1.2V2427h1.2V2440M1426.8 2440V2426h1.2V2427h1.2V2426.5h1.2V2426h2.4V2426.5h2.4V2427h1.2V2426.5h1.2V2427h1.2V2420.5h1.2V2427h1.2V2427.5h4.8V2426h1.2V2427h1.2V2426h1.2V2426.5h1.2V2426h2.4V2427h1.2V2426.5h1.2V2427.5h2.4V2426h1.2V2426.5h1.2V2427.5h3.6V2426.5h1.2V2427h1.2V2427.5h2.4V2426.5h6V2427h7.2V2440M1485.6 2440V2426h1.2V2427h1.2V2426.5h1.2V2427h2.4V2426.5h2.4V2426h2.4V2427h1.2V2427.5h1.2V2427h2.4V2426h1.2V2427h2.4V2428h3.6V2427.5h1.2V2427h1.2V2427.5h6V2427h2.4V2426.5h2.4V2427.5h3.6V2426h2.4V2426.5h1.2V2427.5h2.4V2426.5h2.4V2427.5h1.2V2427h2.4V2426h2.4V2426.5h2.4V2417h1.2V2427h2.4V2426.5h1.2V2427h1.2V2427.5h1.2V2427h1.2V2427.5h1.2V2427h2.4V2426.5h2.4V2427.5h2.4V2426.5h1.2V2427h2.4V2426h1.2V2426.5h1.2V2426h1.2V2426.5h2.4V2426h1.2V2427h1.2V2426.5h2.4V2427.5h2.4V2427h1.2V2427.5h2.4V2426.5h2.4V2427h1.2V2427.5h1.2V2427h4.8V2426h2.4V2426.5h3.6V2427.5h1.2V2427h7.2V2426h4.8V2426.5h2.4V2427h1.2V2426.5h3.6V2427h2.4V2426h4.8V2427.5h2.4V2427h2.4V2427.5h1.2V2427h2.4V2427.5h1.2V2440M1633.2 2440V2427h2.4V2427.5h4.8V2427h1.2V2426.5h8.4V2427h2.4V2440M1656 2440V2426.5h4.8V2427h3.6V2427.5h6V2427h4.8V2429h1.2V2430h1.2V2429.5h1.2V2429h2.4V2429.5h6V2429h4.8V2429.5h2.4V2429h2.4V2429.5h2.4V2430h1.2V2429.5h2.4V2428.5h2.4V2429.5h2.4V2429h2.4V2429.5h1.2V2429h8.4V2429.5h1.2V2430h1.2V2429h1.2V2430h1.2V2429.5h2.4V2425.5h1.2V2430h3.6V2429.5h2.4V2430h1.2V2429.5h1.2V2429h2.4V2430h4.8V2429h1.2V2429.5h6V2422.5h1.2V2429.5h1.2V2429h1.2V2429.5h1.2V2440M1767.6 2440V2430h1.2V2440" fill="#009628"/><path d="M488.8 2440V2427.7M600.1 2440V2427.7M661.5 2440V2427.7M723.7 2440V2427.7M735.1 2440V2427.7M780.4 2440V2427.7M803.7 2440V2427.7M839.7 2440V2427.7M996.5 2440V2427.7M1038.5 2440V2427.7M1067.8 2440V2427.7M1220.8 2440V2427.7M1226.3 2440V2427.7M1278.8 2440V2427.7M1345 2440V2427.7M1367.7 2440V2427.7M1371.3 2440V2427.7M1548.7 2440V2427.7M1587.5 2440V2427.7M1631.8 2440V2427.7M1700.5 2440V2427.7" stroke="#bfe8cc" stroke-width="0.9" fill="none"/><rect x="405.6" y="2439.8" width="1362.55" height="0.9" fill="#2fb45a"/><rect x="1767" y="2415.36" width="1.4" height="24.64" fill="#009628"/></g><g id="t9"><path d="M405.6 2486V2472.5h1.2V2471h1.2V2469.5h1.2V2468h1.2V2470h2.4V2468h1.2V2464.5h2.4V2464h1.2V2465.5h2.4V2466.5h1.2V2467.5h1.2V2467h3.6V2469h1.2V2473.5h1.2V2475.5h1.2V2478.5h1.2V2480h1.2V2481h1.2V2480.5h1.2V2481.5h1.2V2482.5h1.2V2483h2.4V2482.5h1.2V2481h1.2V2478.5h3.6V2480h1.2V2480.5h2.4V2481h1.2V2481.5h1.2V2478.5h1.2V2471h1.2V2472.5h1.2V2476h1.2V2478.5h1.2V2482.5h1.2V2484.5h1.2V2486M468 2486V2474.5h1.2V2471.5h1.2V2468h1.2V2464.5h1.2V2462.5h1.2V2468.5h1.2V2474h1.2V2476h1.2V2475.5h1.2V2476.5h1.2V2479h1.2V2480h1.2V2478.5h2.4V2479.5h1.2V2483.5h1.2V2486h1.2V2486M490.8 2486V2484.5h1.2V2473h1.2V2472h2.4V2472.5h1.2V2477h1.2V2476.5h1.2V2477.5h1.2V2478h1.2V2477.5h1.2V2472.5h1.2V2467.5h1.2V2473.5h1.2V2477.5h1.2V2476.5h1.2V2478h1.2V2479h1.2V2477h1.2V2474.5h1.2V2474h1.2V2473h1.2V2475h1.2V2476h1.2V2478h1.2V2480h1.2V2479.5h1.2V2480h1.2V2478h1.2V2474.5h1.2V2471.5h1.2V2476.5h1.2V2479.5h1.2V2481h1.2V2481.5h2.4V2480h3.6V2479.5h3.6V2479h1.2V2478.5h2.4V2477h1.2V2473.5h1.2V2473h2.4V2479.5h1.2V2481.5h1.2V2479h1.2V2476.5h2.4V2479.5h1.2V2478.5h1.2V2476h1.2V2475h1.2V2477h2.4V2478.5h1.2V2478h2.4V2476h1.2V2478.5h1.2V2479h1.2V2479.5h1.2V2477h1.2V2472h1.2V2478h1.2V2481h1.2V2485.5h2.4V2485h1.2V2484.5h1.2V2484h1.2V2481.5h1.2V2480.5h1.2V2481.5h2.4V2482h2.4V2481.5h1.2V2481h1.2V2480.5h1.2V2481h2.4V2481.5h1.2V2481h1.2V2480.5h1.2V2479.5h1.2V2481h1.2V2481.5h2.4V2480.5h1.2V2479.5h1.2V2478.5h1.2V2479.5h1.2V2480.5h1.2V2478.5h1.2V2474.5h1.2V2473h1.2V2477h1.2V2478.5h1.2V2477h1.2V2475.5h1.2V2477.5h1.2V2478h1.2V2472h1.2V2465h1.2V2471h1.2V2475.5h1.2V2478h1.2V2477h1.2V2474h1.2V2476.5h1.2V2480.5h1.2V2481h1.2V2482h1.2V2482.5h1.2V2483h1.2V2482.5h1.2V2481h1.2V2479.5h1.2V2477.5h1.2V2476h1.2V2474h1.2V2470.5h1.2V2472h1.2V2477.5h1.2V2479h1.2V2478.5h1.2V2479.5h1.2V2482h1.2V2482.5h2.4V2483h2.4V2484h1.2V2484.5h1.2V2485.5h2.4V2486h1.2V2485.5h1.2V2484.5h1.2V2484h2.4V2482.5h1.2V2483h1.2V2482.5h1.2V2481h1.2V2480.5h1.2V2479.5h1.2V2476.5h1.2V2475h1.2V2473h1.2V2470.5h2.4V2477h1.2V2479h1.2V2477h1.2V2480.5h1.2V2481h1.2V2481.5h1.2V2482h1.2V2482.5h1.2V2483h2.4V2482h1.2V2481.5h1.2V2481h2.4V2481.5h1.2V2481h1.2V2479h1.2V2478.5h1.2V2477.5h1.2V2475.5h2.4V2472.5h1.2V2471h1.2V2468h1.2V2464.5h1.2V2465h1.2V2470h1.2V2474.5h1.2V2477.5h1.2V2479.5h1.2V2480h1.2V2480.5h1.2V2481.5h1.2V2480h2.4V2480.5h1.2V2486h1.2V2484.5h1.2V2483.5h1.2V2481.5h1.2V2479h2.4V2481h1.2V2481.5h1.2V2480h1.2V2478h1.2V2479.5h1.2V2484.5h1.2V2485h1.2V2484.5h1.2V2483.5h1.2V2482.5h1.2V2481h1.2V2479.5h1.2V2480h1.2V2482h1.2V2482.5h1.2V2483.5h1.2V2484h1.2V2484.5h1.2V2484h2.4V2483h1.2V2483.5h2.4V2482h2.4V2481h1.2V2480.5h1.2V2482h1.2V2483h1.2V2484h1.2V2484.5h1.2V2485.5h1.2V2485h1.2V2481.5h1.2V2478h1.2V2481h1.2V2482h1.2V2481h1.2V2481.5h1.2V2482h1.2V2481.5h1.2V2482h1.2V2483.5h1.2V2484h2.4V2483.5h1.2V2483h1.2V2482h1.2V2480.5h1.2V2479.5h1.2V2477.5h1.2V2473.5h1.2V2470h1.2V2467.5h1.2V2474.5h1.2V2478h1.2V2482.5h1.2V2484.5h2.4V2485.5h1.2V2486h1.2V2484.5h1.2V2484h1.2V2482.5h2.4V2481h1.2V2477.5h1.2V2480.5h1.2V2484.5h3.6V2483h1.2V2482.5h1.2V2481h1.2V2482h1.2V2481.5h1.2V2481h1.2V2479h1.2V2480.5h1.2V2480h1.2V2478.5h1.2V2478h1.2V2479.5h1.2V2481.5h1.2V2482.5h1.2V2483h1.2V2483.5h1.2V2484.5h1.2V2483h1.2V2484h2.4V2483.5h2.4V2484h1.2V2482h1.2V2481.5h1.2V2480.5h1.2V2479.5h1.2V2478.5h1.2V2478h1.2V2475h1.2V2473h1.2V2471.5h1.2V2470.5h1.2V2470h1.2V2468h1.2V2469.5h2.4V2472h1.2V2479.5h1.2V2482h1.2V2482.5h1.2V2484h2.4V2481h1.2V2477.5h1.2V2473h1.2V2467h1.2V2466h1.2V2472h1.2V2475.5h1.2V2477h1.2V2478.5h1.2V2479h1.2V2479.5h1.2V2480h1.2V2481h1.2V2480h1.2V2478h1.2V2469h1.2V2463.5h1.2V2464h1.2V2468h1.2V2472h1.2V2469h1.2V2475h1.2V2482h1.2V2483h1.2V2483.5h1.2V2484h1.2V2484.5h1.2V2486h1.2V2485.5h1.2V2484.5h3.6V2483h1.2V2482.5h1.2V2481.5h1.2V2481h2.4V2480.5h1.2V2481h1.2V2481.5h1.2V2483.5h1.2V2483h2.4V2480.5h1.2V2479h1.2V2477.5h1.2V2478h1.2V2480h1.2V2481h2.4V2481.5h1.2V2482.5h2.4V2481h1.2V2480.5h1.2V2480h2.4V2481h2.4V2480.5h1.2V2479h1.2V2476.5h1.2V2476h2.4V2474.5h1.2V2471h1.2V2468h1.2V2464h1.2V2462.5h1.2V2466.5h1.2V2473.5h1.2V2479h1.2V2481.5h1.2V2483.5h1.2V2482.5h1.2V2480h1.2V2479h1.2V2478h1.2V2477h1.2V2479h1.2V2479.5h2.4V2478.5h1.2V2479h1.2V2475.5h1.2V2475h1.2V2480.5h1.2V2481.5h1.2V2479.5h1.2V2478h1.2V2476h1.2V2475h1.2V2477h1.2V2476h1.2V2475.5h1.2V2475h1.2V2474h1.2V2479.5h1.2V2485.5h1.2V2483.5h1.2V2480.5h1.2V2478.5h1.2V2476.5h1.2V2475h1.2V2472.5h1.2V2473h1.2V2474h1.2V2479h1.2V2482h1.2V2484h1.2V2483.5h1.2V2483h1.2V2482h1.2V2479.5h1.2V2476h1.2V2473h1.2V2477h1.2V2479.5h1.2V2480h1.2V2479.5h1.2V2476h1.2V2472.5h1.2V2471h1.2V2475.5h2.4V2469.5h1.2V2462.5h1.2V2467.5h1.2V2472.5h1.2V2477.5h1.2V2475h1.2V2474h1.2V2481h1.2V2486h1.2V2483h1.2V2479.5h1.2V2476h1.2V2476.5h1.2V2480h1.2V2480.5h1.2V2479.5h1.2V2480h1.2V2479.5h1.2V2477.5h1.2V2478.5h1.2V2479.5h1.2V2481.5h2.4V2480.5h3.6V2482h2.4V2482.5h1.2V2482h2.4V2481h1.2V2480.5h1.2V2482h1.2V2482.5h2.4V2481.5h1.2V2480h1.2V2481h1.2V2482h2.4V2483.5h1.2V2484.5h6V2483h1.2V2482h2.4V2481h1.2V2478.5h1.2V2475h1.2V2473.5h1.2V2470h2.4V2478h1.2V2481h1.2V2481.5h1.2V2482.5h1.2V2483h1.2V2483.5h1.2V2483h1.2V2482.5h1.2V2483.5h1.2V2484.5h1.2V2481h1.2V2475.5h1.2V2470.5h1.2V2476h1.2V2478h1.2V2483.5h1.2V2486M1110 2486V2478.5h1.2V2479.5h2.4V2480.5h2.4V2482h1.2V2481.5h2.4V2481h1.2V2480.5h1.2V2477.5h1.2V2473.5h1.2V2474h1.2V2475h1.2V2475.5h1.2V2479h2.4V2478.5h1.2V2477h2.4V2476.5h1.2V2475.5h1.2V2473.5h1.2V2471h1.2V2468h1.2V2464.5h1.2V2465h1.2V2464.5h1.2V2468h1.2V2471.5h1.2V2476h1.2V2477.5h1.2V2480h1.2V2481.5h1.2V2482h4.8V2481.5h1.2V2481h1.2V2480h1.2V2478h1.2V2474.5h1.2V2472h1.2V2472.5h1.2V2474h1.2V2477h1.2V2482.5h1.2V2484h1.2V2482.5h1.2V2483h1.2V2481h1.2V2479h1.2V2477.5h1.2V2475.5h1.2V2475h1.2V2480h1.2V2480.5h3.6V2478h1.2V2475h1.2V2473.5h1.2V2472.5h1.2V2471.5h1.2V2470h1.2V2475.5h1.2V2482.5h1.2V2481h1.2V2478h1.2V2476h2.4V2478h1.2V2475h1.2V2473h1.2V2471.5h1.2V2467h1.2V2462.5h1.2V2467.5h1.2V2473h1.2V2476.5h1.2V2479h1.2V2481.5h2.4V2476h1.2V2475.5h1.2V2480h1.2V2483h1.2V2484.5h1.2V2484h1.2V2482h1.2V2479.5h1.2V2476.5h1.2V2474h1.2V2474.5h1.2V2476.5h1.2V2482h1.2V2483h1.2V2478.5h1.2V2471.5h1.2V2464h1.2V2466.5h1.2V2469.5h1.2V2474h1.2V2473h1.2V2467.5h1.2V2476h1.2V2482h1.2V2483h1.2V2482h1.2V2484h1.2V2482h1.2V2480h1.2V2481h2.4V2482h1.2V2481h1.2V2480h1.2V2478h1.2V2476h1.2V2476.5h1.2V2474.5h1.2V2475h1.2V2473.5h1.2V2472h1.2V2470h1.2V2470.5h1.2V2471.5h4.8V2476h1.2V2478.5h1.2V2480.5h1.2V2481.5h1.2V2482h1.2V2482.5h2.4V2483h1.2V2482.5h2.4V2482h1.2V2480.5h1.2V2476.5h1.2V2472.5h1.2V2467h1.2V2468.5h1.2V2472.5h1.2V2475.5h1.2V2478h2.4V2477.5h1.2V2479.5h1.2V2481.5h1.2V2483h1.2V2484.5h2.4V2484h1.2V2483.5h1.2V2482.5h1.2V2481h1.2V2480h1.2V2478.5h1.2V2479.5h1.2V2477.5h1.2V2476.5h1.2V2475.5h1.2V2475h2.4V2474.5h1.2V2473h1.2V2472h1.2V2475h2.4V2473.5h1.2V2471h1.2V2473h1.2V2486M1328.4 2486V2480h1.2V2476h1.2V2475.5h1.2V2476h1.2V2477.5h1.2V2479.5h1.2V2481.5h1.2V2480.5h1.2V2481.5h1.2V2481h1.2V2480h1.2V2479.5h2.4V2479h1.2V2482h1.2V2486M1352.4 2486V2485.5h1.2V2484.5h3.6V2486h1.2V2485.5h2.4V2485h1.2V2484.5h1.2V2483h1.2V2480.5h1.2V2479.5h1.2V2479h1.2V2474.5h1.2V2468.5h1.2V2473.5h1.2V2477.5h1.2V2486M1380 2486V2477h1.2V2472.5h1.2V2474.5h1.2V2479h1.2V2482h1.2V2483.5h1.2V2484.5h1.2V2484h1.2V2484.5h2.4V2482.5h2.4V2482h2.4V2481.5h1.2V2480.5h1.2V2480h1.2V2478.5h1.2V2476h1.2V2473.5h1.2V2471.5h1.2V2473h1.2V2480h1.2V2483h1.2V2483.5h1.2V2478.5h1.2V2476.5h1.2V2477h1.2V2478h1.2V2479h1.2V2473h1.2V2470.5h1.2V2486M1426.8 2486V2479.5h1.2V2479h1.2V2476.5h2.4V2478.5h1.2V2477.5h1.2V2472.5h1.2V2469.5h1.2V2470.5h1.2V2474h1.2V2478h1.2V2479.5h1.2V2480h4.8V2477.5h1.2V2471h1.2V2475h1.2V2478.5h1.2V2473h1.2V2469h1.2V2473h1.2V2476.5h1.2V2480h1.2V2478h1.2V2474h1.2V2477h1.2V2479.5h1.2V2476h1.2V2472h1.2V2466h1.2V2470h1.2V2476.5h1.2V2480.5h1.2V2481h1.2V2480h1.2V2478h1.2V2477.5h1.2V2477h1.2V2471.5h1.2V2467h1.2V2464.5h1.2V2470h1.2V2481.5h1.2V2486M1485.6 2486V2478.5h2.4V2477.5h1.2V2480h2.4V2477.5h1.2V2474.5h1.2V2468.5h1.2V2472h1.2V2479.5h1.2V2478h1.2V2476.5h1.2V2474.5h1.2V2472.5h1.2V2470h1.2V2463h1.2V2467h1.2V2473h1.2V2475.5h1.2V2475h1.2V2469.5h1.2V2466.5h1.2V2466h1.2V2469h1.2V2474h1.2V2475.5h1.2V2474.5h1.2V2470.5h1.2V2467h1.2V2467.5h1.2V2465.5h1.2V2466.5h2.4V2468h1.2V2471h1.2V2475h1.2V2476.5h1.2V2474.5h1.2V2475.5h1.2V2477.5h1.2V2474h1.2V2473h1.2V2470h1.2V2467.5h1.2V2466h1.2V2464h1.2V2468.5h1.2V2473h1.2V2474h1.2V2473.5h1.2V2477.5h1.2V2482.5h2.4V2481.5h1.2V2482.5h1.2V2483h1.2V2482.5h1.2V2483h1.2V2482h1.2V2481h2.4V2483h1.2V2482.5h1.2V2480.5h1.2V2482h1.2V2485.5h1.2V2479.5h1.2V2480h1.2V2482h1.2V2484h1.2V2485.5h1.2V2484.5h1.2V2481h1.2V2476h1.2V2469h1.2V2465h1.2V2464h1.2V2466h2.4V2465h1.2V2464h1.2V2463.5h1.2V2462.5h1.2V2467.5h1.2V2472h1.2V2475h1.2V2466h1.2V2462.5h6V2464.5h2.4V2465h2.4V2462.5h2.4V2466h1.2V2473.5h1.2V2481h1.2V2484h1.2V2485.5h1.2V2482.5h1.2V2479h1.2V2478.5h1.2V2477.5h1.2V2475h1.2V2474h1.2V2474.5h1.2V2475h1.2V2477h1.2V2476h1.2V2472h1.2V2474h1.2V2478h1.2V2478.5h2.4V2476h1.2V2472h1.2V2475.5h1.2V2479.5h1.2V2486M1633.2 2486V2482h1.2V2481.5h1.2V2483h1.2V2484h1.2V2485.5h1.2V2486h1.2V2484.5h1.2V2483h1.2V2481.5h1.2V2480h1.2V2478.5h2.4V2476h1.2V2470.5h2.4V2476.5h1.2V2486M1656 2486V2483h1.2V2468.5h1.2V2466h1.2V2468.5h1.2V2472.5h2.4V2471.5h1.2V2470.5h1.2V2469h1.2V2467h1.2V2466.5h1.2V2465.5h1.2V2467.5h2.4V2468h1.2V2476.5h1.2V2479h1.2V2481.5h1.2V2480h1.2V2480.5h1.2V2481.5h2.4V2481h2.4V2482.5h1.2V2484h1.2V2481.5h1.2V2479h1.2V2477h1.2V2474h1.2V2468.5h1.2V2465h1.2V2477h1.2V2481.5h1.2V2483.5h1.2V2484h2.4V2483.5h1.2V2477.5h1.2V2475h1.2V2474h2.4V2479h1.2V2483.5h2.4V2485.5h1.2V2486M1716 2486V2480.5h1.2V2477.5h1.2V2478.5h1.2V2482h1.2V2484h1.2V2479.5h1.2V2476h1.2V2473h1.2V2472.5h1.2V2475.5h1.2V2482.5h1.2V2481h1.2V2478h1.2V2477h1.2V2478.5h1.2V2480.5h1.2V2482.5h1.2V2479h1.2V2476h1.2V2470.5h1.2V2465h1.2V2471.5h1.2V2478.5h1.2V2480.5h3.6V2482h1.2V2480.5h1.2V2481h1.2V2483h1.2V2484.5h1.2V2485.5h1.2V2486" fill="#2e2b00"/></g><text x="401.2" y="2190.6" font-size="19.8" text-anchor="end" fill="#111">ONT WGS Methylation (All CpGs)</text><text x="401.2" y="2226.16" font-size="19.8" text-anchor="end" fill="#111">ONT RRMS Methylation (All CpGs)</text><text x="401.2" y="2261.72" font-size="19.8" text-anchor="end" fill="#111">ONT WGS Coverage (All CpGs)</text><text x="401.2" y="2297.28" font-size="19.8" text-anchor="end" fill="#111">ONT RRMS Coverage (All CpGs)</text><text x="401.2" y="2332.84" font-size="19.8" text-anchor="end" fill="#111">ONT WGS Methylation (RRMS CpGs Only)</text><text x="401.2" y="2368.4" font-size="19.8" text-anchor="end" fill="#111">ONT RRMS Methylation (RRMS CpGs Only)</text><text x="401.2" y="2403.96" font-size="19.8" text-anchor="end" fill="#111">ONT WGS Coverage (RRMS CpGs Only)</text><text x="403.5" y="2439.52" font-size="19.8" text-anchor="end" fill="#111">ONT RRMS Coverage (RRMS CpGs Only)</text><text x="400" y="2475.08" font-size="19.8" text-anchor="end" fill="#111">RRMS Regions</text><text x="17.2" y="2038.8" font-size="28.7" font-weight="bold" textLength="1473" lengthAdjust="spacingAndGlyphs">i) Whole genome view of methylation levels and read coverage for ONT RRMS (R9.4.1) vs ONT WGS (R9.4.1)</text></g>
<g id="headings"><text x="24.6" y="54.7" font-size="29.2" font-weight="bold" textLength="124.4" lengthAdjust="spacingAndGlyphs">a) HG002</text><text x="25.4" y="113.8" font-size="29.2" font-weight="bold" textLength="166.6" lengthAdjust="spacingAndGlyphs">Methylation</text><text x="26.6" y="397.3" font-size="29.2" font-weight="bold" textLength="194.4" lengthAdjust="spacingAndGlyphs">b) HG002 ONT</text><text x="26.6" y="456.4" font-size="29.2" font-weight="bold" textLength="65.8" lengthAdjust="spacingAndGlyphs">WGS</text><text x="30" y="566" font-size="29.2" font-weight="bold" textLength="191" lengthAdjust="spacingAndGlyphs">c) HG002 ONT</text><text x="30.8" y="625" font-size="29.2" font-weight="bold" textLength="79.5" lengthAdjust="spacingAndGlyphs">RRMS</text><text x="26.6" y="727.4" font-size="29.2" font-weight="bold" textLength="223.9" lengthAdjust="spacingAndGlyphs">d) RRMS regions</text><text x="29" y="786.6" font-size="29.2" font-weight="bold" textLength="710" lengthAdjust="spacingAndGlyphs">e) Read Depth for CpG Sites in RRMS Target Regions</text><text x="176" y="223" font-size="25.5" textLength="79" lengthAdjust="spacingAndGlyphs">BS-seq</text><text x="138" y="275.9" font-size="25.5" textLength="117" lengthAdjust="spacingAndGlyphs">ONT WGS</text><text x="125.6" y="329.3" font-size="25.5" textLength="129.4" lengthAdjust="spacingAndGlyphs">ONT RRMS</text></g>
<g id="frame"><rect x="0" y="0" width="1777" height="2.8" fill="#000"/><rect x="0" y="0" width="1" height="2501" fill="#9a9a9a"/><rect x="0.8" y="0" width="3.2" height="2501" fill="#000"/><rect x="1774.1" y="740" width="2.9" height="1761" fill="#000"/><rect x="0" y="2498.5" width="1777" height="2.5" fill="#000"/><rect x="275.3" y="0" width="5" height="741" fill="#000"/><rect x="0" y="341.4" width="280" height="4.5" fill="#000"/><rect x="0" y="497.3" width="280" height="3.9" fill="#000"/><rect x="0" y="693.9" width="280" height="3" fill="#000"/><rect x="0" y="737.1" width="280" height="4.7" fill="#000"/><rect x="278" y="737.2" width="1499" height="5.3" fill="#000"/><rect x="0" y="1319.2" width="1777" height="3.3" fill="#000"/><rect x="0" y="2001" width="1777" height="3.6" fill="#000"/><rect x="592.1" y="1320" width="1.9" height="683" fill="#111"/><rect x="1179.4" y="1320" width="2.2" height="683" fill="#111"/></g>
</svg>
</body>
</html>
